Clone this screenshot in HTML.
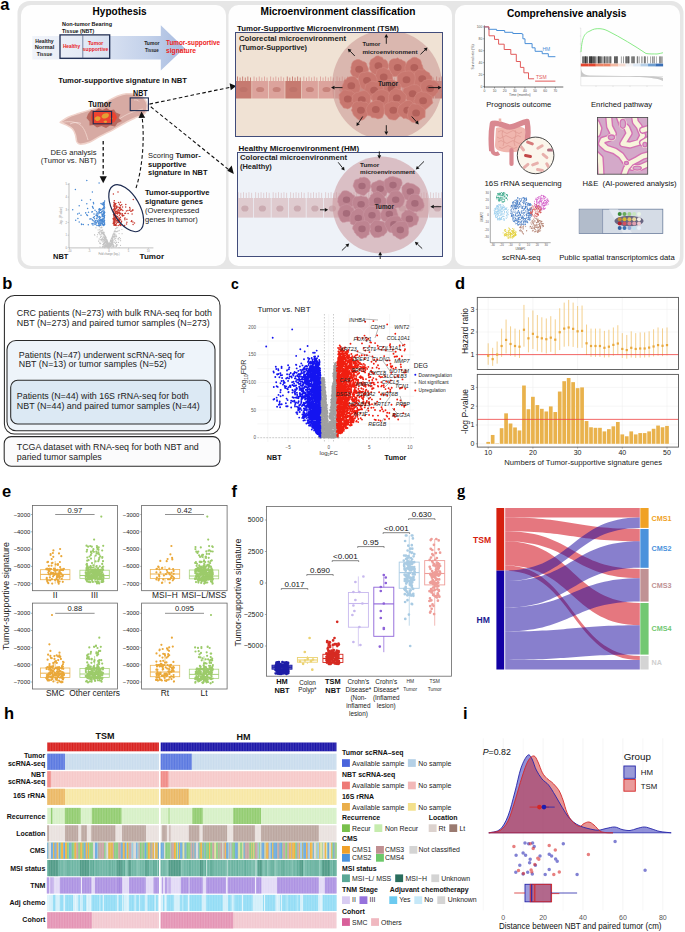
<!DOCTYPE html><html><head><meta charset="utf-8"><style>html,body{margin:0;padding:0;background:#fff;width:685px;height:932px;overflow:hidden}svg{display:block;font-family:"Liberation Sans",sans-serif}</style></head><body><svg width="685" height="932" viewBox="0 0 685 932"><rect x="0" y="0" width="685" height="932" fill="#ffffff"/>
<rect x="17.5" y="1" width="666" height="268" rx="12" fill="#e6e6e6"/>
<rect x="21" y="5" width="205" height="261" rx="10" fill="#fefefe"/>
<rect x="228.5" y="5" width="223.5" height="261" rx="10" fill="#fefefe"/>
<rect x="455" y="5" width="225" height="261" rx="10" fill="#fefefe"/>
<text x="0.30" y="9.90" font-size="16.5" font-weight="bold">a</text>
<text x="92.60" y="14.80" font-size="10" font-weight="bold" textLength="54.00" lengthAdjust="spacingAndGlyphs">Hypothesis</text>
<defs><linearGradient id="arrg" x1="32" y1="0" x2="186" y2="0" gradientUnits="userSpaceOnUse"><stop offset="0" stop-color="#f1f4fa"/><stop offset="0.35" stop-color="#e3e9f5"/><stop offset="0.75" stop-color="#c3d1ea"/><stop offset="1" stop-color="#a6badf"/></linearGradient></defs>
<path d="M32.3 36.1H160.8V25.3L184.5 48L160.8 70.6V59.5H32.3Z" fill="url(#arrg)"/>
<rect x="60" y="34.9" width="49.7" height="23.4" fill="none" stroke="#1c2a50" stroke-width="1.3"/>
<line x1="82.80" y1="34.90" x2="82.80" y2="58.30" stroke="#4a5a80" stroke-width="0.7"/>
<text x="62.00" y="25.90" font-size="6.2" font-weight="bold" fill="#111" textLength="50.00" lengthAdjust="spacingAndGlyphs">Non-tumor Bearing</text>
<text x="62.00" y="33.20" font-size="6.2" font-weight="bold" fill="#111" textLength="32.20" lengthAdjust="spacingAndGlyphs">Tissue (NBT)</text>
<text x="44.50" y="42.60" font-size="5.2" font-weight="bold" text-anchor="middle" fill="#222" textLength="18.40" lengthAdjust="spacingAndGlyphs">Healthy</text>
<text x="44.50" y="49.40" font-size="5.2" font-weight="bold" text-anchor="middle" fill="#222" textLength="19.60" lengthAdjust="spacingAndGlyphs">Normal</text>
<text x="44.50" y="56.40" font-size="5.2" font-weight="bold" text-anchor="middle" fill="#222" textLength="15.30" lengthAdjust="spacingAndGlyphs">Tissue</text>
<text x="71.50" y="48.30" font-size="5" font-weight="bold" text-anchor="middle" fill="#e8211f" textLength="17.20" lengthAdjust="spacingAndGlyphs">Healthy</text>
<text x="95.60" y="45.00" font-size="5" font-weight="bold" text-anchor="middle" fill="#e8211f" textLength="15.40" lengthAdjust="spacingAndGlyphs">Tumor</text>
<text x="95.60" y="51.00" font-size="5" font-weight="bold" text-anchor="middle" fill="#e8211f" textLength="25.50" lengthAdjust="spacingAndGlyphs">supportive</text>
<text x="151.80" y="45.00" font-size="5" font-weight="bold" text-anchor="middle" fill="#222" textLength="15.30" lengthAdjust="spacingAndGlyphs">Tumor</text>
<text x="151.80" y="52.00" font-size="5" font-weight="bold" text-anchor="middle" fill="#222" textLength="13.80" lengthAdjust="spacingAndGlyphs">Tissue</text>
<text x="166.00" y="44.90" font-size="7" font-weight="bold" fill="#ee2222" textLength="54.00" lengthAdjust="spacingAndGlyphs">Tumor-supportive</text>
<text x="166.00" y="52.60" font-size="7" font-weight="bold" fill="#ee2222" textLength="30.00" lengthAdjust="spacingAndGlyphs">signature</text>
<text x="58.30" y="82.80" font-size="7.8" font-weight="bold" fill="#111" textLength="128.70" lengthAdjust="spacingAndGlyphs">Tumor-supportive signature in NBT</text>
<path d="M60.1 122.3C61.4 121.5 65.0 118.7 68.1 117.2C71.1 115.7 74.8 114.7 78.4 113.5C82.1 112.3 86.6 111.0 90.0 109.9C93.4 108.8 95.6 108.6 98.8 107.0C102.0 105.4 105.8 102.2 109.0 100.4C112.2 98.6 114.9 97.1 117.8 96.0C120.7 94.9 123.3 94.0 126.5 93.8C129.7 93.6 133.9 93.9 136.8 94.6C139.7 95.3 142.3 96.4 144.0 98.2C145.7 100.0 147.1 103.0 147.2 105.5C147.3 108.0 146.5 111.5 144.8 113.5C143.1 115.5 140.1 115.6 136.8 117.2C133.5 118.8 128.9 120.9 125.0 123.0C121.1 125.1 117.5 127.4 113.4 129.6C109.3 131.8 104.2 134.1 100.3 136.2C96.4 138.3 93.3 140.7 90.0 142.0C86.7 143.3 82.7 144.2 80.5 144.2C78.3 144.2 77.8 143.6 76.9 142.0C76.1 140.4 76.1 136.9 75.4 134.7C74.7 132.5 74.0 130.5 72.5 128.9C71.0 127.3 68.8 126.3 66.7 125.2C64.6 124.1 61.2 122.8 60.1 122.3Z" fill="#d7aaa3" stroke="#f0d3cb" stroke-width="1.5" stroke-linejoin="round"/>
<path d="M62 122.5 C68 121 74 121.5 79 124 C84 127 86 133 88 140" stroke="#efd3cb" stroke-width="0.9" fill="none"/>
<path d="M118 120 C126 114 134 111 143 109" stroke="#efd3cb" stroke-width="0.8" fill="none"/>
<path d="M70 124 C74 122 78 122 81 123.5" stroke="#f8e6e2" stroke-width="0.6" fill="none"/>
<path d="M88 114 L91.5 110 L95 111 L98.5 108.2 L102.5 110 L106.5 108 L110 110.2 L114 109.5 L116 112.5 L120.5 114.5 L118.5 118 L122 121 L117.5 123 L115 126.5 L110 125.5 L106 128 L101.5 126 L97 127.5 L93.5 125 L89.5 125.5 L89.5 121.5 L86.5 118Z" fill="#b8695f"/>
<path d="M92 112.5 L97 110.5 L104 111.5 L110 110.5 L115 113 L117 117.5 L114.5 122 L108 124.5 L99 124.8 L92.5 123.5 L91 118Z" fill="#ee4330"/>
<path d="M94.5 119 C95 116 98.5 115.5 100 117 C101.5 118.5 99.5 121.5 96.5 121Z" fill="#e3a035"/><path d="M101.5 116.5 C102 113.5 106 112.5 108 113.5 C110 115 108.5 117.5 106 118.2 C104 119 102 118.5 101.5 116.5Z" fill="#e3a035"/><path d="M103.5 121.5 C105 120 107.5 120.5 107 122.3 C106 123.3 104 123.2 103.5 121.5Z" fill="#e3a035"/><path d="M110.5 118 C111.5 117 113 117.5 112.6 119 C112 120 110.8 119.8 110.5 118Z" fill="#e3a035"/>
<rect x="93.2" y="111.4" width="18.4" height="12.4" fill="none" stroke="#1c2a50" stroke-width="1.1"/>
<path d="M134 100 C136 99.5 138 100 139 101.5" stroke="#f6e2dc" stroke-width="0.6" fill="none"/>
<rect x="130.2" y="97.9" width="18.2" height="12.7" fill="none" stroke="#1c2a50" stroke-width="1.1"/>
<text x="99.75" y="106.70" font-size="8.5" font-weight="bold" text-anchor="middle" fill="#111" textLength="22.90" lengthAdjust="spacingAndGlyphs">Tumor</text>
<text x="140.40" y="96.20" font-size="8.5" font-weight="bold" text-anchor="middle" fill="#111" textLength="14.60" lengthAdjust="spacingAndGlyphs">NBT</text>
<line x1="103.20" y1="141.00" x2="103.20" y2="178.00" stroke="#111" stroke-width="1.3" stroke-dasharray="3.6 2.4"/>
<path d="M99.6 176.2 L103.2 183.3 L106.8 176.2Z" fill="#111"/>
<path d="M136 188 C 142 170 145 140 142 116" stroke="#111" stroke-width="1.1" fill="none" stroke-dasharray="3.6 2.4"/>
<path d="M138.5 118 L141.5 111.5 L145.2 117.7Z" fill="#111"/>
<path d="M149.4 104.1 L231.5 87" stroke="#111" stroke-width="1.1" fill="none" stroke-dasharray="3.6 2.4"/>
<path d="M150.8 106.8 L229.8 170.5" stroke="#111" stroke-width="1.1" fill="none" stroke-dasharray="3.6 2.4"/>
<path d="M236.2 86 L229.6 83.3 L230.8 90.2Z" fill="#111"/>
<path d="M233.8 174 L227.3 170.8 L231.7 165.4Z" fill="#111"/>
<text x="96.60" y="154.60" font-size="7.5" text-anchor="end" fill="#222" textLength="46.00" lengthAdjust="spacingAndGlyphs">DEG analysis</text>
<text x="96.60" y="163.20" font-size="7.5" text-anchor="end" fill="#222" textLength="55.80" lengthAdjust="spacingAndGlyphs">(Tumor vs. NBT)</text>
<text x="148" y="158.2" font-size="7.4" fill="#222" textLength="52.8" lengthAdjust="spacingAndGlyphs">Scoring <tspan font-weight="bold">Tumor-</tspan></text>
<text x="148.00" y="166.80" font-size="7.4" font-weight="bold" fill="#111" textLength="38.50" lengthAdjust="spacingAndGlyphs">supportive</text>
<text x="148.00" y="175.40" font-size="7.4" font-weight="bold" fill="#111" textLength="59.50" lengthAdjust="spacingAndGlyphs">signature in NBT</text>
<text x="145.00" y="195.00" font-size="7.3" font-weight="bold" fill="#111" textLength="64.50" lengthAdjust="spacingAndGlyphs">Tumor-supportive</text>
<text x="145.00" y="204.20" font-size="7.3" font-weight="bold" fill="#111" textLength="58.00" lengthAdjust="spacingAndGlyphs">signature genes</text>
<text x="145.00" y="213.40" font-size="7.5" fill="#222" textLength="54.30" lengthAdjust="spacingAndGlyphs">(Overexpressed</text>
<text x="145.00" y="222.00" font-size="7.5" fill="#222" textLength="52.70" lengthAdjust="spacingAndGlyphs">genes in tumor)</text>
<text x="53.10" y="259.40" font-size="8" font-weight="bold" fill="#111" textLength="15.30" lengthAdjust="spacingAndGlyphs">NBT</text>
<text x="139.60" y="259.40" font-size="8" font-weight="bold" fill="#111" textLength="24.50" lengthAdjust="spacingAndGlyphs">Tumor</text>
<line x1="69.00" y1="183.00" x2="69.00" y2="247.90" stroke="#999" stroke-width="0.6"/>
<line x1="69.00" y1="247.90" x2="153.40" y2="247.90" stroke="#999" stroke-width="0.6"/>
<line x1="67.50" y1="247.90" x2="69.00" y2="247.90" stroke="#999" stroke-width="0.4"/>
<text x="67.00" y="248.90" font-size="2.6" text-anchor="end" fill="#888">0</text>
<line x1="67.50" y1="235.20" x2="69.00" y2="235.20" stroke="#999" stroke-width="0.4"/>
<text x="67.00" y="236.20" font-size="2.6" text-anchor="end" fill="#888">1</text>
<line x1="67.50" y1="222.50" x2="69.00" y2="222.50" stroke="#999" stroke-width="0.4"/>
<text x="67.00" y="223.50" font-size="2.6" text-anchor="end" fill="#888">2</text>
<line x1="67.50" y1="209.80" x2="69.00" y2="209.80" stroke="#999" stroke-width="0.4"/>
<text x="67.00" y="210.80" font-size="2.6" text-anchor="end" fill="#888">3</text>
<line x1="67.50" y1="197.10" x2="69.00" y2="197.10" stroke="#999" stroke-width="0.4"/>
<text x="67.00" y="198.10" font-size="2.6" text-anchor="end" fill="#888">4</text>
<line x1="67.50" y1="184.40" x2="69.00" y2="184.40" stroke="#999" stroke-width="0.4"/>
<text x="67.00" y="185.40" font-size="2.6" text-anchor="end" fill="#888">5</text>
<line x1="69.50" y1="247.90" x2="69.50" y2="249.20" stroke="#999" stroke-width="0.4"/>
<text x="69.50" y="251.90" font-size="2.6" text-anchor="middle" fill="#888">-10</text>
<line x1="89.20" y1="247.90" x2="89.20" y2="249.20" stroke="#999" stroke-width="0.4"/>
<text x="89.20" y="251.90" font-size="2.6" text-anchor="middle" fill="#888">-5</text>
<line x1="108.90" y1="247.90" x2="108.90" y2="249.20" stroke="#999" stroke-width="0.4"/>
<text x="108.90" y="251.90" font-size="2.6" text-anchor="middle" fill="#888">0</text>
<line x1="128.60" y1="247.90" x2="128.60" y2="249.20" stroke="#999" stroke-width="0.4"/>
<text x="128.60" y="251.90" font-size="2.6" text-anchor="middle" fill="#888">5</text>
<line x1="148.30" y1="247.90" x2="148.30" y2="249.20" stroke="#999" stroke-width="0.4"/>
<text x="148.30" y="251.90" font-size="2.6" text-anchor="middle" fill="#888">10</text>
<text x="109.00" y="255.40" font-size="2.6" text-anchor="middle" fill="#888">Fold change (log₂)</text>
<text x="0" y="0" font-size="2.6" text-anchor="middle" transform="translate(62.00,216.00) rotate(-90)" fill="#888">-log₁₀ (P-value)</text>
<path d="M108.9 244.4h0M107.5 245.7h0M106.6 239.4h0M109.2 244.0h0M106.4 242.5h0M111.4 244.3h0M109.4 245.2h0M108.8 245.3h0M102.0 230.9h0M99.2 226.5h0M99.5 242.9h0M102.4 246.3h0M109.7 244.5h0M96.0 227.8h0M108.7 245.3h0M101.1 240.8h0M109.7 246.4h0M104.8 244.1h0M104.8 247.7h0M113.4 244.6h0M108.3 243.2h0M109.2 243.9h0M109.3 244.2h0M101.0 234.7h0M109.5 243.2h0M119.1 233.6h0M102.8 239.2h0M111.9 245.5h0M112.4 242.3h0M112.3 240.0h0M105.4 239.4h0M106.5 245.8h0M102.8 242.0h0M107.9 246.9h0M114.8 242.6h0M104.8 242.7h0M98.7 232.4h0M108.4 243.5h0M112.4 236.5h0M107.0 246.1h0M116.7 227.6h0M107.3 246.0h0M108.3 244.2h0M103.2 239.8h0M106.6 244.9h0M112.2 237.2h0M112.3 240.4h0M114.3 234.5h0M111.9 242.9h0M110.7 246.4h0M98.5 232.5h0M104.3 239.0h0M120.4 238.7h0M105.7 239.4h0M111.4 242.0h0M107.8 242.0h0M111.6 238.2h0M108.5 244.1h0M103.5 244.5h0M104.5 235.6h0M109.9 243.6h0M105.9 241.4h0M98.7 241.3h0M110.8 244.2h0M113.2 241.8h0M112.8 239.5h0M112.9 243.2h0M101.0 236.6h0M116.3 235.2h0M107.5 241.3h0M103.9 237.6h0M106.1 238.4h0M104.8 235.1h0M102.4 237.9h0M108.1 242.4h0M109.0 244.6h0M107.2 241.9h0M108.9 246.3h0M107.4 245.8h0M104.8 243.9h0M105.5 237.4h0M110.6 243.5h0M101.5 232.4h0M105.7 236.6h0M112.7 239.0h0M109.3 246.7h0M111.2 243.3h0M108.2 243.2h0M102.7 244.6h0M106.3 239.4h0M108.7 245.4h0M106.3 247.0h0M107.4 247.6h0M109.0 246.6h0M112.4 240.1h0M106.0 240.8h0M113.8 236.5h0M108.2 245.7h0M112.9 239.7h0M113.6 237.0h0M116.7 242.2h0M113.3 246.8h0M113.4 233.7h0M116.5 245.9h0M100.3 239.3h0M103.7 236.6h0M113.2 242.3h0M98.1 229.9h0M109.1 244.4h0M109.1 246.7h0M101.1 232.8h0M103.9 245.5h0M111.5 240.9h0M111.0 240.5h0M105.5 238.7h0M104.4 234.4h0M104.9 247.2h0M110.6 245.6h0M101.8 227.8h0M108.4 246.3h0M101.5 232.5h0M112.7 241.9h0M109.3 244.4h0M114.8 239.6h0M97.6 234.7h0M98.8 240.8h0M105.4 241.3h0M115.7 231.7h0M102.9 240.9h0M114.7 233.6h0M109.1 247.0h0M109.1 247.3h0M111.7 244.2h0M103.6 233.5h0M105.4 244.7h0M102.4 230.2h0M108.9 244.9h0M117.7 231.2h0M106.5 239.7h0M110.8 244.1h0M110.2 243.8h0M109.3 246.6h0M107.5 243.6h0M115.0 230.9h0M108.9 246.9h0M106.1 240.4h0M99.6 226.4h0M113.8 234.2h0M112.3 242.1h0M110.0 246.2h0M107.9 242.8h0M116.6 236.6h0M108.6 245.6h0M105.6 237.7h0M111.5 243.2h0M107.1 241.7h0M108.6 243.9h0M106.9 243.8h0M107.8 242.6h0M100.7 243.2h0M104.5 235.6h0M105.0 245.4h0M101.9 227.3h0M107.3 243.0h0M109.9 243.0h0M103.8 232.9h0M119.2 230.4h0M107.9 244.4h0M110.5 244.8h0M103.2 234.4h0M104.3 246.4h0M116.7 228.3h0M111.7 244.4h0M107.9 246.0h0M102.0 236.0h0M116.5 242.5h0M104.1 239.2h0M106.3 240.6h0M107.8 244.1h0M110.4 243.5h0M108.7 245.3h0M108.5 243.9h0M118.5 242.4h0M109.2 247.1h0M110.9 239.7h0M101.7 227.2h0M112.5 240.6h0M100.1 227.8h0M105.4 243.0h0M120.5 245.4h0M104.9 240.6h0M108.6 244.3h0M103.0 233.4h0M103.0 232.0h0M114.3 234.6h0M106.5 245.6h0M108.2 246.6h0M107.2 242.6h0M101.5 227.4h0M107.9 244.3h0M114.0 232.1h0M104.9 236.5h0M110.9 240.6h0M114.2 236.3h0M102.7 238.2h0M113.0 237.6h0M99.2 238.9h0M112.0 244.7h0M106.9 241.0h0M103.1 234.1h0M108.0 242.1h0M105.6 242.1h0M100.3 235.0h0M113.9 245.7h0M114.4 237.2h0M103.6 246.6h0M106.5 241.3h0M106.2 246.6h0M107.3 245.6h0M102.3 230.1h0M113.4 240.1h0M108.9 245.0h0M103.9 234.5h0M106.2 240.9h0M104.9 238.0h0M107.7 244.7h0M111.9 242.6h0M112.0 242.7h0M103.3 234.1h0M109.2 246.0h0M104.3 241.0h0M100.1 230.1h0M103.4 234.8h0M108.6 243.9h0M101.1 234.4h0M105.1 238.4h0M110.8 243.6h0M105.2 243.1h0M105.0 241.2h0M103.9 239.6h0M99.5 233.9h0M107.3 240.8h0M108.7 246.4h0M109.2 245.4h0M103.6 245.8h0M103.7 243.4h0M112.7 236.7h0M104.0 239.3h0M107.1 243.5h0M94.5 234.6h0M103.4 241.1h0M103.4 234.0h0M101.2 231.1h0M116.0 236.9h0M106.8 241.4h0M99.2 232.7h0M108.7 245.0h0M108.4 245.2h0M108.6 244.7h0M115.5 228.7h0M108.2 245.8h0M108.6 247.4h0M105.1 237.3h0M103.6 243.4h0M108.4 245.8h0M108.0 244.5h0M104.0 236.8h0M106.1 239.3h0M108.9 246.3h0M109.2 245.5h0M105.7 245.5h0M98.3 232.8h0M109.7 246.7h0M106.7 244.6h0M103.9 247.0h0M106.1 245.4h0M102.7 247.2h0M109.6 245.9h0M106.7 245.5h0M100.4 237.4h0M110.1 242.1h0M110.9 239.9h0M107.6 242.8h0M111.1 241.3h0M101.1 230.3h0M114.9 230.3h0M110.1 246.7h0M113.7 246.9h0M95.9 227.8h0M101.3 233.3h0M105.6 239.3h0M107.0 239.8h0M117.9 238.9h0M108.4 247.7h0M102.4 233.4h0M111.1 239.9h0M109.5 245.7h0M104.9 245.2h0M112.6 242.9h0M114.4 231.8h0M107.3 240.9h0M103.8 233.6h0M111.9 247.8h0M110.5 245.4h0M107.0 240.9h0M104.5 243.7h0M107.2 240.3h0M110.9 241.5h0M108.8 244.5h0M94.8 235.2h0M111.7 241.4h0M117.6 244.9h0M110.5 241.7h0M112.9 242.6h0M108.7 245.6h0M118.9 239.8h0M108.7 244.8h0M115.8 238.5h0M116.4 231.7h0M107.9 247.6h0M112.9 237.6h0M101.2 231.1h0M110.6 243.5h0M101.1 236.5h0M111.4 244.1h0M106.5 245.0h0M107.7 246.2h0M104.2 239.7h0M109.9 242.9h0M112.4 243.6h0M104.2 239.1h0M107.1 246.4h0M110.0 244.3h0M105.7 246.6h0M115.1 231.1h0M119.1 247.6h0M110.0 245.0h0M108.3 247.2h0M109.5 243.4h0M104.7 240.4h0M101.5 239.2h0M105.0 241.7h0M110.0 247.0h0M107.2 240.2h0M104.3 237.4h0M103.7 237.4h0M108.8 245.2h0M107.1 242.8h0M112.5 239.8h0M103.6 243.9h0M121.9 229.5h0M108.3 244.7h0M119.4 237.5h0M107.0 244.1h0M111.4 240.5h0M106.3 246.2h0M117.7 227.6h0M112.4 243.9h0M105.2 236.7h0M107.9 247.4h0M112.4 244.6h0M100.2 227.7h0M105.1 244.7h0M105.8 241.2h0M97.1 236.8h0M110.2 244.9h0M119.0 230.7h0M99.7 229.7h0M102.7 232.5h0M109.3 243.6h0M110.7 243.6h0M110.4 243.5h0M107.3 246.3h0M106.1 246.9h0M100.3 243.7h0M118.4 238.4h0M115.7 240.6h0M105.4 242.9h0M108.6 246.4h0M107.4 242.0h0M106.7 239.5h0M103.3 241.1h0M120.6 240.7h0M107.7 244.4h0M112.5 236.0h0M107.8 243.0h0M110.3 246.5h0M116.9 231.7h0M109.3 243.4h0M116.5 244.7h0M105.5 236.4h0M112.3 236.7h0M116.0 245.5h0M112.7 240.9h0M105.5 238.5h0M104.2 232.7h0M107.0 240.8h0M105.6 238.2h0M110.5 240.3h0M107.9 244.6h0M105.0 235.3h0M102.7 229.9h0M105.6 242.5h0M108.6 245.5h0M112.5 242.1h0M110.7 246.2h0M112.1 238.6h0M115.2 234.0h0M110.9 245.2h0M101.4 240.1h0M107.6 242.3h0M101.9 239.5h0M109.4 246.6h0M100.1 231.7h0M108.4 246.0h0M109.4 247.6h0M111.7 241.0h0M108.7 246.1h0M122.1 233.7h0M106.5 240.7h0M112.9 234.7h0M106.4 244.6h0M103.9 232.1h0M106.5 241.4h0M101.5 227.2h0M109.7 244.5h0M99.8 231.6h0M113.0 242.3h0M108.5 247.6h0M112.1 246.4h0M102.9 240.3h0M116.3 246.6h0M114.8 238.6h0M113.7 236.2h0M108.1 246.0h0M112.8 235.7h0M108.5 247.2h0M115.1 246.8h0M100.0 246.8h0M109.0 245.1h0M115.6 243.4h0M113.1 242.1h0M113.3 245.8h0M112.9 238.1h0M109.7 244.0h0M104.2 242.7h0M111.3 238.8h0M106.7 241.4h0M107.5 247.6h0M108.2 247.3h0M108.8 244.9h0M103.9 234.9h0M112.3 244.9h0M109.8 242.6h0M114.7 242.1h0M119.3 237.5h0M112.7 240.4h0M109.4 245.3h0M102.1 232.5h0M108.6 244.0h0M109.9 245.5h0M110.3 241.0h0M109.1 247.2h0M106.2 237.7h0M113.5 246.4h0M109.7 244.6h0M114.2 231.9h0M105.3 245.5h0M110.5 244.2h0M115.0 235.2h0M115.0 236.0h0M103.3 233.1h0M108.4 244.1h0M107.1 243.4h0M115.0 236.6h0M111.0 243.4h0M105.6 246.7h0M108.7 247.7h0M106.4 243.3h0M109.1 246.3h0" stroke="#c4c4c4" stroke-width="1.20" stroke-linecap="round" fill="none"/>
<path d="M103.0 204.1h0M96.8 215.7h0M98.9 211.2h0M99.5 216.9h0M100.4 220.9h0M104.0 207.3h0M100.7 223.1h0M102.0 214.4h0M102.3 223.6h0M99.9 223.7h0M102.3 221.9h0M102.9 221.7h0M100.6 217.2h0M93.0 223.5h0M100.4 210.2h0M104.6 201.1h0M103.5 225.4h0M104.4 217.6h0M103.9 206.1h0M104.3 213.7h0M99.9 219.2h0M103.9 206.9h0M102.0 211.8h0M98.5 223.4h0M104.3 202.9h0M104.1 202.2h0M103.7 202.5h0M102.9 214.2h0M104.7 212.6h0M92.3 219.8h0M97.0 218.2h0M102.6 208.9h0M102.5 223.6h0M103.5 216.0h0M103.4 208.3h0M104.4 223.7h0M101.2 209.4h0M103.2 220.8h0M104.2 204.5h0M97.7 212.9h0M101.7 211.8h0M104.0 207.2h0M103.1 218.6h0M97.1 221.9h0M97.6 215.3h0M93.0 224.9h0M97.6 216.8h0M100.7 224.9h0M101.8 223.5h0M88.3 224.8h0M102.2 204.3h0M103.1 216.7h0M100.0 210.2h0M101.8 220.1h0M104.6 224.5h0M102.8 208.4h0M102.1 220.1h0M102.3 211.1h0M99.6 208.8h0M97.0 216.0h0M102.4 214.3h0M103.2 205.1h0M104.6 223.0h0M98.0 214.0h0M100.6 225.0h0M93.2 220.7h0M104.4 220.7h0M104.4 224.8h0M103.5 213.3h0M96.9 220.2h0M99.5 225.5h0M102.9 216.2h0M95.3 220.6h0M97.6 221.3h0M103.0 222.6h0M103.1 208.3h0M104.2 218.7h0M98.9 209.4h0M99.0 212.8h0M83.3 224.4h0M102.3 221.5h0M100.8 212.7h0M99.9 212.6h0M94.8 224.1h0M104.4 216.9h0M99.8 209.6h0M102.4 221.2h0M102.0 216.0h0M103.8 210.8h0M99.0 216.9h0M99.7 218.4h0M101.2 212.9h0M104.4 211.7h0M102.5 216.5h0M99.3 222.2h0M96.0 215.2h0M98.5 222.1h0M104.3 220.5h0M104.2 208.5h0M104.5 220.2h0M98.4 225.4h0M102.8 221.1h0M100.9 222.4h0M99.9 224.3h0M104.6 207.7h0M99.1 209.1h0M104.1 218.9h0M101.4 220.4h0M99.3 212.0h0M94.4 222.0h0M102.4 224.2h0M103.9 203.9h0M96.2 223.8h0M102.8 219.4h0M104.3 204.9h0M101.2 222.9h0M95.3 221.9h0M99.3 216.4h0M101.0 220.1h0M104.6 215.6h0M103.9 210.9h0M103.7 208.1h0M98.6 220.0h0M95.0 221.7h0M94.4 218.8h0M101.6 220.2h0M101.2 219.5h0M103.5 212.1h0M96.0 222.5h0M104.0 225.2h0M99.1 217.5h0M101.0 203.5h0M98.7 224.1h0M103.8 208.7h0M99.2 217.3h0M94.0 213.9h0M95.0 224.5h0M104.2 221.5h0M99.1 211.4h0M103.8 214.4h0M101.4 220.9h0M96.9 225.4h0M99.9 208.9h0M81.5 224.1h0M102.2 219.3h0M94.9 224.1h0M103.0 203.0h0M104.3 221.7h0M101.9 219.7h0M104.1 209.1h0M94.4 216.8h0M96.4 214.0h0M102.2 221.8h0M104.1 215.3h0M102.3 220.0h0M104.3 206.6h0M96.5 211.8h0M99.4 212.9h0M103.8 221.7h0M102.4 215.1h0M102.8 214.2h0M99.6 220.8h0M103.5 219.0h0M102.7 222.3h0M103.7 224.6h0M103.7 216.4h0M100.5 220.4h0M100.8 225.2h0M103.9 205.4h0M102.5 224.8h0M75.7 220.3h0M87.5 215.5h0M93.3 208.2h0M79.2 205.7h0M81.6 224.6h0M91.8 212.0h0M81.0 215.2h0M86.8 203.7h0M96.5 218.2h0M90.5 199.8h0M91.9 223.8h0M87.6 208.5h0M93.6 203.7h0M92.6 207.2h0M93.4 202.6h0M92.5 206.5h0M77.9 218.6h0M95.0 210.2h0M85.7 212.9h0M79.2 213.3h0M85.7 212.7h0M86.7 214.7h0M93.4 217.5h0M91.0 218.7h0M79.2 222.1h0M92.4 211.7h0M89.9 218.9h0M88.5 212.3h0M81.7 200.3h0M77.6 214.1h0M72.7 209.8h0M75.4 189.5h0M86.8 180.6h0M99.1 183.1h0M92.4 192.0h0" stroke="#4a8ad4" stroke-width="1.50" stroke-linecap="round" fill="none"/>
<path d="M113.9 219.7h0M114.6 208.3h0M116.7 216.3h0M120.7 224.3h0M115.9 203.4h0M113.5 214.5h0M113.1 218.5h0M116.0 224.4h0M118.8 210.3h0M118.5 202.4h0M114.0 204.3h0M120.4 217.5h0M120.3 207.2h0M114.0 218.9h0M119.3 207.5h0M114.3 223.7h0M113.6 211.8h0M114.1 217.8h0M114.8 203.6h0M120.2 217.2h0M118.9 220.3h0M113.9 209.7h0M119.6 213.6h0M114.8 220.9h0M113.6 206.1h0M113.3 218.7h0M116.3 218.2h0M114.2 206.5h0M124.9 219.7h0M116.8 216.2h0M120.1 225.2h0M116.2 206.4h0M114.8 208.5h0M117.6 212.4h0M113.6 217.9h0M119.7 224.2h0M113.7 218.5h0M115.7 211.5h0M117.3 220.6h0M119.4 208.2h0M119.4 204.2h0M114.9 204.4h0M126.9 222.3h0M116.8 211.3h0M117.7 216.8h0M115.1 205.1h0M114.7 204.5h0M119.5 220.2h0M115.1 204.8h0M120.0 219.7h0M116.7 205.9h0M114.4 217.5h0M121.2 209.7h0M116.7 207.9h0M121.6 221.2h0M118.1 221.8h0M115.5 216.7h0M114.9 204.6h0M114.9 208.2h0M117.4 213.9h0M114.7 206.0h0M113.8 220.0h0M116.8 213.0h0M116.6 220.9h0M113.7 219.8h0M114.2 212.9h0M113.3 218.7h0M119.0 213.2h0M118.6 219.6h0M123.8 215.4h0M118.1 212.1h0M114.5 214.3h0M116.1 225.5h0M114.3 221.6h0M114.8 225.1h0M118.5 220.4h0M114.1 204.6h0M118.2 225.5h0M121.1 222.4h0M113.8 223.2h0M120.7 213.2h0M117.0 211.3h0M113.6 219.9h0M113.1 209.8h0M126.5 224.0h0M113.8 225.0h0M114.7 207.0h0M117.4 213.2h0M124.6 225.5h0M114.9 209.3h0M115.7 212.3h0M115.9 211.7h0M114.3 200.7h0M113.5 211.9h0M113.6 214.8h0M115.0 225.2h0M114.4 204.7h0M114.2 213.8h0M125.0 218.0h0M122.7 215.3h0M115.0 209.7h0M120.5 219.8h0M115.5 203.7h0M118.3 212.5h0M116.4 213.3h0M114.7 220.3h0M115.8 216.0h0M114.5 206.3h0M117.9 219.2h0M113.9 202.5h0M113.9 212.8h0M120.2 208.7h0M117.5 222.2h0M118.8 222.6h0M120.9 225.5h0M113.2 218.5h0M113.4 222.0h0M114.2 215.0h0M115.7 224.6h0M113.9 220.4h0M114.9 219.3h0M118.2 221.6h0M116.0 208.7h0M114.1 211.3h0M113.4 194.1h0M113.8 220.2h0M115.0 218.3h0M113.2 223.5h0M116.1 217.4h0M118.1 217.8h0M119.3 207.6h0M114.1 208.3h0M119.3 215.3h0M115.3 214.7h0M124.8 218.2h0M120.5 214.0h0M114.7 207.2h0M121.7 209.3h0M122.5 216.1h0M114.1 224.9h0M113.3 219.7h0M117.9 206.9h0M116.5 207.6h0M114.9 222.3h0M119.5 218.6h0M115.3 221.9h0M117.9 209.9h0M114.7 222.8h0M118.4 209.7h0M119.4 212.1h0M120.1 210.3h0M114.1 216.7h0M114.5 225.2h0M116.0 219.9h0M116.5 223.2h0M114.5 224.2h0M115.7 219.5h0M115.3 205.0h0M114.3 221.6h0M115.0 215.3h0M114.8 218.9h0M115.3 215.1h0M116.9 213.6h0M114.9 210.3h0M133.1 224.6h0M114.4 202.9h0M117.6 219.5h0M113.7 215.7h0M121.0 222.5h0M115.1 213.5h0M131.3 221.6h0M126.4 210.9h0M121.9 215.1h0M128.1 213.4h0M132.9 210.2h0M121.7 204.8h0M127.9 210.6h0M122.3 213.7h0M130.1 208.9h0M131.7 220.8h0M132.1 214.1h0M129.7 207.6h0M125.8 204.5h0M132.8 209.7h0M125.5 213.2h0M122.5 206.9h0M132.9 222.0h0M130.8 211.2h0M120.5 202.2h0M126.9 219.2h0M120.4 205.5h0M124.9 213.4h0M122.8 210.6h0M125.7 207.0h0M129.6 210.3h0M118.0 192.0h0M133.3 199.6h0M131.8 211.1h0M134.5 223.1h0" stroke="#c8382e" stroke-width="1.50" stroke-linecap="round" fill="none"/>
<ellipse cx="126.2" cy="208.2" rx="13.4" ry="26" transform="rotate(-30 126.2 208.2)" fill="none" stroke="#1c2a50" stroke-width="1.2"/>
<text x="260.50" y="15.00" font-size="10" font-weight="bold" textLength="155.00" lengthAdjust="spacingAndGlyphs">Microenvironment classification</text>
<text x="237.00" y="30.60" font-size="7.2" font-weight="bold" fill="#111" textLength="162.00" lengthAdjust="spacingAndGlyphs">Tumor-Supportive Microenvironment (TSM)</text>
<clipPath id="tsmclip"><rect x="235.5" y="32.5" width="207" height="104"/></clipPath>
<rect x="235.50" y="32.50" width="207.00" height="104.00" fill="#f0e2d4"/>
<g clip-path="url(#tsmclip)">
<rect x="235.50" y="81.00" width="16.00" height="17.50" fill="#c67a70"/>
<ellipse cx="243.5" cy="89.5" rx="4" ry="2.6" fill="#b96e66" opacity="0.6"/>
<rect x="237.00" y="76.50" width="0.90" height="4.50" fill="#c67a70"/>
<rect x="239.60" y="77.50" width="0.90" height="4.50" fill="#c67a70"/>
<rect x="242.20" y="76.50" width="0.90" height="4.50" fill="#c67a70"/>
<rect x="244.80" y="77.50" width="0.90" height="4.50" fill="#c67a70"/>
<rect x="247.40" y="76.50" width="0.90" height="4.50" fill="#c67a70"/>
<rect x="250.00" y="77.50" width="0.90" height="4.50" fill="#c67a70"/>
<rect x="252.10" y="81.00" width="16.00" height="17.50" fill="#dca39c"/>
<ellipse cx="260.1" cy="89.5" rx="4" ry="2.6" fill="#b96e66" opacity="0.6"/>
<rect x="253.60" y="76.50" width="0.90" height="4.50" fill="#dca39c"/>
<rect x="256.20" y="77.50" width="0.90" height="4.50" fill="#dca39c"/>
<rect x="258.80" y="76.50" width="0.90" height="4.50" fill="#dca39c"/>
<rect x="261.40" y="77.50" width="0.90" height="4.50" fill="#dca39c"/>
<rect x="264.00" y="76.50" width="0.90" height="4.50" fill="#dca39c"/>
<rect x="266.60" y="77.50" width="0.90" height="4.50" fill="#dca39c"/>
<rect x="268.70" y="81.00" width="16.00" height="17.50" fill="#dca39c"/>
<ellipse cx="276.7" cy="89.5" rx="4" ry="2.6" fill="#b96e66" opacity="0.6"/>
<rect x="270.20" y="76.50" width="0.90" height="4.50" fill="#dca39c"/>
<rect x="272.80" y="77.50" width="0.90" height="4.50" fill="#dca39c"/>
<rect x="275.40" y="76.50" width="0.90" height="4.50" fill="#dca39c"/>
<rect x="278.00" y="77.50" width="0.90" height="4.50" fill="#dca39c"/>
<rect x="280.60" y="76.50" width="0.90" height="4.50" fill="#dca39c"/>
<rect x="283.20" y="77.50" width="0.90" height="4.50" fill="#dca39c"/>
<rect x="285.30" y="81.00" width="16.00" height="17.50" fill="#c67a70"/>
<ellipse cx="293.3" cy="89.5" rx="4" ry="2.6" fill="#b96e66" opacity="0.6"/>
<rect x="286.80" y="76.50" width="0.90" height="4.50" fill="#c67a70"/>
<rect x="289.40" y="77.50" width="0.90" height="4.50" fill="#c67a70"/>
<rect x="292.00" y="76.50" width="0.90" height="4.50" fill="#c67a70"/>
<rect x="294.60" y="77.50" width="0.90" height="4.50" fill="#c67a70"/>
<rect x="297.20" y="76.50" width="0.90" height="4.50" fill="#c67a70"/>
<rect x="299.80" y="77.50" width="0.90" height="4.50" fill="#c67a70"/>
<rect x="301.90" y="81.00" width="16.00" height="17.50" fill="#dca39c"/>
<ellipse cx="309.9" cy="89.5" rx="4" ry="2.6" fill="#b96e66" opacity="0.6"/>
<rect x="303.40" y="76.50" width="0.90" height="4.50" fill="#dca39c"/>
<rect x="306.00" y="77.50" width="0.90" height="4.50" fill="#dca39c"/>
<rect x="308.60" y="76.50" width="0.90" height="4.50" fill="#dca39c"/>
<rect x="311.20" y="77.50" width="0.90" height="4.50" fill="#dca39c"/>
<rect x="313.80" y="76.50" width="0.90" height="4.50" fill="#dca39c"/>
<rect x="316.40" y="77.50" width="0.90" height="4.50" fill="#dca39c"/>
<rect x="318.50" y="81.00" width="16.00" height="17.50" fill="#dca39c"/>
<ellipse cx="326.5" cy="89.5" rx="4" ry="2.6" fill="#b96e66" opacity="0.6"/>
<rect x="320.00" y="76.50" width="0.90" height="4.50" fill="#dca39c"/>
<rect x="322.60" y="77.50" width="0.90" height="4.50" fill="#dca39c"/>
<rect x="325.20" y="76.50" width="0.90" height="4.50" fill="#dca39c"/>
<rect x="327.80" y="77.50" width="0.90" height="4.50" fill="#dca39c"/>
<rect x="330.40" y="76.50" width="0.90" height="4.50" fill="#dca39c"/>
<rect x="333.00" y="77.50" width="0.90" height="4.50" fill="#dca39c"/>
<rect x="335.10" y="81.00" width="16.00" height="17.50" fill="#dca39c"/>
<ellipse cx="343.1" cy="89.5" rx="4" ry="2.6" fill="#b96e66" opacity="0.6"/>
<rect x="336.60" y="76.50" width="0.90" height="4.50" fill="#dca39c"/>
<rect x="339.20" y="77.50" width="0.90" height="4.50" fill="#dca39c"/>
<rect x="341.80" y="76.50" width="0.90" height="4.50" fill="#dca39c"/>
<rect x="344.40" y="77.50" width="0.90" height="4.50" fill="#dca39c"/>
<rect x="347.00" y="76.50" width="0.90" height="4.50" fill="#dca39c"/>
<rect x="349.60" y="77.50" width="0.90" height="4.50" fill="#dca39c"/>
<rect x="351.70" y="81.00" width="16.00" height="17.50" fill="#d49690"/>
<ellipse cx="359.7" cy="89.5" rx="4" ry="2.6" fill="#b96e66" opacity="0.6"/>
<rect x="353.20" y="76.50" width="0.90" height="4.50" fill="#d49690"/>
<rect x="355.80" y="77.50" width="0.90" height="4.50" fill="#d49690"/>
<rect x="358.40" y="76.50" width="0.90" height="4.50" fill="#d49690"/>
<rect x="361.00" y="77.50" width="0.90" height="4.50" fill="#d49690"/>
<rect x="363.60" y="76.50" width="0.90" height="4.50" fill="#d49690"/>
<rect x="366.20" y="77.50" width="0.90" height="4.50" fill="#d49690"/>
<rect x="368.30" y="81.00" width="16.00" height="17.50" fill="#c67a70"/>
<ellipse cx="376.3" cy="89.5" rx="4" ry="2.6" fill="#b96e66" opacity="0.6"/>
<rect x="369.80" y="76.50" width="0.90" height="4.50" fill="#c67a70"/>
<rect x="372.40" y="77.50" width="0.90" height="4.50" fill="#c67a70"/>
<rect x="375.00" y="76.50" width="0.90" height="4.50" fill="#c67a70"/>
<rect x="377.60" y="77.50" width="0.90" height="4.50" fill="#c67a70"/>
<rect x="380.20" y="76.50" width="0.90" height="4.50" fill="#c67a70"/>
<rect x="382.80" y="77.50" width="0.90" height="4.50" fill="#c67a70"/>
<rect x="384.90" y="81.00" width="16.00" height="17.50" fill="#dca39c"/>
<ellipse cx="392.9" cy="89.5" rx="4" ry="2.6" fill="#b96e66" opacity="0.6"/>
<rect x="386.40" y="76.50" width="0.90" height="4.50" fill="#dca39c"/>
<rect x="389.00" y="77.50" width="0.90" height="4.50" fill="#dca39c"/>
<rect x="391.60" y="76.50" width="0.90" height="4.50" fill="#dca39c"/>
<rect x="394.20" y="77.50" width="0.90" height="4.50" fill="#dca39c"/>
<rect x="396.80" y="76.50" width="0.90" height="4.50" fill="#dca39c"/>
<rect x="399.40" y="77.50" width="0.90" height="4.50" fill="#dca39c"/>
<rect x="401.50" y="81.00" width="16.00" height="17.50" fill="#d49690"/>
<ellipse cx="409.5" cy="89.5" rx="4" ry="2.6" fill="#b96e66" opacity="0.6"/>
<rect x="403.00" y="76.50" width="0.90" height="4.50" fill="#d49690"/>
<rect x="405.60" y="77.50" width="0.90" height="4.50" fill="#d49690"/>
<rect x="408.20" y="76.50" width="0.90" height="4.50" fill="#d49690"/>
<rect x="410.80" y="77.50" width="0.90" height="4.50" fill="#d49690"/>
<rect x="413.40" y="76.50" width="0.90" height="4.50" fill="#d49690"/>
<rect x="416.00" y="77.50" width="0.90" height="4.50" fill="#d49690"/>
<rect x="418.10" y="81.00" width="16.00" height="17.50" fill="#c67a70"/>
<ellipse cx="426.1" cy="89.5" rx="4" ry="2.6" fill="#b96e66" opacity="0.6"/>
<rect x="419.60" y="76.50" width="0.90" height="4.50" fill="#c67a70"/>
<rect x="422.20" y="77.50" width="0.90" height="4.50" fill="#c67a70"/>
<rect x="424.80" y="76.50" width="0.90" height="4.50" fill="#c67a70"/>
<rect x="427.40" y="77.50" width="0.90" height="4.50" fill="#c67a70"/>
<rect x="430.00" y="76.50" width="0.90" height="4.50" fill="#c67a70"/>
<rect x="432.60" y="77.50" width="0.90" height="4.50" fill="#c67a70"/>
<rect x="434.70" y="81.00" width="16.00" height="17.50" fill="#c67a70"/>
<ellipse cx="442.7" cy="89.5" rx="4" ry="2.6" fill="#b96e66" opacity="0.6"/>
<rect x="436.20" y="76.50" width="0.90" height="4.50" fill="#c67a70"/>
<rect x="438.80" y="77.50" width="0.90" height="4.50" fill="#c67a70"/>
<rect x="441.40" y="76.50" width="0.90" height="4.50" fill="#c67a70"/>
<rect x="444.00" y="77.50" width="0.90" height="4.50" fill="#c67a70"/>
<rect x="446.60" y="76.50" width="0.90" height="4.50" fill="#c67a70"/>
<rect x="449.20" y="77.50" width="0.90" height="4.50" fill="#c67a70"/>
<circle cx="387" cy="85" r="55" fill="#c8948f" fill-opacity="0.55"/>
<polygon points="368.6,69.2 368.2,71.2 368.3,73.6 366.9,75.3 364.9,76.3 363.2,77.5 361.2,77.9 359.2,78.3 357.2,78.2 355.1,77.7 353.1,76.8 351.9,75.0 350.9,73.2 350.4,71.2 351.1,69.2 350.9,67.3 351.5,65.5 351.9,63.4 353.0,61.4 354.9,60.3 357.0,59.5 359.2,59.6 361.2,60.6 362.9,61.4 364.9,62.1 366.5,63.4 367.0,65.5 367.8,67.2" fill="#c8776f" stroke="#d48a82" stroke-width="0.6"/>
<ellipse cx="359.2" cy="69.2" rx="3.9" ry="3.5" fill="#b2605a"/>
<polygon points="388.7,65.7 388.3,68.0 387.0,69.8 385.8,71.6 383.9,72.6 382.4,74.0 380.3,73.9 378.4,74.7 376.2,75.1 374.3,74.1 372.2,73.5 371.2,71.4 369.9,69.8 369.4,67.8 369.8,65.7 369.3,63.6 370.1,61.7 370.8,59.7 372.8,58.6 374.4,57.4 376.2,56.1 378.4,55.8 380.4,56.8 382.4,57.4 383.5,59.4 385.7,59.8 387.2,61.5 387.9,63.5" fill="#c8776f" stroke="#d48a82" stroke-width="0.6"/>
<ellipse cx="378.4" cy="65.7" rx="3.9" ry="3.5" fill="#b2605a"/>
<polygon points="407.3,67.4 407.2,69.6 405.7,71.2 404.8,73.0 403.3,74.4 401.5,75.3 399.6,75.9 397.7,76.1 395.6,76.4 393.3,76.6 391.9,74.6 390.9,72.8 389.9,71.1 389.2,69.3 388.9,67.4 388.6,65.3 389.0,63.2 389.7,61.1 391.3,59.4 393.5,58.7 395.7,58.7 397.7,57.8 399.6,59.2 401.5,59.5 403.0,60.8 405.1,61.5 405.9,63.5 407.1,65.3" fill="#c8776f" stroke="#d48a82" stroke-width="0.6"/>
<ellipse cx="397.7" cy="67.4" rx="3.9" ry="3.5" fill="#b2605a"/>
<polygon points="422.9,67.4 423.9,69.6 423.1,71.7 422.1,73.6 420.1,74.7 418.2,75.4 416.4,76.6 414.3,76.4 412.3,76.1 410.2,76.0 408.5,74.7 407.1,73.1 405.4,71.7 405.1,69.5 404.9,67.4 405.5,65.4 406.3,63.6 407.1,61.7 408.6,60.2 410.4,59.3 412.1,57.8 414.3,57.2 416.5,57.6 418.5,58.8 420.3,59.8 421.2,61.9 421.6,63.9 422.5,65.5" fill="#c8776f" stroke="#d48a82" stroke-width="0.6"/>
<ellipse cx="414.3" cy="67.4" rx="3.9" ry="3.5" fill="#b2605a"/>
<polygon points="432.1,78.8 431.5,80.9 430.7,82.9 429.2,84.4 427.4,85.4 425.7,86.1 424.0,86.7 422.2,88.0 420.2,87.7 418.0,87.5 415.8,86.9 414.6,84.9 413.5,83.0 413.2,80.9 412.9,78.8 414.3,77.0 414.3,75.0 414.5,72.7 416.3,71.3 417.7,69.5 420.1,69.8 422.2,70.0 424.3,69.5 425.9,71.0 427.6,72.0 429.5,73.0 430.1,75.0 432.0,76.6" fill="#c8776f" stroke="#d48a82" stroke-width="0.6"/>
<ellipse cx="422.2" cy="78.8" rx="3.9" ry="3.5" fill="#b2605a"/>
<polygon points="415.0,79.7 414.6,81.6 414.2,83.4 413.8,85.5 412.5,87.2 410.9,88.9 408.5,88.6 406.5,88.5 404.6,88.1 402.7,87.7 400.9,86.7 399.6,85.2 398.1,83.7 397.1,81.9 397.4,79.7 397.3,77.6 397.4,75.3 399.5,74.1 400.6,72.4 402.8,71.9 404.6,71.5 406.5,71.3 408.5,70.9 410.6,71.2 412.5,72.1 413.9,73.8 414.9,75.7 415.2,77.7" fill="#c8776f" stroke="#d48a82" stroke-width="0.6"/>
<ellipse cx="406.5" cy="79.7" rx="3.9" ry="3.5" fill="#b2605a"/>
<polygon points="392.5,77.1 392.9,79.2 393.0,81.6 390.7,82.7 389.6,84.5 387.5,85.1 385.7,85.8 383.7,85.6 381.7,85.7 379.7,85.5 377.4,85.0 376.2,83.0 375.5,81.1 375.2,79.0 374.2,77.1 375.4,75.2 376.3,73.6 376.7,71.5 377.7,69.6 379.5,68.4 381.6,68.0 383.7,67.5 385.7,68.2 387.4,69.5 389.5,69.8 390.4,71.7 391.2,73.5 393.0,75.0" fill="#c8776f" stroke="#d48a82" stroke-width="0.6"/>
<ellipse cx="383.7" cy="77.1" rx="3.9" ry="3.5" fill="#b2605a"/>
<polygon points="377.1,80.6 376.3,82.7 374.7,84.3 373.5,85.7 372.5,87.5 371.0,88.8 369.2,90.2 367.0,90.9 364.7,90.6 362.9,89.1 361.2,87.9 360.4,85.9 359.2,84.4 359.1,82.4 358.6,80.6 358.4,78.6 358.6,76.6 359.6,74.7 360.8,72.8 363.2,72.6 365.1,72.3 367.0,71.7 369.0,71.9 370.9,72.4 372.9,73.2 374.6,74.6 375.8,76.4 376.8,78.4" fill="#c8776f" stroke="#d48a82" stroke-width="0.6"/>
<ellipse cx="367.0" cy="80.6" rx="3.9" ry="3.5" fill="#b2605a"/>
<polygon points="438.9,88.4 438.5,90.3 438.2,92.3 436.6,93.5 435.6,95.3 433.9,96.4 432.2,97.6 430.1,98.6 427.9,98.1 426.0,96.9 424.6,95.3 422.9,94.1 422.1,92.2 421.7,90.3 420.6,88.4 420.7,86.3 420.8,83.9 422.3,82.2 423.8,80.5 426.1,80.0 428.1,79.5 430.1,79.3 431.9,80.4 434.0,80.4 436.0,81.0 437.2,82.8 439.2,84.0 439.8,86.2" fill="#c8776f" stroke="#d48a82" stroke-width="0.6"/>
<ellipse cx="430.1" cy="88.4" rx="3.9" ry="3.5" fill="#b2605a"/>
<polygon points="360.8,85.8 360.2,87.8 359.9,89.9 359.3,92.2 357.3,93.3 355.6,94.6 353.3,94.5 351.3,94.3 349.4,94.0 347.6,93.4 345.7,92.9 344.2,91.4 342.2,90.2 341.2,88.1 342.3,85.8 343.0,83.9 343.9,82.3 344.1,80.1 346.2,79.4 347.3,77.5 349.3,76.9 351.3,76.5 353.4,76.6 355.6,76.9 356.7,79.0 358.6,80.0 359.2,82.0 359.4,83.9" fill="#c8776f" stroke="#d48a82" stroke-width="0.6"/>
<ellipse cx="351.3" cy="85.8" rx="3.9" ry="3.5" fill="#b2605a"/>
<polygon points="382.8,90.2 382.8,92.2 382.0,94.0 380.8,95.5 379.6,97.1 378.2,98.7 376.4,100.2 374.1,100.0 371.9,99.9 370.0,98.6 368.5,97.2 367.3,95.6 366.0,94.1 365.4,92.2 364.5,90.2 365.1,88.1 365.5,86.1 366.2,83.9 368.4,83.0 370.0,81.7 372.0,81.2 374.1,81.4 376.0,82.1 378.2,81.6 380.2,82.6 381.5,84.3 383.3,85.8 383.3,88.1" fill="#c8776f" stroke="#d48a82" stroke-width="0.6"/>
<ellipse cx="374.1" cy="90.2" rx="3.9" ry="3.5" fill="#b2605a"/>
<polygon points="400.7,88.4 400.2,90.4 399.5,92.2 398.6,94.0 397.2,95.5 395.2,95.8 393.5,96.7 391.6,98.0 389.5,97.7 387.4,97.1 385.4,96.2 384.0,94.5 383.1,92.5 382.8,90.4 383.5,88.4 383.3,86.5 383.1,84.3 383.6,82.0 385.9,81.2 387.4,79.7 389.6,79.5 391.6,79.6 393.5,80.2 395.2,80.9 396.9,81.7 398.4,83.0 400.3,84.2 401.0,86.2" fill="#c8776f" stroke="#d48a82" stroke-width="0.6"/>
<ellipse cx="391.6" cy="88.4" rx="3.9" ry="3.5" fill="#b2605a"/>
<polygon points="421.6,93.7 421.2,95.7 421.1,97.8 419.6,99.3 418.8,101.5 416.8,102.3 414.8,103.4 412.6,103.6 410.6,102.5 408.8,101.6 407.1,100.6 406.2,98.8 404.4,97.6 403.9,95.7 403.3,93.7 402.9,91.5 403.4,89.3 404.9,87.5 407.3,87.0 409.0,86.3 410.7,85.2 412.6,84.8 414.6,84.8 416.9,84.7 418.8,85.9 420.2,87.6 421.2,89.6 421.5,91.7" fill="#c8776f" stroke="#d48a82" stroke-width="0.6"/>
<ellipse cx="412.6" cy="93.7" rx="3.9" ry="3.5" fill="#b2605a"/>
<polygon points="357.7,99.0 357.4,101.2 356.4,103.1 355.1,104.8 353.5,106.1 351.4,106.5 349.8,107.9 347.8,108.9 345.7,108.2 343.5,107.9 342.3,105.9 341.0,104.4 340.0,102.8 339.9,100.8 339.1,99.0 339.3,97.1 338.9,94.7 340.4,93.1 341.8,91.5 343.5,90.0 345.7,89.9 347.8,90.7 349.6,90.9 351.6,91.0 353.1,92.3 354.8,93.4 356.6,94.8 357.3,96.8" fill="#c8776f" stroke="#d48a82" stroke-width="0.6"/>
<ellipse cx="347.8" cy="99.0" rx="3.9" ry="3.5" fill="#b2605a"/>
<polygon points="370.4,99.8 370.3,101.8 369.8,103.6 368.3,105.0 367.4,106.8 365.8,108.2 364.1,109.8 361.8,108.9 359.8,108.8 358.0,107.6 356.2,106.8 354.7,105.4 354.4,103.4 352.5,101.9 352.1,99.8 352.7,97.7 352.6,95.3 354.6,94.0 355.9,92.3 358.2,92.3 359.9,91.4 361.8,91.1 363.9,90.5 366.0,91.0 367.9,92.2 369.0,94.1 370.4,95.7 370.7,97.8" fill="#c8776f" stroke="#d48a82" stroke-width="0.6"/>
<ellipse cx="361.8" cy="99.8" rx="3.9" ry="3.5" fill="#b2605a"/>
<polygon points="390.5,99.0 389.8,101.0 388.9,102.8 388.1,104.6 387.2,106.7 385.1,107.3 383.4,108.9 381.1,108.7 379.1,107.9 377.2,107.2 375.8,105.7 374.6,104.2 373.1,102.9 372.5,101.0 372.0,99.0 371.7,96.8 372.1,94.7 374.1,93.4 375.5,92.0 377.1,90.6 379.1,90.1 381.1,89.6 383.2,89.8 385.3,90.3 387.2,91.3 388.8,92.9 389.5,94.9 389.7,97.0" fill="#c8776f" stroke="#d48a82" stroke-width="0.6"/>
<ellipse cx="381.1" cy="99.0" rx="3.9" ry="3.5" fill="#b2605a"/>
<polygon points="406.1,98.1 405.8,100.1 405.3,102.2 404.3,104.1 402.4,105.1 400.4,105.5 398.8,106.9 396.8,106.4 394.6,107.6 392.6,106.9 390.7,105.8 389.3,104.1 387.9,102.4 388.6,100.0 388.7,98.1 388.3,96.2 389.1,94.4 389.8,92.5 390.9,90.7 392.8,89.9 394.5,88.0 396.8,88.4 398.7,89.7 400.8,89.9 402.2,91.3 403.8,92.5 405.2,94.1 406.5,95.9" fill="#c8776f" stroke="#d48a82" stroke-width="0.6"/>
<ellipse cx="396.8" cy="98.1" rx="3.9" ry="3.5" fill="#b2605a"/>
<polygon points="432.3,100.7 432.9,102.9 431.2,104.6 429.6,105.9 428.4,107.3 426.8,108.5 425.2,110.1 423.1,110.2 421.1,109.6 418.8,109.7 417.2,108.1 415.6,106.7 415.7,104.3 414.2,102.7 413.9,100.7 414.9,98.8 414.7,96.6 415.9,95.0 417.0,93.0 419.2,92.5 420.9,91.2 423.1,92.2 425.1,92.0 427.0,92.7 428.5,93.9 430.1,95.2 432.2,96.3 432.0,98.7" fill="#c8776f" stroke="#d48a82" stroke-width="0.6"/>
<ellipse cx="423.1" cy="100.7" rx="3.9" ry="3.5" fill="#b2605a"/>
<polygon points="370.0,110.3 369.5,112.3 368.9,114.1 367.5,115.6 366.1,116.8 364.9,118.6 363.1,119.8 360.9,120.3 358.7,119.8 356.9,118.6 355.6,117.0 354.0,115.8 353.0,114.1 352.5,112.2 351.3,110.3 352.2,108.3 351.8,105.9 353.1,104.0 354.6,102.4 356.6,101.4 359.0,101.9 360.9,101.1 362.8,102.0 364.9,102.1 367.0,102.6 368.5,104.3 369.8,106.0 369.8,108.3" fill="#c8776f" stroke="#d48a82" stroke-width="0.6"/>
<ellipse cx="360.9" cy="110.3" rx="3.9" ry="3.5" fill="#b2605a"/>
<polygon points="384.6,109.5 384.2,111.4 384.0,113.5 383.2,115.4 382.3,117.6 380.1,118.4 377.9,118.9 375.8,118.1 373.9,117.8 371.8,117.7 370.6,116.0 368.2,115.6 367.3,113.6 366.5,111.6 366.1,109.5 366.6,107.4 367.6,105.6 369.0,104.1 370.2,102.5 372.1,101.9 373.9,101.1 375.8,100.2 377.8,100.6 380.0,100.8 381.8,102.0 383.3,103.5 383.4,105.9 384.1,107.6" fill="#c8776f" stroke="#d48a82" stroke-width="0.6"/>
<ellipse cx="375.8" cy="109.5" rx="3.9" ry="3.5" fill="#b2605a"/>
<polygon points="402.5,110.3 401.6,112.2 401.5,114.3 400.5,116.0 398.7,117.1 397.4,118.8 395.5,120.1 393.3,120.0 391.2,119.6 389.1,119.0 387.7,117.3 386.5,115.7 384.9,114.3 384.5,112.3 384.4,110.3 384.1,108.2 384.4,106.0 385.4,104.0 387.5,103.1 389.6,102.6 391.2,101.2 393.3,101.7 395.2,101.8 397.4,101.8 399.2,102.9 400.5,104.5 402.2,106.0 402.5,108.2" fill="#c8776f" stroke="#d48a82" stroke-width="0.6"/>
<ellipse cx="393.3" cy="110.3" rx="3.9" ry="3.5" fill="#b2605a"/>
<polygon points="416.6,110.3 415.6,112.2 416.2,114.6 415.1,116.5 413.2,117.7 411.5,118.9 409.4,119.5 407.3,119.0 405.5,118.3 403.4,118.5 402.0,116.9 400.1,116.0 398.8,114.4 397.3,112.6 397.5,110.3 398.2,108.2 398.6,106.1 400.6,105.0 401.7,103.3 403.6,102.7 405.2,101.1 407.3,100.5 409.6,100.4 411.5,101.5 413.0,103.1 414.6,104.5 415.7,106.2 415.5,108.4" fill="#c8776f" stroke="#d48a82" stroke-width="0.6"/>
<ellipse cx="407.3" cy="110.3" rx="3.9" ry="3.5" fill="#b2605a"/>
<polygon points="425.2,113.0 425.1,115.1 425.1,117.3 422.7,118.2 421.2,119.4 419.6,120.3 418.2,122.1 416.1,122.0 413.9,122.5 411.8,122.0 410.1,120.5 408.4,119.1 407.9,117.0 407.4,115.0 407.7,113.0 408.2,111.2 407.9,109.0 409.0,107.4 410.3,105.7 411.7,103.8 414.0,103.8 416.1,104.2 418.1,104.1 419.9,105.1 421.2,106.7 422.9,107.6 424.5,108.9 425.2,110.9" fill="#c8776f" stroke="#d48a82" stroke-width="0.6"/>
<ellipse cx="416.1" cy="113.0" rx="3.9" ry="3.5" fill="#b2605a"/>
</g>
<rect x="235.5" y="32.5" width="207" height="104" fill="none" stroke="#414c7a" stroke-width="1"/>
<text x="239.00" y="40.90" font-size="6.4" font-weight="bold" fill="#222" textLength="107.00" lengthAdjust="spacingAndGlyphs">Colorectal microenvironment</text>
<text x="239.00" y="49.90" font-size="6.4" font-weight="bold" fill="#222" textLength="68.00" lengthAdjust="spacingAndGlyphs">(Tumor-Supportive)</text>
<text x="362.50" y="46.00" font-size="6.2" font-weight="bold" fill="#222" textLength="17.80" lengthAdjust="spacingAndGlyphs">Tumor</text>
<text x="362.50" y="54.00" font-size="6.2" font-weight="bold" fill="#222" textLength="55.00" lengthAdjust="spacingAndGlyphs">microenvironment</text>
<text x="378.00" y="85.80" font-size="7" font-weight="bold" fill="#222" textLength="20.00" lengthAdjust="spacingAndGlyphs">Tumor</text>
<line x1="386.30" y1="43.80" x2="386.30" y2="37.50" stroke="#111" stroke-width="0.9"/>
<path d="M386.3 34.1L388.2 37.5L384.4 37.5Z" fill="#111"/>
<line x1="354.80" y1="56.00" x2="350.15" y2="51.15" stroke="#111" stroke-width="0.9"/>
<path d="M347.8 48.7L351.5 49.8L348.8 52.5Z" fill="#111"/>
<line x1="420.50" y1="54.30" x2="425.04" y2="49.95" stroke="#111" stroke-width="0.9"/>
<path d="M427.5 47.6L426.4 51.3L423.7 48.6Z" fill="#111"/>
<line x1="342.50" y1="87.60" x2="334.50" y2="87.60" stroke="#111" stroke-width="0.9"/>
<path d="M331.1 87.6L334.5 85.7L334.5 89.5Z" fill="#111"/>
<line x1="428.40" y1="87.60" x2="438.10" y2="87.60" stroke="#111" stroke-width="0.9"/>
<path d="M441.5 87.6L438.1 89.5L438.1 85.7Z" fill="#111"/>
<line x1="362.70" y1="116.50" x2="358.34" y2="123.24" stroke="#111" stroke-width="0.9"/>
<path d="M356.5 126.1L356.7 122.2L359.9 124.3Z" fill="#111"/>
<line x1="411.70" y1="116.50" x2="416.45" y2="121.86" stroke="#111" stroke-width="0.9"/>
<path d="M418.7 124.4L415.0 123.1L417.9 120.6Z" fill="#111"/>
<line x1="386.30" y1="125.20" x2="386.30" y2="131.50" stroke="#111" stroke-width="0.9"/>
<path d="M386.3 134.9L384.4 131.5L388.2 131.5Z" fill="#111"/>
<text x="238.50" y="150.50" font-size="7.2" font-weight="bold" fill="#111" textLength="120.60" lengthAdjust="spacingAndGlyphs">Healthy Microenvironment (HM)</text>
<clipPath id="hmclip"><rect x="237.5" y="152.5" width="205" height="104"/></clipPath>
<rect x="237.50" y="152.50" width="205.00" height="104.00" fill="#eef2f8"/>
<g clip-path="url(#hmclip)">
<rect x="236.50" y="198.00" width="16.80" height="19.60" fill="#dfcbcf"/>
<ellipse cx="244.9" cy="208.5" rx="3.6" ry="3.1" fill="#cbabb1"/>
<rect x="237.70" y="192.20" width="0.90" height="6.00" fill="#dfcbcf"/>
<rect x="240.40" y="192.80" width="0.90" height="6.00" fill="#dfcbcf"/>
<rect x="243.10" y="192.20" width="0.90" height="6.00" fill="#dfcbcf"/>
<rect x="245.80" y="192.80" width="0.90" height="6.00" fill="#dfcbcf"/>
<rect x="248.50" y="192.20" width="0.90" height="6.00" fill="#dfcbcf"/>
<rect x="251.20" y="192.80" width="0.90" height="6.00" fill="#dfcbcf"/>
<rect x="254.00" y="198.00" width="16.80" height="19.60" fill="#dfcbcf"/>
<ellipse cx="262.4" cy="208.5" rx="3.6" ry="3.1" fill="#cbabb1"/>
<rect x="255.20" y="192.20" width="0.90" height="6.00" fill="#dfcbcf"/>
<rect x="257.90" y="192.80" width="0.90" height="6.00" fill="#dfcbcf"/>
<rect x="260.60" y="192.20" width="0.90" height="6.00" fill="#dfcbcf"/>
<rect x="263.30" y="192.80" width="0.90" height="6.00" fill="#dfcbcf"/>
<rect x="266.00" y="192.20" width="0.90" height="6.00" fill="#dfcbcf"/>
<rect x="268.70" y="192.80" width="0.90" height="6.00" fill="#dfcbcf"/>
<rect x="271.50" y="198.00" width="16.80" height="19.60" fill="#dfcbcf"/>
<ellipse cx="279.9" cy="208.5" rx="3.6" ry="3.1" fill="#cbabb1"/>
<rect x="272.70" y="192.20" width="0.90" height="6.00" fill="#dfcbcf"/>
<rect x="275.40" y="192.80" width="0.90" height="6.00" fill="#dfcbcf"/>
<rect x="278.10" y="192.20" width="0.90" height="6.00" fill="#dfcbcf"/>
<rect x="280.80" y="192.80" width="0.90" height="6.00" fill="#dfcbcf"/>
<rect x="283.50" y="192.20" width="0.90" height="6.00" fill="#dfcbcf"/>
<rect x="286.20" y="192.80" width="0.90" height="6.00" fill="#dfcbcf"/>
<rect x="289.00" y="198.00" width="16.80" height="19.60" fill="#dfcbcf"/>
<ellipse cx="297.4" cy="208.5" rx="3.6" ry="3.1" fill="#cbabb1"/>
<rect x="290.20" y="192.20" width="0.90" height="6.00" fill="#dfcbcf"/>
<rect x="292.90" y="192.80" width="0.90" height="6.00" fill="#dfcbcf"/>
<rect x="295.60" y="192.20" width="0.90" height="6.00" fill="#dfcbcf"/>
<rect x="298.30" y="192.80" width="0.90" height="6.00" fill="#dfcbcf"/>
<rect x="301.00" y="192.20" width="0.90" height="6.00" fill="#dfcbcf"/>
<rect x="303.70" y="192.80" width="0.90" height="6.00" fill="#dfcbcf"/>
<rect x="306.50" y="198.00" width="16.80" height="19.60" fill="#dfcbcf"/>
<ellipse cx="314.9" cy="208.5" rx="3.6" ry="3.1" fill="#cbabb1"/>
<rect x="307.70" y="192.20" width="0.90" height="6.00" fill="#dfcbcf"/>
<rect x="310.40" y="192.80" width="0.90" height="6.00" fill="#dfcbcf"/>
<rect x="313.10" y="192.20" width="0.90" height="6.00" fill="#dfcbcf"/>
<rect x="315.80" y="192.80" width="0.90" height="6.00" fill="#dfcbcf"/>
<rect x="318.50" y="192.20" width="0.90" height="6.00" fill="#dfcbcf"/>
<rect x="321.20" y="192.80" width="0.90" height="6.00" fill="#dfcbcf"/>
<rect x="324.00" y="198.00" width="16.80" height="19.60" fill="#dfcbcf"/>
<ellipse cx="332.4" cy="208.5" rx="3.6" ry="3.1" fill="#cbabb1"/>
<rect x="325.20" y="192.20" width="0.90" height="6.00" fill="#dfcbcf"/>
<rect x="327.90" y="192.80" width="0.90" height="6.00" fill="#dfcbcf"/>
<rect x="330.60" y="192.20" width="0.90" height="6.00" fill="#dfcbcf"/>
<rect x="333.30" y="192.80" width="0.90" height="6.00" fill="#dfcbcf"/>
<rect x="336.00" y="192.20" width="0.90" height="6.00" fill="#dfcbcf"/>
<rect x="338.70" y="192.80" width="0.90" height="6.00" fill="#dfcbcf"/>
<rect x="341.50" y="198.00" width="16.80" height="19.60" fill="#dfcbcf"/>
<ellipse cx="349.9" cy="208.5" rx="3.6" ry="3.1" fill="#cbabb1"/>
<rect x="342.70" y="192.20" width="0.90" height="6.00" fill="#dfcbcf"/>
<rect x="345.40" y="192.80" width="0.90" height="6.00" fill="#dfcbcf"/>
<rect x="348.10" y="192.20" width="0.90" height="6.00" fill="#dfcbcf"/>
<rect x="350.80" y="192.80" width="0.90" height="6.00" fill="#dfcbcf"/>
<rect x="353.50" y="192.20" width="0.90" height="6.00" fill="#dfcbcf"/>
<rect x="356.20" y="192.80" width="0.90" height="6.00" fill="#dfcbcf"/>
<rect x="359.00" y="198.00" width="16.80" height="19.60" fill="#dfcbcf"/>
<ellipse cx="367.4" cy="208.5" rx="3.6" ry="3.1" fill="#cbabb1"/>
<rect x="360.20" y="192.20" width="0.90" height="6.00" fill="#dfcbcf"/>
<rect x="362.90" y="192.80" width="0.90" height="6.00" fill="#dfcbcf"/>
<rect x="365.60" y="192.20" width="0.90" height="6.00" fill="#dfcbcf"/>
<rect x="368.30" y="192.80" width="0.90" height="6.00" fill="#dfcbcf"/>
<rect x="371.00" y="192.20" width="0.90" height="6.00" fill="#dfcbcf"/>
<rect x="373.70" y="192.80" width="0.90" height="6.00" fill="#dfcbcf"/>
<rect x="376.50" y="198.00" width="16.80" height="19.60" fill="#dfcbcf"/>
<ellipse cx="384.9" cy="208.5" rx="3.6" ry="3.1" fill="#cbabb1"/>
<rect x="377.70" y="192.20" width="0.90" height="6.00" fill="#dfcbcf"/>
<rect x="380.40" y="192.80" width="0.90" height="6.00" fill="#dfcbcf"/>
<rect x="383.10" y="192.20" width="0.90" height="6.00" fill="#dfcbcf"/>
<rect x="385.80" y="192.80" width="0.90" height="6.00" fill="#dfcbcf"/>
<rect x="388.50" y="192.20" width="0.90" height="6.00" fill="#dfcbcf"/>
<rect x="391.20" y="192.80" width="0.90" height="6.00" fill="#dfcbcf"/>
<rect x="394.00" y="198.00" width="16.80" height="19.60" fill="#dfcbcf"/>
<ellipse cx="402.4" cy="208.5" rx="3.6" ry="3.1" fill="#cbabb1"/>
<rect x="395.20" y="192.20" width="0.90" height="6.00" fill="#dfcbcf"/>
<rect x="397.90" y="192.80" width="0.90" height="6.00" fill="#dfcbcf"/>
<rect x="400.60" y="192.20" width="0.90" height="6.00" fill="#dfcbcf"/>
<rect x="403.30" y="192.80" width="0.90" height="6.00" fill="#dfcbcf"/>
<rect x="406.00" y="192.20" width="0.90" height="6.00" fill="#dfcbcf"/>
<rect x="408.70" y="192.80" width="0.90" height="6.00" fill="#dfcbcf"/>
<rect x="411.50" y="198.00" width="16.80" height="19.60" fill="#dfcbcf"/>
<ellipse cx="419.9" cy="208.5" rx="3.6" ry="3.1" fill="#cbabb1"/>
<rect x="412.70" y="192.20" width="0.90" height="6.00" fill="#dfcbcf"/>
<rect x="415.40" y="192.80" width="0.90" height="6.00" fill="#dfcbcf"/>
<rect x="418.10" y="192.20" width="0.90" height="6.00" fill="#dfcbcf"/>
<rect x="420.80" y="192.80" width="0.90" height="6.00" fill="#dfcbcf"/>
<rect x="423.50" y="192.20" width="0.90" height="6.00" fill="#dfcbcf"/>
<rect x="426.20" y="192.80" width="0.90" height="6.00" fill="#dfcbcf"/>
<rect x="429.00" y="198.00" width="16.80" height="19.60" fill="#dfcbcf"/>
<ellipse cx="437.4" cy="208.5" rx="3.6" ry="3.1" fill="#cbabb1"/>
<rect x="430.20" y="192.20" width="0.90" height="6.00" fill="#dfcbcf"/>
<rect x="432.90" y="192.80" width="0.90" height="6.00" fill="#dfcbcf"/>
<rect x="435.60" y="192.20" width="0.90" height="6.00" fill="#dfcbcf"/>
<rect x="438.30" y="192.80" width="0.90" height="6.00" fill="#dfcbcf"/>
<rect x="441.00" y="192.20" width="0.90" height="6.00" fill="#dfcbcf"/>
<rect x="443.70" y="192.80" width="0.90" height="6.00" fill="#dfcbcf"/>
<circle cx="381" cy="205" r="48.5" fill="#ca959b" fill-opacity="0.55"/>
<polygon points="371.1,186.0 370.4,187.9 369.5,189.6 369.1,191.7 367.2,192.5 365.9,194.0 364.2,195.6 362.0,195.2 360.1,194.3 358.3,193.8 356.6,192.7 355.4,191.2 354.9,189.4 354.0,187.8 353.0,186.0 353.5,184.1 354.1,182.2 354.8,180.3 356.6,179.3 358.6,178.9 360.1,177.5 362.0,177.8 364.0,177.1 366.0,177.7 367.9,178.6 369.2,180.3 370.4,182.0 370.2,184.1" fill="#be8491" stroke="#c996a1" stroke-width="0.6"/>
<ellipse cx="362.0" cy="186.0" rx="3.7" ry="3.3" fill="#a66b7a"/>
<polygon points="388.7,188.8 388.9,190.8 387.3,192.2 386.6,193.9 385.8,195.8 384.0,196.7 382.2,197.6 380.2,198.6 378.2,197.4 376.5,196.5 374.6,195.8 373.9,193.8 372.9,192.3 371.5,190.8 371.6,188.8 370.7,186.6 371.4,184.6 372.6,182.8 374.8,182.0 376.6,181.3 378.3,180.3 380.2,180.1 382.0,180.9 383.8,181.3 385.7,182.0 387.1,183.3 388.5,184.8 389.1,186.8" fill="#be8491" stroke="#c996a1" stroke-width="0.6"/>
<ellipse cx="380.2" cy="188.8" rx="3.7" ry="3.3" fill="#a66b7a"/>
<polygon points="401.8,185.1 400.6,186.8 400.1,188.5 399.2,190.1 398.3,191.7 396.8,192.9 395.2,194.7 393.0,194.2 391.1,193.5 389.1,193.2 387.4,192.2 386.2,190.5 385.3,188.8 384.8,187.0 384.2,185.1 384.2,183.1 384.3,180.9 385.5,179.1 387.5,178.2 389.1,177.0 391.1,176.8 393.0,176.6 394.8,177.1 396.7,177.4 398.5,178.2 400.7,179.0 401.7,180.9 402.2,183.0" fill="#be8491" stroke="#c996a1" stroke-width="0.6"/>
<ellipse cx="393.0" cy="185.1" rx="3.7" ry="3.3" fill="#a66b7a"/>
<polygon points="420.0,191.5 419.5,193.6 418.1,195.3 417.1,197.0 415.2,197.6 414.0,199.2 412.1,199.4 410.3,201.0 408.1,201.0 406.4,199.5 404.4,198.9 403.1,197.3 403.1,195.0 402.1,193.4 402.1,191.5 401.9,189.6 401.9,187.5 402.9,185.6 404.7,184.5 406.3,183.1 408.3,182.7 410.3,183.5 412.1,183.8 413.8,184.2 415.3,185.2 416.9,186.3 418.7,187.5 419.9,189.3" fill="#be8491" stroke="#c996a1" stroke-width="0.6"/>
<ellipse cx="410.3" cy="191.5" rx="3.7" ry="3.3" fill="#a66b7a"/>
<polygon points="355.7,199.7 355.8,201.8 355.1,203.8 353.6,205.4 352.0,206.5 349.8,206.6 348.4,208.2 346.5,207.8 344.6,207.9 342.5,207.9 340.6,207.1 339.0,205.7 338.6,203.5 337.5,201.8 338.0,199.7 338.0,197.8 339.0,196.1 340.1,194.6 341.2,193.1 342.4,191.2 344.4,190.7 346.5,190.7 348.4,191.3 350.0,192.4 351.6,193.3 352.8,194.7 354.7,195.8 354.8,197.8" fill="#be8491" stroke="#c996a1" stroke-width="0.6"/>
<ellipse cx="346.5" cy="199.7" rx="3.7" ry="3.3" fill="#a66b7a"/>
<polygon points="370.6,204.3 369.9,206.3 368.5,207.8 367.8,209.7 366.5,211.0 364.9,212.2 363.2,213.6 361.1,214.0 359.1,213.0 357.0,212.9 356.1,210.6 355.0,209.1 353.7,207.9 353.1,206.1 352.5,204.3 352.3,202.3 352.8,200.3 353.4,198.2 355.1,196.8 357.4,196.6 359.3,196.3 361.1,195.8 362.9,196.5 364.8,196.7 366.8,197.1 367.8,198.9 369.8,200.1 370.3,202.2" fill="#be8491" stroke="#c996a1" stroke-width="0.6"/>
<ellipse cx="361.1" cy="204.3" rx="3.7" ry="3.3" fill="#a66b7a"/>
<polygon points="386.4,200.7 386.3,202.7 385.9,204.8 384.4,206.2 383.2,207.9 381.2,208.4 379.3,208.5 377.5,209.4 375.6,209.2 373.8,208.4 371.8,207.8 370.2,206.5 368.7,204.9 369.1,202.6 369.0,200.7 368.8,198.7 370.1,197.1 370.5,195.2 372.3,194.2 373.6,192.6 375.5,192.0 377.5,191.0 379.5,191.9 381.1,193.2 382.4,194.6 383.9,195.6 384.6,197.3 386.0,198.8" fill="#be8491" stroke="#c996a1" stroke-width="0.6"/>
<ellipse cx="377.5" cy="200.7" rx="3.7" ry="3.3" fill="#a66b7a"/>
<polygon points="404.7,199.7 404.3,201.7 403.7,203.6 402.8,205.4 401.1,206.5 399.7,208.0 397.5,207.4 395.7,208.3 393.9,207.6 391.8,207.7 389.9,207.0 388.8,205.2 387.0,203.9 386.2,201.9 386.7,199.7 387.2,197.8 388.4,196.2 389.5,194.8 390.2,192.8 391.7,191.4 393.7,191.1 395.7,190.9 397.7,190.9 399.7,191.5 401.0,193.1 402.7,194.1 403.5,196.0 404.4,197.7" fill="#be8491" stroke="#c996a1" stroke-width="0.6"/>
<ellipse cx="395.7" cy="199.7" rx="3.7" ry="3.3" fill="#a66b7a"/>
<polygon points="423.9,203.4 424.2,205.5 423.8,207.7 421.7,208.8 420.5,210.5 418.5,210.8 416.8,211.9 414.9,211.4 413.0,211.9 411.2,211.1 409.1,210.7 407.4,209.3 406.1,207.6 405.6,205.5 406.3,203.4 406.5,201.5 407.8,200.0 408.7,198.5 409.3,196.4 410.8,194.8 412.8,194.1 414.9,194.1 417.0,194.3 418.8,195.2 420.2,196.7 421.2,198.3 422.8,199.6 423.1,201.5" fill="#be8491" stroke="#c996a1" stroke-width="0.6"/>
<ellipse cx="414.9" cy="203.4" rx="3.7" ry="3.3" fill="#a66b7a"/>
<polygon points="356.2,213.4 356.0,215.6 355.1,217.5 353.8,219.2 352.2,220.6 350.4,221.4 348.3,221.5 346.5,221.7 344.5,222.3 342.3,222.2 340.6,220.8 339.7,218.8 338.9,217.1 338.1,215.3 337.8,213.4 338.0,211.5 339.1,209.8 339.7,208.0 340.9,206.3 342.7,205.5 344.6,204.9 346.5,204.3 348.5,204.8 350.4,205.4 351.4,207.2 353.4,207.9 354.0,209.8 355.3,211.4" fill="#be8491" stroke="#c996a1" stroke-width="0.6"/>
<ellipse cx="346.5" cy="213.4" rx="3.7" ry="3.3" fill="#a66b7a"/>
<polygon points="367.4,218.0 366.8,219.9 367.2,222.3 366.0,224.1 364.2,225.5 361.8,225.2 360.2,226.3 358.3,226.5 356.3,226.7 354.7,225.6 352.9,224.8 350.7,224.0 350.2,221.9 350.0,219.9 350.1,218.0 349.9,216.1 350.8,214.4 351.5,212.6 352.7,210.9 354.7,210.4 356.1,208.5 358.3,208.2 360.5,208.6 362.3,209.7 363.5,211.5 364.5,213.0 366.2,214.2 366.5,216.1" fill="#be8491" stroke="#c996a1" stroke-width="0.6"/>
<ellipse cx="358.3" cy="218.0" rx="3.7" ry="3.3" fill="#a66b7a"/>
<polygon points="381.3,215.3 381.3,217.4 380.4,219.3 379.0,220.9 377.3,222.0 375.6,222.8 373.9,223.8 372.0,223.8 370.1,223.8 367.8,224.1 365.9,222.9 364.6,221.2 364.4,219.0 364.3,217.1 363.2,215.3 363.4,213.3 364.6,211.7 364.9,209.7 366.6,208.6 368.0,207.0 369.9,206.1 372.0,206.5 374.0,206.5 375.8,207.3 376.9,209.2 378.8,209.9 379.8,211.6 380.5,213.4" fill="#be8491" stroke="#c996a1" stroke-width="0.6"/>
<ellipse cx="372.0" cy="215.3" rx="3.7" ry="3.3" fill="#a66b7a"/>
<polygon points="397.8,214.0 398.1,216.0 398.1,218.2 396.8,220.0 394.6,220.7 392.9,221.5 391.3,222.9 389.3,222.4 387.4,222.2 385.7,221.5 383.5,221.3 382.1,219.8 380.8,218.1 380.6,216.0 380.0,214.0 381.3,212.2 382.2,210.6 382.7,208.8 383.8,207.1 385.6,206.3 387.3,205.4 389.3,205.1 391.4,204.8 393.4,205.6 394.4,207.6 395.9,208.7 396.8,210.4 397.0,212.2" fill="#be8491" stroke="#c996a1" stroke-width="0.6"/>
<ellipse cx="389.3" cy="214.0" rx="3.7" ry="3.3" fill="#a66b7a"/>
<polygon points="418.7,218.9 418.2,220.9 417.3,222.7 416.8,224.8 414.4,225.2 412.9,226.2 411.3,227.1 409.4,227.3 407.6,226.9 405.2,227.6 403.8,225.9 402.3,224.6 400.9,223.0 400.4,220.9 400.5,218.9 401.4,217.1 401.5,215.1 402.2,213.2 404.0,212.1 405.1,210.0 407.4,210.3 409.4,209.6 411.3,210.7 412.9,211.6 414.3,212.8 416.4,213.4 416.8,215.4 418.6,216.8" fill="#be8491" stroke="#c996a1" stroke-width="0.6"/>
<ellipse cx="409.4" cy="218.9" rx="3.7" ry="3.3" fill="#a66b7a"/>
<polygon points="370.0,228.9 369.9,230.7 369.2,232.4 369.2,234.6 367.3,235.5 366.2,237.6 364.0,237.8 362.0,238.7 360.0,237.9 358.4,236.3 356.8,235.4 355.8,233.8 354.5,232.5 354.0,230.7 352.6,228.9 352.8,226.8 353.9,225.0 355.4,223.7 356.3,221.7 358.6,221.8 360.2,221.0 362.0,221.1 363.9,220.6 365.9,220.9 367.8,221.6 369.1,223.2 369.9,225.1 370.9,226.9" fill="#be8491" stroke="#c996a1" stroke-width="0.6"/>
<ellipse cx="362.0" cy="228.9" rx="3.7" ry="3.3" fill="#a66b7a"/>
<polygon points="387.4,228.9 387.2,230.9 386.5,232.8 384.9,234.1 383.8,235.7 381.8,235.9 380.2,236.9 378.4,237.5 376.5,237.4 374.2,237.6 372.7,236.0 371.4,234.5 370.5,232.7 369.8,230.9 370.5,228.9 369.9,227.0 370.2,224.9 371.6,223.5 372.9,222.0 374.2,220.2 376.4,220.2 378.4,220.4 380.2,221.1 382.1,221.3 383.9,222.0 385.4,223.3 386.5,225.0 387.3,226.9" fill="#be8491" stroke="#c996a1" stroke-width="0.6"/>
<ellipse cx="378.4" cy="228.9" rx="3.7" ry="3.3" fill="#a66b7a"/>
<polygon points="402.8,224.4 402.2,226.3 402.1,228.3 401.0,230.1 399.8,231.8 398.1,233.0 395.9,233.0 393.9,233.1 392.1,232.3 390.0,232.4 388.4,231.3 387.2,229.7 386.4,228.0 385.5,226.3 384.7,224.4 385.0,222.4 386.0,220.6 387.4,219.3 388.5,217.7 390.2,216.6 392.2,216.8 393.9,216.0 395.8,215.9 397.9,216.0 399.8,217.0 401.0,218.7 402.3,220.4 402.1,222.5" fill="#be8491" stroke="#c996a1" stroke-width="0.6"/>
<ellipse cx="393.9" cy="224.4" rx="3.7" ry="3.3" fill="#a66b7a"/>
<polygon points="408.3,229.9 408.7,231.8 408.4,233.8 407.6,235.7 405.8,236.8 404.2,238.0 402.3,238.8 400.3,239.4 398.4,238.4 396.6,237.5 395.3,236.2 393.2,235.6 392.7,233.5 391.3,231.9 390.8,229.9 390.9,227.7 391.8,225.8 393.6,224.6 395.2,223.6 396.5,221.9 398.4,221.7 400.3,221.5 402.2,221.5 404.5,221.2 406.4,222.3 407.5,224.1 408.1,226.1 408.8,228.0" fill="#be8491" stroke="#c996a1" stroke-width="0.6"/>
<ellipse cx="400.3" cy="229.9" rx="3.7" ry="3.3" fill="#a66b7a"/>
</g>
<rect x="237.5" y="152.5" width="205" height="104" fill="none" stroke="#414c7a" stroke-width="1"/>
<text x="240.00" y="160.30" font-size="6.4" font-weight="bold" fill="#222" textLength="107.00" lengthAdjust="spacingAndGlyphs">Colorectal microenvironment</text>
<text x="240.00" y="169.00" font-size="6.4" font-weight="bold" fill="#222" textLength="31.80" lengthAdjust="spacingAndGlyphs">(Healthy)</text>
<text x="360.10" y="167.30" font-size="6.2" font-weight="bold" fill="#222" textLength="19.20" lengthAdjust="spacingAndGlyphs">Tumor</text>
<text x="360.10" y="174.20" font-size="6.2" font-weight="bold" fill="#222" textLength="54.80" lengthAdjust="spacingAndGlyphs">microenvironment</text>
<text x="374.70" y="208.90" font-size="7" font-weight="bold" fill="#222" textLength="19.20" lengthAdjust="spacingAndGlyphs">Tumor</text>
<line x1="379.30" y1="151.40" x2="379.30" y2="155.30" stroke="#111" stroke-width="0.9"/>
<path d="M379.3 158.7L377.4 155.3L381.2 155.3Z" fill="#111"/>
<line x1="338.20" y1="162.30" x2="342.51" y2="167.82" stroke="#111" stroke-width="0.9"/>
<path d="M344.6 170.5L341.0 169.0L344.0 166.7Z" fill="#111"/>
<line x1="424.00" y1="161.40" x2="418.20" y2="167.20" stroke="#111" stroke-width="0.9"/>
<path d="M415.8 169.6L416.9 165.9L419.5 168.5Z" fill="#111"/>
<line x1="320.00" y1="209.80" x2="324.80" y2="209.80" stroke="#111" stroke-width="0.9"/>
<path d="M328.2 209.8L324.8 211.7L324.8 207.9Z" fill="#111"/>
<line x1="441.40" y1="206.70" x2="433.80" y2="206.70" stroke="#111" stroke-width="0.9"/>
<path d="M430.4 206.7L433.8 204.8L433.8 208.6Z" fill="#111"/>
<line x1="341.90" y1="250.50" x2="346.75" y2="245.85" stroke="#111" stroke-width="0.9"/>
<path d="M349.2 243.5L348.1 247.2L345.4 244.5Z" fill="#111"/>
<line x1="422.20" y1="248.60" x2="417.37" y2="244.04" stroke="#111" stroke-width="0.9"/>
<path d="M414.9 241.7L418.7 242.7L416.1 245.4Z" fill="#111"/>
<line x1="380.20" y1="259.00" x2="380.20" y2="255.20" stroke="#111" stroke-width="0.9"/>
<path d="M380.2 251.8L382.1 255.2L378.3 255.2Z" fill="#111"/>
<text x="507.00" y="16.80" font-size="10" font-weight="bold" textLength="119.30" lengthAdjust="spacingAndGlyphs">Comprehensive analysis</text>
<line x1="484.40" y1="25.50" x2="484.40" y2="87.30" stroke="#444" stroke-width="0.8"/>
<line x1="484.00" y1="87.00" x2="563.30" y2="87.00" stroke="#444" stroke-width="0.8"/>
<line x1="483.20" y1="86.50" x2="484.40" y2="86.50" stroke="#444" stroke-width="0.5"/>
<text x="482.40" y="87.70" font-size="3.4" text-anchor="end" fill="#555">0</text>
<line x1="483.20" y1="74.58" x2="484.40" y2="74.58" stroke="#444" stroke-width="0.5"/>
<text x="482.40" y="75.78" font-size="3.4" text-anchor="end" fill="#555">20</text>
<line x1="483.20" y1="62.66" x2="484.40" y2="62.66" stroke="#444" stroke-width="0.5"/>
<text x="482.40" y="63.86" font-size="3.4" text-anchor="end" fill="#555">40</text>
<line x1="483.20" y1="50.74" x2="484.40" y2="50.74" stroke="#444" stroke-width="0.5"/>
<text x="482.40" y="51.94" font-size="3.4" text-anchor="end" fill="#555">60</text>
<line x1="483.20" y1="38.82" x2="484.40" y2="38.82" stroke="#444" stroke-width="0.5"/>
<text x="482.40" y="40.02" font-size="3.4" text-anchor="end" fill="#555">80</text>
<line x1="483.20" y1="26.90" x2="484.40" y2="26.90" stroke="#444" stroke-width="0.5"/>
<text x="482.40" y="28.10" font-size="3.4" text-anchor="end" fill="#555">100</text>
<line x1="484.40" y1="87.00" x2="484.40" y2="88.50" stroke="#444" stroke-width="0.5"/>
<text x="484.40" y="92.10" font-size="3.4" text-anchor="middle" fill="#555">0</text>
<line x1="494.54" y1="87.00" x2="494.54" y2="88.50" stroke="#444" stroke-width="0.5"/>
<text x="494.54" y="92.10" font-size="3.4" text-anchor="middle" fill="#555">10</text>
<line x1="504.68" y1="87.00" x2="504.68" y2="88.50" stroke="#444" stroke-width="0.5"/>
<text x="504.68" y="92.10" font-size="3.4" text-anchor="middle" fill="#555">20</text>
<line x1="514.82" y1="87.00" x2="514.82" y2="88.50" stroke="#444" stroke-width="0.5"/>
<text x="514.82" y="92.10" font-size="3.4" text-anchor="middle" fill="#555">30</text>
<line x1="524.96" y1="87.00" x2="524.96" y2="88.50" stroke="#444" stroke-width="0.5"/>
<text x="524.96" y="92.10" font-size="3.4" text-anchor="middle" fill="#555">40</text>
<line x1="535.10" y1="87.00" x2="535.10" y2="88.50" stroke="#444" stroke-width="0.5"/>
<text x="535.10" y="92.10" font-size="3.4" text-anchor="middle" fill="#555">50</text>
<line x1="545.24" y1="87.00" x2="545.24" y2="88.50" stroke="#444" stroke-width="0.5"/>
<text x="545.24" y="92.10" font-size="3.4" text-anchor="middle" fill="#555">60</text>
<line x1="555.38" y1="87.00" x2="555.38" y2="88.50" stroke="#444" stroke-width="0.5"/>
<text x="555.38" y="92.10" font-size="3.4" text-anchor="middle" fill="#555">70</text>
<text x="519.89" y="96.30" font-size="3.4" text-anchor="middle" fill="#555">Time (months)</text>
<text x="0" y="0" font-size="3.4" text-anchor="middle" transform="translate(474.00,57.00) rotate(-90)" fill="#555">Survival rate (%)</text>
<path d="M484.4 26.9H488.5V29.3H496.6V30.5H504.7V32.3H512.8V33.5H521.9V34.1H522.9V38.8H525.0V43.6H532.1V47.8H535.1V51.3H542.2V53.7H548.3V56.7H555.4V56.7" stroke="#4a8fd8" stroke-width="1" fill="none"/>
<path d="M484.4 26.9H489.0V35.8H494.5V39.4H498.6V44.2H504.2V49.5H510.8V54.3H516.3V61.5H520.4V67.4H523.9V72.8H528.5V78.8H534.1V78.8" stroke="#e25a5a" stroke-width="1" fill="none"/>
<line x1="535.10" y1="81.14" x2="555.38" y2="81.14" stroke="#e25a5a" stroke-width="1"/>
<text x="542.50" y="51.00" font-size="5" fill="#4a8fd8">HM</text>
<text x="536.00" y="78.80" font-size="5" fill="#e25a5a">TSM</text>
<text x="518.80" y="107.00" font-size="8" text-anchor="middle" fill="#111" textLength="65.00" lengthAdjust="spacingAndGlyphs">Prognosis outcome</text>
<line x1="580.80" y1="28.00" x2="580.80" y2="85.80" stroke="#ccc" stroke-width="0.4"/>
<line x1="580.80" y1="85.80" x2="663.00" y2="85.80" stroke="#ccc" stroke-width="0.4"/>
<line x1="579.80" y1="28.00" x2="580.80" y2="28.00" stroke="#bbb" stroke-width="0.3"/>
<line x1="579.80" y1="36.00" x2="580.80" y2="36.00" stroke="#bbb" stroke-width="0.3"/>
<line x1="579.80" y1="44.00" x2="580.80" y2="44.00" stroke="#bbb" stroke-width="0.3"/>
<line x1="579.80" y1="52.00" x2="580.80" y2="52.00" stroke="#bbb" stroke-width="0.3"/>
<path d="M581 52 C582 36 585 33 590 31 C593 29 596 28.5 600 28.7 C603 29 605 29.5 608 31 C620 37 635 46 646 53.5 C650 54.2 654 53.8 657 54 C660 53.5 662 53 663 52.7" stroke="#7de87a" stroke-width="0.9" fill="none"/>
<rect x="582.15" y="56.40" width="0.55" height="7.00" fill="rgb(21,21,21)"/>
<rect x="583.55" y="56.40" width="0.55" height="7.00" fill="rgb(24,24,24)"/>
<rect x="583.72" y="56.40" width="0.55" height="7.00" fill="rgb(22,22,22)"/>
<rect x="584.65" y="56.40" width="0.55" height="7.00" fill="rgb(27,27,27)"/>
<rect x="585.15" y="56.40" width="0.55" height="7.00" fill="rgb(25,25,25)"/>
<rect x="585.23" y="56.40" width="0.55" height="7.00" fill="rgb(28,28,28)"/>
<rect x="585.79" y="56.40" width="0.55" height="7.00" fill="rgb(23,23,23)"/>
<rect x="586.56" y="56.40" width="0.55" height="7.00" fill="rgb(24,24,24)"/>
<rect x="587.14" y="56.40" width="0.55" height="7.00" fill="rgb(25,25,25)"/>
<rect x="588.89" y="56.40" width="0.55" height="7.00" fill="rgb(34,34,34)"/>
<rect x="589.16" y="56.40" width="0.55" height="7.00" fill="rgb(30,30,30)"/>
<rect x="589.66" y="56.40" width="0.55" height="7.00" fill="rgb(35,35,35)"/>
<rect x="590.12" y="56.40" width="0.55" height="7.00" fill="rgb(34,34,34)"/>
<rect x="590.17" y="56.40" width="0.55" height="7.00" fill="rgb(27,27,27)"/>
<rect x="591.06" y="56.40" width="0.55" height="7.00" fill="rgb(31,31,31)"/>
<rect x="591.39" y="56.40" width="0.55" height="7.00" fill="rgb(31,31,31)"/>
<rect x="591.51" y="56.40" width="0.55" height="7.00" fill="rgb(33,33,33)"/>
<rect x="591.96" y="56.40" width="0.55" height="7.00" fill="rgb(37,37,37)"/>
<rect x="592.65" y="56.40" width="0.55" height="7.00" fill="rgb(29,29,29)"/>
<rect x="593.42" y="56.40" width="0.55" height="7.00" fill="rgb(42,42,42)"/>
<rect x="593.66" y="56.40" width="0.55" height="7.00" fill="rgb(36,36,36)"/>
<rect x="594.29" y="56.40" width="0.55" height="7.00" fill="rgb(35,35,35)"/>
<rect x="594.79" y="56.40" width="0.55" height="7.00" fill="rgb(41,41,41)"/>
<rect x="595.65" y="56.40" width="0.55" height="7.00" fill="rgb(35,35,35)"/>
<rect x="596.83" y="56.40" width="0.55" height="7.00" fill="rgb(45,45,45)"/>
<rect x="598.30" y="56.40" width="0.55" height="7.00" fill="rgb(41,41,41)"/>
<rect x="598.36" y="56.40" width="0.55" height="7.00" fill="rgb(42,42,42)"/>
<rect x="598.37" y="56.40" width="0.55" height="7.00" fill="rgb(36,36,36)"/>
<rect x="599.41" y="56.40" width="0.55" height="7.00" fill="rgb(38,38,38)"/>
<rect x="599.55" y="56.40" width="0.55" height="7.00" fill="rgb(52,52,52)"/>
<rect x="599.79" y="56.40" width="0.55" height="7.00" fill="rgb(46,46,46)"/>
<rect x="600.07" y="56.40" width="0.55" height="7.00" fill="rgb(43,43,43)"/>
<rect x="600.99" y="56.40" width="0.55" height="7.00" fill="rgb(53,53,53)"/>
<rect x="601.85" y="56.40" width="0.55" height="7.00" fill="rgb(57,57,57)"/>
<rect x="603.63" y="56.40" width="0.55" height="7.00" fill="rgb(40,40,40)"/>
<rect x="604.39" y="56.40" width="0.55" height="7.00" fill="rgb(64,64,64)"/>
<rect x="604.52" y="56.40" width="0.55" height="7.00" fill="rgb(37,37,37)"/>
<rect x="605.70" y="56.40" width="0.55" height="7.00" fill="rgb(56,56,56)"/>
<rect x="605.83" y="56.40" width="0.55" height="7.00" fill="rgb(45,45,45)"/>
<rect x="607.32" y="56.40" width="0.55" height="7.00" fill="rgb(47,47,47)"/>
<rect x="607.88" y="56.40" width="0.55" height="7.00" fill="rgb(55,55,55)"/>
<rect x="609.61" y="56.40" width="0.55" height="7.00" fill="rgb(61,61,61)"/>
<rect x="609.70" y="56.40" width="0.55" height="7.00" fill="rgb(55,55,55)"/>
<rect x="610.21" y="56.40" width="0.55" height="7.00" fill="rgb(65,65,65)"/>
<rect x="610.78" y="56.40" width="0.55" height="7.00" fill="rgb(75,75,75)"/>
<rect x="614.15" y="56.40" width="0.55" height="7.00" fill="rgb(50,50,50)"/>
<rect x="614.47" y="56.40" width="0.55" height="7.00" fill="rgb(53,53,53)"/>
<rect x="615.07" y="56.40" width="0.55" height="7.00" fill="rgb(69,69,69)"/>
<rect x="615.45" y="56.40" width="0.55" height="7.00" fill="rgb(61,61,61)"/>
<rect x="616.19" y="56.40" width="0.55" height="7.00" fill="rgb(58,58,58)"/>
<rect x="616.44" y="56.40" width="0.55" height="7.00" fill="rgb(67,67,67)"/>
<rect x="616.81" y="56.40" width="0.55" height="7.00" fill="rgb(75,75,75)"/>
<rect x="616.84" y="56.40" width="0.55" height="7.00" fill="rgb(84,84,84)"/>
<rect x="617.38" y="56.40" width="0.55" height="7.00" fill="rgb(86,86,86)"/>
<rect x="620.93" y="56.40" width="0.55" height="7.00" fill="rgb(87,87,87)"/>
<rect x="623.16" y="56.40" width="0.55" height="7.00" fill="rgb(68,68,68)"/>
<rect x="625.57" y="56.40" width="0.55" height="7.00" fill="rgb(98,98,98)"/>
<rect x="625.76" y="56.40" width="0.55" height="7.00" fill="rgb(90,90,90)"/>
<rect x="625.89" y="56.40" width="0.55" height="7.00" fill="rgb(62,62,62)"/>
<rect x="626.09" y="56.40" width="0.55" height="7.00" fill="rgb(103,103,103)"/>
<rect x="626.90" y="56.40" width="0.55" height="7.00" fill="rgb(66,66,66)"/>
<rect x="626.98" y="56.40" width="0.55" height="7.00" fill="rgb(90,90,90)"/>
<rect x="628.14" y="56.40" width="0.55" height="7.00" fill="rgb(92,92,92)"/>
<rect x="628.15" y="56.40" width="0.55" height="7.00" fill="rgb(104,104,104)"/>
<rect x="628.44" y="56.40" width="0.55" height="7.00" fill="rgb(91,91,91)"/>
<rect x="628.60" y="56.40" width="0.55" height="7.00" fill="rgb(109,109,109)"/>
<rect x="628.74" y="56.40" width="0.55" height="7.00" fill="rgb(58,58,58)"/>
<rect x="631.31" y="56.40" width="0.55" height="7.00" fill="rgb(59,59,59)"/>
<rect x="632.08" y="56.40" width="0.55" height="7.00" fill="rgb(69,69,69)"/>
<rect x="632.58" y="56.40" width="0.55" height="7.00" fill="rgb(92,92,92)"/>
<rect x="633.14" y="56.40" width="0.55" height="7.00" fill="rgb(84,84,84)"/>
<rect x="633.64" y="56.40" width="0.55" height="7.00" fill="rgb(63,63,63)"/>
<rect x="634.37" y="56.40" width="0.55" height="7.00" fill="rgb(71,71,71)"/>
<rect x="636.81" y="56.40" width="0.55" height="7.00" fill="rgb(98,98,98)"/>
<rect x="637.28" y="56.40" width="0.55" height="7.00" fill="rgb(87,87,87)"/>
<rect x="637.55" y="56.40" width="0.55" height="7.00" fill="rgb(112,112,112)"/>
<rect x="638.85" y="56.40" width="0.55" height="7.00" fill="rgb(94,94,94)"/>
<rect x="641.26" y="56.40" width="0.55" height="7.00" fill="rgb(126,126,126)"/>
<rect x="641.86" y="56.40" width="0.55" height="7.00" fill="rgb(118,118,118)"/>
<rect x="643.87" y="56.40" width="0.55" height="7.00" fill="rgb(102,102,102)"/>
<rect x="644.35" y="56.40" width="0.55" height="7.00" fill="rgb(92,92,92)"/>
<rect x="644.68" y="56.40" width="0.55" height="7.00" fill="rgb(82,82,82)"/>
<rect x="645.00" y="56.40" width="0.55" height="7.00" fill="rgb(88,88,88)"/>
<rect x="647.48" y="56.40" width="0.55" height="7.00" fill="rgb(96,96,96)"/>
<rect x="650.49" y="56.40" width="0.55" height="7.00" fill="rgb(100,100,100)"/>
<rect x="652.45" y="56.40" width="0.55" height="7.00" fill="rgb(87,87,87)"/>
<rect x="652.81" y="56.40" width="0.55" height="7.00" fill="rgb(112,112,112)"/>
<rect x="653.89" y="56.40" width="0.55" height="7.00" fill="rgb(82,82,82)"/>
<rect x="654.39" y="56.40" width="0.55" height="7.00" fill="rgb(148,148,148)"/>
<rect x="656.19" y="56.40" width="0.55" height="7.00" fill="rgb(123,123,123)"/>
<rect x="659.22" y="56.40" width="0.55" height="7.00" fill="rgb(85,85,85)"/>
<rect x="659.78" y="56.40" width="0.55" height="7.00" fill="rgb(107,107,107)"/>
<rect x="659.97" y="56.40" width="0.55" height="7.00" fill="rgb(101,101,101)"/>
<rect x="661.15" y="56.40" width="0.55" height="7.00" fill="rgb(93,93,93)"/>
<rect x="662.13" y="56.40" width="0.55" height="7.00" fill="rgb(125,125,125)"/>
<rect x="580.80" y="63.60" width="7.57" height="2.80" fill="#e2452f"/>
<rect x="588.27" y="63.60" width="7.57" height="2.80" fill="#e2452f"/>
<rect x="595.75" y="63.60" width="7.57" height="2.80" fill="#ec8466"/>
<rect x="603.22" y="63.60" width="7.57" height="2.80" fill="#ec8466"/>
<rect x="610.69" y="63.60" width="7.57" height="2.80" fill="#f2b9a3"/>
<rect x="618.16" y="63.60" width="7.57" height="2.80" fill="#f6dcd2"/>
<rect x="625.64" y="63.60" width="7.57" height="2.80" fill="#f3f3f5"/>
<rect x="633.11" y="63.60" width="7.57" height="2.80" fill="#dfe9f4"/>
<rect x="640.58" y="63.60" width="7.57" height="2.80" fill="#b7d0e8"/>
<rect x="648.05" y="63.60" width="7.57" height="2.80" fill="#6f9ed0"/>
<rect x="655.53" y="63.60" width="7.57" height="2.80" fill="#3a6fb6"/>
<path d="M581 67 C581 72 583 75 590 75.5 L640 76.3 C655 76.5 660 77 663 78 L663 81 C658 78 645 77 620 76.5 L581 76.5Z" fill="#c8c8c8"/>
<line x1="580.80" y1="76.50" x2="663.00" y2="76.50" stroke="#aaa" stroke-width="0.3"/>
<line x1="596.00" y1="85.80" x2="596.00" y2="86.80" stroke="#bbb" stroke-width="0.4"/>
<line x1="613.00" y1="85.80" x2="613.00" y2="86.80" stroke="#bbb" stroke-width="0.4"/>
<line x1="630.00" y1="85.80" x2="630.00" y2="86.80" stroke="#bbb" stroke-width="0.4"/>
<line x1="647.00" y1="85.80" x2="647.00" y2="86.80" stroke="#bbb" stroke-width="0.4"/>
<text x="621.50" y="106.90" font-size="8" text-anchor="middle" fill="#111" textLength="61.00" lengthAdjust="spacingAndGlyphs">Enriched pathway</text>
<path d="M496 128 C500 126 506 129 512 128 C518 127 522 126 525 129 L526 147 C522 152 512 153 504 152 C498 151 495 149 495 145Z" fill="#f0b6ae"/>
<path d="M498 132 q3 -3 6 0 t6 0 t6 0 t6 0" stroke="#df9a93" stroke-width="0.8" fill="none"/>
<path d="M497 137 q3 3 6 0 t6 0 t6 0 t6 0" stroke="#df9a93" stroke-width="0.8" fill="none"/>
<path d="M498 142 q3 -3 6 0 t6 0 t6 0 t6 0" stroke="#df9a93" stroke-width="0.8" fill="none"/>
<path d="M499 147 q3 3 6 0 t6 0 t6 0" stroke="#df9a93" stroke-width="0.8" fill="none"/>
<path d="M503 130 q-2 4 0 8 t0 8" stroke="#df9a93" stroke-width="0.8" fill="none"/>
<path d="M515 130 q2 4 0 8 t0 8" stroke="#df9a93" stroke-width="0.8" fill="none"/>
<path d="M491.8 151 C491 142 491 132 492.5 123.5 C500 122 505 127 510 127 C516 127 521 122 527 121.5 C528.5 130 528 140 526 148" stroke="#d98890" stroke-width="5.5" fill="none" stroke-linejoin="round"/>
<path d="M492 150 C493 154 496 155 499 153" stroke="#d98890" stroke-width="4" fill="none"/>
<path d="M511.5 150 L511.5 164" stroke="#d98890" stroke-width="4.2" fill="none" stroke-linecap="round"/>
<path d="M500 118.5 L500 122" stroke="#eeb2aa" stroke-width="2.5"/>
<circle cx="535.6" cy="155.4" r="18.3" fill="#fbf6ec" stroke="#333" stroke-width="0.9"/>
<clipPath id="bact"><circle cx="535.6" cy="155.4" r="17.8"/></clipPath><g clip-path="url(#bact)">
<rect x="526" y="141.5" width="8" height="3" rx="1.5" fill="#d67a7a" transform="rotate(20 530 143)"/>
<rect x="536" y="145.5" width="8" height="3" rx="1.5" fill="#e8b0ac" transform="rotate(-30 540 147)"/>
<rect x="524" y="154.5" width="8" height="3" rx="1.5" fill="#c24848" transform="rotate(10 528 156)"/>
<rect x="541" y="154.5" width="8" height="3" rx="1.5" fill="#e8b0ac" transform="rotate(40 545 156)"/>
<rect x="531" y="162.5" width="8" height="3" rx="1.5" fill="#e8b0ac" transform="rotate(-20 535 164)"/>
<rect x="544" y="164.5" width="8" height="3" rx="1.5" fill="#e8b0ac" transform="rotate(60 548 166)"/>
<rect x="547" y="148.5" width="8" height="3" rx="1.5" fill="#b07080" transform="rotate(0 551 150)"/>
<rect x="518" y="146.5" width="8" height="3" rx="1.5" fill="#e8b0ac" transform="rotate(50 522 148)"/>
<rect x="536" y="168.5" width="8" height="3" rx="1.5" fill="#e8b0ac" transform="rotate(10 540 170)"/>
<rect x="522" y="164.5" width="8" height="3" rx="1.5" fill="#e8b0ac" transform="rotate(-40 526 166)"/>
</g>
<text x="523.10" y="185.60" font-size="8" text-anchor="middle" fill="#111" textLength="77.30" lengthAdjust="spacingAndGlyphs">16S rRNA sequencing</text>
<clipPath id="he"><rect x="597.4" y="117.4" width="50.3" height="56.8"/></clipPath>
<rect x="597.40" y="117.40" width="50.30" height="56.80" fill="#d4a9c9"/>
<g clip-path="url(#he)" fill="none" stroke-linecap="round" stroke-linejoin="round">
<path d="M608.7 116.5 L609.6 126.5 L613.3 133.7 L609.2 138.2 L602.9 140.1 L601.5 143.7 L606.5 148.2 L614.6 150.9 L621.0 155.4 L625.5 161.8 L631.8 167.2 L640.9 167.2 L649.0 163.6" stroke="#d472b4" stroke-width="7.4"/>
<path d="M608.7 116.5 L609.6 126.5 L613.3 133.7 L609.2 138.2 L602.9 140.1 L601.5 143.7 L606.5 148.2 L614.6 150.9 L621.0 155.4 L625.5 161.8 L631.8 167.2 L640.9 167.2 L649.0 163.6" stroke="#f7f4dc" stroke-width="4.6"/>
<path d="M619.1 116.5 L621.9 123.8 L626.8 127.8 L629.1 133.3 L625.5 139.1 L622.8 143.7 L630.0 145.0 L639.1 142.3 L642.7 135.5 L639.1 126.5 L635.4 122.0 L634.5 116.5" stroke="#d472b4" stroke-width="7.4"/>
<path d="M619.1 116.5 L621.9 123.8 L626.8 127.8 L629.1 133.3 L625.5 139.1 L622.8 143.7 L630.0 145.0 L639.1 142.3 L642.7 135.5 L639.1 126.5 L635.4 122.0 L634.5 116.5" stroke="#f7f4dc" stroke-width="4.6"/>
<path d="M596.5 154.5 L600.1 158.2 L600.6 166.3 L601.0 175.3" stroke="#d472b4" stroke-width="7.4"/>
<path d="M596.5 154.5 L600.1 158.2 L600.6 166.3 L601.0 175.3" stroke="#f7f4dc" stroke-width="4.6"/>
<path d="M623.7 175.3 L626.4 168.1 L630.9 162.7 L637.2 159.5 L642.7 156.3 L649.0 154.5" stroke="#d472b4" stroke-width="7.4"/>
<path d="M623.7 175.3 L626.4 168.1 L630.9 162.7 L637.2 159.5 L642.7 156.3 L649.0 154.5" stroke="#f7f4dc" stroke-width="4.6"/>
<path d="M642.7 142.8 L649.0 139.1" stroke="#d472b4" stroke-width="7.4"/>
<path d="M642.7 142.8 L649.0 139.1" stroke="#f7f4dc" stroke-width="4.6"/>
<path d="M596.5 122.9 L598.8 128.3 L597.4 133.7" stroke="#d472b4" stroke-width="7.4"/>
<path d="M596.5 122.9 L598.8 128.3 L597.4 133.7" stroke="#f7f4dc" stroke-width="4.6"/>
<path d="M642.7 130.1 L649.0 128.3" stroke="#d472b4" stroke-width="7.4"/>
<path d="M642.7 130.1 L649.0 128.3" stroke="#f7f4dc" stroke-width="4.6"/>
<ellipse cx="622.8" cy="123.8" rx="3.9" ry="5.7" fill="#f7f4dc"/>
<ellipse cx="622.8" cy="123.8" rx="2.7" ry="4.5" fill="#d4a9c9" stroke="#d472b4" stroke-width="1.3"/>
<ellipse cx="611.5" cy="137.3" rx="4.4" ry="3.5" fill="#f7f4dc"/>
<ellipse cx="611.5" cy="137.3" rx="3.2" ry="2.3" fill="#d4a9c9" stroke="#d472b4" stroke-width="1.3"/>
<ellipse cx="626.4" cy="163.1" rx="3.2" ry="2.8" fill="#f7f4dc"/>
<ellipse cx="626.4" cy="163.1" rx="2.0" ry="1.6" fill="#d4a9c9" stroke="#d472b4" stroke-width="1.3"/>
<ellipse cx="637.2" cy="168.1" rx="5.3" ry="3.2" fill="#f7f4dc"/>
<ellipse cx="637.2" cy="168.1" rx="4.1" ry="2.0" fill="#d4a9c9" stroke="#d472b4" stroke-width="1.3"/>
<ellipse cx="644.9" cy="144.6" rx="3.2" ry="3.5" fill="#f7f4dc"/>
<ellipse cx="644.9" cy="144.6" rx="2.0" ry="2.3" fill="#d4a9c9" stroke="#d472b4" stroke-width="1.3"/>
</g>
<rect x="597.4" y="117.4" width="50.3" height="56.8" fill="none" stroke="#444" stroke-width="0.8"/>
<text x="629.60" y="185.60" font-size="8" text-anchor="middle" fill="#111" textLength="94.00" lengthAdjust="spacingAndGlyphs">H&amp;E  (AI-powered analysis)</text>
<line x1="490.30" y1="190.70" x2="490.30" y2="242.70" stroke="#555" stroke-width="0.5"/>
<line x1="490.30" y1="242.70" x2="550.70" y2="242.70" stroke="#555" stroke-width="0.5"/>
<text x="488.80" y="193.70" font-size="2.9" text-anchor="end" fill="#555">30</text>
<text x="488.80" y="201.10" font-size="2.9" text-anchor="end" fill="#555">20</text>
<text x="488.80" y="208.50" font-size="2.9" text-anchor="end" fill="#555">10</text>
<text x="488.80" y="215.90" font-size="2.9" text-anchor="end" fill="#555">0</text>
<text x="488.80" y="223.30" font-size="2.9" text-anchor="end" fill="#555">-10</text>
<text x="488.80" y="230.70" font-size="2.9" text-anchor="end" fill="#555">-20</text>
<text x="488.80" y="238.10" font-size="2.9" text-anchor="end" fill="#555">-30</text>
<text x="492.80" y="246.30" font-size="2.9" text-anchor="middle" fill="#555">-30</text>
<text x="501.70" y="246.30" font-size="2.9" text-anchor="middle" fill="#555">-20</text>
<text x="510.60" y="246.30" font-size="2.9" text-anchor="middle" fill="#555">-10</text>
<text x="519.50" y="246.30" font-size="2.9" text-anchor="middle" fill="#555">0</text>
<text x="528.40" y="246.30" font-size="2.9" text-anchor="middle" fill="#555">10</text>
<text x="537.30" y="246.30" font-size="2.9" text-anchor="middle" fill="#555">20</text>
<text x="546.20" y="246.30" font-size="2.9" text-anchor="middle" fill="#555">30</text>
<text x="520.50" y="249.70" font-size="2.9" text-anchor="middle" fill="#555">UMAP1</text>
<text x="0" y="0" font-size="2.9" text-anchor="middle" transform="translate(482.50,217.00) rotate(-90)" fill="#555">UMAP2</text>
<path d="M497.9 193.8h0M504.6 196.6h0M504.2 197.0h0M502.1 195.4h0M501.0 197.1h0M500.0 200.6h0M498.7 194.5h0M500.0 200.2h0M506.5 198.0h0M500.2 198.8h0M506.2 194.7h0M504.2 199.4h0M500.6 193.7h0M503.4 194.4h0M500.3 197.7h0M496.5 197.7h0M503.8 192.6h0M502.7 193.5h0M504.1 195.9h0M504.0 194.9h0M499.1 193.9h0M498.1 197.7h0M501.2 200.6h0M502.0 197.7h0M504.7 200.8h0M503.1 192.7h0M501.5 192.6h0M503.4 193.0h0M502.5 193.8h0M504.1 199.3h0M499.1 198.2h0M499.8 194.9h0M504.2 193.0h0M506.0 197.6h0M501.6 198.1h0M506.0 198.5h0M502.2 195.4h0M502.2 202.2h0M502.9 197.1h0M503.0 193.7h0M502.8 198.9h0M498.8 197.8h0M500.1 195.7h0M501.1 195.0h0M500.1 193.9h0M499.9 199.3h0M506.8 198.4h0M507.0 194.6h0M496.9 198.9h0M504.7 201.3h0M502.0 195.4h0M499.6 194.3h0M503.8 201.7h0M496.6 196.2h0M500.1 193.1h0M503.2 202.1h0M499.1 199.6h0M507.2 195.0h0M507.4 199.8h0M503.9 194.2h0M499.1 193.3h0M496.6 197.6h0M498.3 200.0h0M503.0 201.8h0M505.0 193.3h0M500.3 198.1h0M507.4 196.0h0M497.9 195.1h0M498.7 193.8h0M500.0 194.8h0M502.1 201.2h0M502.9 199.0h0M497.5 197.6h0M498.1 195.9h0M499.7 200.4h0M498.5 197.7h0M503.1 195.6h0M507.6 195.6h0M499.7 199.2h0M501.8 199.5h0M497.5 193.8h0M505.1 196.2h0M506.6 194.6h0M498.6 200.9h0M500.2 193.4h0M498.4 200.0h0M499.0 197.9h0M506.3 198.4h0M499.4 201.1h0M502.7 194.3h0" stroke="#3aa88a" stroke-width="1.00" stroke-linecap="round" fill="none"/>
<path d="M495.7 209.6h0M495.8 217.1h0M502.1 204.8h0M506.9 214.1h0M500.3 206.4h0M500.7 219.6h0M502.5 211.8h0M502.8 213.4h0M503.1 207.4h0M497.5 214.0h0M501.2 219.3h0M496.9 205.9h0M496.1 212.5h0M498.1 211.7h0M504.0 209.5h0M501.9 219.4h0M507.7 213.7h0M498.2 211.6h0M501.3 217.9h0M500.4 204.8h0M504.2 207.8h0M506.9 207.6h0M498.1 206.3h0M498.2 214.2h0M502.5 216.5h0M495.3 211.2h0M499.3 208.9h0M503.4 216.5h0M500.0 212.5h0M497.4 208.3h0M504.6 211.8h0M501.4 209.0h0M496.1 217.6h0M495.6 209.0h0M505.0 209.1h0M501.6 213.1h0M501.2 217.2h0M494.4 213.3h0M501.9 211.5h0M499.8 213.1h0M503.1 216.0h0M507.2 215.2h0M497.7 206.5h0M494.8 208.6h0M495.5 215.6h0M504.0 214.4h0M499.4 211.9h0M497.6 219.6h0M502.3 207.1h0M506.5 212.2h0M499.3 205.1h0M497.9 214.0h0M502.4 209.2h0M506.4 215.8h0M504.5 219.1h0M505.9 209.6h0M502.2 208.4h0M496.7 207.5h0M495.4 208.1h0M497.1 215.4h0M500.0 207.4h0M504.0 207.8h0M502.1 207.0h0M500.9 218.7h0M498.2 213.0h0M500.3 205.2h0M498.8 215.7h0M499.9 218.3h0M496.6 212.2h0M501.9 217.5h0M494.1 210.2h0M500.8 214.0h0M495.8 213.2h0M504.1 216.5h0M497.1 211.5h0M498.2 210.6h0M499.1 220.1h0M496.8 208.9h0M506.6 218.3h0M507.7 210.6h0M504.7 212.4h0M494.4 212.5h0M497.3 211.5h0M494.7 210.1h0M500.8 219.2h0M501.0 207.6h0M508.2 212.0h0M500.3 210.4h0M496.9 208.8h0M501.0 214.2h0M507.0 212.4h0M497.8 213.0h0M501.2 209.1h0M497.2 210.1h0M504.7 206.8h0M497.8 206.1h0M499.6 210.3h0M503.9 219.2h0M497.4 217.8h0M498.3 210.9h0M499.3 215.9h0M497.1 211.7h0M503.8 206.9h0M501.6 218.2h0M496.2 211.9h0M496.5 206.4h0M501.0 211.8h0M503.4 218.6h0M504.3 209.7h0M501.0 215.5h0M506.3 215.6h0M501.2 206.3h0M506.7 208.8h0M499.8 219.0h0M497.1 205.5h0M501.4 217.5h0M499.7 218.3h0M499.6 217.9h0M495.4 208.8h0M495.5 216.6h0M500.7 215.1h0M497.3 216.5h0M498.5 218.8h0M497.1 213.6h0M495.0 211.3h0M502.3 208.4h0M500.0 210.2h0M498.5 207.1h0M507.4 217.0h0M497.5 218.5h0M506.0 209.5h0M499.8 218.1h0M494.8 211.3h0M499.0 219.2h0M496.0 215.1h0M498.5 215.0h0M506.0 218.0h0M506.4 209.0h0M497.8 206.1h0M497.5 206.0h0M496.6 217.4h0M499.5 204.8h0M505.8 208.9h0M494.2 214.2h0M504.0 213.6h0M501.7 214.2h0M498.9 213.3h0M497.4 207.0h0M500.4 211.0h0M497.7 219.8h0M500.9 208.0h0M498.7 204.5h0M495.6 215.0h0M505.7 208.6h0M504.1 220.2h0M495.4 213.5h0M500.7 209.3h0M498.0 205.5h0M503.4 207.4h0M500.0 219.8h0M498.9 209.4h0M507.7 213.9h0M502.3 207.8h0M503.3 210.4h0M501.9 210.8h0M504.1 220.3h0M498.3 208.8h0M495.7 209.2h0M498.6 207.1h0M497.7 209.0h0M506.6 211.6h0M501.5 208.9h0M496.6 214.3h0M502.8 207.2h0M501.8 211.7h0M497.2 213.6h0M508.2 209.6h0M505.3 208.2h0M500.6 204.7h0M508.4 214.7h0M502.2 214.6h0M500.0 219.1h0M504.4 211.3h0M498.0 206.5h0M498.4 210.0h0M497.6 213.2h0M494.7 213.4h0M503.4 205.4h0M497.6 216.5h0M498.8 218.9h0" stroke="#9dd0ee" stroke-width="1.00" stroke-linecap="round" fill="none"/>
<path d="M515.5 205.5h0M525.5 221.9h0M529.7 204.7h0M522.0 208.4h0M525.2 202.9h0M528.8 217.5h0M514.1 205.5h0M517.7 224.0h0M520.3 214.6h0M530.8 208.0h0M531.1 204.9h0M525.5 207.5h0M528.6 212.1h0M525.4 206.7h0M523.2 217.0h0M518.6 210.8h0M518.0 198.1h0M528.8 209.5h0M518.4 221.6h0M522.4 217.5h0M529.8 213.5h0M531.1 208.1h0M518.6 215.3h0M519.2 217.3h0M522.0 218.4h0M528.5 213.1h0M517.6 222.3h0M518.9 218.4h0M515.7 215.0h0M518.4 210.6h0M522.1 206.4h0M520.9 225.0h0M529.7 205.5h0M525.3 224.6h0M518.3 221.6h0M527.8 222.7h0M524.2 198.8h0M523.6 217.4h0M526.7 221.8h0M516.8 199.6h0M515.4 203.2h0M527.4 209.4h0M528.7 216.1h0M528.8 219.7h0M529.7 204.4h0M518.1 215.0h0M523.1 219.4h0M528.1 205.2h0M513.0 218.3h0M525.4 204.4h0M515.8 204.3h0M514.0 206.6h0M519.9 221.5h0M529.5 208.3h0M513.1 204.2h0M525.1 208.3h0M522.8 218.2h0M524.8 221.9h0M512.2 205.0h0M511.1 211.7h0M523.8 203.7h0M511.5 210.0h0M514.0 201.9h0M518.7 224.5h0M518.2 217.4h0M518.5 208.3h0M513.4 201.6h0M527.3 209.0h0M529.6 204.0h0M519.9 213.1h0M514.0 208.9h0M516.5 220.4h0M515.5 206.0h0M521.9 207.8h0M523.6 206.2h0M528.3 204.1h0M524.6 208.9h0M521.9 211.8h0M524.1 198.1h0M515.9 206.8h0M515.6 215.5h0M531.9 208.2h0M517.4 206.6h0M511.4 205.8h0M522.4 202.3h0M528.3 203.4h0M514.6 221.0h0M517.0 213.1h0M517.1 206.3h0M514.1 217.8h0M513.4 205.1h0M511.9 215.5h0M526.3 218.5h0M527.3 207.9h0M520.0 224.1h0M520.2 214.6h0M526.6 213.9h0M515.4 218.6h0M519.5 217.3h0M513.9 219.8h0M529.3 215.4h0M523.6 203.7h0M517.5 203.2h0M520.0 215.5h0M526.3 217.3h0M517.9 206.2h0M515.2 208.5h0M527.2 206.1h0M525.3 207.2h0M524.3 208.9h0M530.4 209.8h0M528.2 213.4h0M518.5 225.1h0M523.7 214.8h0M530.7 209.1h0M528.4 219.3h0M529.2 209.3h0M524.7 198.9h0M526.5 206.8h0M514.1 221.2h0M519.5 202.7h0M527.5 203.1h0M529.2 210.5h0M530.9 205.0h0M530.7 205.2h0M520.2 215.1h0M522.5 216.2h0M525.6 204.1h0M523.5 213.0h0M521.2 224.0h0M516.8 223.5h0M514.0 216.9h0M527.2 204.3h0M511.6 209.0h0M525.7 204.6h0M516.2 206.3h0M518.5 205.1h0M516.1 216.3h0M518.6 217.8h0M520.0 206.3h0M513.8 203.0h0M530.1 209.8h0M517.2 202.7h0M529.6 217.2h0M525.6 220.2h0M515.6 218.0h0M511.9 216.0h0M517.4 216.0h0M515.3 206.7h0M525.0 224.3h0M517.8 201.2h0M513.0 216.2h0M517.9 201.2h0M512.8 208.3h0M521.7 223.1h0M520.3 219.5h0M522.2 216.1h0M528.7 213.3h0M517.1 200.9h0M514.0 215.3h0M527.3 221.9h0M530.4 204.7h0M517.7 202.0h0M522.3 224.5h0M527.0 209.2h0M513.8 221.4h0M530.0 219.1h0M516.7 207.8h0M523.1 223.6h0M515.6 208.7h0M515.7 220.4h0M525.2 210.4h0M519.3 204.0h0M527.2 210.7h0M511.8 214.9h0M526.1 214.5h0M519.1 219.6h0M524.3 202.9h0M521.1 217.4h0M524.0 212.4h0M526.5 200.1h0M524.0 209.1h0M512.8 207.5h0M519.5 212.5h0M530.3 214.1h0M517.0 216.0h0M517.5 212.8h0M512.5 213.0h0M520.8 215.5h0M522.8 213.3h0M526.5 200.1h0M526.8 214.8h0M525.4 208.1h0M520.4 222.6h0M529.5 212.6h0M519.3 212.1h0M524.7 213.0h0M529.6 220.1h0M512.6 206.3h0M529.8 218.8h0M513.1 211.2h0M528.4 210.6h0M511.7 215.4h0M529.2 204.5h0M525.8 203.7h0M514.8 206.1h0M515.5 208.8h0M521.0 216.8h0M531.6 214.5h0M524.9 201.3h0M529.5 214.0h0M521.8 210.7h0M521.6 222.0h0M512.0 216.5h0M518.6 212.2h0M524.0 220.9h0M516.6 219.2h0M522.6 207.7h0M524.4 215.7h0M529.3 204.9h0M514.1 206.2h0M521.6 199.4h0M519.6 206.7h0M512.2 214.2h0M520.2 200.9h0M527.6 208.4h0M519.3 198.9h0M516.7 203.8h0M511.3 206.0h0M514.0 202.5h0M525.1 200.9h0M516.8 201.1h0M523.4 222.5h0M528.6 210.2h0M527.6 219.8h0M524.3 220.2h0M518.6 218.5h0M521.8 218.3h0M526.6 198.1h0M519.7 213.8h0M525.1 206.4h0M511.2 206.1h0M524.4 198.6h0M515.6 206.0h0M514.7 221.1h0M517.7 204.8h0M525.5 198.7h0M518.1 219.9h0M519.7 198.9h0M520.7 201.2h0M519.1 203.9h0M517.7 225.0h0M528.5 217.3h0M515.7 218.6h0M525.7 211.9h0M515.6 202.3h0M519.5 204.4h0M529.8 210.1h0M525.2 223.0h0M524.0 200.9h0M517.3 223.8h0M523.9 221.7h0M528.3 218.0h0M525.7 207.3h0M511.7 215.2h0M523.1 197.9h0M525.4 221.4h0M526.9 212.0h0M530.0 215.1h0M523.4 202.2h0M531.3 209.2h0M527.8 217.7h0M516.4 202.1h0M511.7 205.7h0M517.1 221.5h0M521.1 221.1h0M523.5 219.1h0M518.2 222.4h0M530.3 217.4h0M523.5 197.6h0M530.7 215.9h0M523.8 221.4h0M515.5 214.7h0M525.3 218.8h0M512.4 217.9h0M530.2 215.0h0M512.5 203.0h0M529.1 213.8h0M517.7 220.2h0M524.5 199.6h0M515.4 220.4h0M521.8 217.5h0M517.5 198.0h0M519.5 224.1h0M526.4 202.5h0M528.9 216.1h0M516.7 204.2h0M514.2 208.2h0M518.2 204.7h0M529.5 218.9h0M521.1 225.0h0M525.1 224.7h0M528.4 215.1h0M525.6 219.3h0M527.0 222.3h0M517.8 207.0h0M515.7 223.8h0M530.2 209.4h0M519.1 200.1h0M531.5 215.1h0M521.6 218.6h0M517.9 211.3h0M531.1 211.3h0M527.9 211.8h0M519.9 207.1h0M513.3 221.1h0M521.5 221.3h0M518.4 219.3h0M510.4 210.1h0M517.6 203.7h0M516.9 208.7h0M521.2 211.8h0M526.5 220.9h0M531.5 216.2h0M515.9 213.5h0M519.9 203.2h0M517.6 203.0h0M522.2 198.1h0M522.3 208.5h0M531.7 213.5h0M511.7 213.4h0M525.8 200.1h0M519.2 202.5h0M522.2 220.8h0M515.6 200.3h0M513.4 214.5h0M511.8 211.9h0M528.1 219.1h0M519.8 203.4h0M521.6 200.7h0M531.0 210.1h0M525.7 207.6h0M529.0 205.6h0M514.8 200.4h0M524.2 212.8h0M526.7 199.6h0M517.6 218.9h0M513.5 209.6h0M511.3 216.4h0M512.5 219.9h0M523.8 201.8h0M525.7 206.6h0M521.8 212.8h0M516.3 208.6h0M527.6 222.0h0M529.0 213.1h0M530.1 219.9h0M518.9 219.8h0M524.9 197.9h0M519.2 222.1h0M520.7 201.6h0M523.4 224.4h0M531.0 212.8h0M515.0 211.1h0M516.7 205.5h0M517.3 202.2h0M510.6 213.3h0M518.4 215.6h0M523.1 210.5h0M527.4 213.3h0M530.1 213.7h0M525.8 206.0h0M521.0 198.5h0M526.3 215.5h0M513.1 215.5h0M526.4 198.3h0M517.8 197.7h0M512.4 202.2h0M510.9 207.2h0M526.8 215.9h0M523.6 210.1h0M528.2 213.2h0M523.8 218.5h0M528.4 203.3h0M528.0 215.5h0M516.4 204.7h0M514.1 212.5h0M516.5 201.0h0M513.4 218.1h0M517.2 213.1h0M523.3 200.3h0M527.4 204.8h0M520.3 204.7h0M521.1 205.3h0M517.4 200.8h0M516.5 208.4h0M512.9 203.0h0M519.3 213.6h0M522.1 207.2h0M525.2 218.5h0M516.1 203.3h0M524.1 208.4h0M522.2 206.6h0M515.0 222.1h0M515.1 219.8h0M512.1 205.7h0M530.2 215.4h0M526.8 214.8h0M514.5 204.9h0M520.4 214.6h0M514.8 207.4h0M524.5 218.5h0M530.3 203.5h0M515.6 208.2h0M517.1 220.7h0M518.5 207.3h0M521.4 213.0h0M526.5 199.5h0M529.1 203.5h0M515.9 212.2h0" stroke="#4a7fc6" stroke-width="1.00" stroke-linecap="round" fill="none"/>
<path d="M547.6 200.6h0M541.2 201.1h0M535.7 199.3h0M537.8 208.6h0M534.4 201.3h0M540.2 201.4h0M548.1 200.2h0M545.2 196.9h0M548.7 201.6h0M536.2 204.7h0M539.7 203.2h0M542.0 209.8h0M541.6 201.7h0M544.8 200.4h0M537.6 206.5h0M541.3 207.7h0M544.1 203.4h0M546.1 202.4h0M544.0 202.2h0M539.3 206.3h0M541.0 201.7h0M540.0 201.8h0M537.3 206.8h0M547.2 202.4h0M546.8 199.3h0M544.1 209.3h0M544.9 205.3h0M541.1 195.9h0M535.9 207.3h0M536.7 205.2h0M536.4 206.2h0M548.3 204.1h0M541.1 207.8h0M536.2 199.2h0M547.6 202.7h0M544.1 208.8h0M543.9 196.3h0M539.8 204.1h0M546.9 201.0h0M534.4 203.7h0M543.5 202.9h0M542.0 195.5h0M539.2 205.8h0M537.0 206.5h0M537.1 201.4h0M538.4 196.9h0M547.3 200.0h0M545.3 208.2h0M541.9 198.5h0M538.1 197.9h0M546.8 203.9h0M543.9 196.2h0M538.6 208.2h0M543.2 206.2h0M541.5 198.0h0M547.7 198.9h0M536.6 204.6h0M535.3 206.3h0M544.7 200.7h0M541.7 202.2h0M536.8 200.4h0M543.4 202.6h0M536.6 206.2h0M545.9 204.8h0M544.3 198.8h0M546.6 203.7h0M536.7 205.1h0M543.4 203.4h0M541.1 206.3h0M545.0 203.7h0M548.7 201.0h0M543.5 196.9h0M542.6 204.0h0M540.8 199.6h0M536.4 199.9h0M540.7 209.3h0M541.7 205.0h0M537.5 203.0h0M545.3 205.0h0M546.6 202.0h0M538.7 205.6h0M535.6 206.4h0M540.9 198.7h0M541.5 195.3h0M544.4 205.5h0M537.7 199.5h0M545.6 200.7h0M539.2 209.0h0M542.2 203.0h0M543.2 195.6h0M540.0 206.7h0M543.8 208.2h0M538.7 202.0h0M537.5 197.7h0M536.5 201.5h0M540.2 206.3h0M545.7 203.0h0M543.8 201.9h0M538.7 202.5h0M543.5 209.1h0M543.6 196.3h0M543.3 207.6h0M544.5 196.8h0M540.4 197.9h0M543.9 205.5h0M545.1 200.3h0M543.0 198.1h0M534.5 203.3h0M544.8 198.4h0M539.8 206.8h0M534.8 205.5h0M540.5 200.8h0M541.3 200.2h0M546.9 204.9h0M539.8 196.8h0M541.6 209.8h0M539.3 202.0h0M540.1 196.7h0M536.8 202.9h0M544.8 205.6h0M544.1 205.0h0M539.0 198.8h0M539.8 200.9h0M543.2 199.0h0M540.8 208.5h0M543.0 205.3h0M543.8 196.6h0M541.6 208.6h0M536.5 206.4h0M543.0 205.8h0M542.3 200.2h0M545.8 197.5h0M539.4 201.1h0M544.2 206.3h0M542.5 204.0h0M538.2 203.8h0M546.7 201.5h0M545.3 202.5h0M541.7 204.0h0M536.1 198.2h0M536.6 202.9h0M544.0 205.5h0M537.1 199.9h0M536.2 204.7h0M540.3 199.0h0M541.2 209.7h0M538.8 198.2h0M544.7 208.5h0M536.5 207.8h0M542.8 208.4h0" stroke="#d35cc8" stroke-width="1.00" stroke-linecap="round" fill="none"/>
<path d="M540.9 209.8h0M534.8 210.1h0M532.4 210.6h0M538.5 205.7h0M535.3 211.1h0M531.9 212.6h0M532.5 211.7h0M536.4 214.0h0M535.5 207.7h0M532.4 214.5h0M538.6 214.6h0M539.5 211.6h0M540.3 212.8h0M537.1 215.2h0M537.3 214.3h0M540.7 209.4h0M538.5 208.2h0M535.3 215.7h0M538.6 215.3h0M540.1 212.2h0M538.6 214.2h0M538.3 211.8h0M537.4 213.6h0M535.9 212.9h0M532.2 211.2h0M537.0 211.7h0M532.6 205.9h0M537.4 205.8h0M539.0 206.7h0M538.8 208.9h0M540.3 207.2h0M531.4 213.1h0M538.8 208.8h0M535.2 212.9h0M533.0 209.4h0M536.3 208.2h0M539.6 210.1h0M536.3 208.9h0M533.1 215.9h0M530.4 213.1h0M532.9 211.1h0M530.7 208.3h0M535.4 213.6h0M531.9 207.1h0M539.5 211.0h0M532.1 213.1h0M538.3 208.9h0M540.5 210.9h0M535.7 209.4h0M534.3 209.0h0M539.4 210.0h0M532.3 210.0h0M540.6 212.6h0M530.8 209.7h0M535.1 204.5h0M530.7 211.5h0M533.3 207.1h0M537.8 209.1h0M537.9 214.9h0M536.4 208.8h0M531.2 212.8h0M537.6 214.5h0M540.0 212.2h0M530.6 213.5h0M530.2 212.5h0M536.2 213.6h0M538.7 208.4h0M541.2 212.3h0M538.1 212.9h0M532.0 215.4h0M537.3 207.2h0M534.0 206.2h0M534.7 217.2h0M534.1 209.4h0M530.9 214.0h0M531.1 212.2h0M539.3 211.6h0M536.0 216.7h0M537.3 213.4h0M536.6 208.5h0M534.5 214.9h0M532.0 212.7h0M538.1 206.3h0M539.8 207.5h0M541.1 208.8h0M536.8 216.6h0M539.3 210.6h0M531.8 212.3h0M536.6 205.1h0M534.1 216.3h0M535.8 206.7h0M537.2 210.2h0M540.5 210.7h0M533.8 208.8h0M537.0 216.6h0M535.2 207.6h0M537.9 207.5h0M531.6 207.8h0M531.1 213.6h0M532.9 209.5h0" stroke="#d45a5a" stroke-width="1.00" stroke-linecap="round" fill="none"/>
<path d="M533.1 223.8h0M533.6 223.4h0M539.6 220.9h0M539.3 223.4h0M533.1 230.6h0M533.0 230.2h0M530.8 226.4h0M540.6 226.3h0M536.6 224.6h0M535.1 227.5h0M537.7 232.0h0M532.7 220.7h0M542.5 225.6h0M538.6 227.3h0M540.7 230.2h0M540.6 227.4h0M537.7 220.2h0M542.2 226.8h0M535.9 231.7h0M532.0 221.0h0M541.3 221.4h0M541.2 224.2h0M538.3 227.0h0M534.9 225.8h0M538.7 220.4h0M532.1 221.7h0M534.9 229.3h0M536.8 222.9h0M540.5 221.2h0M539.6 229.1h0M530.5 226.5h0M537.9 232.1h0M533.5 224.9h0M542.5 223.6h0M534.9 222.0h0M532.1 228.2h0M538.5 221.8h0M536.4 222.5h0M541.6 223.5h0M538.2 231.3h0M536.3 227.5h0M533.1 228.2h0M539.9 226.8h0M541.9 225.1h0M537.5 227.1h0M538.0 219.1h0M533.3 219.8h0M538.7 230.5h0M538.9 229.9h0M534.0 218.9h0M535.1 220.9h0M533.6 221.8h0M531.7 228.1h0M538.0 230.0h0M537.4 232.1h0M536.7 218.9h0M530.9 222.9h0M539.4 226.4h0M532.7 226.3h0M538.8 224.5h0M532.3 222.8h0M540.4 228.5h0M535.6 229.8h0M537.5 228.0h0M543.3 223.6h0M531.7 224.2h0M537.5 220.4h0M534.6 224.9h0M534.3 231.8h0M539.5 220.6h0M535.8 218.5h0M535.1 225.8h0M541.0 223.1h0M538.7 227.8h0M536.9 227.1h0M535.9 227.0h0M535.9 231.3h0M539.8 223.6h0M536.6 225.7h0M540.0 225.3h0M538.5 221.6h0M530.1 227.9h0M542.7 223.9h0M538.8 222.2h0M539.4 224.6h0M540.9 222.4h0M534.0 227.3h0M538.1 232.1h0M531.7 228.4h0M535.6 225.1h0M537.4 225.0h0M531.9 228.0h0M533.0 222.6h0M540.7 228.0h0M539.9 231.4h0M541.8 221.6h0M543.6 225.8h0M537.4 222.4h0M534.8 226.3h0M534.2 228.2h0M540.0 227.2h0M530.1 226.4h0M534.3 228.5h0M539.7 225.5h0M540.0 220.5h0M535.1 231.6h0M537.4 221.5h0M537.1 230.4h0M539.2 230.2h0M542.8 225.5h0M534.5 220.9h0M539.0 231.3h0M540.5 226.3h0M532.3 231.0h0M536.9 219.1h0M534.6 228.1h0M541.8 221.3h0M537.9 219.7h0M543.6 226.4h0M540.3 227.9h0" stroke="#b07d6c" stroke-width="1.00" stroke-linecap="round" fill="none"/>
<path d="M509.8 232.5h0M505.8 230.9h0M504.3 230.7h0M511.8 233.8h0M510.6 233.5h0M506.5 233.8h0M512.4 234.8h0M512.0 233.8h0M512.9 231.8h0M515.6 233.9h0M507.5 234.7h0M512.2 237.8h0M511.5 233.4h0M507.7 232.4h0M506.8 234.5h0M514.5 234.2h0M514.8 230.9h0M512.2 238.1h0M515.6 233.8h0M515.2 232.1h0M515.6 235.2h0M505.0 233.6h0M508.0 237.3h0M506.7 235.6h0M512.6 228.6h0M513.4 237.1h0M508.9 231.1h0M515.9 231.9h0M505.8 231.3h0M509.1 233.1h0M511.0 236.9h0M516.0 232.2h0M508.9 238.2h0M508.5 231.8h0M514.5 232.9h0M511.7 230.9h0M512.1 231.7h0M513.5 233.1h0M515.3 233.7h0M514.5 232.5h0M512.0 230.6h0M510.9 235.0h0M505.6 233.7h0M509.5 236.9h0M508.7 228.0h0M510.0 232.8h0M515.4 235.0h0M513.4 231.7h0M504.2 235.0h0M515.1 234.9h0M510.9 233.6h0M507.0 236.3h0M508.8 234.8h0M513.5 235.7h0M514.0 234.9h0M509.7 229.7h0M515.6 235.6h0M510.4 235.1h0M512.3 230.8h0M509.5 228.4h0M514.4 236.0h0M504.4 234.6h0M512.6 232.4h0M508.1 235.7h0M503.1 232.9h0M506.4 232.6h0M510.4 232.3h0M513.2 236.4h0M509.7 230.7h0M513.9 229.0h0M511.0 234.7h0M504.5 229.9h0M512.0 237.1h0M508.2 233.5h0M512.5 234.1h0M509.2 234.7h0M512.5 236.5h0M510.5 235.0h0M505.6 229.5h0M513.9 230.2h0M508.9 237.4h0M505.0 235.2h0M506.3 234.6h0M513.9 236.7h0M513.4 233.4h0M510.3 229.6h0M504.6 235.9h0M505.5 235.6h0M509.0 234.4h0M513.1 231.0h0M514.1 236.0h0M510.8 234.0h0M508.1 238.4h0M508.2 230.4h0M510.5 237.8h0M515.4 234.1h0M508.3 235.9h0M510.5 236.8h0M514.2 235.4h0M516.0 234.8h0M516.1 234.9h0M505.9 234.6h0M513.3 232.4h0M505.2 231.6h0M513.5 230.0h0M513.7 235.7h0M510.4 234.9h0M513.0 231.3h0M505.8 235.3h0M508.6 232.3h0" stroke="#e2cf36" stroke-width="1.00" stroke-linecap="round" fill="none"/>
<path d="M520.1 230.2h0M520.3 231.1h0M521.4 224.8h0M522.5 231.8h0M523.7 225.8h0M519.6 230.7h0M523.3 226.8h0M520.3 227.8h0M521.3 227.8h0M521.8 231.8h0M522.7 232.8h0M523.0 227.2h0M526.4 230.8h0M525.7 226.6h0M526.8 230.7h0M522.0 226.8h0M520.6 227.4h0M523.2 228.3h0M521.4 230.7h0M523.1 233.6h0M523.1 229.1h0M520.7 229.9h0M523.5 234.0h0M519.5 227.3h0M520.4 226.5h0" stroke="#b07d6c" stroke-width="1.00" stroke-linecap="round" fill="none"/>
<text x="521.30" y="259.50" font-size="8" text-anchor="middle" fill="#111" textLength="38.60" lengthAdjust="spacingAndGlyphs">scRNA-seq</text>
<rect x="579.2" y="209.2" width="83.6" height="24.3" fill="#d5dce6" stroke="#6b7d9c" stroke-width="0.8"/>
<rect x="579.6" y="209.6" width="23" height="23.5" fill="#b2bccb"/>
<line x1="602.60" y1="209.20" x2="602.60" y2="233.50" stroke="#6b7d9c" stroke-width="0.6"/>
<path d="M609 209.6 L618 209.6 L632 233.1 L623 233.1Z" fill="#e4e9f0"/>
<ellipse cx="629" cy="221" rx="14.5" ry="5.3" fill="#55506e" opacity="0.85"/>
<circle cx="619.7" cy="214.1" r="2.0" fill="#3a8a3a"/>
<circle cx="624.5" cy="214.1" r="2.0" fill="#6aaa5a"/>
<circle cx="629.4" cy="214.1" r="2.0" fill="#9ed08a"/>
<circle cx="634.2" cy="214.1" r="2.0" fill="#c8e6c0"/>
<circle cx="639.0" cy="214.1" r="2.0" fill="#e8f4e6"/>
<circle cx="619.7" cy="219.3" r="2.0" fill="#c08a3a"/>
<circle cx="624.5" cy="219.3" r="2.0" fill="#d8b830"/>
<circle cx="629.4" cy="219.3" r="2.0" fill="#e0c060"/>
<circle cx="634.2" cy="219.3" r="2.0" fill="#e8d8a0"/>
<circle cx="639.0" cy="219.3" r="2.0" fill="#f0ece6"/>
<circle cx="619.7" cy="223.6" r="2.0" fill="#b02030"/>
<circle cx="624.5" cy="223.6" r="2.0" fill="#d05060"/>
<circle cx="629.4" cy="223.6" r="2.0" fill="#d88090"/>
<circle cx="634.2" cy="223.6" r="2.0" fill="#e0a0b0"/>
<circle cx="639.0" cy="223.6" r="2.0" fill="#f0c8d0"/>
<circle cx="619.7" cy="228.0" r="2.0" fill="#3060a0"/>
<circle cx="624.5" cy="228.0" r="2.0" fill="#3a70b0"/>
<circle cx="629.4" cy="228.0" r="2.0" fill="#90a8d8"/>
<circle cx="634.2" cy="228.0" r="2.0" fill="#c0e0f0"/>
<circle cx="639.0" cy="228.0" r="2.0" fill="#e8eef8"/>
<text x="617.00" y="259.50" font-size="8" text-anchor="middle" fill="#111" textLength="115.50" lengthAdjust="spacingAndGlyphs">Public spatial transcriptomics data</text>
<text x="2.30" y="288.90" font-size="16.5" font-weight="bold">b</text>
<rect x="4.4" y="295.4" width="215.6" height="138.6" rx="10" fill="#fff" stroke="#2a2a2a" stroke-width="1.05"/>
<text x="16.80" y="315.90" font-size="8.6" fill="#222" textLength="195.20" lengthAdjust="spacingAndGlyphs">CRC patients (N=273) with bulk RNA-seq for both</text>
<text x="16.80" y="325.70" font-size="8.6" fill="#222" textLength="193.00" lengthAdjust="spacingAndGlyphs">NBT (N=273) and paired tumor samples (N=273)</text>
<rect x="7" y="340.4" width="208" height="90.3" rx="9" fill="#eef4fa" stroke="#2a2a2a" stroke-width="1.05"/>
<text x="18.80" y="357.50" font-size="8.6" fill="#222" textLength="166.00" lengthAdjust="spacingAndGlyphs">Patients (N=47) underwent scRNA-seq for</text>
<text x="18.80" y="366.90" font-size="8.6" fill="#222" textLength="148.00" lengthAdjust="spacingAndGlyphs">NBT (N=13) or tumor samples (N=52)</text>
<rect x="10.7" y="380.3" width="200.2" height="43.7" rx="7" fill="#dce9f4" stroke="#2a2a2a" stroke-width="1.05"/>
<text x="16.80" y="398.80" font-size="8.6" fill="#222" textLength="172.00" lengthAdjust="spacingAndGlyphs">Patients (N=44) with 16S rRNA-seq for both</text>
<text x="16.80" y="408.80" font-size="8.6" fill="#222" textLength="183.00" lengthAdjust="spacingAndGlyphs">NBT (N=44) and paired tumor samples (N=44)</text>
<rect x="4.2" y="436.6" width="215.8" height="29.6" rx="7" fill="#fbfbfc" stroke="#2a2a2a" stroke-width="1.05"/>
<text x="16.80" y="449.60" font-size="8.6" fill="#222" textLength="182.00" lengthAdjust="spacingAndGlyphs">TCGA dataset with RNA-seq for both NBT and</text>
<text x="16.80" y="459.90" font-size="8.6" fill="#222" textLength="85.00" lengthAdjust="spacingAndGlyphs">paried tumor samples</text>
<text x="231.00" y="289.40" font-size="14" font-weight="bold">c</text>
<text x="257.40" y="311.80" font-size="7.9" fill="#222" textLength="53.10" lengthAdjust="spacingAndGlyphs">Tumor vs. NBT</text>
<line x1="267.80" y1="314.00" x2="267.80" y2="442.00" stroke="#efefef" stroke-width="0.5"/>
<line x1="288.10" y1="314.00" x2="288.10" y2="442.00" stroke="#efefef" stroke-width="0.5"/>
<line x1="308.40" y1="314.00" x2="308.40" y2="442.00" stroke="#efefef" stroke-width="0.5"/>
<line x1="328.70" y1="314.00" x2="328.70" y2="442.00" stroke="#efefef" stroke-width="0.5"/>
<line x1="349.00" y1="314.00" x2="349.00" y2="442.00" stroke="#efefef" stroke-width="0.5"/>
<line x1="369.30" y1="314.00" x2="369.30" y2="442.00" stroke="#efefef" stroke-width="0.5"/>
<line x1="389.60" y1="314.00" x2="389.60" y2="442.00" stroke="#efefef" stroke-width="0.5"/>
<line x1="409.90" y1="314.00" x2="409.90" y2="442.00" stroke="#efefef" stroke-width="0.5"/>
<line x1="257.40" y1="437.70" x2="414.00" y2="437.70" stroke="#efefef" stroke-width="0.5"/>
<line x1="257.40" y1="423.89" x2="414.00" y2="423.89" stroke="#efefef" stroke-width="0.5"/>
<line x1="257.40" y1="410.07" x2="414.00" y2="410.07" stroke="#efefef" stroke-width="0.5"/>
<line x1="257.40" y1="396.26" x2="414.00" y2="396.26" stroke="#efefef" stroke-width="0.5"/>
<line x1="257.40" y1="382.45" x2="414.00" y2="382.45" stroke="#efefef" stroke-width="0.5"/>
<line x1="257.40" y1="368.64" x2="414.00" y2="368.64" stroke="#efefef" stroke-width="0.5"/>
<line x1="257.40" y1="354.82" x2="414.00" y2="354.82" stroke="#efefef" stroke-width="0.5"/>
<line x1="257.40" y1="341.01" x2="414.00" y2="341.01" stroke="#efefef" stroke-width="0.5"/>
<line x1="257.40" y1="327.20" x2="414.00" y2="327.20" stroke="#efefef" stroke-width="0.5"/>
<text x="256.00" y="439.30" font-size="4.6" text-anchor="end" fill="#555">0</text>
<text x="256.00" y="411.68" font-size="4.6" text-anchor="end" fill="#555">50</text>
<text x="256.00" y="384.05" font-size="4.6" text-anchor="end" fill="#555">100</text>
<text x="256.00" y="356.43" font-size="4.6" text-anchor="end" fill="#555">150</text>
<text x="256.00" y="328.80" font-size="4.6" text-anchor="end" fill="#555">200</text>
<text x="288.10" y="449.00" font-size="4.6" text-anchor="middle" fill="#555">−5</text>
<text x="328.70" y="449.00" font-size="4.6" text-anchor="middle" fill="#555">0</text>
<text x="369.30" y="449.00" font-size="4.6" text-anchor="middle" fill="#555">5</text>
<text x="409.90" y="449.00" font-size="4.6" text-anchor="middle" fill="#555">10</text>
<text x="328.7" y="454.5" font-size="6" text-anchor="middle" fill="#333">log<tspan font-size="4" dy="1.5">2</tspan><tspan dy="-1.5">FC</tspan></text>
<text x="0" y="0" font-size="7.2" text-anchor="middle" fill="#333" transform="translate(246.4,376.5) rotate(-90)">−log<tspan font-size="4.8" dy="1.6">10</tspan><tspan dy="-1.6">FDR</tspan></text>
<text x="266.80" y="460.30" font-size="7.2" font-weight="bold" fill="#111">NBT</text>
<text x="384.60" y="460.30" font-size="7.2" font-weight="bold" fill="#111">Tumor</text>
<path d="M325.7 418.7h0M326.9 430.1h0M333.3 419.0h0M323.3 387.3h0M332.6 428.1h0M334.6 413.0h0M335.6 415.6h0M333.3 412.6h0M321.5 384.6h0M334.5 378.3h0M336.6 377.7h0M336.5 368.9h0M335.4 368.0h0M333.4 390.4h0M333.1 390.5h0M334.2 426.7h0M328.4 425.4h0M323.0 390.2h0M335.3 425.4h0M329.9 416.4h0M324.7 406.5h0M323.1 434.0h0M335.0 388.6h0M333.8 385.7h0M336.2 430.9h0M323.5 406.6h0M322.6 405.8h0M335.5 399.8h0M320.8 420.6h0M335.9 390.3h0M321.9 402.7h0M326.9 433.6h0M333.1 431.4h0M324.2 391.9h0M334.8 365.2h0M324.9 392.9h0M322.5 422.4h0M334.5 384.3h0M328.9 435.4h0M334.9 402.7h0M332.2 401.8h0M322.5 428.6h0M323.3 410.1h0M332.8 420.8h0M329.6 424.8h0M334.2 366.6h0M336.5 401.0h0M334.8 424.6h0M327.9 430.0h0M326.0 432.4h0M321.6 395.6h0M323.6 403.2h0M321.1 405.6h0M330.7 415.3h0M335.5 398.1h0M323.8 436.4h0M336.7 418.0h0M334.5 386.5h0M335.1 372.7h0M320.9 420.7h0M333.1 408.4h0M332.0 426.8h0M323.0 430.9h0M323.5 378.6h0M334.8 365.8h0M336.5 434.1h0M322.4 433.6h0M336.4 424.9h0M327.7 435.0h0M334.2 422.2h0M336.6 418.0h0M326.8 425.8h0M321.5 383.2h0M335.0 436.1h0M336.3 423.1h0M333.0 391.3h0M322.9 389.0h0M335.4 363.2h0M324.7 397.7h0M322.0 399.3h0M321.7 400.7h0M327.8 425.6h0M323.1 420.5h0M334.7 378.5h0M326.2 405.1h0M334.1 428.4h0M335.0 368.6h0M335.6 366.1h0M334.3 429.6h0M323.9 408.6h0M321.8 406.8h0M321.9 379.5h0M334.7 395.0h0M331.2 429.8h0M335.9 421.4h0M337.2 434.6h0M335.4 388.8h0M323.1 383.3h0M333.8 382.1h0M324.4 393.5h0M330.0 418.6h0M320.8 406.3h0M321.4 421.8h0M329.4 431.7h0M334.7 384.3h0M321.9 404.8h0M333.4 389.8h0M335.9 367.5h0M323.1 386.4h0M336.2 433.6h0M321.0 407.3h0M324.9 399.3h0M323.0 403.9h0M327.2 416.6h0M332.7 410.6h0M331.0 426.1h0M335.7 400.1h0M320.7 427.8h0M335.0 406.5h0M324.8 387.6h0M325.6 413.5h0M336.4 382.2h0M323.6 378.8h0M333.9 405.0h0M334.9 418.1h0M335.4 391.4h0M327.3 431.4h0M327.0 405.0h0M323.5 433.9h0M323.8 436.3h0M334.1 390.8h0M330.1 427.6h0M323.1 384.6h0M324.9 421.4h0M323.2 389.2h0M336.7 384.4h0M325.3 429.4h0M336.8 384.1h0M328.9 434.9h0M335.9 391.0h0M332.4 388.2h0M335.1 372.6h0M324.4 424.1h0M332.2 395.8h0M320.6 411.0h0M334.1 385.0h0M334.9 415.7h0M324.0 391.3h0M336.4 392.2h0M324.7 391.8h0M323.3 432.2h0M331.3 419.4h0M320.6 401.0h0M321.6 426.3h0M327.8 420.6h0M324.9 393.5h0M327.6 424.6h0M334.5 431.4h0M334.4 395.1h0M323.8 415.6h0M334.0 401.0h0M334.4 437.3h0M333.3 409.6h0M321.2 426.0h0M332.8 424.6h0M333.4 437.5h0M335.2 395.8h0M332.3 423.3h0M331.5 405.8h0M333.4 400.5h0M325.0 391.7h0M320.9 413.8h0M327.5 432.4h0M323.1 416.1h0M323.1 401.7h0M335.1 381.1h0M327.1 418.7h0M332.0 417.4h0M321.0 424.3h0M333.1 384.8h0M332.8 396.7h0M327.0 421.1h0M322.5 410.1h0M332.4 386.8h0M336.2 387.8h0M336.8 377.6h0M332.6 396.8h0M320.7 386.4h0M326.4 405.5h0M331.1 412.9h0M336.1 390.4h0M334.9 365.2h0M331.4 433.4h0M336.3 384.1h0M326.9 411.4h0M322.0 424.9h0M323.4 382.2h0M321.5 387.8h0M333.2 407.5h0M325.1 394.0h0M330.2 427.4h0M322.1 423.6h0M324.3 391.9h0M337.9 436.0h0M324.7 387.6h0M325.6 425.0h0M325.8 437.4h0M335.2 388.5h0M331.1 399.7h0M334.0 399.2h0M335.8 395.8h0M319.2 437.2h0M323.5 392.6h0M325.1 420.2h0M335.7 402.2h0M330.8 407.5h0M320.8 418.4h0M330.8 418.1h0M331.7 404.0h0M325.6 397.2h0M320.7 389.9h0M335.7 373.1h0M330.4 414.8h0M322.3 422.4h0M327.2 432.1h0M335.1 373.9h0M326.6 406.1h0M321.0 405.7h0M323.9 379.8h0M323.5 402.1h0M335.2 372.4h0M325.2 437.0h0M324.6 389.4h0M323.5 436.9h0M332.8 410.7h0M321.4 398.8h0M335.4 427.1h0M321.7 391.2h0M336.1 376.8h0M324.9 427.9h0M320.7 407.7h0M321.4 399.2h0M328.7 433.3h0M336.4 425.6h0M325.6 412.6h0M333.7 387.1h0M337.3 435.6h0M336.1 379.1h0M324.4 416.4h0M325.6 424.8h0M336.2 381.3h0M326.6 418.7h0M335.1 402.2h0M336.4 423.6h0M331.6 403.7h0M325.6 405.3h0M323.4 380.7h0M336.2 379.0h0M323.7 420.8h0M335.5 403.2h0M327.1 424.8h0M333.6 392.4h0M325.3 425.5h0M331.7 403.9h0M328.1 436.4h0M336.7 390.4h0M334.1 423.4h0M336.6 395.9h0M332.5 418.1h0M336.3 405.8h0M321.9 390.1h0M335.9 371.2h0M325.0 411.2h0M325.4 415.5h0M327.9 428.8h0M326.4 429.9h0M321.5 390.1h0M327.4 420.1h0M334.1 430.3h0M333.1 425.3h0M321.7 428.7h0M334.9 410.3h0M324.8 412.0h0M331.4 410.3h0M334.6 433.7h0M323.6 379.6h0M322.2 401.9h0M332.6 436.9h0M331.5 402.0h0M324.6 414.1h0M332.4 416.5h0M323.3 414.9h0M330.7 437.6h0M334.7 435.6h0M331.1 412.4h0M326.1 403.0h0M325.0 429.9h0M332.3 397.7h0M336.0 374.6h0M335.9 366.4h0M332.6 386.1h0M320.9 399.6h0M324.2 390.6h0M326.3 419.7h0M322.5 380.0h0M331.8 416.7h0M328.1 436.0h0M336.6 398.2h0M334.3 400.2h0M325.1 392.9h0M329.7 424.2h0M334.3 425.6h0M329.9 435.2h0M321.1 430.3h0M329.3 422.3h0M322.9 402.8h0M335.4 364.9h0M330.7 422.6h0M333.7 437.2h0M335.2 402.5h0M336.3 367.3h0M334.0 387.6h0M335.9 365.4h0M324.4 406.2h0M323.6 392.1h0M321.4 388.9h0M332.4 421.6h0M323.3 399.8h0M324.1 402.8h0M332.3 391.7h0M334.3 410.4h0M333.9 379.1h0M335.1 435.0h0M322.6 400.0h0M331.8 437.7h0M323.1 382.2h0M333.6 436.2h0M333.4 436.9h0M321.1 401.6h0M326.2 410.4h0M333.9 420.0h0M332.6 435.3h0M323.5 416.4h0M332.6 420.5h0M335.2 373.5h0M320.8 406.6h0M319.2 437.4h0M322.2 417.7h0M325.7 430.2h0M336.7 401.0h0M333.8 411.2h0M334.4 375.9h0M329.9 413.5h0M333.5 388.4h0M320.8 410.0h0M336.7 431.9h0M322.5 400.3h0M332.1 437.5h0M330.2 432.7h0M324.0 412.5h0M321.8 392.1h0M331.8 428.7h0M325.2 399.7h0M331.9 432.8h0M320.6 393.6h0M334.1 372.9h0M324.8 416.8h0M336.6 381.3h0M333.2 373.5h0M324.4 386.0h0M325.7 426.8h0M336.4 368.0h0M328.6 428.6h0M331.0 425.6h0M331.9 409.0h0M321.8 431.6h0M336.0 437.1h0M327.1 430.4h0M334.1 401.0h0M325.9 404.2h0M335.7 371.7h0M334.7 426.3h0M334.1 388.7h0M323.4 378.6h0M320.3 436.2h0M333.7 397.5h0M324.8 417.7h0M321.0 392.8h0M321.6 431.3h0M324.3 390.2h0M322.7 432.8h0M321.9 381.1h0M321.9 378.2h0M326.7 423.5h0M324.0 382.4h0M334.6 436.2h0M334.5 371.6h0M335.3 379.5h0M334.4 398.5h0M332.9 415.5h0M334.9 422.9h0M324.5 387.8h0M325.7 431.2h0M321.7 389.6h0M334.3 372.2h0M335.1 428.6h0M324.1 380.5h0M335.6 369.5h0M335.1 399.9h0M328.8 433.5h0M326.1 428.2h0M330.7 418.1h0M327.1 418.7h0M321.5 428.2h0M323.9 437.3h0M334.3 414.7h0M324.2 386.4h0M324.5 425.2h0M321.5 380.1h0M322.0 411.8h0M334.9 401.1h0M337.7 435.8h0M336.7 378.1h0M325.8 431.5h0M324.5 388.4h0M335.3 374.1h0M321.8 412.8h0M327.0 436.5h0M336.5 387.5h0M321.4 428.5h0M320.9 385.0h0M321.8 387.8h0M323.7 378.2h0M328.8 433.2h0M333.5 411.4h0M330.2 432.9h0M329.8 415.9h0M331.6 408.4h0M335.0 436.9h0M322.5 425.0h0M329.5 417.8h0M333.0 390.5h0M321.4 395.3h0M336.0 381.0h0M335.7 429.3h0M323.1 424.3h0M321.4 430.3h0M335.0 367.8h0M322.2 419.3h0M320.6 415.9h0M321.8 398.7h0M325.4 437.0h0M322.7 423.2h0M333.6 393.3h0M325.0 412.3h0M323.5 434.3h0M332.9 385.9h0M323.8 418.7h0M329.8 435.7h0M334.0 399.5h0M325.4 427.9h0M335.5 370.2h0M331.9 434.1h0M329.4 436.4h0M322.5 406.8h0M332.3 424.4h0M321.1 397.5h0M334.1 413.9h0M323.6 396.6h0M336.0 403.7h0M321.0 404.4h0M335.8 387.1h0M333.5 384.3h0M331.6 427.4h0M336.0 393.1h0M322.9 429.8h0M321.6 379.7h0M336.4 383.1h0M322.3 386.9h0M331.3 424.0h0M323.1 381.5h0M334.7 397.0h0M335.4 379.7h0M333.7 378.0h0M335.2 420.5h0M321.0 405.8h0M328.9 433.8h0M327.1 411.4h0M325.0 423.5h0M321.7 436.5h0M336.2 383.7h0M334.0 376.3h0M323.9 414.5h0M321.8 381.3h0M323.4 397.3h0M324.5 411.6h0M324.7 400.1h0M331.9 435.0h0M331.0 415.1h0M333.5 410.5h0M333.3 408.3h0M327.8 429.6h0M330.7 414.5h0M331.5 426.6h0M327.4 416.0h0M327.6 435.7h0M334.1 374.3h0M321.5 382.2h0M323.5 430.3h0M321.2 398.0h0M335.6 367.7h0M334.6 397.6h0M322.8 402.1h0M330.0 415.1h0M326.1 427.4h0M335.8 384.2h0M334.2 386.5h0M327.2 437.3h0M335.6 411.7h0M335.6 363.3h0M334.2 421.7h0M335.3 378.7h0M324.9 409.2h0M321.8 417.4h0M336.0 389.2h0M336.3 396.3h0M323.0 432.4h0M322.7 384.1h0M328.0 423.4h0M321.9 433.5h0M336.1 372.7h0M322.9 379.9h0M329.7 426.8h0M336.6 404.1h0M335.6 383.7h0M323.5 423.9h0M321.3 418.7h0M329.8 426.4h0M336.8 384.2h0M331.9 418.1h0M324.0 406.5h0M321.1 413.7h0M334.5 386.2h0M329.7 430.3h0M327.0 435.4h0M335.1 399.1h0M332.3 405.7h0M336.8 433.1h0M323.4 437.4h0M325.3 420.6h0M327.9 436.5h0M334.8 405.8h0M336.6 428.1h0M335.5 412.4h0M323.8 432.6h0M334.4 382.9h0M321.1 388.2h0M333.8 376.1h0M331.5 404.4h0M321.6 432.2h0M335.4 363.6h0M323.8 432.6h0M335.7 383.9h0M321.7 408.1h0M331.1 402.6h0M336.2 399.1h0M322.3 431.4h0M321.1 393.3h0M324.0 416.8h0M336.3 403.1h0M334.7 418.0h0M324.5 427.7h0M335.7 430.6h0M320.8 422.5h0M325.3 408.3h0M333.2 390.8h0M332.7 391.6h0M323.9 382.2h0M338.1 437.5h0M326.9 420.3h0M331.4 413.4h0M334.8 388.1h0M335.7 393.3h0M324.5 388.1h0M332.3 415.9h0M325.2 407.4h0M330.8 423.7h0M325.6 436.3h0M335.8 418.3h0M333.5 435.7h0M335.2 369.1h0M335.9 402.6h0M336.3 391.4h0M327.0 430.6h0M324.9 402.1h0M323.5 401.9h0M330.4 431.4h0M332.0 425.4h0M330.4 414.4h0M323.5 416.0h0M334.3 375.5h0M334.4 383.7h0M325.2 437.2h0M322.5 426.7h0M332.7 398.9h0M332.7 410.1h0M322.0 393.7h0M333.1 426.5h0M331.8 411.9h0M335.5 364.5h0M324.6 417.1h0M323.5 392.9h0M335.6 377.3h0M323.5 402.5h0M324.9 408.3h0M328.3 431.1h0M330.8 415.7h0M335.8 396.0h0M324.2 395.5h0M336.1 398.6h0M327.9 423.8h0M334.9 379.5h0M336.6 393.1h0M325.5 422.0h0M323.2 411.0h0M332.8 387.3h0M331.6 414.0h0M323.3 424.9h0M322.8 421.8h0M324.5 435.3h0M334.9 397.8h0M323.5 418.5h0M321.2 381.8h0M333.0 402.7h0M329.4 426.8h0M325.0 428.8h0M327.7 424.3h0M321.4 397.0h0M336.3 370.4h0M335.6 367.7h0M334.6 426.7h0M336.1 375.3h0M323.7 393.8h0M321.7 398.4h0M326.8 423.6h0M330.0 418.3h0M331.9 431.7h0M321.9 408.6h0M334.2 379.9h0M320.9 437.3h0M327.4 424.5h0M327.3 425.5h0M321.7 384.3h0M322.9 382.2h0M322.7 392.0h0M335.2 370.6h0M323.7 419.9h0M335.0 364.8h0M323.3 389.3h0M322.7 390.4h0M326.6 433.5h0M321.2 407.4h0M322.1 379.8h0M326.0 396.1h0M330.8 435.7h0M335.0 427.2h0M335.7 376.9h0M321.3 383.8h0M321.8 387.8h0M325.4 392.8h0M335.8 398.1h0M321.2 433.7h0M321.5 385.7h0M332.1 412.8h0M327.1 410.8h0M331.0 426.6h0M322.2 387.2h0M322.0 400.6h0M336.2 410.4h0M325.3 410.5h0M327.1 436.4h0M325.5 427.0h0M335.7 380.0h0M326.6 421.4h0M324.5 392.1h0M334.2 366.1h0M334.6 401.0h0M334.7 437.1h0M331.2 424.7h0M337.1 433.6h0M332.3 422.4h0M327.0 431.5h0M333.5 386.7h0M324.1 403.5h0M324.8 410.3h0M333.9 423.1h0M321.6 431.3h0M331.9 398.4h0M324.9 432.9h0M327.5 433.5h0M323.4 426.9h0M328.8 424.3h0M323.3 412.1h0M324.1 435.6h0M331.3 434.9h0M323.5 383.3h0M323.3 379.3h0M336.6 407.3h0M321.0 427.3h0M334.7 393.3h0M321.2 385.5h0M335.8 389.9h0M333.3 389.6h0M324.6 387.8h0M336.6 374.7h0M334.5 427.5h0M336.1 414.8h0M334.5 374.5h0M332.3 391.9h0M323.9 393.6h0M331.5 427.4h0M332.4 426.2h0M330.4 425.6h0M330.9 423.2h0M331.2 408.2h0M321.2 407.3h0M333.9 419.0h0M333.6 406.1h0M336.1 419.8h0M336.2 367.0h0M325.3 395.0h0M324.1 412.1h0M322.3 378.4h0M335.9 365.3h0M332.5 391.8h0M336.7 371.4h0M329.8 436.9h0M325.9 406.9h0M323.2 436.0h0M332.9 435.5h0M333.1 417.0h0M334.8 395.9h0M324.9 415.7h0M331.6 408.6h0M334.2 408.3h0M324.4 428.3h0M326.8 431.3h0M324.5 437.0h0M334.4 374.5h0M323.9 388.3h0M321.1 383.2h0M327.8 428.7h0M327.2 433.9h0M326.0 398.4h0M334.0 378.3h0M336.2 399.6h0M322.1 388.8h0M322.2 408.2h0M332.1 398.2h0M321.8 432.5h0M326.0 418.3h0M335.7 370.4h0M335.1 364.7h0M322.4 401.9h0M323.5 387.4h0M325.6 436.6h0M335.3 417.4h0M321.7 379.0h0M320.3 435.9h0M320.7 395.9h0M332.8 405.7h0M321.9 419.3h0M334.2 426.2h0M334.2 381.3h0M327.0 418.7h0M336.0 403.2h0M335.3 372.7h0M335.2 406.4h0M333.6 413.9h0M321.0 395.2h0M334.5 431.6h0M320.8 389.9h0M322.2 398.9h0M335.5 415.2h0M321.5 407.6h0M333.2 437.1h0M328.3 435.0h0M335.6 413.1h0M321.8 415.6h0M333.2 402.2h0M336.4 381.6h0M334.2 376.0h0M323.1 378.9h0M322.9 388.3h0M321.0 433.6h0M324.2 425.6h0M332.1 416.0h0M335.4 409.0h0M336.1 430.1h0M321.9 394.0h0M325.6 400.9h0M335.6 432.0h0M333.6 436.1h0M335.3 365.2h0M335.7 385.2h0M327.1 415.7h0M334.1 376.8h0M332.0 418.5h0M335.2 369.5h0M335.6 404.3h0M321.6 381.7h0M335.7 376.8h0M325.8 415.3h0M336.0 400.0h0M321.8 403.0h0M334.9 389.2h0M322.6 391.7h0M322.5 395.1h0M324.6 415.9h0M329.6 433.3h0M334.3 412.1h0M334.6 370.3h0M320.6 394.8h0M333.0 437.1h0M322.8 400.5h0M327.3 429.3h0M321.8 420.6h0M324.7 434.4h0M328.9 433.5h0M322.1 378.1h0M332.2 424.6h0M322.4 394.3h0M322.3 382.1h0M334.9 370.5h0M333.7 390.3h0M336.3 409.3h0M331.2 410.4h0M324.3 381.8h0M331.6 422.6h0M322.2 400.3h0M335.3 432.3h0M326.4 429.5h0M335.4 382.3h0M334.9 369.7h0M336.2 373.3h0M331.3 418.4h0M327.4 420.5h0M321.5 426.4h0M322.2 380.7h0M336.2 408.3h0M323.0 422.7h0M325.1 430.2h0M336.4 388.1h0M333.8 374.7h0M333.1 385.3h0M326.9 421.6h0M324.2 389.4h0M333.9 375.3h0M322.2 403.9h0M325.8 404.2h0M333.6 394.0h0M335.9 367.2h0M322.8 394.5h0M322.6 408.8h0M327.7 436.4h0M321.7 392.3h0M324.1 380.4h0M336.5 370.0h0M335.4 433.3h0M325.6 397.4h0M329.8 425.5h0M326.4 416.8h0M327.6 437.3h0M321.7 432.5h0M334.6 379.5h0M333.3 393.9h0M335.5 367.3h0M335.5 363.4h0M322.7 426.2h0M324.9 390.3h0M320.7 417.0h0M330.1 424.3h0M324.6 400.1h0M324.7 384.6h0M320.9 405.4h0M334.8 380.8h0M326.5 413.3h0M325.4 432.0h0M324.3 379.5h0M333.6 387.0h0M322.5 394.9h0M335.1 363.4h0M336.2 437.0h0M323.5 405.3h0M328.6 432.8h0M335.2 421.2h0M334.5 380.0h0M333.4 403.9h0M335.2 424.6h0M334.0 413.3h0M329.5 422.1h0M332.5 398.9h0M334.8 428.9h0M324.0 392.3h0M336.4 388.6h0M336.7 432.0h0M324.7 384.5h0M324.9 432.5h0M334.1 402.5h0M320.1 437.0h0M334.9 399.1h0M324.1 387.1h0M335.5 414.3h0M331.3 431.6h0M336.7 431.5h0M336.2 400.3h0M323.5 388.1h0M334.2 431.1h0M331.6 424.3h0M325.0 424.9h0M325.2 417.8h0M321.3 381.6h0M320.8 404.2h0M321.8 382.7h0M336.8 381.8h0M328.0 434.7h0M332.8 386.8h0M324.5 400.9h0M322.2 402.6h0M321.7 424.5h0M320.6 397.4h0M326.9 417.3h0M331.6 421.0h0M332.9 414.6h0M327.7 428.0h0M333.9 369.8h0M335.3 380.4h0M327.0 422.9h0M322.5 381.2h0M324.9 387.7h0M325.8 395.2h0M322.3 431.4h0M334.1 418.6h0M324.1 428.9h0M320.7 408.9h0M334.8 404.3h0M335.1 364.0h0M322.5 383.5h0M324.0 381.5h0M322.6 378.2h0M327.5 430.6h0M323.5 410.1h0M323.2 421.8h0M321.5 383.0h0M321.6 401.1h0M325.6 430.4h0M334.3 407.0h0M334.3 404.2h0M327.2 434.3h0M332.5 420.0h0M330.9 422.0h0M320.7 422.9h0M323.1 387.0h0M332.2 433.0h0M323.7 381.7h0M320.9 395.8h0M322.7 379.7h0M330.8 421.5h0M336.0 416.8h0M322.4 381.4h0M335.7 402.9h0M332.0 401.6h0M323.4 408.7h0M327.1 432.9h0M324.8 413.3h0M335.6 435.8h0M323.7 434.5h0M335.0 423.4h0M332.0 415.4h0M336.5 374.5h0M326.7 411.3h0M324.5 425.5h0M331.6 414.7h0M325.5 434.6h0M332.8 399.3h0M331.2 406.2h0M332.7 399.0h0M335.9 389.5h0M324.7 388.7h0M335.7 371.6h0M327.0 431.2h0M333.2 398.5h0M323.7 418.6h0M333.3 389.5h0M334.4 383.2h0M325.8 435.9h0M332.1 396.2h0M334.9 386.4h0M322.0 434.6h0M322.1 415.5h0M335.2 369.3h0M331.7 412.9h0M321.5 404.2h0M335.7 369.2h0M336.0 426.4h0M333.6 382.5h0M330.6 410.4h0M325.3 401.3h0M332.4 390.2h0M333.8 390.2h0M325.5 412.1h0M334.1 382.2h0M333.6 384.4h0M335.3 391.6h0M323.5 385.0h0M335.7 410.3h0M332.0 414.7h0M321.8 437.3h0M331.2 416.8h0M321.2 430.7h0M330.4 415.8h0M323.2 435.2h0M322.8 382.0h0M333.8 436.3h0M332.4 389.7h0M323.4 387.5h0M334.9 435.6h0M322.0 426.1h0M325.2 425.8h0M334.9 401.4h0M335.7 409.1h0M322.1 424.5h0M320.9 414.0h0M325.0 429.1h0M324.6 381.9h0M334.1 378.3h0M330.1 428.8h0M324.2 437.5h0M331.0 413.3h0M327.7 426.7h0M335.8 377.3h0M322.6 383.5h0M336.2 437.1h0M330.6 426.4h0M323.9 389.2h0M324.2 388.2h0M324.3 402.5h0M324.2 392.8h0M325.6 426.6h0M324.5 401.5h0M331.9 407.3h0M337.1 433.2h0M335.2 425.8h0M336.0 382.0h0M325.8 410.4h0M322.6 385.9h0M324.9 432.9h0M326.8 425.1h0M335.3 365.1h0M334.2 418.5h0M319.9 437.6h0M321.4 385.4h0M333.2 387.3h0M323.4 406.4h0M322.7 379.4h0M320.6 424.1h0M322.9 410.5h0M331.4 414.6h0M336.3 402.5h0M323.9 427.7h0M334.0 399.4h0M320.9 426.4h0M335.7 423.6h0M334.2 434.9h0M323.4 437.0h0M335.0 385.1h0M335.6 380.5h0M333.1 431.3h0M322.0 384.3h0M332.2 423.4h0M327.2 428.8h0M334.5 395.0h0M321.6 406.1h0M323.5 421.3h0M322.6 389.3h0M323.6 380.6h0M324.4 381.9h0M322.1 383.2h0M332.7 404.1h0M335.5 373.6h0M334.5 426.9h0M332.1 431.3h0M322.8 431.0h0M327.5 428.7h0M335.3 390.8h0M325.5 409.6h0M319.9 435.4h0M327.0 422.4h0M326.8 412.5h0M336.0 394.2h0M322.7 405.4h0M331.9 434.2h0M335.1 377.6h0M326.7 410.6h0M334.0 376.6h0M329.9 417.3h0M334.4 399.4h0M331.3 424.5h0M335.5 366.7h0M326.5 407.8h0M332.9 402.9h0M336.1 396.5h0M335.3 415.4h0M332.4 393.7h0M322.4 401.6h0M335.7 411.8h0M320.8 402.6h0M325.6 410.6h0M330.9 411.1h0M323.2 408.0h0M322.8 411.4h0M324.1 380.7h0M321.0 421.1h0M330.3 414.1h0M321.7 395.3h0M324.9 399.2h0M336.7 373.5h0M331.7 395.8h0M323.5 384.4h0M335.3 415.8h0M328.8 434.3h0M324.1 416.0h0M329.3 422.0h0M322.2 410.9h0M334.4 437.5h0M336.3 380.0h0M333.1 383.5h0M334.1 390.0h0M323.8 422.1h0M334.8 422.2h0M330.2 414.1h0M322.9 384.2h0M336.1 424.9h0M325.9 402.1h0M325.7 405.0h0M322.9 392.7h0M332.8 417.2h0M326.5 409.3h0M334.5 387.9h0M334.9 400.9h0M336.5 433.1h0M326.4 409.5h0M326.9 421.4h0M333.1 389.7h0M335.6 375.1h0M321.9 395.5h0M333.9 381.8h0M334.2 367.7h0M332.3 436.7h0M323.8 401.3h0M331.6 415.0h0M323.8 396.6h0M329.8 416.8h0M324.6 413.9h0M324.6 436.8h0M334.8 376.2h0M331.7 430.3h0M321.7 412.8h0M331.9 436.1h0M323.8 414.0h0M328.2 426.2h0M324.7 395.2h0M322.9 406.1h0M335.1 411.4h0M322.8 426.7h0M321.5 413.7h0M333.9 391.1h0M319.7 437.1h0M328.1 428.6h0M323.9 394.7h0M321.0 428.0h0M334.5 422.2h0M334.0 378.6h0M327.3 415.2h0M322.6 432.7h0M336.0 417.8h0M323.3 391.5h0M336.7 383.5h0M333.2 422.1h0M334.0 382.1h0M322.5 389.0h0M321.9 386.3h0M334.8 437.6h0M325.3 430.1h0M329.2 422.9h0M327.3 426.6h0M333.4 402.7h0M324.0 404.0h0M335.8 382.8h0M325.0 430.7h0M322.4 398.4h0M321.3 426.5h0M332.0 418.4h0M336.6 371.7h0M328.5 436.4h0M321.7 393.5h0M324.1 394.9h0M335.4 385.7h0M321.8 402.8h0M336.3 372.5h0M319.4 437.0h0M334.9 398.0h0M321.8 412.4h0M323.4 378.1h0M323.2 381.9h0M329.4 434.1h0M330.4 417.8h0M330.3 424.5h0M321.8 390.2h0M325.8 432.3h0M335.3 367.2h0M336.6 384.2h0M324.1 436.3h0M321.9 411.8h0M320.9 409.3h0M323.5 405.6h0M325.4 401.8h0M323.7 429.2h0M332.0 421.0h0M336.0 432.8h0M334.1 379.8h0M333.4 398.3h0M332.1 394.4h0M323.7 433.6h0M321.1 437.5h0M322.8 393.0h0M324.1 434.1h0M334.5 381.3h0M323.6 426.9h0M335.2 363.3h0M321.4 405.6h0M326.0 416.3h0M329.3 425.8h0M336.6 371.7h0M326.9 425.4h0M335.5 365.6h0M323.6 378.8h0M333.7 392.5h0M329.5 430.7h0M324.8 391.5h0M325.6 398.1h0M334.6 436.7h0M321.4 422.7h0M331.2 429.6h0M328.9 428.7h0M321.0 397.5h0M322.8 413.0h0M322.5 383.2h0M322.4 417.0h0M324.9 390.4h0M326.3 415.4h0M333.1 423.4h0M335.6 372.2h0M335.8 402.8h0M321.2 430.7h0M327.4 426.2h0M321.4 421.0h0M333.7 403.7h0M321.1 395.9h0M328.6 431.9h0M320.9 397.6h0M334.8 420.7h0M336.5 431.4h0M323.0 404.3h0M322.1 385.0h0M326.6 429.4h0M335.5 374.9h0M322.8 393.5h0M335.2 406.3h0M325.5 404.1h0M320.7 391.4h0M334.1 381.3h0M332.5 419.3h0M335.4 364.2h0M335.5 378.7h0M333.6 411.5h0M326.5 414.0h0M333.8 387.4h0M332.5 409.9h0M333.0 412.4h0M328.1 429.7h0M333.8 404.2h0M321.4 383.2h0M335.4 421.6h0M335.5 408.6h0M318.9 437.0h0M322.4 379.6h0M334.2 404.5h0M336.1 377.1h0M321.1 386.4h0M333.2 433.5h0M335.6 368.4h0M322.6 431.8h0M320.3 433.3h0M336.6 391.1h0M327.9 431.6h0M336.0 403.9h0M334.4 380.7h0M326.0 425.4h0M330.5 417.9h0M325.2 391.4h0M335.8 366.1h0M326.0 399.6h0M331.6 431.8h0M334.1 383.5h0M327.3 416.4h0M335.3 387.9h0M331.4 415.8h0M332.0 430.3h0M334.3 383.4h0M327.3 421.3h0M335.4 368.0h0M323.8 420.2h0M334.8 423.5h0M336.3 372.7h0M334.9 375.5h0M334.0 386.5h0M336.5 416.7h0M330.2 409.9h0M331.1 415.1h0M320.7 405.4h0M333.5 395.4h0M324.8 402.9h0M325.1 436.4h0M335.9 411.8h0M320.9 437.0h0M323.2 381.7h0M335.1 367.6h0M334.6 434.7h0M321.9 401.0h0M322.9 409.5h0M336.0 367.6h0M335.5 403.3h0M333.3 437.5h0M330.3 410.3h0M335.2 366.9h0M330.8 413.9h0M328.8 437.7h0M332.9 415.4h0M321.3 428.0h0M323.1 424.2h0M334.8 412.8h0M332.9 405.9h0M320.9 434.5h0M326.5 407.0h0M321.3 418.7h0M325.1 408.0h0M325.6 423.8h0M326.9 425.6h0M320.6 397.6h0M325.3 392.1h0M333.4 399.0h0M333.5 387.7h0M335.3 431.2h0M332.6 436.6h0M335.7 409.8h0M322.8 401.5h0M321.8 386.5h0M331.4 406.6h0M333.0 401.6h0M327.6 416.5h0M322.3 378.1h0M326.7 428.6h0M325.5 427.8h0M331.1 427.2h0M323.8 421.8h0M334.8 375.5h0M335.4 415.6h0M321.3 397.2h0M336.7 389.9h0M322.8 389.1h0M326.6 434.2h0M335.9 372.6h0M336.4 435.4h0M334.7 372.4h0M333.8 374.8h0M334.1 384.7h0M332.5 423.9h0M334.5 378.2h0M321.2 416.8h0M332.6 397.7h0M336.6 371.0h0M323.0 398.3h0M332.4 419.4h0M325.3 387.5h0M334.9 364.3h0M334.4 393.9h0M333.6 390.6h0M334.2 370.7h0M323.4 386.7h0M335.3 367.9h0M336.2 396.8h0M324.3 387.9h0M328.5 434.6h0M334.6 390.1h0M324.2 390.2h0M333.3 383.6h0M323.7 382.8h0M326.8 413.1h0M323.6 380.7h0M324.5 401.6h0M335.0 436.8h0M327.4 413.0h0M335.3 385.1h0M322.6 398.4h0M332.7 419.8h0M322.6 409.1h0M320.9 424.1h0M332.0 400.9h0M334.3 423.1h0M334.0 382.8h0M336.7 388.5h0M335.1 365.2h0M321.0 387.8h0M335.3 382.6h0M325.0 396.4h0M323.2 387.6h0M332.0 399.5h0M330.9 422.7h0M334.5 434.8h0M334.2 385.8h0M336.0 367.7h0M323.2 388.9h0M321.7 400.2h0M333.0 386.7h0M335.8 411.1h0M331.3 402.0h0M319.7 435.7h0M321.0 409.9h0M335.5 391.8h0M324.2 392.8h0M332.5 418.1h0M334.2 402.7h0M336.4 436.5h0M322.0 401.2h0M323.8 401.9h0M323.0 382.3h0M323.8 388.4h0M330.2 416.2h0M331.3 414.2h0M326.6 425.4h0M334.2 389.9h0M324.3 425.6h0M324.3 407.2h0M326.9 408.7h0M322.2 433.4h0M334.0 386.9h0M323.7 429.0h0M332.5 387.4h0M333.3 376.1h0M322.0 411.3h0M320.7 384.8h0M333.3 412.0h0M322.5 428.3h0M321.1 382.3h0M334.9 385.4h0M322.1 410.5h0M334.2 410.7h0M335.8 387.7h0M335.4 385.2h0M332.6 412.1h0M324.3 385.1h0M333.5 394.6h0M322.9 414.1h0M333.2 419.2h0M321.9 431.4h0M334.2 381.1h0M323.7 435.3h0M334.4 391.8h0M322.7 432.5h0M335.2 410.2h0M322.8 394.5h0M330.2 410.3h0M324.9 399.3h0M321.8 383.0h0M328.2 429.5h0M320.9 397.6h0M325.8 415.9h0M321.8 379.5h0M323.7 384.9h0M324.3 400.4h0M335.9 410.8h0M336.7 379.4h0M335.4 417.9h0M334.7 368.5h0M329.9 422.4h0M336.5 425.5h0M321.9 418.9h0M336.3 370.0h0M335.1 376.7h0" stroke="#a0a0a0" stroke-width="2.00" stroke-linecap="round" fill="none"/>
<path d="M311.7 375.2h0M310.0 393.4h0M318.1 390.8h0M313.0 375.1h0M317.6 372.1h0M308.0 394.6h0M308.0 378.3h0M305.9 383.9h0M311.3 391.3h0M319.0 397.0h0M307.3 388.9h0M292.4 390.0h0M317.6 404.3h0M294.2 373.6h0M318.0 432.8h0M314.8 367.9h0M319.6 381.1h0M313.8 389.9h0M318.6 370.4h0M307.5 375.7h0M308.3 417.5h0M314.8 360.4h0M296.6 397.8h0M302.1 370.0h0M319.6 382.4h0M315.3 386.4h0M305.1 397.8h0M291.2 400.7h0M319.5 371.3h0M303.2 369.7h0M313.4 404.0h0M310.9 419.6h0M299.2 379.0h0M302.5 396.3h0M300.6 374.5h0M315.9 380.0h0M318.6 392.1h0M312.7 416.3h0M314.0 413.5h0M308.7 411.1h0M319.5 384.9h0M294.7 391.1h0M318.0 429.2h0M305.4 386.7h0M310.3 398.3h0M310.6 378.0h0M318.7 406.7h0M304.0 396.2h0M320.4 435.7h0M319.9 410.1h0M309.1 382.5h0M303.9 402.6h0M309.6 397.7h0M305.2 410.0h0M317.9 394.9h0M306.4 380.6h0M310.8 386.3h0M319.5 417.9h0M311.1 380.2h0M313.9 427.4h0M317.2 411.1h0M310.2 393.6h0M309.3 375.2h0M319.4 425.2h0M312.8 375.0h0M314.4 387.7h0M320.3 398.5h0M311.2 405.0h0M305.2 377.8h0M309.0 399.1h0M314.1 428.7h0M320.1 410.1h0M300.0 374.2h0M312.7 379.7h0M313.6 410.9h0M312.1 386.4h0M318.5 409.2h0M317.7 372.6h0M316.8 384.8h0M310.4 422.9h0M316.6 416.3h0M311.1 411.6h0M309.2 386.1h0M313.0 419.5h0M307.4 400.9h0M306.2 368.9h0M315.5 428.3h0M317.0 396.7h0M302.5 365.4h0M314.9 395.9h0M319.7 408.3h0M289.0 378.4h0M312.1 402.7h0M311.6 373.1h0M289.7 376.5h0M313.3 422.9h0M316.9 387.6h0M314.5 421.7h0M313.3 413.5h0M317.3 414.9h0M319.3 424.7h0M310.5 410.1h0M313.5 367.1h0M318.9 371.0h0M308.2 370.4h0M314.9 371.9h0M320.4 386.6h0M317.2 373.5h0M318.3 404.0h0M305.5 377.3h0M307.9 389.7h0M317.5 417.1h0M317.7 405.2h0M319.1 428.6h0M308.6 393.7h0M309.2 393.6h0M312.7 405.6h0M319.2 393.6h0M308.5 361.4h0M318.1 425.7h0M316.6 423.9h0M317.4 366.7h0M313.0 388.2h0M317.8 362.6h0M319.4 364.7h0M315.8 424.8h0M319.3 414.0h0M308.9 385.4h0M310.6 399.4h0M312.4 409.3h0M306.1 374.4h0M316.5 384.4h0M313.9 383.3h0M307.5 379.1h0M304.3 417.3h0M311.3 395.4h0M314.5 429.5h0M318.7 407.3h0M304.9 420.2h0M317.2 361.3h0M318.7 408.6h0M296.0 364.8h0M311.1 417.6h0M316.7 423.9h0M302.1 379.4h0M302.7 397.4h0M296.5 389.1h0M318.8 383.3h0M319.0 405.8h0M313.3 379.1h0M312.7 400.5h0M316.9 431.4h0M314.2 414.7h0M303.2 385.1h0M316.8 413.5h0M311.8 398.7h0M314.5 413.8h0M301.4 379.3h0M317.5 396.0h0M306.1 376.6h0M309.8 405.1h0M313.7 367.2h0M317.9 379.9h0M306.0 378.6h0M312.2 388.0h0M307.6 399.4h0M319.8 381.7h0M307.0 415.8h0M312.2 410.8h0M319.7 372.9h0M319.8 381.3h0M318.4 374.6h0M320.4 427.7h0M315.9 431.2h0M307.3 398.0h0M317.0 390.8h0M318.5 382.7h0M309.7 404.5h0M318.1 371.0h0M315.4 406.9h0M303.9 408.5h0M319.6 430.4h0M318.9 387.6h0M317.0 390.5h0M314.9 391.6h0M314.5 383.9h0M294.4 400.7h0M318.4 386.7h0M311.5 383.7h0M315.3 364.8h0M309.7 376.4h0M308.1 403.8h0M313.7 427.8h0M290.7 373.0h0M309.6 401.5h0M311.7 396.5h0M313.9 419.5h0M317.4 409.9h0M315.4 368.2h0M314.8 429.6h0M317.2 428.0h0M317.4 411.2h0M318.5 373.9h0M309.1 421.9h0M314.2 419.4h0M316.8 387.2h0M311.3 416.7h0M304.0 374.5h0M308.0 377.2h0M318.7 388.6h0M316.0 366.5h0M319.9 370.1h0M311.2 416.3h0M309.8 372.4h0M319.1 426.3h0M301.2 373.2h0M304.4 368.4h0M313.1 376.4h0M298.0 403.0h0M308.4 391.7h0M315.9 425.3h0M319.2 360.0h0M319.9 403.4h0M319.5 391.9h0M315.9 416.4h0M314.5 374.7h0M310.9 383.8h0M305.2 403.3h0M315.9 416.0h0M315.3 365.1h0M315.3 411.5h0M316.4 397.0h0M316.3 394.3h0M315.8 387.1h0M313.9 375.0h0M319.4 379.2h0M317.3 420.5h0M320.5 375.2h0M319.6 410.3h0M313.6 370.1h0M318.8 422.0h0M316.8 411.6h0M317.7 381.1h0M319.8 387.1h0M307.7 376.6h0M318.8 433.9h0M312.8 370.5h0M318.3 409.2h0M298.8 408.5h0M316.1 431.5h0M314.5 358.6h0M314.8 410.2h0M316.3 364.4h0M312.6 398.3h0M315.9 399.8h0M311.1 418.4h0M313.7 393.8h0M310.7 409.1h0M319.4 398.0h0M309.0 413.3h0M320.1 373.0h0M318.5 425.2h0M318.1 398.4h0M311.8 379.9h0M314.8 352.8h0M315.9 425.5h0M316.0 380.0h0M314.6 401.2h0M319.2 419.3h0M310.2 397.8h0M318.0 384.8h0M318.8 410.1h0M320.3 393.3h0M304.0 369.2h0M309.5 414.0h0M307.9 422.0h0M318.0 406.6h0M309.9 402.5h0M307.4 394.0h0M295.1 393.6h0M308.9 363.6h0M319.3 404.6h0M318.0 391.0h0M291.7 377.6h0M312.3 407.0h0M311.4 378.4h0M316.7 379.1h0M317.9 411.5h0M313.5 398.0h0M309.0 425.6h0M314.1 363.0h0M314.7 372.5h0M313.5 381.1h0M313.8 367.1h0M310.3 425.7h0M308.6 412.6h0M319.1 418.0h0M312.0 365.8h0M313.6 410.0h0M311.5 378.1h0M284.2 381.9h0M306.8 377.5h0M315.8 374.0h0M311.7 379.0h0M319.7 362.1h0M299.6 389.9h0M301.7 376.8h0M318.6 383.6h0M312.6 407.1h0M319.5 400.5h0M315.9 419.6h0M317.1 369.8h0M316.8 408.9h0M313.6 377.0h0M311.3 394.2h0M318.5 380.4h0M308.4 389.1h0M317.6 366.6h0M320.3 411.2h0M317.9 407.3h0M296.6 387.8h0M301.3 400.0h0M317.2 424.4h0M306.4 414.9h0M292.6 397.3h0M299.0 379.8h0M310.7 368.7h0M306.6 402.7h0M307.4 379.2h0M315.3 370.2h0M319.2 380.7h0M311.3 408.7h0M319.4 391.1h0M305.1 392.4h0M312.6 407.9h0M302.2 417.9h0M301.7 390.9h0M315.3 367.7h0M311.4 370.4h0M314.9 401.1h0M312.8 374.4h0M310.6 403.8h0M306.5 405.5h0M314.5 398.5h0M307.7 390.2h0M318.2 382.5h0M303.4 369.3h0M314.1 427.3h0M315.3 422.8h0M310.0 372.0h0M313.6 395.9h0M314.3 418.9h0M320.0 393.6h0M312.5 367.9h0M319.8 422.3h0M314.4 401.1h0M320.0 386.5h0M320.1 420.6h0M315.3 373.9h0M299.2 417.6h0M320.4 388.0h0M318.0 400.8h0M310.2 386.6h0M319.8 419.9h0M310.4 368.8h0M301.8 399.4h0M319.4 371.8h0M314.2 362.0h0M317.8 385.8h0M311.8 406.2h0M319.4 361.1h0M306.8 413.2h0M320.4 412.6h0M319.6 413.8h0M314.8 398.0h0M318.2 356.2h0M318.0 395.2h0M314.4 384.3h0M310.5 421.4h0M314.5 410.1h0M314.2 410.2h0M309.8 412.3h0M315.6 381.4h0M311.1 420.7h0M314.2 358.9h0M314.6 357.5h0M319.0 389.2h0M320.4 394.9h0M296.9 406.6h0M320.1 377.6h0M315.4 388.4h0M315.2 411.8h0M315.2 417.0h0M310.7 379.5h0M316.8 388.5h0M308.8 384.4h0M315.1 403.3h0M305.3 396.6h0M318.1 406.4h0M311.7 388.7h0M314.5 392.0h0M308.2 399.1h0M319.0 391.3h0M316.3 428.0h0M320.2 420.6h0M315.8 424.4h0M315.9 404.9h0M300.3 369.9h0M312.9 414.1h0M308.3 405.8h0M312.6 379.9h0M314.7 399.8h0M314.9 413.3h0M294.6 391.7h0M318.4 418.3h0M319.2 402.9h0M316.4 372.9h0M318.9 424.2h0M318.8 381.2h0M312.8 424.3h0M316.9 398.8h0M319.5 406.5h0M311.4 369.6h0M309.4 425.6h0M311.8 404.8h0M318.1 377.9h0M312.6 361.3h0M316.6 377.8h0M319.6 387.6h0M319.8 406.8h0M314.3 423.8h0M292.8 401.3h0M309.5 400.1h0M318.5 416.2h0M299.4 396.5h0M306.4 380.3h0M319.2 424.2h0M318.4 396.9h0M319.1 392.0h0M314.3 378.4h0M320.4 422.6h0M314.7 373.9h0M296.9 392.7h0M313.3 402.5h0M316.1 377.2h0M304.1 369.6h0M308.4 412.8h0M317.8 370.4h0M315.1 370.9h0M308.2 403.7h0M307.1 384.0h0M305.0 381.6h0M315.4 385.4h0M318.7 416.0h0M309.5 418.5h0M320.5 397.0h0M312.8 362.1h0M303.6 403.3h0M310.9 419.2h0M312.5 415.9h0M313.9 411.9h0M317.5 385.4h0M305.7 377.7h0M311.0 422.3h0M317.9 416.3h0M318.7 374.6h0M310.8 363.8h0M318.6 383.4h0M320.4 375.5h0M311.9 380.0h0M293.8 397.7h0M316.4 375.8h0M310.0 380.3h0M312.7 406.2h0M318.9 381.7h0M317.4 395.8h0M312.8 391.5h0M307.1 391.7h0M317.5 391.1h0M318.2 420.3h0M308.9 395.6h0M316.5 365.2h0M314.5 387.1h0M317.9 375.2h0M311.2 417.2h0M315.8 371.1h0M306.7 382.2h0M312.2 386.0h0M317.7 379.6h0M317.9 416.8h0M310.4 403.2h0M318.0 420.9h0M316.7 375.6h0M318.3 429.3h0M318.6 394.0h0M317.4 378.9h0M309.3 403.6h0M312.0 425.0h0M307.8 399.1h0M316.2 392.3h0M306.0 381.5h0M312.7 424.8h0M302.2 373.1h0M313.3 411.5h0M319.6 426.6h0M303.9 373.0h0M313.0 413.6h0M313.3 377.4h0M308.4 370.3h0M320.6 432.6h0M319.7 432.5h0M309.4 374.7h0M314.4 379.6h0M320.2 425.1h0M317.7 413.3h0M297.2 382.6h0M309.2 368.6h0M305.1 383.1h0M297.2 379.7h0M314.6 386.9h0M316.0 412.8h0M299.2 386.8h0M312.9 424.2h0M315.4 416.9h0M319.3 411.3h0M312.8 388.4h0M307.5 381.2h0M315.7 407.1h0M318.3 377.3h0M311.2 381.6h0M319.6 378.2h0M314.1 430.6h0M319.2 402.5h0M312.8 365.6h0M320.4 434.1h0M318.6 364.6h0M313.1 371.4h0M313.7 390.3h0M316.9 369.6h0M318.2 377.2h0M318.0 402.4h0M319.8 410.3h0M311.1 399.4h0M282.1 378.0h0M307.6 399.2h0M310.5 383.8h0M312.4 359.8h0M318.7 420.0h0M317.0 387.3h0M312.3 404.2h0M292.1 382.2h0M317.3 376.5h0M308.4 405.6h0M319.6 434.1h0M320.5 437.4h0M319.2 411.5h0M316.7 363.5h0M314.7 369.2h0M313.3 375.7h0M315.3 409.9h0M297.0 388.8h0M316.1 407.3h0M314.5 418.9h0M320.5 397.9h0M320.2 390.8h0M302.1 381.5h0M316.2 384.5h0M319.1 413.7h0M315.7 409.6h0M315.9 384.7h0M310.1 403.4h0M319.0 378.5h0M316.7 350.6h0M314.9 421.8h0M319.8 405.0h0M318.3 366.1h0M309.2 396.9h0M319.4 383.4h0M317.8 366.8h0M318.7 412.3h0M300.4 408.7h0M318.2 374.5h0M310.1 400.4h0M310.9 385.4h0M307.3 406.9h0M315.3 410.4h0M316.8 388.7h0M318.6 429.1h0M320.4 432.5h0M312.8 397.6h0M304.1 405.2h0M317.6 432.8h0M317.4 366.8h0M315.3 427.1h0M307.9 404.5h0M315.0 396.4h0M314.3 416.6h0M309.9 367.9h0M290.5 387.0h0M314.9 369.2h0M309.9 404.0h0M306.6 366.0h0M320.0 400.1h0M315.7 415.4h0M314.7 386.2h0M309.5 408.3h0M317.2 370.4h0M319.7 385.2h0M317.6 413.0h0M296.3 412.5h0M319.6 430.5h0M316.4 370.0h0M313.9 366.6h0M314.9 369.5h0M317.4 390.9h0M315.3 363.6h0M309.3 401.5h0M319.3 384.5h0M290.4 385.7h0M314.9 388.1h0M315.5 374.6h0M282.9 395.4h0M312.0 399.6h0M303.1 390.5h0M313.8 423.1h0M317.6 367.0h0M317.1 422.4h0M316.4 433.0h0M298.2 409.0h0M318.0 426.9h0M316.1 385.5h0M313.0 423.1h0M315.9 416.3h0M306.1 394.2h0M318.6 421.7h0M305.7 378.3h0M317.8 418.7h0M316.1 382.5h0M318.2 426.6h0M316.9 367.2h0M304.7 351.5h0M316.0 373.3h0M319.9 379.4h0M318.2 382.9h0M306.6 408.9h0M311.6 362.8h0M311.7 358.0h0M310.9 375.3h0M298.4 398.3h0M319.6 412.7h0M319.9 422.4h0M304.5 379.6h0M315.5 422.7h0M320.1 418.8h0M317.2 429.3h0M304.6 413.3h0M316.5 399.8h0M316.3 359.6h0M320.3 417.3h0M313.0 374.6h0M293.3 375.5h0M314.0 418.5h0M315.6 384.0h0M300.6 383.8h0M305.3 414.6h0M310.4 368.3h0M317.6 372.3h0M309.5 412.0h0M316.7 406.0h0M302.2 386.1h0M311.7 399.0h0M319.8 405.8h0M317.8 412.9h0M312.8 421.2h0M313.0 388.2h0M316.4 420.2h0M318.7 377.0h0M318.9 429.2h0M313.9 390.1h0M317.5 394.0h0M319.7 389.0h0M319.7 414.0h0M313.2 370.9h0M309.3 425.2h0M319.6 432.3h0M308.7 399.2h0M320.1 370.5h0M317.2 408.2h0M314.8 377.1h0M316.5 410.8h0M295.3 385.8h0M309.5 369.2h0M303.3 391.3h0M315.7 371.5h0M318.3 367.9h0M314.5 395.0h0M309.5 394.9h0M319.6 380.0h0M287.8 389.2h0M301.3 401.8h0M318.2 394.8h0M295.5 376.5h0M317.5 430.5h0M318.1 413.4h0M314.5 401.2h0M316.3 391.7h0M304.0 359.2h0M314.9 371.1h0M309.4 400.4h0M309.1 399.8h0M309.3 386.8h0M313.6 387.9h0M309.6 367.0h0M319.6 406.0h0M318.6 379.3h0M313.0 375.0h0M315.5 412.1h0M304.6 381.5h0M311.5 420.6h0M313.3 366.2h0M314.5 406.5h0M317.5 366.4h0M301.0 388.3h0M317.4 366.8h0M317.2 423.6h0M318.9 396.4h0M315.5 382.9h0M316.0 387.7h0M315.1 380.4h0M303.5 383.5h0M318.7 389.4h0M316.4 399.0h0M311.9 379.5h0M318.5 368.6h0M316.9 408.7h0M316.4 428.6h0M319.7 383.1h0M311.1 371.3h0M320.4 393.9h0M317.1 362.9h0M308.8 391.8h0M303.5 384.5h0M317.9 404.8h0M287.4 377.7h0M294.9 392.3h0M315.0 364.0h0M316.1 395.3h0M306.0 369.3h0M317.5 419.4h0M300.7 385.6h0M312.6 365.2h0M307.0 395.0h0M315.3 382.9h0M312.3 369.2h0M320.0 413.2h0M306.8 384.8h0M302.9 414.8h0M311.3 422.4h0M313.9 408.7h0M292.4 385.0h0M308.7 404.2h0M315.9 415.8h0M303.2 389.1h0M319.5 375.6h0M317.4 386.8h0M313.0 426.6h0M313.2 408.8h0M318.1 369.8h0M311.7 402.1h0M309.6 398.4h0M303.4 420.6h0M311.0 417.6h0M319.1 374.1h0M315.6 379.9h0M306.1 390.0h0M312.3 387.3h0M305.3 406.2h0M312.9 377.5h0M319.3 384.8h0M304.0 371.7h0M318.5 417.0h0M319.2 364.8h0M299.8 411.9h0M319.0 372.5h0M310.3 402.7h0M309.9 398.7h0M304.9 413.8h0M317.1 379.2h0M315.5 408.6h0M305.1 399.5h0M317.5 423.0h0M309.1 409.2h0M320.2 430.6h0M313.6 369.5h0M293.8 386.0h0M316.6 406.9h0M310.7 424.8h0M309.6 372.4h0M317.3 411.9h0M310.2 366.7h0M316.6 395.7h0M304.2 387.3h0M312.7 384.7h0M298.2 382.4h0M313.6 422.8h0M310.1 393.8h0M307.8 396.5h0M317.2 382.2h0M306.1 406.3h0M316.5 399.4h0M313.9 414.7h0M317.2 421.9h0M318.6 397.8h0M312.4 369.9h0M317.2 383.2h0M303.2 377.2h0M312.5 372.3h0M311.1 413.3h0M303.1 382.7h0M308.6 413.2h0M304.3 412.7h0M318.5 401.8h0M303.5 368.4h0M311.6 405.2h0M317.9 382.1h0M315.0 386.8h0M317.6 387.4h0M314.7 386.8h0M308.1 404.4h0M319.7 420.4h0M289.3 374.4h0M311.8 429.6h0M309.3 418.2h0M319.9 397.6h0M315.4 387.1h0M313.1 415.8h0M311.7 373.3h0M318.6 391.2h0M318.0 393.3h0M315.6 415.4h0M302.5 377.9h0M320.3 375.9h0M310.1 391.3h0M314.8 375.6h0M298.3 370.9h0M298.3 379.6h0M313.7 368.4h0M297.8 398.0h0M312.4 427.7h0M318.6 428.7h0M318.4 421.6h0M308.7 384.5h0M314.0 415.2h0M315.0 387.6h0M304.7 371.9h0M310.2 398.6h0M312.5 389.4h0M317.8 399.5h0M309.4 419.4h0M312.8 362.1h0M298.2 410.2h0M313.0 385.0h0M308.9 414.6h0M317.9 428.1h0M311.6 422.9h0M319.0 426.2h0M320.0 410.6h0M312.3 397.2h0M316.7 399.2h0M303.9 377.0h0M309.5 415.8h0M309.6 385.4h0M319.7 423.7h0M307.0 368.4h0M314.8 379.4h0M316.6 406.5h0M305.8 377.2h0M314.7 371.9h0M317.0 364.9h0M312.2 379.7h0M316.8 382.7h0M316.5 403.7h0M312.5 366.3h0M320.4 382.1h0M316.7 411.5h0M317.9 405.4h0M311.5 403.1h0M318.2 426.9h0M309.8 414.9h0M311.6 375.6h0M306.0 396.2h0M314.1 380.0h0M318.9 363.5h0M318.6 411.1h0M318.8 404.8h0M317.2 392.9h0M314.9 368.7h0M316.4 376.1h0M311.4 405.8h0M317.2 401.5h0M319.8 405.5h0M314.6 391.4h0M317.6 391.2h0M316.3 406.2h0M315.7 363.7h0M318.8 378.6h0M309.0 414.6h0M319.2 416.3h0M318.3 384.7h0M317.6 364.3h0M318.2 384.3h0M318.5 406.4h0M313.7 385.3h0M316.5 391.1h0M317.9 385.7h0M317.7 421.2h0M316.2 423.9h0M295.6 397.6h0M319.1 415.1h0M315.0 403.9h0M308.5 420.1h0M313.8 391.7h0M318.1 387.1h0M314.8 399.6h0M304.1 413.7h0M318.3 398.7h0M311.0 381.3h0M316.4 360.9h0M309.2 370.5h0M310.5 410.8h0M313.1 366.4h0M312.6 413.4h0M308.9 416.0h0M319.8 430.1h0M320.4 426.3h0M317.1 414.2h0M315.7 411.7h0M316.8 371.2h0M295.7 389.7h0M313.2 402.9h0M301.1 394.1h0M318.9 390.4h0M308.2 376.6h0M310.2 376.6h0M318.2 408.4h0M303.4 412.5h0M301.9 397.3h0M305.0 375.6h0M318.6 390.4h0M317.2 396.0h0M299.9 366.5h0M311.7 392.7h0M314.0 424.6h0M317.0 378.3h0M315.4 367.0h0M319.8 405.3h0M317.2 390.8h0M318.1 394.8h0M302.4 385.8h0M312.7 425.8h0M318.9 426.7h0M314.6 391.1h0M307.6 387.5h0M299.8 374.8h0M318.7 430.9h0M319.6 399.7h0M298.8 376.5h0M288.5 387.3h0M318.7 364.8h0M315.1 398.1h0M315.6 382.0h0M305.3 406.5h0M319.9 427.7h0M317.9 427.6h0M303.3 414.7h0M303.1 377.0h0M315.1 356.4h0M312.5 409.9h0M313.7 404.0h0M317.8 405.0h0M301.9 406.0h0M306.6 418.1h0M312.0 425.0h0M315.6 400.9h0M307.6 371.3h0M311.0 407.7h0M315.9 427.6h0M313.4 425.8h0M317.8 401.8h0M312.3 377.3h0M320.4 396.5h0M297.0 412.2h0M311.9 418.6h0M315.9 385.2h0M316.8 427.5h0M304.4 387.9h0M320.0 387.1h0M317.8 423.1h0M318.1 362.7h0M316.7 406.2h0M304.4 382.3h0M313.1 364.5h0M315.8 399.6h0M315.2 418.9h0M316.2 398.9h0M309.7 397.0h0M319.0 404.0h0M315.9 379.0h0M313.5 421.9h0M318.7 403.5h0M313.2 408.8h0M317.1 358.1h0M305.5 380.1h0M319.4 367.6h0M313.9 398.1h0M316.7 376.2h0M302.3 398.1h0M302.9 391.6h0M311.7 389.6h0M304.5 367.5h0M320.2 432.0h0M318.9 400.4h0M306.2 401.8h0M313.0 371.5h0M297.3 414.0h0M316.3 429.0h0M317.0 410.5h0M318.7 417.5h0M312.9 378.2h0M315.4 429.8h0M316.8 409.4h0M317.9 386.2h0M314.7 388.3h0M310.5 390.3h0M317.4 399.0h0M314.8 370.5h0M316.6 425.6h0M319.4 411.8h0M309.4 391.8h0M308.6 381.4h0M317.2 385.6h0M302.9 393.5h0M309.4 381.2h0M311.3 412.0h0M316.0 402.3h0M320.0 378.5h0M319.2 384.7h0M319.6 428.1h0M300.1 404.9h0M319.6 388.4h0M316.5 368.1h0M309.8 380.5h0M320.2 372.5h0M307.2 415.6h0M306.2 387.0h0M308.2 373.2h0M311.6 394.0h0M317.6 429.1h0M319.4 427.4h0M319.9 432.9h0M308.7 423.2h0M313.9 377.8h0M314.8 401.1h0M316.4 381.8h0M317.1 414.0h0M307.6 405.0h0M319.1 373.2h0M314.8 362.9h0M317.9 415.4h0M316.6 367.6h0M318.4 401.2h0M320.3 394.1h0M319.1 401.3h0M319.5 381.1h0M314.3 406.3h0M312.4 373.2h0M318.4 390.5h0M319.2 377.9h0M314.8 377.7h0M315.9 390.0h0M311.7 394.3h0M317.8 369.6h0M313.0 427.5h0M320.0 381.1h0M307.3 396.2h0M319.5 427.6h0M315.9 380.9h0M317.6 361.9h0M312.1 389.9h0M313.8 380.2h0M309.0 384.4h0M317.7 378.5h0M319.8 396.1h0M314.9 390.1h0M317.7 391.0h0M317.5 373.8h0M295.0 406.6h0M313.2 369.9h0M320.6 433.2h0M297.2 395.9h0M314.3 421.7h0M312.1 367.7h0M312.1 419.2h0M313.5 372.7h0M319.1 418.8h0M312.2 408.8h0M316.6 398.3h0M319.1 377.8h0M317.8 405.5h0M318.5 409.1h0M308.0 357.9h0M319.3 389.9h0M319.6 396.8h0M315.1 383.2h0M310.4 400.9h0M302.4 414.5h0M315.8 418.9h0M317.4 378.0h0M306.2 407.2h0M307.4 372.2h0M313.5 377.2h0M312.6 408.9h0M309.1 376.1h0M305.2 386.2h0M319.8 399.6h0M318.3 392.1h0M303.7 411.2h0M314.3 390.8h0M308.9 371.5h0M305.8 394.9h0M313.9 375.3h0M315.9 409.8h0M303.7 391.7h0M319.3 432.4h0M303.7 418.4h0M315.7 391.8h0M320.0 387.9h0M306.4 423.5h0M317.7 383.2h0M320.3 382.3h0M319.3 421.7h0M316.4 367.8h0M301.0 390.0h0M308.5 378.4h0M315.6 414.5h0M295.7 378.6h0M314.0 374.4h0M313.9 408.5h0M315.4 404.4h0M311.7 415.0h0M320.2 378.1h0M315.8 431.9h0M316.3 367.7h0M310.9 407.9h0M313.8 417.8h0M318.2 415.5h0M311.9 405.9h0M318.3 380.8h0M302.1 394.6h0M320.4 399.7h0M319.3 413.0h0M315.1 396.0h0M310.5 424.8h0M315.3 427.2h0M316.4 373.3h0M310.3 394.8h0M315.5 376.5h0M311.3 375.9h0M316.8 363.0h0M317.0 404.8h0M317.3 371.8h0M314.6 389.9h0M307.9 380.0h0M309.3 415.3h0M315.6 428.7h0M318.9 404.6h0M313.6 370.1h0M304.8 397.7h0M307.6 378.9h0M314.3 397.7h0M317.1 424.9h0M312.9 391.3h0M317.1 406.5h0M305.1 393.7h0M319.3 380.3h0M312.2 374.3h0M313.2 411.4h0M316.0 376.8h0M319.7 422.5h0M316.9 425.7h0M300.6 408.2h0M317.4 392.4h0M317.0 387.5h0M313.3 373.8h0M306.8 395.9h0M318.1 406.7h0M317.8 365.6h0M315.1 425.7h0M317.3 396.4h0M316.5 411.5h0M312.3 379.7h0M306.9 395.8h0M319.4 398.0h0M310.8 361.8h0M307.4 401.3h0M296.0 381.3h0M309.1 423.0h0M313.4 371.3h0M319.9 403.7h0M312.9 387.6h0M314.2 427.5h0M319.2 413.9h0M309.3 421.2h0M319.4 410.8h0M318.3 414.5h0M297.2 375.4h0M307.5 420.2h0M300.3 383.7h0M318.5 420.0h0M318.8 382.3h0M316.3 405.4h0M319.0 418.8h0M310.9 408.6h0M306.6 373.8h0M302.9 416.8h0M319.2 370.1h0M309.8 407.4h0M316.3 379.1h0M292.8 390.4h0M314.6 399.1h0M315.7 365.1h0M303.9 375.6h0M317.3 398.2h0M305.6 415.4h0M312.7 412.5h0M316.3 373.6h0M316.5 400.0h0M289.9 385.8h0M312.8 414.1h0M309.9 380.6h0M315.4 427.6h0M318.5 393.8h0M314.9 418.6h0M316.6 418.8h0M313.8 404.9h0M313.7 411.1h0M318.0 382.9h0M299.3 379.7h0M313.0 401.9h0M311.2 423.2h0M313.7 427.7h0M309.8 419.3h0M315.8 413.1h0M307.9 361.9h0M318.9 432.1h0M319.4 395.2h0M318.3 381.7h0M319.1 403.2h0M318.2 367.1h0M310.6 371.9h0M314.3 372.0h0M317.4 374.0h0M295.1 389.5h0M318.5 419.8h0M317.3 411.3h0M312.8 389.8h0M318.5 411.7h0M318.3 379.8h0M319.7 377.9h0M317.1 366.0h0M315.9 413.9h0M314.6 381.0h0M314.3 374.0h0M307.9 384.9h0M315.9 372.8h0M315.5 388.0h0M318.6 381.9h0M317.9 429.4h0M315.7 365.7h0M310.8 363.0h0M304.5 410.2h0M319.9 405.7h0M310.2 422.1h0M313.8 407.6h0M301.8 388.9h0M304.7 378.3h0M311.1 414.6h0M318.2 382.6h0M319.3 436.0h0M312.9 406.3h0M314.0 407.9h0M320.6 407.8h0M316.3 366.4h0M287.2 370.1h0M313.7 383.0h0M312.4 371.0h0M308.0 423.1h0M319.1 411.2h0M299.9 393.0h0M301.4 390.4h0M318.0 424.7h0M308.4 385.9h0M316.9 368.3h0M318.6 411.4h0M307.7 383.5h0M302.9 385.3h0M316.8 432.0h0M312.4 362.9h0M311.1 376.9h0M314.4 392.3h0M313.2 402.6h0M317.3 424.6h0M317.1 420.0h0M315.1 380.0h0M319.1 392.1h0M319.4 427.6h0M302.9 404.6h0M311.3 410.7h0M320.3 392.2h0M313.3 409.8h0M308.5 369.2h0M315.4 391.1h0M320.0 433.5h0M319.3 421.5h0M317.3 394.4h0M310.1 389.6h0M315.5 425.9h0M319.8 400.9h0M318.1 433.5h0M308.1 372.3h0M306.3 370.2h0M314.4 361.7h0M303.2 379.4h0M319.2 371.2h0M319.2 404.2h0M312.0 374.4h0M306.7 380.0h0M310.2 373.7h0M304.9 371.6h0M312.7 395.0h0M319.3 422.4h0M310.7 369.1h0M311.7 369.0h0M310.0 393.3h0M317.8 425.2h0M310.1 405.7h0M310.0 371.3h0M317.1 429.2h0M317.8 398.2h0M302.0 391.6h0M308.9 372.9h0M317.2 421.0h0M317.8 387.9h0M298.6 397.0h0M317.5 414.0h0M299.0 384.0h0M313.6 383.9h0M316.7 409.0h0M314.2 400.9h0M292.4 392.6h0M314.3 373.7h0M303.6 397.4h0M311.7 401.4h0M309.8 368.5h0M301.6 398.4h0M312.0 384.1h0M312.4 389.5h0M307.1 392.3h0M311.6 404.0h0M316.2 367.0h0M299.0 378.9h0M312.1 387.4h0M300.6 404.1h0M316.3 387.7h0M314.7 374.6h0M314.2 408.9h0M319.4 394.4h0M312.5 378.9h0M311.6 382.6h0M304.5 393.3h0M305.7 381.6h0M304.1 415.7h0M319.6 425.4h0M317.4 428.9h0M314.9 421.7h0M296.7 372.7h0M314.9 407.0h0M309.5 380.8h0M314.0 427.7h0M307.9 402.6h0M298.7 401.3h0M319.7 381.5h0M310.9 366.7h0M313.8 404.7h0M296.3 364.9h0M317.6 372.6h0M317.6 415.7h0M318.7 400.8h0M308.6 365.0h0M291.2 407.5h0M317.3 372.3h0M315.8 361.6h0M312.9 391.3h0M313.8 408.5h0M317.9 372.8h0M317.8 362.5h0M315.9 393.8h0M319.8 414.1h0M318.1 432.6h0M319.7 428.7h0M312.4 402.3h0M314.1 376.1h0M315.0 414.0h0M309.4 400.1h0M320.2 435.3h0M305.2 395.8h0M319.6 378.2h0M303.9 416.7h0M317.9 369.2h0M312.6 410.5h0M299.5 412.1h0M313.3 372.9h0M304.7 374.8h0M314.1 393.4h0M300.0 376.8h0M306.2 377.1h0M304.2 404.7h0M304.8 408.6h0M312.0 406.2h0M320.0 370.8h0M312.4 410.5h0M317.4 370.4h0M314.1 367.9h0M316.9 386.0h0M316.8 396.1h0M317.2 379.7h0M320.6 390.2h0M311.8 376.4h0M319.6 371.3h0M316.2 369.1h0M319.7 411.3h0M314.7 423.0h0M319.3 363.5h0M313.7 374.8h0M309.2 405.3h0M316.5 372.8h0M314.4 384.9h0M316.0 417.4h0M314.9 368.5h0M312.1 418.0h0M307.6 374.0h0M319.8 429.0h0M316.9 423.0h0M315.7 402.9h0M314.8 360.4h0M313.2 368.3h0M305.4 366.2h0M308.2 417.6h0M317.6 420.8h0M320.0 368.4h0M316.3 396.2h0M307.6 401.1h0M318.8 389.4h0M312.5 363.4h0M285.1 387.4h0M294.7 372.0h0M314.3 384.1h0M318.5 376.5h0M312.4 403.2h0M319.1 419.4h0M306.4 415.4h0M315.5 381.1h0M320.2 382.8h0M319.3 364.1h0M318.4 377.8h0M316.6 410.7h0M318.1 393.2h0M313.4 362.2h0M317.7 373.2h0M307.1 366.4h0M317.7 399.7h0M314.0 422.8h0M305.9 398.7h0M310.9 373.4h0M319.5 419.9h0M315.2 395.9h0M319.0 434.8h0M318.2 388.8h0M318.3 411.9h0M316.8 389.8h0M313.0 398.4h0M317.7 385.5h0M316.3 393.2h0M308.9 380.4h0M311.9 398.3h0M315.1 382.2h0M296.2 385.4h0M300.8 396.2h0M313.3 398.9h0M315.5 370.0h0M308.2 401.4h0M318.5 375.4h0M316.4 416.6h0M316.6 429.1h0M305.2 416.8h0M310.5 365.9h0M309.2 415.6h0M306.9 398.4h0M317.9 409.5h0M318.0 418.6h0M318.7 401.9h0M316.3 395.1h0M317.1 399.7h0M315.8 415.5h0M302.4 394.5h0M320.4 383.2h0M309.6 389.0h0M308.7 397.4h0M308.0 395.8h0M309.7 362.5h0M311.5 397.5h0M305.4 376.3h0M318.8 367.8h0M312.2 414.3h0M307.6 375.4h0M300.4 394.3h0M315.9 404.3h0M316.2 421.0h0M313.3 403.1h0M314.4 388.3h0M315.9 394.6h0M317.1 371.2h0M311.8 389.5h0M310.2 369.8h0M317.2 366.6h0M308.7 405.9h0M318.4 410.4h0M312.1 425.1h0M316.5 404.5h0M317.9 389.5h0M314.8 394.5h0M316.8 369.5h0M314.0 426.6h0M314.2 391.5h0M317.6 383.3h0M298.7 374.1h0M301.6 371.4h0M315.3 378.1h0M311.0 421.6h0M310.0 377.2h0M319.8 401.9h0M320.1 391.4h0M318.5 425.4h0M320.4 419.7h0M318.7 427.4h0M309.5 375.2h0M319.6 399.6h0M316.4 402.4h0M309.1 375.3h0M320.5 410.9h0M317.8 431.1h0M305.7 376.9h0M310.4 366.7h0M313.5 386.2h0M302.7 388.3h0M319.4 432.3h0M309.2 377.3h0M312.2 418.0h0M318.1 401.9h0M319.7 417.3h0M315.1 406.0h0M317.7 411.4h0M312.6 364.0h0M307.9 414.8h0M319.0 431.9h0M308.5 387.0h0M315.6 386.6h0M317.2 380.7h0M299.3 380.8h0M317.8 390.7h0M313.9 424.2h0M312.6 390.5h0M315.1 417.0h0M310.2 417.3h0M319.0 410.8h0M315.3 400.3h0M320.4 428.5h0M319.3 405.1h0M293.5 381.7h0M311.6 414.4h0M319.7 420.7h0M308.4 401.2h0M312.0 426.6h0M316.2 363.5h0M305.5 416.5h0M312.3 367.4h0M298.1 407.5h0M314.1 356.6h0M309.6 417.6h0M315.0 367.3h0M313.5 393.6h0M314.9 399.4h0M319.5 429.1h0M318.5 389.5h0M301.1 389.1h0M314.8 370.0h0M296.1 402.5h0M312.6 379.4h0M301.3 363.4h0M307.2 374.1h0M320.2 374.5h0M313.6 394.9h0M316.5 364.3h0M318.4 431.6h0M301.5 410.1h0M313.5 396.4h0M308.8 376.8h0M308.6 360.0h0M307.0 409.2h0M308.8 378.1h0M318.6 429.7h0M319.4 396.0h0M320.3 429.0h0M314.6 398.9h0M318.0 386.8h0M309.4 358.7h0M320.1 422.4h0M314.4 393.9h0M315.5 358.7h0M315.4 392.5h0M317.5 432.9h0M315.7 383.2h0M315.4 382.4h0M319.0 404.2h0M317.7 379.2h0M314.3 369.5h0M318.8 421.1h0M316.5 391.5h0M302.6 384.5h0M309.2 402.0h0M306.0 416.3h0M318.7 425.1h0M317.5 420.2h0M312.3 407.4h0M312.4 371.2h0M314.1 425.2h0M299.8 393.3h0M315.8 430.1h0M309.5 392.9h0M315.5 430.1h0M314.7 429.4h0M302.9 398.0h0M312.2 370.1h0M305.7 389.9h0M312.0 391.4h0M315.8 402.3h0M308.5 382.5h0M316.5 401.5h0M315.7 385.4h0M315.2 371.9h0M317.4 434.1h0M314.4 363.2h0M319.8 412.4h0M318.1 387.1h0M314.5 427.1h0M320.5 409.7h0M311.4 392.6h0M315.7 422.3h0M306.2 395.7h0M312.6 407.0h0M312.1 380.9h0M318.2 378.8h0M306.3 381.5h0M315.1 406.2h0M313.0 392.5h0M313.1 352.8h0M310.1 390.3h0M317.5 369.3h0M318.1 413.0h0M317.7 364.8h0M319.8 409.0h0M314.3 406.9h0M312.8 376.6h0M316.6 387.3h0M319.0 384.8h0M313.4 425.1h0M306.9 410.7h0M317.1 401.8h0M317.3 384.3h0M305.9 378.6h0M294.9 393.6h0M308.5 407.0h0M315.6 427.4h0M318.7 388.6h0M313.9 361.7h0M301.3 402.8h0M299.2 405.2h0M286.6 398.6h0M281.6 366.8h0M278.5 394.9h0M295.4 403.8h0M281.7 404.2h0M273.8 372.6h0M281.6 368.0h0M302.5 405.2h0M288.1 380.9h0M299.6 388.0h0M300.9 394.4h0M298.6 377.1h0M280.4 373.2h0M290.9 402.8h0M280.7 390.0h0M299.0 409.9h0M294.1 383.8h0M288.4 392.2h0M302.4 388.2h0M273.5 399.5h0M279.9 404.5h0M280.6 390.1h0M281.5 381.0h0M292.8 374.1h0M289.3 367.4h0M280.1 407.3h0M280.5 383.3h0M276.2 382.2h0M284.7 382.8h0M296.2 389.7h0M277.1 400.9h0M291.4 376.4h0M277.0 400.2h0M294.9 378.4h0M280.6 396.3h0M299.0 407.1h0M275.8 366.8h0M302.3 394.7h0M294.4 391.9h0M287.0 388.6h0M286.1 386.4h0M287.0 370.6h0M294.5 401.9h0M277.7 386.9h0M300.0 379.8h0M286.2 378.5h0M295.0 372.4h0M297.5 376.1h0M293.9 373.3h0M278.5 374.0h0M282.1 375.1h0M279.4 377.2h0M299.9 394.8h0M277.1 406.8h0M297.6 375.3h0M277.2 374.6h0M283.0 384.6h0M295.1 394.6h0M295.1 391.6h0M285.2 388.1h0M273.5 371.5h0M285.9 403.2h0M294.9 405.1h0M297.1 394.7h0M298.4 402.2h0M273.8 387.0h0M298.9 374.0h0M288.9 369.2h0M283.4 380.7h0M278.9 404.8h0M287.1 374.3h0M302.0 381.7h0M287.6 400.1h0M296.7 368.4h0M276.3 369.0h0M300.5 381.6h0M287.6 406.2h0M279.6 403.1h0M279.7 401.4h0M275.3 377.0h0M288.6 391.9h0M286.2 406.3h0M277.1 374.3h0M278.2 369.1h0M283.7 383.0h0M280.4 392.2h0M276.7 397.6h0M284.7 385.9h0M266.2 346.5h0M272.7 337.7h0M292.2 329.4h0M278.4 370.3h0M280.8 375.3h0M288.1 365.3h0M296.2 355.9h0M300.3 349.3h0M307.6 346.0h0M276.7 386.3h0M274.3 399.0h0" stroke="#1414f0" stroke-width="1.90" stroke-linecap="round" fill="none"/>
<path d="M345.3 396.0h0M339.7 419.2h0M338.0 395.0h0M359.2 391.4h0M346.1 384.5h0M346.1 368.7h0M351.4 368.9h0M339.0 352.9h0M346.9 424.9h0M337.8 435.9h0M343.8 372.0h0M339.6 379.5h0M345.5 398.5h0M345.9 393.4h0M337.1 380.7h0M349.1 371.8h0M343.1 398.8h0M338.4 407.2h0M350.2 397.0h0M343.7 379.5h0M337.4 413.6h0M350.2 414.0h0M338.1 413.3h0M344.8 377.8h0M345.7 370.9h0M353.8 379.4h0M359.8 396.6h0M338.4 390.7h0M346.7 419.4h0M342.7 395.5h0M362.2 368.4h0M348.6 397.4h0M340.6 378.2h0M342.5 407.3h0M343.6 398.6h0M338.8 378.2h0M339.5 358.6h0M341.9 358.9h0M347.9 378.2h0M354.5 362.6h0M340.9 401.8h0M338.0 378.2h0M349.0 398.9h0M337.7 435.4h0M350.8 420.8h0M345.5 403.3h0M339.7 376.0h0M339.1 376.9h0M344.8 385.1h0M345.3 416.3h0M340.8 381.7h0M338.4 367.2h0M338.8 370.7h0M341.7 419.9h0M344.1 389.9h0M342.3 401.4h0M345.7 377.3h0M344.7 357.7h0M348.8 388.2h0M342.8 384.2h0M341.8 371.5h0M347.4 416.3h0M350.6 425.6h0M341.6 399.0h0M341.0 397.9h0M345.2 397.9h0M341.6 365.0h0M341.9 385.8h0M355.3 367.4h0M338.1 365.3h0M347.0 404.1h0M342.6 363.0h0M352.6 421.1h0M341.0 430.4h0M343.7 388.2h0M349.1 406.5h0M339.5 432.4h0M346.2 416.7h0M346.4 393.1h0M341.9 409.1h0M344.6 359.1h0M345.8 399.8h0M339.1 372.3h0M337.3 403.6h0M339.2 433.0h0M348.8 386.6h0M340.5 355.5h0M339.4 358.0h0M341.2 419.5h0M348.1 385.3h0M339.8 380.1h0M339.4 403.5h0M343.1 391.9h0M342.0 375.0h0M352.4 420.4h0M341.5 385.4h0M343.2 387.0h0M341.7 409.1h0M342.3 388.9h0M337.1 385.6h0M340.3 421.5h0M337.5 396.6h0M357.0 414.0h0M343.9 409.1h0M339.9 409.4h0M344.0 385.9h0M347.2 409.4h0M344.7 370.5h0M340.5 377.6h0M342.4 423.2h0M352.3 406.6h0M355.7 362.8h0M340.3 398.3h0M341.4 409.8h0M351.1 364.7h0M342.5 387.4h0M337.5 436.5h0M351.3 389.1h0M358.2 405.3h0M340.1 398.3h0M365.8 385.1h0M339.6 419.7h0M339.9 422.9h0M346.9 367.3h0M346.4 427.5h0M353.8 412.2h0M354.6 375.0h0M340.3 363.1h0M338.5 389.8h0M363.7 396.9h0M352.7 394.4h0M342.6 418.3h0M354.7 371.1h0M343.3 427.9h0M344.9 363.9h0M338.3 386.7h0M348.0 394.8h0M338.1 425.5h0M339.3 409.4h0M339.9 372.4h0M345.3 373.4h0M344.2 423.3h0M339.0 427.1h0M369.0 374.3h0M338.6 402.4h0M348.8 356.0h0M363.7 393.8h0M343.5 371.3h0M340.3 368.9h0M338.7 367.5h0M356.2 421.6h0M352.8 371.9h0M349.3 397.5h0M359.5 363.1h0M346.2 421.2h0M339.8 398.9h0M353.4 404.6h0M337.7 401.0h0M354.8 365.1h0M342.4 415.3h0M365.1 372.4h0M347.3 373.8h0M351.1 390.4h0M343.6 366.4h0M338.5 391.6h0M356.6 421.0h0M339.6 388.8h0M365.0 365.1h0M343.6 403.1h0M339.4 352.2h0M344.9 401.8h0M347.5 354.3h0M347.1 384.3h0M337.3 395.3h0M349.1 359.5h0M337.3 386.1h0M343.8 369.6h0M352.5 378.7h0M352.2 405.7h0M340.6 378.6h0M340.5 410.4h0M353.6 411.5h0M360.6 406.7h0M357.0 392.4h0M342.7 369.4h0M345.6 404.6h0M357.4 380.4h0M341.6 422.4h0M350.4 415.5h0M346.2 418.3h0M339.9 416.0h0M337.6 402.1h0M338.0 365.8h0M338.5 423.3h0M347.1 353.2h0M340.1 393.8h0M342.9 380.4h0M357.2 408.0h0M338.2 380.7h0M366.0 390.1h0M344.2 357.4h0M344.5 370.6h0M340.3 424.3h0M351.5 380.7h0M347.1 370.2h0M354.4 370.1h0M349.0 399.8h0M351.5 417.6h0M339.0 410.9h0M340.4 392.9h0M340.6 396.2h0M338.3 389.8h0M358.4 409.9h0M340.4 419.5h0M343.3 417.0h0M337.2 435.2h0M349.8 386.3h0M338.3 430.3h0M339.9 372.0h0M342.2 404.9h0M340.7 395.6h0M336.9 370.4h0M337.2 418.3h0M340.6 386.6h0M350.4 361.5h0M345.7 386.1h0M343.5 427.2h0M352.2 413.3h0M363.2 371.3h0M340.1 353.5h0M340.0 402.5h0M338.8 417.4h0M338.6 390.7h0M345.9 373.9h0M337.8 411.2h0M338.2 359.4h0M340.0 432.1h0M341.8 403.2h0M354.7 386.1h0M384.0 394.3h0M353.6 368.1h0M355.5 416.1h0M336.9 425.4h0M338.7 360.2h0M339.9 391.3h0M342.3 369.1h0M345.6 375.8h0M369.8 404.8h0M344.2 363.5h0M340.0 402.5h0M343.0 353.7h0M340.1 366.0h0M342.7 410.1h0M346.6 411.3h0M337.9 421.2h0M348.0 420.2h0M364.0 394.7h0M338.7 423.7h0M344.3 405.4h0M349.9 374.2h0M341.6 361.2h0M342.6 351.9h0M350.6 396.7h0M336.9 419.2h0M345.7 365.7h0M352.7 398.7h0M338.5 414.4h0M337.1 387.2h0M371.3 407.7h0M340.1 347.8h0M348.4 400.4h0M344.0 389.9h0M338.5 415.0h0M352.9 404.3h0M343.5 389.2h0M346.8 391.8h0M340.2 392.4h0M350.3 393.8h0M354.4 401.0h0M337.8 390.0h0M347.6 413.1h0M340.6 421.5h0M340.0 379.1h0M358.7 400.2h0M376.1 379.1h0M340.9 390.8h0M338.5 367.4h0M342.1 399.6h0M341.1 402.5h0M338.8 360.3h0M357.2 366.0h0M352.2 409.7h0M341.6 379.0h0M350.8 360.0h0M340.9 424.0h0M343.1 376.3h0M344.2 366.2h0M340.2 408.9h0M340.2 397.7h0M341.5 388.8h0M344.9 417.8h0M347.0 368.9h0M340.7 431.3h0M356.8 391.6h0M343.4 385.6h0M343.1 402.3h0M343.6 390.5h0M352.2 404.6h0M346.5 377.9h0M344.7 406.8h0M354.0 408.5h0M343.5 424.7h0M356.4 363.0h0M339.4 414.8h0M343.1 373.5h0M341.2 361.9h0M360.3 369.1h0M344.4 379.7h0M345.7 411.3h0M338.5 396.2h0M339.4 391.1h0M341.3 371.6h0M365.4 392.9h0M344.8 425.4h0M346.0 422.7h0M344.1 396.2h0M348.5 403.4h0M338.6 397.7h0M340.1 411.7h0M340.0 422.5h0M337.5 362.8h0M339.1 366.4h0M340.1 413.9h0M341.4 427.0h0M349.1 391.6h0M358.9 386.3h0M345.1 353.0h0M347.9 412.7h0M343.4 359.6h0M340.0 381.1h0M340.6 394.8h0M339.4 386.2h0M364.9 382.9h0M342.9 413.1h0M345.0 399.3h0M348.9 389.6h0M346.6 354.7h0M341.1 363.2h0M340.5 422.7h0M365.5 405.3h0M339.4 374.5h0M354.1 372.7h0M343.6 404.7h0M365.4 391.3h0M348.4 370.9h0M342.3 429.2h0M341.5 420.1h0M356.2 385.5h0M346.8 410.7h0M347.8 356.0h0M340.0 365.9h0M352.1 420.4h0M344.3 379.1h0M338.2 366.1h0M342.8 393.4h0M345.5 360.0h0M341.4 375.8h0M349.1 356.7h0M340.6 377.0h0M356.8 363.7h0M353.4 422.3h0M346.5 407.8h0M345.7 371.9h0M361.7 395.7h0M345.2 395.3h0M338.9 382.3h0M341.0 423.2h0M340.4 416.4h0M340.9 384.1h0M341.2 378.6h0M364.1 368.1h0M341.5 406.7h0M348.8 357.8h0M344.3 372.4h0M341.5 365.4h0M368.8 385.8h0M358.0 361.7h0M346.8 404.8h0M344.0 398.7h0M355.0 399.1h0M342.6 393.3h0M340.1 408.7h0M349.9 360.9h0M383.7 385.3h0M339.2 411.5h0M340.0 355.2h0M338.8 366.9h0M348.1 355.7h0M337.3 414.7h0M339.2 398.9h0M373.2 373.4h0M344.9 363.1h0M346.0 363.8h0M338.2 408.5h0M348.1 357.5h0M339.8 395.6h0M346.0 371.3h0M337.0 410.2h0M345.9 378.4h0M344.5 366.5h0M338.1 397.1h0M342.5 383.7h0M356.5 390.9h0M359.5 356.1h0M339.4 426.1h0M339.3 377.4h0M349.6 389.3h0M341.0 377.1h0M343.7 375.4h0M339.2 374.5h0M347.6 417.1h0M342.0 356.5h0M342.8 375.3h0M344.0 357.0h0M338.5 398.9h0M338.8 372.3h0M342.4 412.0h0M337.8 368.8h0M339.5 410.4h0M342.6 358.8h0M337.0 368.4h0M345.9 372.8h0M337.7 388.1h0M337.8 426.6h0M338.7 385.0h0M339.1 375.0h0M338.5 401.1h0M337.5 407.8h0M347.4 400.7h0M337.2 430.8h0M354.5 414.2h0M347.6 386.6h0M342.3 358.1h0M359.1 392.8h0M339.7 386.6h0M352.3 360.1h0M351.9 375.0h0M337.3 403.6h0M343.4 411.9h0M350.1 411.3h0M352.3 356.1h0M347.9 377.5h0M352.5 377.8h0M344.0 374.1h0M338.4 433.6h0M368.6 395.1h0M351.8 366.2h0M341.2 368.1h0M355.8 357.7h0M342.0 350.2h0M348.2 388.9h0M346.2 365.3h0M338.6 393.8h0M339.1 398.6h0M347.9 423.1h0M337.5 387.4h0M358.5 388.6h0M344.6 411.1h0M351.6 367.1h0M345.7 395.5h0M358.0 382.7h0M345.3 379.0h0M341.3 378.3h0M351.2 361.7h0M340.9 382.5h0M345.5 359.8h0M337.6 385.6h0M354.7 410.7h0M341.0 415.3h0M353.7 363.5h0M340.5 365.4h0M345.4 378.1h0M353.4 396.1h0M339.5 406.1h0M347.1 408.6h0M355.1 392.3h0M360.7 391.7h0M342.3 419.9h0M352.3 371.4h0M352.2 385.8h0M349.1 406.6h0M348.7 392.8h0M348.7 422.4h0M339.7 363.2h0M349.6 385.1h0M347.4 399.3h0M365.0 405.1h0M337.4 416.5h0M343.4 371.3h0M364.1 394.2h0M339.3 431.2h0M339.8 426.6h0M341.2 367.4h0M337.5 385.9h0M340.4 350.1h0M344.7 423.3h0M348.1 358.3h0M338.0 382.5h0M363.0 379.0h0M339.4 423.4h0M347.4 369.2h0M351.1 406.9h0M354.3 399.9h0M350.7 376.1h0M355.2 403.9h0M346.1 364.7h0M338.6 402.8h0M340.7 402.9h0M351.1 381.6h0M349.7 370.9h0M345.8 357.3h0M341.1 358.1h0M340.2 418.8h0M360.0 391.7h0M348.3 423.8h0M355.0 398.7h0M346.8 375.6h0M344.6 371.3h0M345.6 397.1h0M356.1 365.9h0M346.9 413.8h0M343.1 372.0h0M342.9 404.7h0M344.1 351.0h0M346.1 424.8h0M345.0 375.8h0M337.8 417.2h0M340.3 408.1h0M340.1 416.3h0M337.3 431.3h0M338.6 426.9h0M346.3 400.4h0M357.3 412.3h0M347.8 362.4h0M342.5 375.6h0M340.7 393.0h0M341.3 375.7h0M338.3 358.7h0M344.5 409.8h0M343.3 425.2h0M343.3 428.2h0M361.6 371.1h0M343.5 412.8h0M351.2 387.5h0M345.9 369.6h0M337.1 415.7h0M343.1 419.2h0M342.4 353.8h0M340.2 370.3h0M338.8 411.5h0M372.3 382.5h0M349.4 419.2h0M339.1 367.8h0M340.8 412.1h0M345.3 416.1h0M340.2 385.7h0M356.2 397.6h0M362.7 377.4h0M363.4 401.5h0M343.7 425.0h0M340.4 350.0h0M354.3 405.4h0M339.0 361.1h0M337.7 405.9h0M342.6 391.8h0M340.9 363.9h0M337.0 387.6h0M353.5 381.4h0M347.8 371.7h0M345.2 412.0h0M346.7 420.6h0M336.9 390.0h0M342.9 379.4h0M337.4 419.9h0M337.6 387.9h0M356.5 398.5h0M354.3 384.0h0M340.4 366.8h0M345.7 421.6h0M344.1 401.6h0M345.8 367.1h0M338.2 374.0h0M355.7 360.9h0M340.9 396.0h0M339.8 427.5h0M340.6 384.0h0M343.3 354.8h0M356.7 402.1h0M351.3 367.1h0M343.2 424.5h0M340.0 387.2h0M346.5 419.5h0M346.5 366.0h0M342.8 415.2h0M339.9 353.4h0M348.7 357.5h0M340.6 384.5h0M338.8 358.0h0M377.9 386.0h0M345.9 408.8h0M345.5 361.3h0M348.6 360.8h0M348.1 368.0h0M345.8 390.8h0M350.2 422.2h0M350.5 343.7h0M345.5 425.7h0M338.4 363.3h0M338.3 383.8h0M339.0 425.8h0M351.5 361.8h0M340.4 384.2h0M340.9 375.8h0M371.3 392.3h0M345.2 400.1h0M352.3 422.2h0M339.5 418.7h0M339.2 349.4h0M342.6 361.9h0M342.6 384.8h0M338.9 395.7h0M340.9 366.8h0M353.6 361.5h0M340.3 398.3h0M345.5 378.2h0M363.4 367.3h0M364.3 393.7h0M340.7 394.0h0M341.1 393.6h0M341.1 380.1h0M345.1 404.1h0M359.3 369.2h0M363.0 382.1h0M354.8 372.3h0M337.5 399.2h0M344.1 376.2h0M343.8 399.5h0M348.1 369.0h0M355.1 361.8h0M337.9 383.9h0M339.4 367.5h0M337.6 416.1h0M342.6 350.4h0M338.4 427.5h0M339.6 415.4h0M340.3 393.0h0M353.0 359.4h0M337.0 391.4h0M338.6 415.5h0M340.8 423.3h0M347.1 358.9h0M347.2 420.3h0M354.4 356.8h0M340.1 393.9h0M339.1 394.6h0M342.2 352.6h0M343.2 356.5h0M350.3 366.1h0M347.9 377.8h0M337.1 401.9h0M340.1 379.7h0M355.2 371.4h0M337.4 412.0h0M341.3 374.3h0M340.6 354.1h0M342.5 383.3h0M343.5 364.2h0M350.8 422.9h0M341.1 381.8h0M344.6 426.5h0M342.0 367.1h0M347.4 377.6h0M362.0 392.2h0M351.5 363.4h0M342.0 370.4h0M360.6 376.2h0M340.6 379.2h0M340.9 392.4h0M347.8 361.2h0M338.0 389.2h0M337.5 392.3h0M339.1 368.3h0M357.9 395.5h0M349.5 412.8h0M339.6 399.4h0M344.9 407.6h0M359.9 362.7h0M344.4 372.0h0M338.3 358.6h0M358.0 381.5h0M342.0 409.1h0M349.5 360.2h0M339.7 354.9h0M354.7 385.2h0M348.1 366.0h0M339.0 399.5h0M343.2 415.3h0M353.7 373.7h0M344.0 429.6h0M342.1 419.0h0M381.8 385.7h0M338.9 388.4h0M356.3 411.0h0M337.0 432.1h0M339.2 416.5h0M346.4 354.4h0M340.4 424.0h0M342.0 391.4h0M339.7 368.7h0M343.7 416.2h0M337.6 385.9h0M353.8 368.4h0M340.0 388.5h0M338.0 396.8h0M353.0 409.7h0M349.7 363.3h0M353.6 380.0h0M338.7 431.6h0M340.8 409.5h0M342.3 353.7h0M339.3 396.1h0M337.6 381.8h0M343.5 393.3h0M337.4 394.7h0M342.2 353.4h0M341.1 391.0h0M359.2 373.0h0M339.7 414.0h0M339.1 360.2h0M340.8 399.6h0M345.4 387.7h0M342.8 412.1h0M338.7 372.8h0M338.5 421.5h0M337.4 400.4h0M371.7 385.9h0M342.1 364.6h0M347.6 409.1h0M356.1 406.2h0M352.6 408.8h0M362.9 366.1h0M356.4 372.3h0M344.1 390.6h0M338.5 369.5h0M337.2 389.6h0M349.9 367.3h0M357.6 414.6h0M362.6 402.4h0M347.5 356.4h0M356.2 376.1h0M351.8 411.5h0M340.9 384.7h0M339.0 370.4h0M341.3 354.2h0M342.0 388.1h0M338.2 414.3h0M339.0 391.5h0M339.2 354.9h0M339.0 374.5h0M339.4 408.5h0M345.0 405.9h0M362.3 391.7h0M340.3 356.9h0M338.6 382.3h0M359.1 401.4h0M339.7 345.5h0M342.6 370.4h0M341.4 393.0h0M352.4 419.6h0M340.8 400.2h0M349.3 368.4h0M351.8 370.8h0M350.2 414.5h0M344.1 423.0h0M338.9 418.3h0M370.7 386.3h0M351.4 391.8h0M343.4 356.8h0M341.0 395.9h0M339.6 384.2h0M361.5 396.2h0M371.4 372.1h0M341.2 404.1h0M354.2 363.3h0M343.9 383.0h0M341.5 374.5h0M349.0 415.6h0M338.5 378.6h0M338.5 422.5h0M350.8 357.6h0M352.5 399.1h0M341.7 400.3h0M355.6 355.4h0M345.9 390.6h0M340.7 422.7h0M357.5 403.7h0M345.8 386.1h0M345.9 382.0h0M344.3 411.6h0M352.9 376.9h0M348.5 422.5h0M345.0 393.9h0M338.5 413.9h0M366.6 402.3h0M343.4 354.7h0M350.3 394.8h0M338.5 383.3h0M373.3 378.1h0M340.9 415.7h0M348.6 393.8h0M338.4 384.2h0M356.2 393.2h0M340.8 379.2h0M344.9 357.2h0M344.7 426.5h0M344.9 403.9h0M343.2 391.3h0M345.3 395.9h0M347.1 395.0h0M345.4 367.5h0M348.0 410.3h0M351.1 419.6h0M337.3 409.7h0M347.0 405.4h0M340.6 375.2h0M342.5 398.8h0M337.4 427.3h0M343.8 355.5h0M340.5 358.8h0M341.5 413.8h0M354.5 389.7h0M340.2 357.3h0M343.3 416.6h0M341.3 364.6h0M355.7 392.0h0M347.4 394.9h0M343.7 430.9h0M341.9 386.5h0M346.3 397.8h0M337.3 399.1h0M347.6 403.2h0M356.0 403.3h0M346.2 360.9h0M350.8 405.3h0M344.8 400.7h0M337.7 383.8h0M360.0 376.9h0M354.4 384.0h0M337.2 363.1h0M345.7 390.7h0M343.9 428.9h0M344.9 369.0h0M371.3 383.2h0M339.6 403.6h0M341.8 375.7h0M363.5 403.5h0M339.7 374.9h0M342.7 366.4h0M361.5 388.5h0M341.8 432.3h0M341.9 373.5h0M346.3 414.0h0M347.8 370.6h0M341.1 374.6h0M348.2 369.1h0M339.8 376.0h0M345.1 389.2h0M354.3 392.2h0M351.0 385.9h0M338.2 416.5h0M345.9 376.7h0M349.6 359.8h0M340.1 404.9h0M363.0 398.1h0M338.8 388.3h0M345.6 405.8h0M341.6 360.6h0M342.3 391.3h0M337.2 428.5h0M344.2 425.6h0M340.7 390.2h0M339.8 382.4h0M340.4 422.2h0M340.4 406.6h0M338.9 394.6h0M345.1 382.0h0M337.1 392.0h0M347.3 375.6h0M343.7 394.4h0M351.7 416.6h0M346.9 420.7h0M337.4 434.8h0M337.6 420.8h0M342.6 375.6h0M345.1 358.8h0M338.6 372.9h0M339.3 369.0h0M345.0 347.5h0M339.2 363.0h0M343.9 410.1h0M345.6 375.4h0M337.8 423.6h0M344.6 401.7h0M359.9 393.1h0M340.2 388.3h0M345.5 382.2h0M346.2 408.2h0M339.1 432.7h0M348.1 412.6h0M349.5 372.1h0M343.1 398.0h0M344.1 416.3h0M352.4 386.6h0M363.9 386.1h0M337.7 426.9h0M338.1 365.8h0M348.4 413.0h0M344.6 404.3h0M346.7 398.3h0M346.9 388.1h0M340.3 433.2h0M352.0 357.4h0M339.3 429.8h0M344.6 420.4h0M344.9 369.7h0M348.7 396.2h0M336.9 396.4h0M338.3 366.4h0M358.1 383.9h0M340.3 418.4h0M344.1 385.5h0M339.8 387.3h0M341.4 379.5h0M352.2 397.3h0M338.2 413.6h0M351.9 377.7h0M338.9 405.6h0M337.9 401.6h0M345.4 389.2h0M337.3 363.1h0M342.3 379.7h0M338.7 420.8h0M338.3 376.4h0M338.0 382.2h0M348.0 381.5h0M339.4 422.7h0M359.6 391.0h0M354.0 372.8h0M338.7 424.8h0M350.8 373.7h0M358.2 422.1h0M337.7 379.1h0M343.0 376.0h0M358.4 364.4h0M370.2 397.6h0M336.9 419.5h0M348.6 398.4h0M337.0 402.9h0M337.0 394.1h0M343.2 369.2h0M343.5 381.0h0M346.8 408.4h0M343.2 365.3h0M350.6 405.4h0M347.4 415.5h0M340.3 401.6h0M341.7 357.6h0M343.0 362.2h0M337.3 361.9h0M337.9 399.4h0M338.3 414.3h0M345.1 363.7h0M340.7 395.2h0M381.0 394.5h0M343.5 397.3h0M340.6 370.8h0M339.5 421.0h0M342.0 423.8h0M374.0 384.2h0M341.0 422.9h0M348.6 420.9h0M345.1 400.7h0M347.9 405.8h0M338.3 384.5h0M351.6 413.7h0M344.2 414.2h0M347.9 377.1h0M376.4 379.6h0M345.6 355.1h0M343.0 357.5h0M341.8 427.6h0M347.5 376.7h0M358.5 373.5h0M343.9 387.4h0M373.7 382.6h0M344.3 370.9h0M350.5 357.9h0M346.6 419.6h0M342.5 416.3h0M338.1 428.4h0M345.2 399.6h0M355.0 403.0h0M340.0 401.6h0M340.0 428.4h0M343.2 406.2h0M365.6 386.8h0M337.9 380.1h0M343.0 402.8h0M357.1 360.7h0M340.7 429.6h0M358.2 379.9h0M344.0 354.9h0M342.7 395.6h0M340.5 419.6h0M339.7 360.2h0M343.1 424.7h0M347.6 404.9h0M344.2 364.1h0M340.1 415.9h0M341.9 409.6h0M337.2 382.9h0M345.3 392.4h0M353.5 418.9h0M342.5 356.2h0M349.1 408.2h0M337.2 377.0h0M361.3 388.3h0M344.5 392.7h0M362.0 377.3h0M339.6 364.9h0M337.0 431.4h0M339.7 391.5h0M350.6 364.4h0M339.5 409.9h0M355.1 412.9h0M342.1 413.2h0M340.9 387.1h0M345.6 421.5h0M344.4 417.9h0M340.3 366.3h0M344.7 384.9h0M346.5 382.4h0M352.6 372.0h0M346.5 407.2h0M352.3 380.1h0M349.7 384.0h0M338.1 358.1h0M339.2 424.3h0M342.5 411.2h0M337.5 400.1h0M337.3 386.8h0M338.3 389.2h0M342.7 408.0h0M355.2 413.4h0M340.4 384.8h0M338.0 379.5h0M341.4 386.0h0M345.0 370.4h0M337.8 426.4h0M347.4 363.0h0M341.7 393.9h0M339.9 402.6h0M338.4 379.2h0M346.1 408.1h0M346.0 400.8h0M344.4 393.3h0M352.5 410.2h0M347.7 412.6h0M340.2 417.6h0M341.7 384.8h0M339.3 405.9h0M345.9 360.7h0M340.7 346.8h0M349.1 359.9h0M341.1 350.9h0M343.7 423.5h0M372.3 388.3h0M342.2 406.9h0M346.7 356.9h0M366.9 400.9h0M359.3 409.8h0M341.0 402.0h0M342.3 428.7h0M342.7 430.5h0M345.7 414.7h0M356.4 379.2h0M341.8 415.4h0M337.8 363.9h0M341.4 374.1h0M350.4 422.1h0M348.2 400.2h0M353.6 400.8h0M341.6 392.7h0M372.3 380.0h0M351.0 408.6h0M337.5 410.4h0M341.4 388.9h0M339.5 391.9h0M355.6 366.5h0M352.3 367.2h0M353.3 416.1h0M347.3 389.0h0M341.5 388.6h0M339.6 413.2h0M350.3 418.0h0M352.7 421.8h0M353.9 407.1h0M362.0 398.0h0M352.4 399.9h0M340.8 402.6h0M339.9 431.6h0M338.5 408.1h0M339.3 389.6h0M345.9 352.0h0M344.2 412.1h0M341.5 380.7h0M343.8 353.4h0M338.3 409.1h0M344.4 375.0h0M336.8 379.9h0M338.9 382.1h0M338.9 425.6h0M340.7 385.4h0M338.7 420.6h0M342.2 368.8h0M345.5 360.0h0M368.7 375.3h0M352.2 422.4h0M350.3 368.7h0M341.8 371.4h0M342.8 413.7h0M346.8 389.6h0M349.9 368.5h0M353.7 420.5h0M341.0 393.5h0M339.6 397.2h0M365.8 367.4h0M342.3 418.3h0M346.6 406.8h0M337.2 407.6h0M341.6 390.1h0M361.0 367.0h0M342.5 348.5h0M344.9 409.4h0M337.1 421.0h0M352.2 400.6h0M349.0 407.0h0M337.8 386.0h0M352.9 409.6h0M355.2 361.6h0M358.7 382.8h0M343.3 426.9h0M356.2 399.6h0M338.2 370.5h0M343.6 362.2h0M359.4 397.2h0M351.5 418.1h0M342.3 368.3h0M357.8 410.6h0M344.3 411.7h0M342.5 416.9h0M342.4 358.3h0M347.8 379.3h0M350.6 383.0h0M341.2 368.0h0M341.0 390.0h0M350.8 378.1h0M340.8 397.3h0M350.7 374.1h0M349.1 362.3h0M351.7 359.5h0M344.3 374.3h0M351.5 421.0h0M340.8 425.1h0M337.7 414.5h0M341.0 407.5h0M341.2 419.9h0M344.3 372.9h0M340.4 359.9h0M343.5 361.6h0M343.9 385.5h0M338.4 351.4h0M338.5 422.3h0M344.4 386.7h0M353.1 420.6h0M343.2 408.8h0M341.7 393.3h0M344.2 357.0h0M337.4 375.6h0M368.7 373.9h0M347.2 363.9h0M339.7 371.2h0M340.5 363.3h0M353.8 412.4h0M346.9 370.6h0M344.0 413.7h0M337.9 401.0h0M339.3 398.0h0M349.3 355.1h0M339.7 420.5h0M346.9 398.4h0M349.1 365.2h0M338.3 398.4h0M339.6 422.2h0M357.4 408.6h0M341.2 361.2h0M340.8 365.8h0M340.4 424.0h0M359.4 369.3h0M340.6 353.6h0M339.1 393.7h0M346.3 407.2h0M348.6 367.1h0M339.7 420.6h0M353.9 392.8h0M339.6 363.5h0M342.4 363.3h0M351.2 392.5h0M338.1 427.3h0M339.1 430.7h0M356.1 365.7h0M343.4 365.6h0M353.8 362.7h0M346.3 364.5h0M341.6 403.3h0M346.7 416.6h0M338.1 377.6h0M342.5 407.7h0M355.9 379.8h0M339.4 396.7h0M345.8 364.6h0M338.9 431.5h0M351.8 358.1h0M337.6 391.2h0M339.5 403.2h0M354.8 412.8h0M341.3 386.8h0M346.9 405.6h0M344.7 362.5h0M339.9 364.3h0M346.7 420.7h0M345.5 379.2h0M344.9 414.1h0M348.3 350.0h0M342.4 413.8h0M351.5 373.1h0M342.0 376.3h0M338.1 408.1h0M337.9 379.4h0M354.1 396.1h0M348.2 375.8h0M339.6 425.7h0M351.0 384.1h0M340.2 354.1h0M370.4 377.0h0M339.0 424.5h0M337.9 399.2h0M337.5 374.9h0M350.1 409.6h0M345.7 425.5h0M345.3 380.3h0M344.2 425.8h0M340.7 395.3h0M354.7 375.4h0M342.8 385.5h0M338.3 395.7h0M343.2 379.5h0M343.1 396.2h0M340.0 428.9h0M343.8 408.7h0M337.7 410.9h0M368.0 391.2h0M338.7 419.9h0M362.0 384.4h0M360.8 378.1h0M337.9 382.4h0M345.5 367.0h0M339.2 427.0h0M357.4 412.1h0M338.8 395.7h0M338.9 425.3h0M343.5 403.2h0M337.8 364.7h0M368.7 398.7h0M369.2 403.4h0M338.1 391.2h0M353.3 385.4h0M350.0 391.4h0M368.9 393.2h0M339.2 357.1h0M338.4 357.6h0M345.0 424.1h0M368.4 410.7h0M344.3 383.1h0M341.4 378.8h0M346.7 376.9h0M349.3 388.4h0M346.2 405.6h0M337.6 373.2h0M353.1 370.9h0M338.6 384.2h0M339.6 422.9h0M343.4 364.6h0M350.3 389.1h0M341.0 418.6h0M340.1 364.3h0M345.9 428.2h0M346.8 395.8h0M348.9 420.3h0M342.6 366.2h0M347.5 428.0h0M339.8 383.2h0M346.0 408.3h0M341.6 366.5h0M337.2 396.7h0M339.2 407.0h0M345.9 379.3h0M343.8 372.1h0M348.3 391.3h0M339.3 368.0h0M338.2 418.2h0M340.2 414.5h0M355.5 411.8h0M339.8 427.0h0M341.2 430.3h0M346.1 386.9h0M351.9 399.0h0M341.9 414.5h0M356.4 406.1h0M350.7 417.4h0M343.6 385.4h0M345.5 364.8h0M344.3 426.2h0M344.5 358.5h0M339.4 385.2h0M342.0 363.9h0M344.9 357.9h0M337.8 414.4h0M349.6 388.4h0M348.3 405.3h0M343.6 361.6h0M353.0 383.1h0M342.4 389.7h0M339.1 405.5h0M342.0 391.8h0M358.4 389.1h0M348.0 399.3h0M357.5 371.3h0M341.1 421.9h0M338.1 365.1h0M351.1 377.9h0M341.7 380.4h0M346.9 428.1h0M339.0 428.4h0M338.9 370.4h0M349.3 360.6h0M345.0 377.7h0M346.9 394.4h0M373.5 388.3h0M338.1 417.7h0M344.2 387.4h0M343.8 369.5h0M350.3 375.9h0M342.9 354.7h0M350.2 397.6h0M360.2 391.9h0M341.0 366.8h0M339.9 422.0h0M345.7 369.7h0M340.3 378.1h0M338.0 414.6h0M363.1 399.3h0M336.9 381.1h0M342.7 408.2h0M342.7 389.4h0M340.0 432.8h0M345.8 407.7h0M339.1 374.9h0M351.8 417.0h0M348.8 380.4h0M341.5 429.1h0M352.7 370.4h0M339.2 414.2h0M338.2 376.7h0M337.1 371.2h0M365.3 370.3h0M342.3 428.6h0M339.3 367.7h0M341.2 379.5h0M340.3 362.0h0M338.3 387.6h0M338.5 417.6h0M339.3 387.8h0M352.1 399.6h0M339.3 404.6h0M353.3 382.5h0M357.4 416.9h0M349.7 364.2h0M349.8 383.3h0M346.5 353.0h0M346.2 368.8h0M341.5 405.1h0M337.5 373.9h0M339.7 395.2h0M364.7 407.4h0M342.0 368.6h0M352.2 366.1h0M365.3 394.2h0M353.0 401.5h0M352.3 416.6h0M346.6 360.8h0M340.7 392.1h0M339.7 408.3h0M342.5 368.5h0M339.0 365.9h0M346.5 374.0h0M345.3 394.9h0M340.5 365.4h0M344.0 376.6h0M339.1 368.8h0M339.4 395.6h0M342.1 431.4h0M337.2 389.9h0M338.3 416.2h0M357.2 395.9h0M337.5 367.6h0M345.4 379.4h0M341.1 393.0h0M341.4 402.7h0M346.8 386.4h0M359.9 369.5h0M343.4 359.2h0M339.3 400.6h0M354.9 378.5h0M353.8 376.8h0M338.2 388.4h0M341.9 412.6h0M365.0 369.0h0M350.1 372.8h0M339.1 391.8h0M340.7 384.3h0M341.7 361.4h0M356.7 384.2h0M349.7 379.2h0M342.4 360.9h0M358.9 391.1h0M341.3 397.9h0M347.6 369.2h0M338.6 380.8h0M339.8 408.0h0M339.3 392.0h0M337.3 421.5h0M363.7 363.9h0M354.0 383.9h0M368.4 394.4h0M338.5 416.7h0M339.2 385.7h0M346.5 367.9h0M363.0 369.1h0M342.4 392.6h0M338.9 425.4h0M337.9 429.2h0M338.9 377.3h0M336.8 387.8h0M346.8 424.3h0M344.4 379.1h0M343.4 368.9h0M353.8 385.6h0M352.6 367.7h0M338.3 418.2h0M339.1 378.4h0M341.9 386.9h0M337.2 403.0h0M341.5 350.5h0M340.8 363.3h0M338.1 415.3h0M337.8 408.9h0M354.8 391.6h0M341.3 359.2h0M338.3 364.9h0M354.0 368.2h0M339.9 427.6h0M364.5 384.9h0M348.4 399.3h0M338.2 359.9h0M349.8 377.1h0M343.2 358.0h0M353.9 396.2h0M338.0 361.3h0M337.4 406.7h0M358.0 367.0h0M339.9 358.1h0M345.4 420.3h0M346.9 413.2h0M349.0 382.8h0M342.1 431.8h0M351.1 424.3h0M344.2 356.8h0M345.9 426.2h0M346.4 382.2h0M353.0 394.9h0M337.8 431.7h0M344.5 371.1h0M350.2 408.7h0M339.5 374.3h0M338.1 428.6h0M344.2 420.5h0M339.0 413.5h0M349.4 373.6h0M341.0 425.2h0M345.4 421.6h0M345.4 405.2h0M342.7 386.7h0M350.7 378.2h0M346.0 374.5h0M348.2 409.0h0M369.0 402.0h0M356.7 367.9h0M343.1 417.9h0M339.6 389.5h0M341.3 395.3h0M337.7 414.8h0M340.5 411.1h0M351.8 425.0h0M348.9 396.1h0M347.4 397.9h0M339.0 389.6h0M340.4 396.6h0M361.9 405.5h0M340.3 361.6h0M353.7 383.5h0M348.5 413.3h0M340.8 399.8h0M341.0 430.8h0M338.3 433.6h0M337.8 387.8h0M344.7 378.6h0M339.8 425.0h0M342.5 349.4h0M340.0 428.0h0M349.1 381.3h0M355.0 392.5h0M345.5 414.4h0M353.9 366.7h0M343.5 426.0h0M338.2 431.0h0M356.1 401.2h0M357.5 351.3h0M348.4 389.1h0M339.4 368.4h0M346.1 402.9h0M342.6 419.4h0M353.7 419.9h0M342.2 432.6h0M337.2 410.4h0M372.2 372.3h0M364.7 359.0h0M342.5 369.3h0M352.2 399.5h0M339.1 380.4h0M341.1 384.1h0M354.2 405.4h0M354.4 404.8h0M342.1 385.7h0M338.2 363.3h0M339.6 380.0h0M357.1 400.1h0M347.8 409.4h0M339.7 403.0h0M337.8 378.3h0M353.9 420.8h0M344.7 355.1h0M344.5 403.4h0M349.6 425.3h0M339.7 405.1h0M339.7 424.9h0M340.0 414.1h0M339.0 402.5h0M337.5 375.4h0M340.9 418.7h0M355.1 418.0h0M343.5 361.1h0M345.1 389.5h0M355.2 367.0h0M341.6 388.5h0M351.4 354.0h0M342.9 407.5h0M340.9 426.2h0M347.6 357.7h0M341.8 378.1h0M362.3 367.9h0M344.2 376.8h0M341.4 404.8h0M342.1 359.7h0M343.6 381.6h0M345.2 387.0h0M340.9 401.4h0M337.4 395.3h0M337.4 385.6h0M339.2 382.1h0M339.2 385.3h0M353.8 374.0h0M363.3 389.1h0M372.0 404.3h0M336.8 424.0h0M340.4 356.8h0M363.6 403.3h0M346.0 377.8h0M343.4 361.6h0M342.6 360.1h0M347.3 353.9h0M354.8 388.1h0M343.6 395.1h0M345.5 374.2h0M337.1 393.8h0M348.2 373.4h0M348.3 367.6h0M341.5 415.9h0M350.3 381.4h0M340.8 414.9h0M348.9 367.0h0M342.5 409.5h0M344.4 361.9h0M339.4 411.4h0M354.2 394.5h0M338.3 376.1h0M343.6 387.6h0M353.8 371.8h0M338.3 407.9h0M346.9 422.4h0M342.6 373.2h0M349.5 415.5h0M339.6 432.5h0M340.2 353.4h0M347.1 390.5h0M347.8 401.2h0M337.1 427.5h0M337.7 380.0h0M354.7 418.4h0M360.5 413.4h0M353.1 361.9h0M340.3 356.3h0M342.0 398.5h0M348.2 351.9h0M347.2 395.1h0M347.5 362.5h0M343.6 413.4h0M344.6 404.1h0M360.7 418.2h0M340.8 374.7h0M340.9 401.2h0M341.9 429.2h0M373.9 373.9h0M348.7 385.6h0M341.5 425.2h0M383.9 387.1h0M363.2 379.3h0M341.6 376.5h0M340.8 433.2h0M340.4 387.5h0M354.3 390.8h0M339.1 389.3h0M337.7 414.0h0M346.3 402.1h0M337.1 365.4h0M341.2 374.5h0M342.7 380.3h0M344.1 403.5h0M339.0 382.1h0M358.4 373.8h0M342.8 364.7h0M341.6 379.9h0M340.4 401.0h0M352.7 417.9h0M368.1 408.4h0M345.0 362.3h0M338.9 425.3h0M348.6 371.1h0M352.3 377.4h0M343.3 410.1h0M344.4 408.5h0M355.0 407.3h0M349.3 416.7h0M342.4 400.8h0M338.6 365.0h0M349.4 402.9h0M342.2 432.4h0M338.3 391.5h0M344.5 348.0h0M339.9 408.9h0M355.4 391.8h0M355.6 382.1h0M344.2 358.3h0M346.0 381.2h0M337.8 435.0h0M355.7 390.1h0M345.9 359.3h0M346.7 411.8h0M351.5 375.8h0M342.3 367.2h0M344.2 407.9h0M346.7 366.9h0M357.1 410.4h0M344.6 401.5h0M343.7 382.6h0M353.3 399.3h0M350.2 363.5h0M357.4 415.5h0M338.9 383.4h0M347.3 407.7h0M341.0 425.8h0M338.0 384.9h0M338.5 403.5h0M338.1 380.8h0M353.5 375.3h0M339.3 363.4h0M364.5 371.4h0M345.6 404.4h0M345.4 381.0h0M343.3 353.1h0M341.2 361.0h0M350.3 410.3h0M347.1 372.1h0M349.4 396.9h0M353.1 393.3h0M344.2 353.5h0M346.3 374.6h0M339.8 412.1h0M339.6 407.5h0M340.5 349.8h0M352.8 416.9h0M342.2 377.1h0M339.8 368.7h0M361.4 409.3h0M355.2 397.4h0M357.4 374.5h0M343.2 409.6h0M343.0 406.8h0M346.3 387.2h0M345.4 389.9h0M345.9 373.3h0M341.6 367.5h0M339.1 367.8h0M338.8 376.2h0M340.1 374.7h0M343.6 419.4h0M345.2 411.7h0M338.8 431.0h0M341.2 411.8h0M339.1 365.9h0M341.6 412.0h0M340.5 410.8h0M356.3 378.3h0M342.3 369.9h0M344.9 390.5h0M344.3 404.4h0M338.0 427.0h0M337.5 376.9h0M347.3 375.3h0M351.4 365.9h0M339.3 360.1h0M356.4 413.4h0M349.8 378.0h0M343.4 372.3h0M346.3 428.2h0M338.8 382.9h0M360.2 364.0h0M382.1 376.9h0M342.9 362.4h0M337.1 426.3h0M342.4 411.9h0M350.4 384.9h0M345.9 365.8h0M344.7 417.2h0M364.5 366.9h0M343.0 353.3h0M341.1 381.0h0M342.2 419.9h0M341.9 414.3h0M352.7 384.5h0M355.4 364.1h0M362.3 385.0h0M349.3 407.7h0M340.8 351.2h0M359.6 377.3h0M339.0 356.5h0M339.6 364.1h0M347.9 376.3h0M360.5 406.0h0M347.1 401.3h0M348.1 374.8h0M338.4 396.9h0M340.4 385.0h0M344.6 425.8h0M338.6 398.9h0M344.6 392.3h0M339.5 376.5h0M342.1 370.4h0M340.6 356.9h0M338.3 421.0h0M347.1 398.7h0M342.5 418.1h0M341.1 398.5h0M338.1 347.9h0M342.5 397.2h0M339.5 418.1h0M351.2 399.1h0M338.4 419.0h0M343.7 417.8h0M344.1 416.1h0M338.6 376.1h0M345.9 383.5h0M353.7 386.7h0M358.1 362.1h0M348.1 376.6h0M341.3 379.1h0M341.7 380.8h0M343.7 377.2h0M341.6 376.8h0M351.7 363.9h0M338.8 406.8h0M340.8 368.8h0M366.0 379.1h0M337.6 386.3h0M339.8 410.5h0M339.1 407.8h0M356.5 398.0h0M343.9 421.1h0M338.6 432.2h0M343.0 386.6h0M345.3 427.0h0M342.8 399.2h0M341.7 428.0h0M339.7 409.7h0M338.1 385.0h0M338.2 424.5h0M338.2 354.2h0M347.1 399.6h0M338.6 393.2h0M356.0 387.6h0M340.0 366.2h0M338.0 370.5h0M344.5 403.5h0M353.8 405.4h0M339.9 398.5h0M371.9 399.4h0M341.0 403.4h0M363.0 391.5h0M354.0 390.9h0M338.3 386.9h0M344.6 388.7h0M348.1 424.2h0M337.9 380.6h0M340.0 385.3h0M358.3 419.0h0M340.6 391.2h0M341.0 375.1h0M339.4 363.8h0M354.3 407.4h0M349.6 380.1h0M344.2 422.2h0M341.6 393.1h0M346.6 375.1h0M345.2 407.9h0M338.8 393.3h0M339.1 409.3h0M344.3 381.1h0M340.4 404.6h0M350.5 362.7h0M351.8 364.2h0M341.9 420.6h0M354.7 382.9h0M350.7 377.5h0M347.1 422.0h0M347.1 351.0h0M366.3 389.6h0M348.8 393.5h0M345.2 371.7h0M340.4 381.9h0M340.8 377.3h0M339.0 394.8h0M340.1 369.7h0M339.7 399.3h0M341.7 426.6h0M338.7 392.0h0M343.8 412.3h0M386.2 381.4h0M374.2 359.7h0M381.4 382.2h0M382.2 409.3h0M398.2 419.5h0M371.5 361.8h0M379.1 392.3h0M366.9 355.2h0M404.5 344.6h0M391.7 387.8h0M404.5 350.6h0M378.3 348.2h0M395.0 416.7h0M395.7 351.7h0M371.1 342.6h0M364.5 355.3h0M387.2 416.6h0M393.5 353.7h0M404.2 406.7h0M378.0 365.2h0M387.0 360.6h0M364.5 335.6h0M362.5 337.9h0M385.5 410.3h0M358.4 361.1h0M391.3 367.6h0M363.6 394.4h0M363.7 347.9h0M397.9 375.1h0M377.7 345.8h0M374.6 419.6h0M389.4 382.3h0M362.6 383.7h0M401.7 370.0h0M379.3 376.3h0M383.6 395.2h0M363.7 395.7h0M370.3 342.2h0M381.3 386.4h0M357.2 354.8h0M369.5 352.1h0M385.8 350.2h0M381.6 349.8h0M377.2 401.6h0M405.0 405.3h0M365.6 403.6h0M377.9 382.4h0M367.2 368.9h0M402.5 379.4h0M387.2 395.8h0M374.6 384.4h0M392.3 366.3h0M398.0 376.5h0M380.7 377.2h0M405.3 388.8h0M394.6 356.8h0M380.1 410.8h0M402.2 387.5h0M357.3 337.4h0M380.6 420.8h0M399.4 358.8h0M360.9 377.0h0M396.2 356.5h0M372.3 388.2h0M394.8 377.3h0M401.9 356.2h0M366.0 337.7h0M387.2 365.0h0M378.6 420.1h0M359.9 405.3h0M394.1 409.6h0M389.1 418.8h0M393.5 415.7h0M362.0 419.6h0M358.2 383.7h0M368.3 384.9h0M365.1 415.4h0M394.2 409.0h0M380.3 399.0h0M361.1 382.7h0M405.6 370.4h0M393.4 368.6h0M366.7 340.0h0M362.0 343.4h0M386.6 415.6h0M369.2 380.8h0M368.3 366.9h0M390.5 347.3h0M394.7 414.3h0M378.0 415.6h0M357.7 339.2h0M384.9 419.5h0M368.3 338.7h0M390.2 344.1h0M361.8 355.3h0M372.1 389.1h0M372.5 356.5h0M358.4 365.0h0M390.5 363.7h0M385.8 350.4h0M387.5 391.9h0M400.7 364.5h0M393.8 413.9h0M399.7 345.4h0M361.6 408.4h0M377.2 335.4h0M388.6 388.3h0M383.4 411.4h0M400.5 400.4h0M390.8 380.4h0M369.4 346.1h0M399.9 388.6h0M390.2 391.6h0M360.0 366.6h0M372.4 367.9h0M390.3 389.8h0M397.2 399.5h0M375.9 361.5h0M361.7 364.3h0M384.2 356.1h0M390.8 366.3h0M395.8 367.7h0M375.0 410.0h0M400.4 350.0h0M376.7 367.5h0M403.3 413.2h0M402.9 345.4h0M360.0 409.4h0M369.1 414.9h0M365.3 350.5h0M389.3 413.0h0M377.4 359.4h0M371.1 370.6h0M375.9 403.7h0M401.9 405.3h0M385.1 376.1h0M391.2 372.8h0M389.8 345.4h0M405.6 372.4h0M375.1 343.1h0M392.8 349.7h0M372.9 415.7h0M378.2 386.6h0M383.2 347.0h0M397.1 356.4h0M391.5 404.7h0M369.0 377.2h0M373.8 363.8h0M373.5 407.6h0M362.1 409.4h0M365.2 321.7h0M373.4 321.1h0M387.2 324.4h0M395.3 333.8h0M405.0 349.3h0M389.6 360.4h0M379.0 368.6h0M404.2 372.5h0M401.0 367.0h0M385.5 389.1h0M401.0 388.0h0M387.2 412.8h0M375.8 420.0h0M381.5 407.3h0" stroke="#f01e10" stroke-width="1.90" stroke-linecap="round" fill="none"/>
<line x1="324.40" y1="314.00" x2="324.40" y2="442.00" stroke="#999" stroke-width="0.5" stroke-dasharray="1.5 1.5"/>
<line x1="333.50" y1="314.00" x2="333.50" y2="442.00" stroke="#999" stroke-width="0.5" stroke-dasharray="1.5 1.5"/>
<line x1="257.40" y1="437.70" x2="414.00" y2="437.70" stroke="#999" stroke-width="0.5" stroke-dasharray="1.5 1.5"/>
<line x1="364.00" y1="319.00" x2="378.00" y2="320.00" stroke="#333" stroke-width="0.35"/>
<line x1="378.00" y1="329.00" x2="375.00" y2="338.00" stroke="#333" stroke-width="0.35"/>
<line x1="398.00" y1="339.00" x2="405.00" y2="347.00" stroke="#333" stroke-width="0.35"/>
<line x1="373.00" y1="349.00" x2="395.00" y2="352.00" stroke="#333" stroke-width="0.35"/>
<line x1="352.00" y1="350.00" x2="375.00" y2="358.00" stroke="#333" stroke-width="0.35"/>
<line x1="383.00" y1="361.00" x2="390.00" y2="371.00" stroke="#333" stroke-width="0.35"/>
<line x1="371.00" y1="373.00" x2="385.00" y2="371.00" stroke="#333" stroke-width="0.35"/>
<line x1="388.00" y1="384.00" x2="384.00" y2="388.00" stroke="#333" stroke-width="0.35"/>
<line x1="365.00" y1="395.00" x2="370.00" y2="399.00" stroke="#333" stroke-width="0.35"/>
<line x1="384.00" y1="405.00" x2="392.00" y2="394.00" stroke="#333" stroke-width="0.35"/>
<line x1="403.00" y1="405.00" x2="400.00" y2="396.00" stroke="#333" stroke-width="0.35"/>
<line x1="363.00" y1="415.00" x2="370.00" y2="405.00" stroke="#333" stroke-width="0.35"/>
<line x1="380.00" y1="425.00" x2="384.00" y2="418.00" stroke="#333" stroke-width="0.35"/>
<line x1="398.00" y1="414.00" x2="392.00" y2="408.00" stroke="#333" stroke-width="0.35"/>
<rect x="348.90" y="315.70" width="16.60" height="4.60" fill="#ffffff" fill-opacity="0.0"/>
<text x="357.20" y="321.50" font-size="5.3" text-anchor="middle" fill="#222" font-style="italic">INHBA</text>
<rect x="370.28" y="323.60" width="14.83" height="4.60" fill="#ffffff" fill-opacity="0.0"/>
<text x="377.70" y="329.40" font-size="5.3" text-anchor="middle" fill="#222" font-style="italic">CDH3</text>
<rect x="394.09" y="323.60" width="15.41" height="4.60" fill="#ffffff" fill-opacity="0.0"/>
<text x="401.80" y="329.40" font-size="5.3" text-anchor="middle" fill="#222" font-style="italic">WNT2</text>
<rect x="386.46" y="334.10" width="23.67" height="4.60" fill="#ffffff" fill-opacity="0.0"/>
<text x="398.30" y="339.90" font-size="5.3" text-anchor="middle" fill="#222" font-style="italic">COL10A1</text>
<rect x="353.22" y="335.00" width="18.36" height="4.60" fill="#ffffff" fill-opacity="0.0"/>
<text x="362.40" y="340.80" font-size="5.3" text-anchor="middle" fill="#222" font-style="italic">FOXQ1</text>
<rect x="340.00" y="345.00" width="16.80" height="4.60" fill="#ffffff" fill-opacity="0.0"/>
<text x="348.40" y="350.80" font-size="5.3" text-anchor="middle" fill="#222" font-style="italic">KRT23</text>
<rect x="362.43" y="345.00" width="13.95" height="4.60" fill="#ffffff" fill-opacity="0.0"/>
<text x="369.40" y="350.80" font-size="5.3" text-anchor="middle" fill="#222" font-style="italic">CST1</text>
<rect x="377.96" y="343.80" width="23.28" height="4.60" fill="#ffffff" fill-opacity="0.0"/>
<text x="389.60" y="349.60" font-size="5.3" text-anchor="middle" fill="#222" font-style="italic">COL11A1</text>
<rect x="351.81" y="355.50" width="17.78" height="4.60" fill="#ffffff" fill-opacity="0.0"/>
<text x="360.70" y="361.30" font-size="5.3" text-anchor="middle" fill="#222" font-style="italic">DPEP1</text>
<rect x="371.91" y="355.50" width="17.78" height="4.60" fill="#ffffff" fill-opacity="0.0"/>
<text x="380.80" y="361.30" font-size="5.3" text-anchor="middle" fill="#222" font-style="italic">CLDN2</text>
<rect x="393.94" y="357.30" width="15.71" height="4.60" fill="#ffffff" fill-opacity="0.0"/>
<text x="401.80" y="363.10" font-size="5.3" text-anchor="middle" fill="#222" font-style="italic">MMP7</text>
<rect x="351.02" y="365.70" width="13.95" height="4.60" fill="#ffffff" fill-opacity="0.0"/>
<text x="358.00" y="371.50" font-size="5.3" text-anchor="middle" fill="#222" font-style="italic">SPP1</text>
<rect x="389.29" y="367.10" width="19.83" height="4.60" fill="#ffffff" fill-opacity="0.0"/>
<text x="399.20" y="372.90" font-size="5.3" text-anchor="middle" fill="#222" font-style="italic">NOTUM</text>
<rect x="368.56" y="369.50" width="17.49" height="4.60" fill="#ffffff" fill-opacity="0.0"/>
<text x="377.30" y="375.30" font-size="5.3" text-anchor="middle" fill="#222" font-style="italic">CXCL8</text>
<rect x="382.67" y="371.80" width="24.26" height="4.60" fill="#ffffff" fill-opacity="0.0"/>
<text x="394.80" y="377.60" font-size="5.3" text-anchor="middle" fill="#222" font-style="italic">SLCO1B3</text>
<rect x="339.54" y="375.80" width="10.71" height="4.60" fill="#ffffff" fill-opacity="0.0"/>
<text x="344.90" y="381.60" font-size="5.3" text-anchor="middle" fill="#222" font-style="italic">CA9</text>
<rect x="355.44" y="379.70" width="15.71" height="4.60" fill="#ffffff" fill-opacity="0.0"/>
<text x="363.30" y="385.50" font-size="5.3" text-anchor="middle" fill="#222" font-style="italic">MMP3</text>
<rect x="381.66" y="378.30" width="17.49" height="4.60" fill="#ffffff" fill-opacity="0.0"/>
<text x="390.40" y="384.10" font-size="5.3" text-anchor="middle" fill="#222" font-style="italic">CXCL5</text>
<rect x="394.68" y="381.80" width="14.24" height="4.60" fill="#ffffff" fill-opacity="0.0"/>
<text x="401.80" y="387.60" font-size="5.3" text-anchor="middle" fill="#222" font-style="italic">TCN1</text>
<rect x="335.68" y="389.80" width="14.83" height="4.60" fill="#ffffff" fill-opacity="0.0"/>
<text x="343.10" y="395.60" font-size="5.3" text-anchor="middle" fill="#222" font-style="italic">DSG3</text>
<rect x="356.27" y="389.80" width="19.26" height="4.60" fill="#ffffff" fill-opacity="0.0"/>
<text x="365.90" y="395.60" font-size="5.3" text-anchor="middle" fill="#222" font-style="italic">S100A2</text>
<rect x="380.91" y="390.20" width="17.39" height="4.60" fill="#ffffff" fill-opacity="0.0"/>
<text x="389.60" y="396.00" font-size="5.3" text-anchor="middle" fill="#222" font-style="italic">KRT6B</text>
<rect x="348.24" y="399.80" width="21.32" height="4.60" fill="#ffffff" fill-opacity="0.0"/>
<text x="358.90" y="405.60" font-size="5.3" text-anchor="middle" fill="#222" font-style="italic">HOXB13</text>
<rect x="373.30" y="399.80" width="16.80" height="4.60" fill="#ffffff" fill-opacity="0.0"/>
<text x="381.70" y="405.60" font-size="5.3" text-anchor="middle" fill="#222" font-style="italic">KRT17</text>
<rect x="395.43" y="399.80" width="14.54" height="4.60" fill="#ffffff" fill-opacity="0.0"/>
<text x="402.70" y="405.60" font-size="5.3" text-anchor="middle" fill="#222" font-style="italic">PPBP</text>
<rect x="353.58" y="410.30" width="14.24" height="4.60" fill="#ffffff" fill-opacity="0.0"/>
<text x="360.70" y="416.10" font-size="5.3" text-anchor="middle" fill="#222" font-style="italic">MT1F</text>
<rect x="391.82" y="411.20" width="18.37" height="4.60" fill="#ffffff" fill-opacity="0.0"/>
<text x="401.00" y="417.00" font-size="5.3" text-anchor="middle" fill="#222" font-style="italic">REG3A</text>
<rect x="368.12" y="420.00" width="18.37" height="4.60" fill="#ffffff" fill-opacity="0.0"/>
<text x="377.30" y="425.80" font-size="5.3" text-anchor="middle" fill="#222" font-style="italic">REG1B</text>
<text x="413.70" y="367.80" font-size="6.6" fill="#222">DEG</text>
<circle cx="415.3" cy="374.8" r="1" fill="#1414f0"/>
<text x="418.50" y="376.50" font-size="4.8" fill="#222">Downregulation</text>
<circle cx="415.3" cy="382.7" r="1" fill="#a0a0a0"/>
<text x="418.50" y="384.40" font-size="4.8" fill="#222">Not significant</text>
<circle cx="415.3" cy="390.6" r="1" fill="#f01e10"/>
<text x="418.50" y="392.30" font-size="4.8" fill="#222">Upregulation</text>
<text x="455.10" y="288.90" font-size="16.5" font-weight="bold">d</text>
<rect x="477.30" y="297.40" width="201.20" height="72.10" fill="#fff"/>
<line x1="488.20" y1="297.40" x2="488.20" y2="369.50" stroke="#ececec" stroke-width="0.5"/>
<line x1="532.90" y1="297.40" x2="532.90" y2="369.50" stroke="#ececec" stroke-width="0.5"/>
<line x1="577.60" y1="297.40" x2="577.60" y2="369.50" stroke="#ececec" stroke-width="0.5"/>
<line x1="622.30" y1="297.40" x2="622.30" y2="369.50" stroke="#ececec" stroke-width="0.5"/>
<line x1="667.00" y1="297.40" x2="667.00" y2="369.50" stroke="#ececec" stroke-width="0.5"/>
<line x1="477.30" y1="354.60" x2="678.50" y2="354.60" stroke="#ececec" stroke-width="0.5"/>
<line x1="477.30" y1="332.00" x2="678.50" y2="332.00" stroke="#ececec" stroke-width="0.5"/>
<line x1="477.30" y1="309.40" x2="678.50" y2="309.40" stroke="#ececec" stroke-width="0.5"/>
<line x1="488.20" y1="343.30" x2="488.20" y2="364.77" stroke="#f0bd62" stroke-width="0.9" stroke-opacity="0.8"/>
<line x1="492.67" y1="347.82" x2="492.67" y2="365.90" stroke="#f0bd62" stroke-width="0.9" stroke-opacity="0.8"/>
<line x1="497.14" y1="341.49" x2="497.14" y2="363.64" stroke="#f0bd62" stroke-width="0.9" stroke-opacity="0.8"/>
<line x1="501.61" y1="328.61" x2="501.61" y2="356.86" stroke="#f0bd62" stroke-width="0.9" stroke-opacity="0.8"/>
<line x1="506.08" y1="319.57" x2="506.08" y2="353.47" stroke="#f0bd62" stroke-width="0.9" stroke-opacity="0.8"/>
<line x1="510.55" y1="326.35" x2="510.55" y2="355.73" stroke="#f0bd62" stroke-width="0.9" stroke-opacity="0.8"/>
<line x1="515.02" y1="328.61" x2="515.02" y2="356.86" stroke="#f0bd62" stroke-width="0.9" stroke-opacity="0.8"/>
<line x1="519.49" y1="329.74" x2="519.49" y2="357.99" stroke="#f0bd62" stroke-width="0.9" stroke-opacity="0.8"/>
<line x1="523.96" y1="304.88" x2="523.96" y2="346.69" stroke="#f0bd62" stroke-width="0.9" stroke-opacity="0.8"/>
<line x1="528.43" y1="317.31" x2="528.43" y2="352.34" stroke="#f0bd62" stroke-width="0.9" stroke-opacity="0.8"/>
<line x1="532.90" y1="310.53" x2="532.90" y2="348.95" stroke="#f0bd62" stroke-width="0.9" stroke-opacity="0.8"/>
<line x1="537.37" y1="315.05" x2="537.37" y2="351.21" stroke="#f0bd62" stroke-width="0.9" stroke-opacity="0.8"/>
<line x1="541.84" y1="317.31" x2="541.84" y2="352.34" stroke="#f0bd62" stroke-width="0.9" stroke-opacity="0.8"/>
<line x1="546.31" y1="318.44" x2="546.31" y2="353.47" stroke="#f0bd62" stroke-width="0.9" stroke-opacity="0.8"/>
<line x1="550.78" y1="316.18" x2="550.78" y2="351.89" stroke="#f0bd62" stroke-width="0.9" stroke-opacity="0.8"/>
<line x1="555.25" y1="319.34" x2="555.25" y2="354.15" stroke="#f0bd62" stroke-width="0.9" stroke-opacity="0.8"/>
<line x1="559.72" y1="308.27" x2="559.72" y2="350.08" stroke="#f0bd62" stroke-width="0.9" stroke-opacity="0.8"/>
<line x1="564.19" y1="302.62" x2="564.19" y2="346.69" stroke="#f0bd62" stroke-width="0.9" stroke-opacity="0.8"/>
<line x1="568.66" y1="299.91" x2="568.66" y2="346.24" stroke="#f0bd62" stroke-width="0.9" stroke-opacity="0.8"/>
<line x1="573.13" y1="302.62" x2="573.13" y2="346.92" stroke="#f0bd62" stroke-width="0.9" stroke-opacity="0.8"/>
<line x1="577.60" y1="306.01" x2="577.60" y2="347.82" stroke="#f0bd62" stroke-width="0.9" stroke-opacity="0.8"/>
<line x1="582.07" y1="305.56" x2="582.07" y2="347.82" stroke="#f0bd62" stroke-width="0.9" stroke-opacity="0.8"/>
<line x1="586.54" y1="324.54" x2="586.54" y2="355.05" stroke="#f0bd62" stroke-width="0.9" stroke-opacity="0.8"/>
<line x1="591.01" y1="328.61" x2="591.01" y2="356.86" stroke="#f0bd62" stroke-width="0.9" stroke-opacity="0.8"/>
<line x1="595.48" y1="328.61" x2="595.48" y2="356.86" stroke="#f0bd62" stroke-width="0.9" stroke-opacity="0.8"/>
<line x1="599.95" y1="328.61" x2="599.95" y2="356.86" stroke="#f0bd62" stroke-width="0.9" stroke-opacity="0.8"/>
<line x1="604.42" y1="330.87" x2="604.42" y2="357.54" stroke="#f0bd62" stroke-width="0.9" stroke-opacity="0.8"/>
<line x1="608.89" y1="329.74" x2="608.89" y2="357.31" stroke="#f0bd62" stroke-width="0.9" stroke-opacity="0.8"/>
<line x1="613.36" y1="327.48" x2="613.36" y2="355.73" stroke="#f0bd62" stroke-width="0.9" stroke-opacity="0.8"/>
<line x1="617.83" y1="325.22" x2="617.83" y2="354.60" stroke="#f0bd62" stroke-width="0.9" stroke-opacity="0.8"/>
<line x1="622.30" y1="333.13" x2="622.30" y2="357.99" stroke="#f0bd62" stroke-width="0.9" stroke-opacity="0.8"/>
<line x1="626.77" y1="334.94" x2="626.77" y2="358.67" stroke="#f0bd62" stroke-width="0.9" stroke-opacity="0.8"/>
<line x1="631.24" y1="331.32" x2="631.24" y2="357.54" stroke="#f0bd62" stroke-width="0.9" stroke-opacity="0.8"/>
<line x1="635.71" y1="333.13" x2="635.71" y2="357.99" stroke="#f0bd62" stroke-width="0.9" stroke-opacity="0.8"/>
<line x1="640.18" y1="332.45" x2="640.18" y2="357.76" stroke="#f0bd62" stroke-width="0.9" stroke-opacity="0.8"/>
<line x1="644.65" y1="332.45" x2="644.65" y2="357.54" stroke="#f0bd62" stroke-width="0.9" stroke-opacity="0.8"/>
<line x1="649.12" y1="331.32" x2="649.12" y2="357.31" stroke="#f0bd62" stroke-width="0.9" stroke-opacity="0.8"/>
<line x1="653.59" y1="329.29" x2="653.59" y2="356.41" stroke="#f0bd62" stroke-width="0.9" stroke-opacity="0.8"/>
<line x1="658.06" y1="327.48" x2="658.06" y2="355.73" stroke="#f0bd62" stroke-width="0.9" stroke-opacity="0.8"/>
<line x1="662.53" y1="328.38" x2="662.53" y2="356.18" stroke="#f0bd62" stroke-width="0.9" stroke-opacity="0.8"/>
<line x1="667.00" y1="327.48" x2="667.00" y2="355.50" stroke="#f0bd62" stroke-width="0.9" stroke-opacity="0.8"/>
<line x1="477.30" y1="354.60" x2="678.50" y2="354.60" stroke="#f04040" stroke-width="0.8"/>
<rect x="487.10" y="354.63" width="2.20" height="2.20" fill="#e9a83c"/>
<rect x="491.57" y="358.02" width="2.20" height="2.20" fill="#e9a83c"/>
<rect x="496.04" y="353.50" width="2.20" height="2.20" fill="#e9a83c"/>
<rect x="500.51" y="344.91" width="2.20" height="2.20" fill="#e9a83c"/>
<rect x="504.98" y="338.81" width="2.20" height="2.20" fill="#e9a83c"/>
<rect x="509.45" y="342.88" width="2.20" height="2.20" fill="#e9a83c"/>
<rect x="513.92" y="344.91" width="2.20" height="2.20" fill="#e9a83c"/>
<rect x="518.39" y="345.59" width="2.20" height="2.20" fill="#e9a83c"/>
<rect x="522.86" y="328.64" width="2.20" height="2.20" fill="#e9a83c"/>
<rect x="527.33" y="337.23" width="2.20" height="2.20" fill="#e9a83c"/>
<rect x="531.80" y="332.71" width="2.20" height="2.20" fill="#e9a83c"/>
<rect x="536.27" y="335.87" width="2.20" height="2.20" fill="#e9a83c"/>
<rect x="540.74" y="337.23" width="2.20" height="2.20" fill="#e9a83c"/>
<rect x="545.21" y="338.13" width="2.20" height="2.20" fill="#e9a83c"/>
<rect x="549.68" y="336.55" width="2.20" height="2.20" fill="#e9a83c"/>
<rect x="554.15" y="338.58" width="2.20" height="2.20" fill="#e9a83c"/>
<rect x="558.62" y="331.13" width="2.20" height="2.20" fill="#e9a83c"/>
<rect x="563.09" y="327.51" width="2.20" height="2.20" fill="#e9a83c"/>
<rect x="567.56" y="326.38" width="2.20" height="2.20" fill="#e9a83c"/>
<rect x="572.03" y="327.74" width="2.20" height="2.20" fill="#e9a83c"/>
<rect x="576.50" y="330.22" width="2.20" height="2.20" fill="#e9a83c"/>
<rect x="580.97" y="329.77" width="2.20" height="2.20" fill="#e9a83c"/>
<rect x="585.44" y="342.20" width="2.20" height="2.20" fill="#e9a83c"/>
<rect x="589.91" y="344.91" width="2.20" height="2.20" fill="#e9a83c"/>
<rect x="594.38" y="344.91" width="2.20" height="2.20" fill="#e9a83c"/>
<rect x="598.85" y="344.91" width="2.20" height="2.20" fill="#e9a83c"/>
<rect x="603.32" y="346.72" width="2.20" height="2.20" fill="#e9a83c"/>
<rect x="607.79" y="345.59" width="2.20" height="2.20" fill="#e9a83c"/>
<rect x="612.26" y="343.78" width="2.20" height="2.20" fill="#e9a83c"/>
<rect x="616.73" y="342.43" width="2.20" height="2.20" fill="#e9a83c"/>
<rect x="621.20" y="347.85" width="2.20" height="2.20" fill="#e9a83c"/>
<rect x="625.67" y="348.98" width="2.20" height="2.20" fill="#e9a83c"/>
<rect x="630.14" y="346.72" width="2.20" height="2.20" fill="#e9a83c"/>
<rect x="634.61" y="347.85" width="2.20" height="2.20" fill="#e9a83c"/>
<rect x="639.08" y="347.40" width="2.20" height="2.20" fill="#e9a83c"/>
<rect x="643.55" y="347.40" width="2.20" height="2.20" fill="#e9a83c"/>
<rect x="648.02" y="346.49" width="2.20" height="2.20" fill="#e9a83c"/>
<rect x="652.49" y="345.36" width="2.20" height="2.20" fill="#e9a83c"/>
<rect x="656.96" y="344.01" width="2.20" height="2.20" fill="#e9a83c"/>
<rect x="661.43" y="344.69" width="2.20" height="2.20" fill="#e9a83c"/>
<rect x="665.90" y="344.01" width="2.20" height="2.20" fill="#e9a83c"/>
<rect x="477.3" y="297.4" width="201.2" height="72.10000000000002" fill="none" stroke="#555" stroke-width="0.9"/>
<text x="474.30" y="357.00" font-size="7" text-anchor="end" fill="#222">1</text>
<line x1="475.80" y1="354.60" x2="477.30" y2="354.60" stroke="#555" stroke-width="0.5"/>
<text x="474.30" y="334.40" font-size="7" text-anchor="end" fill="#222">2</text>
<line x1="475.80" y1="332.00" x2="477.30" y2="332.00" stroke="#555" stroke-width="0.5"/>
<text x="474.30" y="311.80" font-size="7" text-anchor="end" fill="#222">3</text>
<line x1="475.80" y1="309.40" x2="477.30" y2="309.40" stroke="#555" stroke-width="0.5"/>
<text x="0" y="0" font-size="8.8" text-anchor="middle" transform="translate(467.80,331.00) rotate(-90)" fill="#222" textLength="46.00" lengthAdjust="spacingAndGlyphs">Hazard ratio</text>
<rect x="477.30" y="374.40" width="201.20" height="72.70" fill="#fff"/>
<line x1="488.20" y1="374.40" x2="488.20" y2="447.10" stroke="#ececec" stroke-width="0.5"/>
<line x1="532.90" y1="374.40" x2="532.90" y2="447.10" stroke="#ececec" stroke-width="0.5"/>
<line x1="577.60" y1="374.40" x2="577.60" y2="447.10" stroke="#ececec" stroke-width="0.5"/>
<line x1="622.30" y1="374.40" x2="622.30" y2="447.10" stroke="#ececec" stroke-width="0.5"/>
<line x1="667.00" y1="374.40" x2="667.00" y2="447.10" stroke="#ececec" stroke-width="0.5"/>
<line x1="477.30" y1="443.80" x2="678.50" y2="443.80" stroke="#ececec" stroke-width="0.5"/>
<line x1="477.30" y1="425.00" x2="678.50" y2="425.00" stroke="#ececec" stroke-width="0.5"/>
<line x1="477.30" y1="406.20" x2="678.50" y2="406.20" stroke="#ececec" stroke-width="0.5"/>
<line x1="477.30" y1="387.40" x2="678.50" y2="387.40" stroke="#ececec" stroke-width="0.5"/>
<rect x="486.35" y="441.92" width="3.70" height="1.88" fill="#e9b24c"/>
<rect x="490.82" y="434.96" width="3.70" height="8.84" fill="#e9b24c"/>
<rect x="495.29" y="443.42" width="3.70" height="0.38" fill="#e9b24c"/>
<rect x="499.76" y="428.20" width="3.70" height="15.60" fill="#e9b24c"/>
<rect x="504.23" y="413.34" width="3.70" height="30.46" fill="#e9b24c"/>
<rect x="508.70" y="423.50" width="3.70" height="20.30" fill="#e9b24c"/>
<rect x="513.17" y="427.44" width="3.70" height="16.36" fill="#e9b24c"/>
<rect x="517.64" y="430.45" width="3.70" height="13.35" fill="#e9b24c"/>
<rect x="522.11" y="385.52" width="3.70" height="58.28" fill="#e9b24c"/>
<rect x="526.58" y="409.21" width="3.70" height="34.59" fill="#e9b24c"/>
<rect x="531.05" y="396.80" width="3.70" height="47.00" fill="#e9b24c"/>
<rect x="535.52" y="405.07" width="3.70" height="38.73" fill="#e9b24c"/>
<rect x="539.99" y="408.83" width="3.70" height="34.97" fill="#e9b24c"/>
<rect x="544.46" y="411.46" width="3.70" height="32.34" fill="#e9b24c"/>
<rect x="548.93" y="406.39" width="3.70" height="37.41" fill="#e9b24c"/>
<rect x="553.40" y="412.03" width="3.70" height="31.77" fill="#e9b24c"/>
<rect x="557.87" y="391.54" width="3.70" height="52.26" fill="#e9b24c"/>
<rect x="562.34" y="381.20" width="3.70" height="62.60" fill="#e9b24c"/>
<rect x="566.81" y="378.00" width="3.70" height="65.80" fill="#e9b24c"/>
<rect x="571.28" y="382.14" width="3.70" height="61.66" fill="#e9b24c"/>
<rect x="575.75" y="388.15" width="3.70" height="55.65" fill="#e9b24c"/>
<rect x="580.22" y="387.40" width="3.70" height="56.40" fill="#e9b24c"/>
<rect x="584.69" y="421.05" width="3.70" height="22.75" fill="#e9b24c"/>
<rect x="589.16" y="427.26" width="3.70" height="16.54" fill="#e9b24c"/>
<rect x="593.63" y="427.82" width="3.70" height="15.98" fill="#e9b24c"/>
<rect x="598.10" y="427.82" width="3.70" height="15.98" fill="#e9b24c"/>
<rect x="602.57" y="431.39" width="3.70" height="12.41" fill="#e9b24c"/>
<rect x="607.04" y="429.14" width="3.70" height="14.66" fill="#e9b24c"/>
<rect x="611.51" y="426.32" width="3.70" height="17.48" fill="#e9b24c"/>
<rect x="615.98" y="421.99" width="3.70" height="21.81" fill="#e9b24c"/>
<rect x="620.45" y="434.40" width="3.70" height="9.40" fill="#e9b24c"/>
<rect x="624.92" y="436.28" width="3.70" height="7.52" fill="#e9b24c"/>
<rect x="629.39" y="431.39" width="3.70" height="12.41" fill="#e9b24c"/>
<rect x="633.86" y="434.40" width="3.70" height="9.40" fill="#e9b24c"/>
<rect x="638.33" y="433.08" width="3.70" height="10.72" fill="#e9b24c"/>
<rect x="642.80" y="433.08" width="3.70" height="10.72" fill="#e9b24c"/>
<rect x="647.27" y="431.39" width="3.70" height="12.41" fill="#e9b24c"/>
<rect x="651.74" y="428.76" width="3.70" height="15.04" fill="#e9b24c"/>
<rect x="656.21" y="425.56" width="3.70" height="18.24" fill="#e9b24c"/>
<rect x="660.68" y="427.26" width="3.70" height="16.54" fill="#e9b24c"/>
<rect x="665.15" y="425.94" width="3.70" height="17.86" fill="#e9b24c"/>
<line x1="477.30" y1="419.36" x2="678.50" y2="419.36" stroke="#f04040" stroke-width="0.8"/>
<rect x="477.3" y="374.4" width="201.2" height="72.70000000000005" fill="none" stroke="#555" stroke-width="0.9"/>
<text x="474.30" y="446.20" font-size="7" text-anchor="end" fill="#222">0</text>
<line x1="475.80" y1="443.80" x2="477.30" y2="443.80" stroke="#555" stroke-width="0.5"/>
<text x="474.30" y="427.40" font-size="7" text-anchor="end" fill="#222">1</text>
<line x1="475.80" y1="425.00" x2="477.30" y2="425.00" stroke="#555" stroke-width="0.5"/>
<text x="474.30" y="408.60" font-size="7" text-anchor="end" fill="#222">2</text>
<line x1="475.80" y1="406.20" x2="477.30" y2="406.20" stroke="#555" stroke-width="0.5"/>
<text x="474.30" y="389.80" font-size="7" text-anchor="end" fill="#222">3</text>
<line x1="475.80" y1="387.40" x2="477.30" y2="387.40" stroke="#555" stroke-width="0.5"/>
<line x1="488.20" y1="447.10" x2="488.20" y2="448.60" stroke="#555" stroke-width="0.5"/>
<text x="488.20" y="454.60" font-size="7" text-anchor="middle" fill="#222">10</text>
<line x1="532.90" y1="447.10" x2="532.90" y2="448.60" stroke="#555" stroke-width="0.5"/>
<text x="532.90" y="454.60" font-size="7" text-anchor="middle" fill="#222">20</text>
<line x1="577.60" y1="447.10" x2="577.60" y2="448.60" stroke="#555" stroke-width="0.5"/>
<text x="577.60" y="454.60" font-size="7" text-anchor="middle" fill="#222">30</text>
<line x1="622.30" y1="447.10" x2="622.30" y2="448.60" stroke="#555" stroke-width="0.5"/>
<text x="622.30" y="454.60" font-size="7" text-anchor="middle" fill="#222">40</text>
<line x1="667.00" y1="447.10" x2="667.00" y2="448.60" stroke="#555" stroke-width="0.5"/>
<text x="667.00" y="454.60" font-size="7" text-anchor="middle" fill="#222">50</text>
<text x="0" y="0" font-size="8.8" text-anchor="middle" transform="translate(467.80,411.50) rotate(-90)" fill="#222" textLength="45.00" lengthAdjust="spacingAndGlyphs">-log P-value</text>
<text x="583.20" y="464.80" font-size="8.1" text-anchor="middle" fill="#222" textLength="157.70" lengthAdjust="spacingAndGlyphs">Numbers of Tumor-supportive signature genes</text>
<text x="2.00" y="497.30" font-size="16.5" font-weight="bold">e</text>
<text x="0" y="0" font-size="9" text-anchor="middle" transform="translate(9.20,596.00) rotate(-90)" fill="#222" textLength="108.00" lengthAdjust="spacingAndGlyphs">Tumor-supportive signature</text>
<rect x="32.40" y="505.40" width="85.00" height="85.30" fill="#fff"/>
<text x="30.20" y="516.50" font-size="5.9" text-anchor="end" fill="#222">−3000</text>
<line x1="31.10" y1="514.50" x2="32.40" y2="514.50" stroke="#555" stroke-width="0.5"/>
<text x="30.20" y="533.80" font-size="5.9" text-anchor="end" fill="#222">−4000</text>
<line x1="31.10" y1="531.80" x2="32.40" y2="531.80" stroke="#555" stroke-width="0.5"/>
<text x="30.20" y="551.10" font-size="5.9" text-anchor="end" fill="#222">−5000</text>
<line x1="31.10" y1="549.10" x2="32.40" y2="549.10" stroke="#555" stroke-width="0.5"/>
<text x="30.20" y="568.40" font-size="5.9" text-anchor="end" fill="#222">−6000</text>
<line x1="31.10" y1="566.40" x2="32.40" y2="566.40" stroke="#555" stroke-width="0.5"/>
<text x="30.20" y="585.70" font-size="5.9" text-anchor="end" fill="#222">−7000</text>
<line x1="31.10" y1="583.70" x2="32.40" y2="583.70" stroke="#555" stroke-width="0.5"/>
<line x1="55.20" y1="569.70" x2="55.20" y2="561.00" stroke="#eaa83a" stroke-width="0.6"/>
<line x1="55.20" y1="579.70" x2="55.20" y2="583.70" stroke="#eaa83a" stroke-width="0.6"/>
<path d="M59.1 575.4h0M54.9 573.6h0M54.2 575.0h0M52.9 553.0h0M55.7 573.2h0M51.9 579.2h0M56.5 579.2h0M57.2 575.4h0M59.9 570.8h0M62.5 576.5h0M50.6 554.9h0M55.0 574.3h0M58.2 576.2h0M54.0 568.7h0M49.9 568.9h0M51.0 573.2h0M49.9 577.4h0M55.7 564.4h0M60.8 573.1h0M53.3 556.8h0M47.2 568.9h0M57.9 581.8h0M52.7 573.2h0M50.8 573.0h0M53.5 573.2h0M51.7 559.1h0M58.0 564.0h0M50.1 574.7h0M57.0 576.6h0M61.5 569.9h0M63.9 568.8h0M59.0 576.9h0M58.5 573.1h0M46.4 568.8h0M53.1 576.4h0M57.9 564.9h0M50.1 580.3h0M61.8 578.8h0M59.4 577.9h0M59.2 573.2h0M47.4 562.2h0M51.2 572.6h0M59.6 581.5h0M62.8 575.3h0M57.4 569.8h0M60.1 567.1h0M57.1 574.4h0M62.8 581.8h0M46.8 577.9h0M50.6 554.2h0M47.3 581.6h0M58.5 574.3h0M55.1 579.9h0M63.0 570.2h0M52.2 583.6h0M54.2 570.5h0M59.9 562.0h0M59.4 577.9h0M56.9 570.3h0M60.4 576.6h0M59.7 572.0h0M49.6 570.7h0M61.6 569.7h0M57.1 577.5h0M49.3 568.9h0M55.6 574.2h0M55.0 569.2h0M51.5 565.7h0M46.9 579.8h0M62.8 575.7h0M47.7 580.4h0M58.7 574.4h0M52.5 562.8h0M48.0 569.7h0M60.5 569.4h0M56.7 578.3h0M46.3 569.2h0M51.8 563.0h0M58.7 581.8h0M61.7 574.3h0M48.9 571.3h0M57.9 580.2h0M55.2 570.9h0M46.7 578.7h0M48.8 574.2h0M48.3 572.6h0M47.6 568.9h0M59.4 571.6h0M58.7 583.7h0M51.2 569.0h0M48.8 565.8h0M59.3 571.2h0M48.3 583.2h0M62.2 569.3h0M48.0 561.9h0M60.1 549.0h0M53.4 550.4h0M59.0 553.4h0M61.3 556.2h0" stroke="#eaa83a" stroke-width="2.20" stroke-linecap="round" fill="none"/>
<rect x="40.5" y="569.7" width="29.4" height="10.0" fill="none" stroke="#eaa83a" stroke-width="0.8" stroke-opacity="0.85"/>
<line x1="40.50" y1="574.40" x2="69.90" y2="574.40" stroke="#eaa83a" stroke-width="0.9"/>
<line x1="94.60" y1="570.20" x2="94.60" y2="555.75" stroke="#9ccb6a" stroke-width="0.6"/>
<line x1="94.60" y1="578.50" x2="94.60" y2="582.50" stroke="#9ccb6a" stroke-width="0.6"/>
<path d="M86.4 573.0h0M93.7 576.6h0M96.6 553.5h0M96.4 576.7h0M95.5 579.2h0M90.9 569.9h0M101.4 582.0h0M100.8 578.7h0M95.6 561.4h0M97.2 571.2h0M98.3 561.2h0M86.9 570.2h0M88.7 571.3h0M96.0 573.0h0M99.3 570.0h0M92.2 578.6h0M87.1 581.4h0M97.0 582.2h0M102.2 550.5h0M103.2 574.4h0M99.8 566.4h0M99.7 576.9h0M92.0 580.0h0M98.0 578.5h0M101.1 569.5h0M99.4 575.9h0M91.8 546.7h0M94.8 573.2h0M101.4 578.6h0M95.8 574.0h0M95.4 578.7h0M91.5 571.5h0M92.3 575.7h0M88.1 575.7h0M101.8 572.4h0M89.0 567.3h0M98.7 547.4h0M102.2 563.9h0M87.2 560.7h0M99.3 572.7h0M93.3 565.3h0M91.5 578.6h0M88.6 560.2h0M92.3 570.2h0M97.6 581.4h0M99.6 570.2h0M91.6 572.3h0M88.5 571.8h0M88.6 574.9h0M99.3 557.9h0M102.8 579.6h0M101.6 573.8h0M86.9 567.2h0M86.5 568.2h0M98.5 574.4h0M98.8 583.3h0M94.6 573.8h0M91.6 553.1h0M88.6 581.8h0M89.9 573.0h0M89.3 578.0h0M86.7 570.2h0M87.6 569.7h0M87.4 574.7h0M90.7 579.1h0M88.8 572.8h0M93.8 570.3h0M93.1 567.6h0M99.7 579.5h0M86.3 570.2h0M88.0 575.1h0M94.4 576.5h0M88.9 579.5h0M97.1 573.1h0M95.4 573.7h0M100.2 578.4h0M96.5 574.1h0M87.6 575.4h0M100.6 577.9h0M97.1 572.1h0M87.3 565.9h0M103.0 576.8h0M98.1 568.2h0M91.1 567.7h0M102.0 580.0h0M89.4 579.6h0M85.8 577.1h0M98.9 575.1h0M101.3 574.6h0M95.3 569.4h0M97.7 579.3h0M96.3 566.8h0M96.9 576.8h0M97.7 571.4h0M100.5 575.1h0M89.3 578.3h0M101.9 569.6h0M94.2 572.9h0M103.2 575.7h0M94.9 571.4h0M93.6 572.9h0M95.1 577.2h0M103.2 566.7h0M86.7 574.0h0M93.5 573.5h0M92.0 571.0h0M88.3 573.5h0M96.0 569.7h0M88.4 579.3h0M86.5 564.7h0M89.5 578.5h0M88.6 578.5h0M94.6 576.0h0M92.2 570.2h0M103.0 561.2h0M97.0 547.4h0M100.7 571.4h0M94.7 577.0h0M91.4 574.5h0M99.3 578.9h0M102.8 581.9h0M96.9 570.2h0M96.4 577.8h0M89.5 556.5h0M97.9 579.0h0M89.4 578.5h0M86.3 579.1h0M92.7 573.2h0M96.3 572.4h0M86.9 579.1h0M99.1 575.1h0M92.8 570.9h0M98.0 570.8h0M98.8 582.2h0M91.0 571.4h0M87.7 577.1h0M90.2 569.3h0M98.3 575.6h0M103.2 545.8h0M91.0 558.6h0M94.5 574.5h0M91.0 552.6h0M86.9 564.6h0M93.0 550.9h0M85.8 573.8h0M97.0 583.5h0M89.8 577.2h0M91.9 579.6h0M90.5 578.2h0M96.6 570.2h0M99.2 570.2h0M88.1 574.7h0M94.1 571.9h0M94.7 569.9h0M96.3 570.4h0M86.9 563.8h0M98.2 573.8h0M102.6 580.4h0M94.6 576.9h0M94.0 571.1h0M96.9 575.2h0M103.5 577.0h0M95.5 578.4h0M103.3 581.4h0M102.9 575.1h0M98.9 559.7h0M99.2 554.3h0M93.3 571.2h0M102.2 557.8h0M97.6 578.1h0M90.1 582.2h0M100.2 556.3h0M97.2 570.4h0M103.2 579.6h0M92.2 573.1h0M100.0 573.7h0M102.9 569.9h0M92.0 563.1h0M98.4 552.3h0M99.5 577.6h0M96.3 574.0h0M103.5 577.5h0M93.7 571.0h0M95.7 555.6h0M101.3 578.4h0M91.0 551.6h0M99.5 574.3h0M91.8 577.4h0M98.5 571.6h0M98.1 572.9h0M99.7 575.3h0M93.5 574.9h0M96.7 566.0h0M99.6 570.4h0M92.0 576.3h0M93.9 551.8h0M102.4 557.1h0M86.8 580.8h0M92.6 578.1h0M89.0 569.4h0M88.1 546.7h0M90.7 566.2h0M98.3 573.0h0M93.3 571.9h0M89.2 576.6h0M93.6 575.1h0M90.6 566.2h0M87.3 557.5h0M101.2 576.0h0M90.7 576.2h0M101.8 580.0h0M95.9 569.3h0M86.2 573.1h0M90.9 554.9h0M97.9 569.1h0M95.4 570.1h0M96.6 577.0h0M87.8 568.6h0M98.1 578.3h0M92.9 581.9h0M103.1 569.4h0M88.8 576.5h0M93.1 573.0h0M94.1 572.6h0M93.9 574.1h0M94.4 577.8h0M101.2 576.8h0M85.9 579.4h0M90.5 572.0h0M89.8 576.2h0M91.3 577.8h0M97.1 574.5h0M102.8 569.9h0M89.5 574.0h0M102.3 572.2h0M94.8 572.6h0M91.8 571.2h0M99.2 583.5h0M86.5 545.7h0M97.9 581.4h0M102.1 567.6h0M85.7 576.2h0M97.7 553.5h0M102.6 570.1h0M85.7 572.4h0M92.5 569.8h0M99.5 570.9h0M92.4 581.7h0M97.8 571.8h0M95.5 574.4h0M93.5 578.3h0M89.2 577.9h0M87.1 549.8h0M96.0 578.2h0M96.0 581.7h0M93.1 573.0h0M93.0 576.5h0M93.4 549.2h0M99.1 571.0h0M98.6 573.8h0M101.6 579.3h0M97.5 549.2h0M94.5 577.1h0M98.5 549.8h0M87.3 572.7h0M96.3 551.7h0M86.7 551.6h0M93.7 570.0h0M89.6 573.5h0M92.8 570.6h0M101.3 516.6h0M94.1 539.6h0M90.2 546.0h0M96.9 546.0h0" stroke="#9ccb6a" stroke-width="2.20" stroke-linecap="round" fill="none"/>
<rect x="79.9" y="570.2" width="29.4" height="8.3" fill="none" stroke="#9ccb6a" stroke-width="0.8" stroke-opacity="0.85"/>
<line x1="79.90" y1="575.50" x2="109.30" y2="575.50" stroke="#9ccb6a" stroke-width="0.9"/>
<rect x="32.4" y="505.4" width="85.0" height="85.3" fill="none" stroke="#666" stroke-width="0.8"/>
<line x1="55.20" y1="514.50" x2="94.60" y2="514.50" stroke="#444" stroke-width="0.6"/>
<text x="74.90" y="512.60" font-size="7.6" text-anchor="middle" fill="#222">0.97</text>
<text x="55.20" y="597.50" font-size="8.4" text-anchor="middle" fill="#222">II</text>
<text x="94.60" y="597.50" font-size="8.4" text-anchor="middle" fill="#222">III</text>
<rect x="141.60" y="505.40" width="85.50" height="85.30" fill="#fff"/>
<text x="139.40" y="516.50" font-size="5.9" text-anchor="end" fill="#222">−3000</text>
<line x1="140.30" y1="514.50" x2="141.60" y2="514.50" stroke="#555" stroke-width="0.5"/>
<text x="139.40" y="533.80" font-size="5.9" text-anchor="end" fill="#222">−4000</text>
<line x1="140.30" y1="531.80" x2="141.60" y2="531.80" stroke="#555" stroke-width="0.5"/>
<text x="139.40" y="551.10" font-size="5.9" text-anchor="end" fill="#222">−5000</text>
<line x1="140.30" y1="549.10" x2="141.60" y2="549.10" stroke="#555" stroke-width="0.5"/>
<text x="139.40" y="568.40" font-size="5.9" text-anchor="end" fill="#222">−6000</text>
<line x1="140.30" y1="566.40" x2="141.60" y2="566.40" stroke="#555" stroke-width="0.5"/>
<text x="139.40" y="585.70" font-size="5.9" text-anchor="end" fill="#222">−7000</text>
<line x1="140.30" y1="583.70" x2="141.60" y2="583.70" stroke="#555" stroke-width="0.5"/>
<line x1="165.00" y1="569.40" x2="165.00" y2="566.00" stroke="#eaa83a" stroke-width="0.6"/>
<line x1="165.00" y1="578.50" x2="165.00" y2="582.50" stroke="#eaa83a" stroke-width="0.6"/>
<path d="M171.5 576.3h0M171.9 576.3h0M156.5 569.1h0M156.4 572.3h0M162.0 568.1h0M158.7 567.1h0M168.1 579.3h0M171.5 572.6h0M160.4 572.3h0M159.1 578.9h0M162.0 582.9h0M169.9 579.3h0M166.0 574.2h0M169.7 582.8h0M172.8 580.3h0M158.2 566.7h0M172.3 559.4h0M163.9 575.4h0M156.9 568.9h0M172.7 576.5h0M158.6 580.3h0M169.3 568.6h0M173.6 570.9h0M159.0 574.9h0M167.6 559.0h0M169.2 573.2h0M173.9 577.9h0M169.9 574.4h0M171.7 575.8h0M172.1 557.9h0M171.0 577.9h0M159.3 576.4h0M163.2 579.4h0M166.7 561.2h0M156.4 579.5h0M156.9 577.5h0M173.7 578.9h0M162.3 567.9h0M173.7 573.8h0M167.4 572.2h0M173.1 569.0h0M160.3 560.9h0M162.2 582.7h0M166.8 570.1h0M159.5 569.4h0M171.4 546.0h0M170.4 554.3h0" stroke="#eaa83a" stroke-width="2.20" stroke-linecap="round" fill="none"/>
<rect x="150.3" y="569.4" width="29.4" height="9.1" fill="none" stroke="#eaa83a" stroke-width="0.8" stroke-opacity="0.85"/>
<line x1="150.30" y1="574.00" x2="179.70" y2="574.00" stroke="#eaa83a" stroke-width="0.9"/>
<line x1="204.00" y1="570.00" x2="204.00" y2="556.00" stroke="#9ccb6a" stroke-width="0.6"/>
<line x1="204.00" y1="578.80" x2="204.00" y2="582.80" stroke="#9ccb6a" stroke-width="0.6"/>
<path d="M206.4 571.4h0M195.6 569.4h0M209.8 576.3h0M212.8 578.4h0M202.6 571.8h0M196.2 577.7h0M211.1 581.6h0M212.8 573.8h0M210.2 571.5h0M204.6 573.4h0M208.1 576.3h0M209.4 574.0h0M196.5 578.4h0M211.7 560.4h0M199.7 568.7h0M202.9 567.5h0M206.5 579.3h0M195.4 570.4h0M200.4 579.5h0M205.4 570.6h0M207.5 574.0h0M203.5 578.7h0M208.6 550.7h0M209.7 578.7h0M211.1 569.3h0M199.8 570.3h0M195.3 578.1h0M212.2 571.7h0M206.4 575.5h0M207.4 579.6h0M208.1 577.3h0M212.5 572.8h0M200.1 574.5h0M198.3 551.5h0M203.6 579.1h0M206.6 578.0h0M210.0 573.6h0M210.4 579.4h0M198.2 576.1h0M211.4 572.8h0M203.2 576.8h0M196.3 576.5h0M199.2 565.3h0M201.7 567.4h0M201.2 571.5h0M204.5 564.5h0M201.0 579.6h0M202.3 573.9h0M211.4 569.5h0M211.3 571.2h0M199.7 579.1h0M206.0 557.9h0M210.0 576.9h0M204.6 566.5h0M201.2 582.9h0M200.8 547.4h0M200.3 569.1h0M196.9 568.7h0M200.8 573.1h0M202.6 576.0h0M208.7 579.6h0M198.4 575.6h0M195.7 570.0h0M212.0 579.0h0M206.2 573.6h0M205.7 575.0h0M212.4 570.9h0M199.3 571.5h0M197.5 579.4h0M206.1 575.0h0M204.7 574.2h0M204.4 576.6h0M211.9 569.6h0M203.8 568.2h0M196.0 582.1h0M208.3 564.6h0M208.7 557.8h0M205.5 567.7h0M201.1 566.5h0M201.1 579.5h0M212.7 572.5h0M206.7 577.5h0M202.1 573.8h0M205.3 582.6h0M206.4 577.0h0M203.5 571.3h0M201.7 555.8h0M204.0 569.5h0M196.0 576.2h0M200.1 571.7h0M196.7 575.2h0M195.2 571.5h0M210.1 571.3h0M200.2 573.7h0M198.4 582.6h0M212.7 583.5h0M212.5 583.7h0M212.3 582.2h0M203.7 580.7h0M198.4 575.9h0M201.7 577.6h0M207.7 577.1h0M204.8 568.9h0M207.7 569.7h0M204.0 569.7h0M210.7 576.5h0M210.9 574.1h0M206.0 580.5h0M210.3 566.7h0M211.9 577.0h0M203.0 577.5h0M198.8 578.8h0M207.4 569.9h0M212.7 551.5h0M199.3 576.9h0M203.9 577.0h0M196.3 551.7h0M201.8 581.2h0M196.8 569.9h0M200.8 571.4h0M210.3 571.7h0M205.2 581.3h0M211.0 576.7h0M206.4 577.1h0M198.6 569.1h0M205.5 579.0h0M208.4 561.7h0M198.3 577.0h0M195.3 570.1h0M206.3 551.4h0M203.9 573.3h0M203.2 572.0h0M195.5 547.1h0M200.6 575.3h0M212.1 576.1h0M200.8 567.1h0M195.2 562.9h0M201.8 578.0h0M203.3 566.0h0M206.0 582.6h0M208.0 579.3h0M211.7 571.8h0M204.2 580.4h0M205.1 578.4h0M212.8 574.2h0M203.0 572.8h0M199.7 566.6h0M205.0 569.0h0M210.7 561.0h0M205.5 574.7h0M203.2 573.2h0M207.8 570.0h0M195.3 571.7h0M196.9 574.2h0M196.7 570.3h0M203.1 554.8h0M211.0 570.1h0M212.1 576.2h0M210.1 563.1h0M210.9 551.3h0M208.5 577.8h0M210.4 573.4h0M196.8 573.7h0M200.1 557.0h0M212.8 547.0h0M203.4 573.5h0M203.2 579.3h0M211.5 568.4h0M201.0 570.0h0M208.4 577.2h0M209.3 574.8h0M206.0 579.3h0M204.2 583.6h0M206.3 566.2h0M195.3 579.1h0M207.6 576.9h0M212.8 579.4h0M208.4 568.7h0M204.6 569.1h0M205.9 569.9h0M206.1 572.9h0M199.1 555.3h0M205.6 576.1h0M208.8 569.7h0M211.0 581.4h0M200.0 561.6h0M197.0 569.7h0M202.7 578.1h0M212.4 580.0h0M205.7 571.9h0M209.1 546.1h0M207.4 572.8h0M206.7 575.4h0M205.8 579.4h0M203.5 569.7h0M205.5 576.8h0M205.9 571.6h0M195.4 549.1h0M211.5 575.2h0M198.3 571.3h0M209.5 550.4h0M198.2 581.1h0M209.4 571.6h0M204.2 570.4h0M201.2 574.0h0M198.6 577.3h0M204.2 580.7h0M196.6 569.3h0M205.6 572.7h0M197.0 573.4h0M209.1 553.9h0M209.6 577.3h0M196.6 568.9h0M195.2 573.1h0M209.1 565.2h0M209.6 572.6h0M205.4 569.4h0M211.8 560.5h0M204.2 564.1h0M212.3 576.3h0M206.7 569.6h0M199.3 573.6h0M195.0 578.9h0M211.7 578.0h0M209.5 570.0h0M198.5 574.4h0M202.5 579.6h0M211.7 573.6h0M207.3 565.1h0M200.3 562.2h0M209.1 575.6h0M211.9 574.2h0M204.7 581.4h0M195.9 562.1h0M197.1 575.8h0M207.3 582.5h0M196.6 565.8h0M203.9 561.2h0M205.9 556.7h0M197.3 569.6h0M202.5 571.2h0M197.5 553.1h0M210.9 566.7h0M195.9 573.5h0M206.9 577.6h0M209.5 573.0h0M201.6 568.5h0M211.1 575.4h0M212.2 569.5h0M202.5 557.0h0M195.2 579.0h0M199.7 580.5h0M203.5 575.0h0M201.6 561.9h0M212.1 575.3h0M205.0 580.4h0M202.7 572.4h0M204.9 573.7h0M210.1 571.5h0M197.7 579.7h0M211.0 573.3h0M211.8 571.9h0M211.9 576.1h0M197.0 563.8h0M199.7 561.9h0M206.6 577.9h0M208.9 572.1h0M207.5 576.5h0M204.9 572.4h0M196.2 571.1h0M207.8 576.0h0M212.2 546.3h0M200.9 578.3h0M212.0 570.8h0M205.2 562.1h0M202.5 570.4h0M202.3 554.8h0M209.0 576.9h0M210.7 577.1h0M198.6 570.1h0M208.7 566.7h0M204.1 560.7h0M212.2 578.2h0M212.0 573.9h0M201.3 582.7h0M206.8 553.9h0M196.6 573.2h0M201.4 571.7h0M200.5 572.7h0M198.0 567.7h0M207.3 516.6h0M208.2 539.6h0" stroke="#9ccb6a" stroke-width="2.20" stroke-linecap="round" fill="none"/>
<rect x="189.3" y="570.0" width="29.4" height="8.8" fill="none" stroke="#9ccb6a" stroke-width="0.8" stroke-opacity="0.85"/>
<line x1="189.30" y1="576.00" x2="218.70" y2="576.00" stroke="#9ccb6a" stroke-width="0.9"/>
<rect x="141.6" y="505.4" width="85.5" height="85.3" fill="none" stroke="#666" stroke-width="0.8"/>
<line x1="165.00" y1="514.50" x2="204.00" y2="514.50" stroke="#444" stroke-width="0.6"/>
<text x="184.50" y="512.60" font-size="7.6" text-anchor="middle" fill="#222">0.42</text>
<text x="165.00" y="597.50" font-size="8.4" text-anchor="middle" fill="#222">MSI−H</text>
<text x="204.00" y="597.50" font-size="8.4" text-anchor="middle" fill="#222">MSI−L/MSS</text>
<rect x="32.40" y="603.10" width="85.00" height="85.90" fill="#fff"/>
<text x="30.20" y="615.30" font-size="5.9" text-anchor="end" fill="#222">−3000</text>
<line x1="31.10" y1="613.30" x2="32.40" y2="613.30" stroke="#555" stroke-width="0.5"/>
<text x="30.20" y="632.47" font-size="5.9" text-anchor="end" fill="#222">−4000</text>
<line x1="31.10" y1="630.47" x2="32.40" y2="630.47" stroke="#555" stroke-width="0.5"/>
<text x="30.20" y="649.65" font-size="5.9" text-anchor="end" fill="#222">−5000</text>
<line x1="31.10" y1="647.65" x2="32.40" y2="647.65" stroke="#555" stroke-width="0.5"/>
<text x="30.20" y="666.83" font-size="5.9" text-anchor="end" fill="#222">−6000</text>
<line x1="31.10" y1="664.83" x2="32.40" y2="664.83" stroke="#555" stroke-width="0.5"/>
<text x="30.20" y="684.00" font-size="5.9" text-anchor="end" fill="#222">−7000</text>
<line x1="31.10" y1="682.00" x2="32.40" y2="682.00" stroke="#555" stroke-width="0.5"/>
<line x1="55.20" y1="668.00" x2="55.20" y2="660.00" stroke="#eaa83a" stroke-width="0.6"/>
<line x1="55.20" y1="677.60" x2="55.20" y2="681.60" stroke="#eaa83a" stroke-width="0.6"/>
<path d="M47.5 677.8h0M60.5 671.2h0M53.3 662.8h0M56.7 674.9h0M48.9 676.3h0M53.4 663.7h0M60.3 656.6h0M55.1 675.3h0M48.1 654.7h0M53.4 681.4h0M49.6 664.1h0M59.4 655.3h0M52.6 676.1h0M59.4 671.0h0M53.8 675.6h0M63.5 678.1h0M48.8 673.4h0M57.0 671.6h0M47.1 679.2h0M59.1 667.2h0M56.1 679.2h0M51.7 658.2h0M52.9 666.7h0M55.0 674.1h0M63.0 661.8h0M57.5 669.6h0M47.7 680.4h0M57.9 673.7h0M61.9 667.3h0M50.9 657.8h0M51.7 666.6h0M52.5 667.7h0M53.1 666.1h0M59.0 675.3h0M49.7 672.4h0M52.4 676.1h0M58.7 671.9h0M48.8 669.5h0M47.6 659.7h0M61.2 682.3h0M50.7 672.9h0M59.9 677.6h0M53.4 670.9h0M61.1 674.3h0M52.2 673.1h0M59.3 668.3h0M61.2 668.0h0M62.0 666.1h0M46.2 678.0h0M57.0 678.2h0M55.9 673.6h0M62.9 664.3h0M48.4 677.0h0M46.6 669.0h0M46.5 667.8h0M50.9 676.6h0M59.1 669.4h0M62.5 682.1h0M49.8 674.2h0M56.7 655.4h0M50.4 650.9h0M50.1 668.7h0M49.4 668.3h0M56.0 661.1h0M59.0 680.6h0M48.4 674.2h0M52.3 671.6h0M46.9 675.0h0M49.1 680.4h0M59.1 673.6h0M52.5 678.9h0M61.4 681.6h0M56.8 662.9h0M58.1 656.5h0M51.6 676.6h0M50.8 677.3h0M47.4 667.0h0M50.4 655.9h0M52.3 677.1h0M58.2 660.1h0M60.0 681.6h0M48.6 667.3h0M62.4 674.6h0M60.5 677.4h0M54.8 672.6h0M52.9 675.2h0M63.3 668.8h0M57.0 679.9h0M62.9 677.7h0M59.9 657.0h0M51.7 669.7h0M49.5 667.8h0M63.0 679.5h0M55.3 677.6h0M52.6 672.0h0M62.3 676.5h0M61.9 668.6h0M63.9 674.3h0M57.2 672.0h0M54.8 675.1h0M54.4 656.1h0M62.3 667.1h0M54.3 669.1h0M58.2 677.0h0M62.3 678.5h0M52.6 674.4h0M62.9 666.6h0M56.4 668.0h0M57.2 676.1h0M63.6 662.3h0M60.5 673.9h0M51.0 667.0h0M53.2 676.6h0M50.5 670.4h0M47.8 675.5h0M64.0 674.9h0M62.2 672.0h0M62.2 674.2h0M46.9 676.6h0M51.1 680.0h0M55.9 667.9h0M57.6 682.5h0M62.4 673.0h0M48.8 679.6h0M60.6 671.5h0M61.3 676.2h0M51.6 677.7h0M59.5 652.7h0M54.5 658.9h0M48.0 676.8h0M63.4 672.7h0M62.2 673.1h0M56.5 667.6h0M50.2 666.9h0M49.5 665.6h0M60.9 658.9h0M50.1 674.2h0M63.4 675.5h0M55.1 661.7h0M57.8 667.4h0M52.0 615.0h0M49.4 644.3h0" stroke="#eaa83a" stroke-width="2.20" stroke-linecap="round" fill="none"/>
<rect x="40.5" y="668.0" width="29.4" height="9.6" fill="none" stroke="#eaa83a" stroke-width="0.8" stroke-opacity="0.85"/>
<line x1="40.50" y1="673.20" x2="69.90" y2="673.20" stroke="#eaa83a" stroke-width="0.9"/>
<line x1="94.60" y1="668.50" x2="94.60" y2="656.00" stroke="#9ccb6a" stroke-width="0.6"/>
<line x1="94.60" y1="677.50" x2="94.60" y2="681.50" stroke="#9ccb6a" stroke-width="0.6"/>
<path d="M85.9 671.9h0M90.4 672.8h0M91.6 669.0h0M90.0 668.3h0M101.6 681.7h0M99.7 678.1h0M91.0 673.0h0M102.9 669.4h0M88.1 675.4h0M91.0 679.2h0M98.5 663.2h0M88.2 676.9h0M96.4 653.5h0M94.5 676.7h0M101.0 674.4h0M99.5 668.4h0M98.0 680.3h0M87.3 674.9h0M100.2 676.9h0M96.0 646.1h0M96.4 669.9h0M85.8 670.1h0M91.6 677.0h0M103.2 667.8h0M95.3 674.1h0M95.7 678.4h0M101.2 681.0h0M92.8 673.1h0M88.5 678.4h0M100.6 671.1h0M86.5 668.1h0M99.5 676.3h0M86.4 676.7h0M96.7 667.9h0M97.6 673.1h0M98.1 677.8h0M92.1 677.8h0M89.5 667.6h0M99.8 680.4h0M96.5 673.8h0M88.9 678.1h0M102.4 668.3h0M91.7 658.9h0M95.7 676.4h0M102.0 672.6h0M88.8 657.1h0M98.2 654.3h0M95.5 672.1h0M101.5 678.4h0M89.9 676.8h0M89.7 674.8h0M87.7 657.3h0M97.2 677.0h0M88.2 674.4h0M94.2 661.7h0M101.6 673.4h0M88.2 668.8h0M85.8 668.4h0M89.1 676.9h0M102.7 667.8h0M89.4 659.0h0M88.2 673.3h0M95.1 677.2h0M102.3 674.4h0M93.8 677.9h0M90.6 653.7h0M101.1 675.5h0M91.8 679.8h0M90.3 667.8h0M88.4 664.6h0M101.1 673.8h0M99.3 671.5h0M88.6 675.4h0M100.4 669.3h0M85.7 676.1h0M97.2 678.3h0M92.1 674.9h0M88.1 674.3h0M94.5 676.6h0M95.2 680.8h0M90.6 673.6h0M95.8 671.3h0M95.3 675.8h0M87.0 658.6h0M98.6 669.7h0M95.6 671.3h0M90.8 668.4h0M91.4 662.8h0M99.1 678.2h0M94.7 668.2h0M87.9 676.6h0M98.4 673.7h0M91.9 668.7h0M94.9 680.7h0M97.7 667.8h0M90.8 666.5h0M97.8 669.2h0M87.6 675.2h0M99.1 662.2h0M99.1 664.1h0M102.3 675.2h0M91.5 674.5h0M97.2 672.2h0M92.7 674.5h0M101.7 668.4h0M93.9 678.8h0M88.5 671.6h0M98.4 673.7h0M99.8 669.4h0M89.7 681.5h0M99.7 670.6h0M94.5 660.2h0M98.7 675.2h0M87.7 668.2h0M90.2 673.0h0M102.5 672.5h0M99.3 660.1h0M95.0 673.0h0M88.6 669.6h0M92.1 674.4h0M98.5 666.8h0M87.7 665.9h0M97.1 655.5h0M96.5 669.0h0M102.0 679.1h0M88.6 658.6h0M88.3 654.4h0M100.8 646.8h0M92.2 671.5h0M98.6 672.5h0M91.6 681.7h0M98.1 666.0h0M99.9 680.3h0M97.2 665.0h0M89.3 647.4h0M97.8 676.7h0M93.5 672.4h0M95.1 673.6h0M88.0 682.5h0M93.2 676.5h0M91.4 673.3h0M90.5 671.8h0M96.6 671.0h0M100.7 671.4h0M102.2 663.6h0M88.0 682.3h0M99.0 650.8h0M98.0 652.6h0M89.4 677.7h0M87.5 673.5h0M90.6 667.5h0M87.2 662.4h0M92.7 670.3h0M94.0 677.5h0M90.7 678.3h0M87.1 655.4h0M98.7 670.7h0M89.1 676.8h0M100.2 650.9h0M85.9 675.8h0M87.0 677.4h0M94.0 666.0h0M91.5 670.0h0M87.4 657.0h0M90.1 674.9h0M96.4 652.3h0M101.1 672.9h0M89.1 667.7h0M92.8 671.8h0M102.5 677.9h0M90.0 668.9h0M100.6 674.6h0M89.0 671.8h0M86.3 669.4h0M99.7 672.6h0M89.5 666.3h0M97.3 666.8h0M98.1 674.1h0M93.7 674.7h0M86.7 680.8h0M91.0 651.9h0M91.7 659.4h0M89.4 673.3h0M91.3 673.6h0M87.5 675.7h0M86.1 681.5h0M97.5 648.0h0M87.5 678.0h0M88.8 667.5h0M93.5 666.9h0M94.2 677.5h0M96.0 671.1h0M91.9 659.0h0M94.1 669.8h0M103.1 673.0h0M88.9 674.7h0M91.4 672.4h0M93.3 668.2h0M97.5 673.2h0M101.3 660.2h0M92.7 677.7h0M98.1 661.0h0M96.8 671.6h0M86.8 668.2h0M97.9 674.8h0M94.0 646.8h0M94.1 646.9h0M100.1 671.2h0M90.4 679.5h0M101.8 678.3h0M99.3 637.7h0M96.0 645.7h0" stroke="#9ccb6a" stroke-width="2.20" stroke-linecap="round" fill="none"/>
<rect x="79.9" y="668.5" width="29.4" height="9.0" fill="none" stroke="#9ccb6a" stroke-width="0.8" stroke-opacity="0.85"/>
<line x1="79.90" y1="674.00" x2="109.30" y2="674.00" stroke="#9ccb6a" stroke-width="0.9"/>
<rect x="32.4" y="603.1" width="85.0" height="85.9" fill="none" stroke="#666" stroke-width="0.8"/>
<line x1="55.20" y1="613.30" x2="94.60" y2="613.30" stroke="#444" stroke-width="0.6"/>
<text x="74.90" y="611.40" font-size="7.6" text-anchor="middle" fill="#222">0.88</text>
<text x="55.20" y="695.80" font-size="8.4" text-anchor="middle" fill="#222">SMC</text>
<text x="94.60" y="695.80" font-size="8.4" text-anchor="middle" fill="#222">Other centers</text>
<rect x="141.60" y="603.10" width="85.50" height="85.90" fill="#fff"/>
<text x="139.40" y="615.30" font-size="5.9" text-anchor="end" fill="#222">−3000</text>
<line x1="140.30" y1="613.30" x2="141.60" y2="613.30" stroke="#555" stroke-width="0.5"/>
<text x="139.40" y="632.47" font-size="5.9" text-anchor="end" fill="#222">−4000</text>
<line x1="140.30" y1="630.47" x2="141.60" y2="630.47" stroke="#555" stroke-width="0.5"/>
<text x="139.40" y="649.65" font-size="5.9" text-anchor="end" fill="#222">−5000</text>
<line x1="140.30" y1="647.65" x2="141.60" y2="647.65" stroke="#555" stroke-width="0.5"/>
<text x="139.40" y="666.83" font-size="5.9" text-anchor="end" fill="#222">−6000</text>
<line x1="140.30" y1="664.83" x2="141.60" y2="664.83" stroke="#555" stroke-width="0.5"/>
<text x="139.40" y="684.00" font-size="5.9" text-anchor="end" fill="#222">−7000</text>
<line x1="140.30" y1="682.00" x2="141.60" y2="682.00" stroke="#555" stroke-width="0.5"/>
<line x1="165.00" y1="665.30" x2="165.00" y2="656.00" stroke="#eaa83a" stroke-width="0.6"/>
<line x1="165.00" y1="676.70" x2="165.00" y2="680.70" stroke="#eaa83a" stroke-width="0.6"/>
<path d="M169.2 655.2h0M166.5 676.2h0M170.1 666.5h0M168.8 679.6h0M171.4 676.5h0M157.1 670.0h0M166.5 662.4h0M159.8 679.7h0M156.4 677.6h0M165.7 667.3h0M162.8 675.7h0M167.4 675.1h0M173.9 667.7h0M162.8 668.0h0M157.6 672.7h0M161.2 665.1h0M159.3 673.3h0M162.0 664.5h0M167.6 649.7h0M167.5 665.1h0M160.5 661.2h0M159.5 650.3h0M160.6 672.9h0M162.7 649.0h0M158.1 665.2h0M171.2 676.4h0M166.6 657.7h0M169.2 647.3h0M156.0 679.9h0M173.3 676.8h0M168.3 671.6h0M161.8 675.9h0M167.4 648.6h0M157.2 679.9h0M162.9 666.3h0M172.0 670.7h0M159.0 665.3h0M161.0 666.0h0M159.3 677.4h0M161.2 664.7h0M156.5 664.8h0M157.0 666.5h0M165.9 674.4h0M165.0 680.5h0M162.5 657.6h0M164.4 674.0h0M158.4 674.1h0M174.0 681.4h0M173.7 671.2h0M163.4 676.0h0M157.5 677.3h0M169.3 673.1h0M163.6 676.1h0M156.9 669.4h0M173.3 666.9h0M159.6 664.9h0M156.4 661.6h0M161.9 665.0h0M166.2 681.0h0M165.0 673.6h0M156.8 675.2h0M158.9 675.3h0M157.4 669.8h0M169.6 665.3h0M170.8 667.0h0M173.3 670.4h0M159.7 649.6h0M156.4 669.7h0M157.4 672.0h0M161.2 679.9h0M163.2 669.1h0M161.9 680.5h0M166.2 675.6h0M162.7 664.8h0M161.0 663.8h0M164.8 654.2h0M167.0 648.3h0M170.1 671.8h0M166.4 675.2h0M173.9 681.6h0M169.5 666.7h0M165.0 662.5h0M168.0 656.4h0M171.5 679.1h0M169.0 650.8h0M173.6 675.0h0M166.5 673.6h0M163.2 653.8h0M164.5 677.8h0M172.7 669.0h0M159.7 655.7h0M169.8 677.4h0M160.6 674.0h0M156.4 673.8h0M159.7 679.2h0M159.7 666.5h0M169.5 673.9h0M162.7 669.6h0M169.1 669.1h0M157.2 673.0h0M158.4 665.2h0M156.5 653.4h0M172.0 668.2h0M172.6 669.8h0M167.2 668.6h0M163.2 660.8h0M165.0 655.6h0M167.3 674.3h0M171.8 670.3h0M173.4 661.9h0M167.0 680.0h0M171.5 671.9h0M168.2 654.2h0M157.9 680.6h0M169.3 669.7h0M164.7 675.3h0M173.7 677.3h0M171.0 664.8h0M164.4 665.0h0M162.6 667.5h0M171.9 637.7h0M172.8 646.6h0M161.4 644.8h0" stroke="#eaa83a" stroke-width="2.20" stroke-linecap="round" fill="none"/>
<rect x="150.3" y="665.3" width="29.4" height="11.4" fill="none" stroke="#eaa83a" stroke-width="0.8" stroke-opacity="0.85"/>
<line x1="150.30" y1="672.00" x2="179.70" y2="672.00" stroke="#eaa83a" stroke-width="0.9"/>
<line x1="204.00" y1="669.20" x2="204.00" y2="656.00" stroke="#9ccb6a" stroke-width="0.6"/>
<line x1="204.00" y1="678.50" x2="204.00" y2="682.50" stroke="#9ccb6a" stroke-width="0.6"/>
<path d="M202.9 676.5h0M199.5 654.4h0M200.0 668.7h0M201.0 672.0h0M203.9 668.9h0M210.8 679.1h0M201.8 669.5h0M199.5 679.3h0M210.5 659.8h0M206.7 681.8h0M207.1 681.2h0M203.4 675.4h0M210.0 672.9h0M201.7 660.3h0M203.2 677.2h0M199.9 665.9h0M212.5 666.6h0M208.6 672.3h0M206.1 670.2h0M205.1 678.2h0M206.8 680.3h0M200.5 679.4h0M202.7 679.0h0M210.4 669.2h0M196.1 678.6h0M197.3 679.9h0M199.5 673.1h0M207.7 646.6h0M205.7 677.7h0M202.7 669.2h0M200.8 679.8h0M212.1 668.4h0M198.9 672.8h0M210.9 677.9h0M199.9 670.8h0M210.7 653.6h0M198.0 679.4h0M204.1 671.3h0M201.4 647.0h0M209.8 671.5h0M209.0 674.0h0M203.9 670.4h0M212.9 665.1h0M207.0 669.1h0M209.7 648.0h0M199.0 669.1h0M196.4 673.2h0M198.3 681.5h0M198.7 675.9h0M211.5 668.3h0M206.2 669.2h0M202.0 678.9h0M195.2 679.1h0M200.0 672.4h0M200.2 669.1h0M200.4 678.5h0M211.2 653.6h0M202.9 683.1h0M202.9 669.5h0M209.9 678.6h0M207.1 676.0h0M201.5 669.0h0M197.9 669.5h0M201.0 652.9h0M204.8 678.5h0M205.8 671.7h0M211.6 676.2h0M207.0 675.6h0M204.2 667.3h0M205.5 677.1h0M209.9 660.7h0M205.1 663.2h0M211.6 670.9h0M200.6 673.6h0M202.3 677.3h0M195.5 677.6h0M200.8 676.6h0M203.3 679.2h0M212.8 669.2h0M206.6 681.7h0M201.0 668.7h0M205.7 680.9h0M203.3 672.3h0M203.1 674.5h0M202.5 674.2h0M202.0 668.9h0M196.4 669.6h0M205.7 678.3h0M204.5 666.7h0M199.4 672.0h0M210.7 657.1h0M207.6 674.8h0M201.9 678.0h0M206.5 663.5h0M201.0 679.9h0M211.1 662.9h0M208.9 669.0h0M206.7 652.3h0M210.6 669.0h0M210.2 665.8h0M205.3 678.4h0M210.7 683.3h0M197.9 677.2h0M203.7 680.7h0M202.3 682.6h0M197.7 669.1h0M211.7 660.5h0M203.4 679.4h0M211.6 679.0h0M200.1 673.2h0M210.4 672.4h0M212.5 670.5h0M204.2 676.1h0M209.6 662.8h0M199.6 678.8h0M204.6 669.2h0M208.3 669.4h0M203.6 682.0h0M200.6 674.0h0M209.8 677.7h0M203.4 676.9h0M199.7 680.8h0M207.6 646.9h0M207.0 668.8h0M202.7 679.0h0M210.5 683.3h0M211.4 669.0h0M205.1 673.2h0M195.3 682.7h0M210.2 673.4h0M202.3 675.4h0M198.7 651.2h0M198.0 647.9h0M204.0 663.4h0M205.5 673.2h0M201.4 648.1h0M200.7 677.7h0M196.4 676.0h0M204.1 668.4h0M200.3 674.3h0M211.3 674.8h0M212.7 678.5h0M205.9 667.2h0M206.4 682.1h0M198.6 671.8h0M207.9 677.2h0M207.5 671.3h0M206.9 675.0h0M207.8 679.7h0M200.0 672.6h0M196.2 671.5h0M212.2 660.3h0M211.9 672.6h0M204.5 672.9h0M203.8 675.9h0M196.3 677.3h0M209.7 660.9h0M206.6 682.3h0M198.9 657.2h0M197.8 668.9h0M211.7 673.5h0M197.1 679.3h0M207.4 672.1h0M204.5 679.7h0M199.0 671.1h0M197.2 668.7h0M197.0 671.5h0M212.7 682.1h0M212.2 658.6h0M195.5 651.5h0M200.6 666.6h0M208.1 659.3h0M209.1 665.8h0M198.9 668.8h0M211.0 668.3h0M197.8 673.9h0M202.5 658.3h0M211.1 679.2h0M204.0 672.8h0M208.1 682.0h0M197.3 673.1h0M197.9 677.4h0M198.7 669.4h0M206.0 678.9h0M209.2 671.7h0M210.4 674.6h0M204.2 669.2h0M197.9 674.1h0M210.6 669.8h0M203.6 675.9h0M209.6 667.7h0M204.2 673.9h0M195.7 673.6h0M195.5 681.8h0M195.8 671.8h0M204.1 669.1h0M207.1 655.8h0M207.8 677.4h0M206.2 673.3h0M211.1 672.4h0M211.6 667.6h0M203.2 682.6h0M200.4 657.3h0M204.0 672.3h0M203.6 665.4h0M195.1 647.4h0M198.6 669.0h0M208.0 671.1h0M205.7 659.3h0M196.9 668.6h0M211.0 615.0h0" stroke="#9ccb6a" stroke-width="2.20" stroke-linecap="round" fill="none"/>
<rect x="189.3" y="669.2" width="29.4" height="9.3" fill="none" stroke="#9ccb6a" stroke-width="0.8" stroke-opacity="0.85"/>
<line x1="189.30" y1="674.40" x2="218.70" y2="674.40" stroke="#9ccb6a" stroke-width="0.9"/>
<rect x="141.6" y="603.1" width="85.5" height="85.9" fill="none" stroke="#666" stroke-width="0.8"/>
<line x1="165.00" y1="613.30" x2="204.00" y2="613.30" stroke="#444" stroke-width="0.6"/>
<text x="184.50" y="611.40" font-size="7.6" text-anchor="middle" fill="#222">0.095</text>
<text x="165.00" y="695.80" font-size="8.4" text-anchor="middle" fill="#222">Rt</text>
<text x="204.00" y="695.80" font-size="8.4" text-anchor="middle" fill="#222">Lt</text>
<text x="231.60" y="497.00" font-size="16.5" font-weight="bold">f</text>
<rect x="266.40" y="506.50" width="185.10" height="169.70" fill="#fff"/>
<text x="263.30" y="522.40" font-size="7" text-anchor="end" fill="#222">5000</text>
<line x1="264.90" y1="520.00" x2="266.40" y2="520.00" stroke="#555" stroke-width="0.5"/>
<text x="263.30" y="553.90" font-size="7" text-anchor="end" fill="#222">2500</text>
<line x1="264.90" y1="551.50" x2="266.40" y2="551.50" stroke="#555" stroke-width="0.5"/>
<text x="263.30" y="585.40" font-size="7" text-anchor="end" fill="#222">0</text>
<line x1="264.90" y1="583.00" x2="266.40" y2="583.00" stroke="#555" stroke-width="0.5"/>
<text x="263.30" y="616.90" font-size="7" text-anchor="end" fill="#222">−2500</text>
<line x1="264.90" y1="614.50" x2="266.40" y2="614.50" stroke="#555" stroke-width="0.5"/>
<text x="263.30" y="648.40" font-size="7" text-anchor="end" fill="#222">−5000</text>
<line x1="264.90" y1="646.00" x2="266.40" y2="646.00" stroke="#555" stroke-width="0.5"/>
<text x="0" y="0" font-size="9" text-anchor="middle" transform="translate(241.20,592.50) rotate(-90)" fill="#222" textLength="108.00" lengthAdjust="spacingAndGlyphs">Tumor-supportive signature</text>
<line x1="282.00" y1="661.50" x2="282.00" y2="665.20" stroke="#1c1ca6" stroke-width="0.7"/>
<line x1="282.00" y1="669.20" x2="282.00" y2="674.50" stroke="#1c1ca6" stroke-width="0.7"/>
<rect x="272.0" y="665.2" width="20" height="4.0" fill="#6464c0"/>
<path d="M277.4 673.6h0M280.4 670.5h0M287.0 667.8h0M282.0 665.9h0M285.9 668.4h0M276.7 663.0h0M281.9 669.8h0M281.9 672.4h0M285.6 671.7h0M275.7 673.3h0M288.1 670.8h0M287.1 668.1h0M284.9 667.9h0M276.3 668.9h0M285.6 666.6h0M277.6 672.5h0M288.1 672.9h0M286.0 665.5h0M276.6 666.1h0M278.5 664.7h0M287.1 663.3h0M277.1 666.2h0M276.9 666.8h0M288.1 662.9h0M278.4 672.9h0M277.5 672.5h0M280.7 671.4h0M276.8 670.6h0M279.6 671.0h0M275.7 667.0h0M281.6 666.5h0M288.4 671.2h0M279.0 670.1h0M279.5 672.4h0M281.1 667.1h0M276.6 666.3h0M278.4 670.8h0M286.0 667.4h0M286.0 672.5h0M277.8 670.9h0M276.3 665.2h0M277.1 666.5h0M276.0 665.2h0M284.5 672.8h0M280.1 673.6h0M285.1 672.3h0M279.1 673.8h0M276.7 670.9h0M282.5 667.1h0M287.6 665.1h0M286.5 670.6h0M286.5 673.9h0M283.1 671.7h0M284.7 668.3h0M285.0 669.0h0M282.3 666.1h0M285.9 673.4h0M283.6 664.6h0M283.3 665.7h0M288.3 673.0h0M280.3 665.6h0M283.9 664.7h0M285.3 666.1h0M283.6 668.7h0M280.2 664.4h0M283.6 667.9h0M286.1 671.4h0M282.1 672.4h0M279.5 671.1h0M284.1 665.4h0M276.5 662.6h0M277.6 662.5h0M277.8 669.6h0M280.7 666.4h0M287.7 667.4h0M285.7 671.4h0M282.4 671.2h0M280.0 670.5h0M278.3 670.6h0M280.1 669.5h0M287.7 663.4h0M276.2 665.8h0M279.1 668.8h0M279.8 668.2h0M287.8 664.2h0M275.8 670.1h0M281.5 673.5h0M277.4 670.3h0M281.0 673.9h0M276.2 664.3h0M278.6 670.6h0M286.2 669.0h0M278.9 662.2h0M278.8 673.4h0M284.8 662.8h0M287.9 669.2h0M278.8 671.0h0M279.0 662.8h0M284.8 673.2h0M284.9 662.6h0M286.1 666.1h0M287.1 665.6h0M281.4 673.2h0M282.0 665.6h0M278.5 666.9h0M277.0 669.9h0M286.5 663.9h0M280.8 664.4h0M286.5 665.3h0M288.3 667.4h0M278.1 670.3h0M278.5 672.3h0M283.5 665.1h0M286.0 663.9h0M285.9 665.2h0M277.8 662.5h0M288.2 667.5h0M278.8 665.2h0M287.5 668.0h0M286.3 672.8h0M276.9 667.9h0M279.8 666.9h0M284.4 664.6h0M286.2 671.4h0M279.5 666.6h0M280.3 667.3h0M285.9 667.3h0M283.7 667.3h0M275.6 670.0h0M283.0 665.1h0M284.1 669.5h0M283.9 669.4h0M283.2 673.4h0M287.4 670.0h0M286.7 667.4h0M279.3 670.3h0M275.6 669.8h0M286.5 662.5h0M283.3 667.6h0M282.5 662.1h0" stroke="#1c1ca6" stroke-width="2.80" stroke-linecap="round" fill="none"/>
<rect x="272.0" y="665.2" width="20" height="4.0" fill="none" stroke="#1c1ca6" stroke-width="0.9"/>
<line x1="272.00" y1="667.20" x2="292.00" y2="667.20" stroke="#1c1ca6" stroke-width="1.1"/>
<line x1="307.45" y1="656.00" x2="307.45" y2="657.50" stroke="#ebd270" stroke-width="0.7"/>
<line x1="307.45" y1="662.20" x2="307.45" y2="664.00" stroke="#ebd270" stroke-width="0.7"/>
<path d="M309.6 638.0h0M304.8 652.0h0M303.1 663.8h0M312.3 669.7h0M311.0 661.2h0M307.7 659.2h0M305.0 660.5h0M300.0 661.5h0M313.0 659.5h0" stroke="#ebd270" stroke-width="2.70" stroke-linecap="round" fill="none"/>
<rect x="297.4" y="657.5" width="20" height="4.7" fill="none" stroke="#ebd270" stroke-width="0.9"/>
<line x1="297.45" y1="660.00" x2="317.45" y2="660.00" stroke="#ebd270" stroke-width="1.1"/>
<line x1="332.90" y1="645.00" x2="332.90" y2="654.30" stroke="#d62a22" stroke-width="0.7"/>
<line x1="332.90" y1="662.50" x2="332.90" y2="664.00" stroke="#d62a22" stroke-width="0.7"/>
<path d="M332.8 657.7h0M327.7 653.5h0M328.6 659.5h0M333.0 660.3h0M326.5 656.8h0M328.2 661.2h0M326.9 662.6h0M336.9 653.7h0M334.4 663.1h0M328.9 663.9h0M337.1 663.8h0M331.9 658.5h0M336.7 656.2h0M327.6 654.6h0M330.4 657.1h0M335.3 656.2h0M329.5 656.1h0M331.7 658.3h0M332.8 660.3h0M330.6 663.9h0M335.2 659.4h0M337.3 659.0h0M338.6 658.2h0M337.3 654.6h0M338.7 663.8h0M330.4 658.5h0M336.6 655.6h0M337.5 658.6h0M336.0 655.6h0M328.9 653.7h0M334.8 658.9h0M334.9 655.5h0M329.4 658.3h0M330.8 654.3h0M337.2 663.3h0M339.1 662.9h0M330.2 660.9h0M335.1 659.6h0M329.6 659.0h0M326.8 661.1h0M326.5 660.2h0M338.5 656.0h0M329.7 658.5h0M338.3 654.6h0M330.2 655.2h0M327.4 655.7h0M337.0 657.6h0M331.9 662.4h0M331.5 663.0h0M332.6 654.7h0M336.7 654.8h0M338.9 661.2h0M328.7 656.7h0M328.8 661.8h0M331.0 659.4h0M333.8 661.1h0M338.1 655.7h0M335.8 663.6h0M328.9 659.9h0M334.6 655.2h0M338.6 663.8h0M336.0 660.4h0M337.3 660.2h0M334.0 661.1h0M333.6 654.4h0M329.6 662.6h0M328.5 655.3h0M336.6 661.1h0M327.0 658.4h0M335.9 654.7h0M338.5 654.7h0M331.1 656.2h0M333.3 653.5h0M334.0 661.1h0M336.5 657.4h0M338.9 661.3h0M328.7 655.6h0M337.8 654.1h0M331.4 656.9h0M331.1 654.3h0M328.8 655.3h0M333.9 655.8h0M332.5 656.5h0M327.0 656.9h0M335.4 658.5h0M335.4 654.8h0M337.6 661.2h0M327.5 657.7h0M334.7 663.0h0M334.7 663.5h0M328.8 658.6h0M327.4 658.6h0M326.4 653.4h0M328.2 657.0h0M330.7 664.0h0M328.2 653.6h0M337.1 645.7h0M335.2 654.3h0M328.7 645.0h0M327.7 648.7h0M330.9 651.9h0M333.0 644.8h0M338.9 644.6h0M334.8 644.0h0M328.3 650.8h0M338.7 651.9h0M328.1 647.7h0M329.7 642.1h0M330.1 646.9h0M337.1 654.2h0M338.6 651.0h0M333.4 651.7h0M327.1 642.1h0M328.9 650.8h0M331.5 650.5h0M333.1 640.4h0M328.7 651.7h0M337.3 646.0h0M336.8 650.7h0M331.9 652.5h0M331.0 654.1h0M336.3 652.6h0M331.4 653.2h0M335.3 652.7h0M332.5 652.8h0M336.5 652.6h0M333.8 650.0h0M327.2 641.1h0M337.2 646.1h0M328.9 643.7h0M338.5 643.5h0M334.5 644.5h0M330.1 645.7h0M330.9 652.1h0M336.8 654.1h0M337.2 621.8h0M334.5 638.0h0M330.0 642.5h0M336.0 644.0h0" stroke="#d62a22" stroke-width="2.70" stroke-linecap="round" fill="none"/>
<rect x="322.9" y="654.3" width="20" height="8.2" fill="none" stroke="#d62a22" stroke-width="0.9"/>
<line x1="322.90" y1="658.50" x2="342.90" y2="658.50" stroke="#d62a22" stroke-width="1.1"/>
<line x1="358.35" y1="576.40" x2="358.35" y2="592.50" stroke="#c7b8ee" stroke-width="0.7"/>
<line x1="358.35" y1="627.20" x2="358.35" y2="646.40" stroke="#c7b8ee" stroke-width="0.7"/>
<path d="M363.4 576.5h0M355.4 582.0h0M359.4 592.0h0M353.4 592.0h0M355.4 600.0h0M362.4 603.5h0M353.4 605.5h0M354.4 611.0h0M352.4 615.0h0M359.4 627.0h0M353.4 642.0h0M360.4 645.0h0" stroke="#c7b8ee" stroke-width="2.70" stroke-linecap="round" fill="none"/>
<rect x="348.4" y="592.5" width="20" height="34.7" fill="none" stroke="#c7b8ee" stroke-width="0.9"/>
<line x1="348.35" y1="603.50" x2="368.35" y2="603.50" stroke="#c7b8ee" stroke-width="1.1"/>
<line x1="383.80" y1="576.40" x2="383.80" y2="587.20" stroke="#8d62d8" stroke-width="0.7"/>
<line x1="383.80" y1="636.30" x2="383.80" y2="652.20" stroke="#8d62d8" stroke-width="0.7"/>
<path d="M383.8 575.0h0M385.8 577.5h0M385.8 583.0h0M380.8 587.0h0M380.8 591.0h0M383.8 603.5h0M380.8 611.0h0M380.8 618.0h0M383.8 628.0h0M383.8 629.0h0M379.8 646.6h0" stroke="#8d62d8" stroke-width="2.70" stroke-linecap="round" fill="none"/>
<rect x="373.8" y="587.2" width="20" height="49.1" fill="none" stroke="#8d62d8" stroke-width="0.9"/>
<line x1="373.80" y1="603.90" x2="393.80" y2="603.90" stroke="#8d62d8" stroke-width="1.1"/>
<line x1="409.25" y1="535.50" x2="409.25" y2="562.10" stroke="#a9cbe3" stroke-width="0.7"/>
<line x1="409.25" y1="588.30" x2="409.25" y2="625.70" stroke="#a9cbe3" stroke-width="0.7"/>
<path d="M404.1 565.2h0M413.3 593.9h0M410.4 564.0h0M409.5 594.9h0M408.9 562.3h0M406.3 575.2h0M413.6 577.0h0M414.2 567.1h0M404.8 579.1h0M404.1 555.5h0M412.8 574.3h0M411.8 566.8h0M405.6 580.5h0M408.4 568.9h0M409.7 569.8h0M410.2 581.1h0M405.9 555.7h0M410.3 578.3h0M406.2 583.6h0M406.3 574.6h0M414.7 574.4h0M411.4 579.5h0M410.7 590.3h0M407.5 600.2h0M413.3 578.8h0M412.0 562.2h0M411.3 563.6h0M408.6 557.1h0M407.3 562.5h0M412.1 552.6h0M411.8 552.9h0M406.3 591.1h0M405.8 575.0h0M410.2 548.7h0M411.8 562.6h0M404.8 574.9h0M408.3 545.7h0M405.0 563.5h0M414.5 571.2h0M413.1 588.9h0M407.2 564.2h0M412.3 548.7h0M405.5 578.9h0M411.8 552.9h0M407.3 595.3h0M404.6 568.3h0M404.3 566.4h0M414.7 572.1h0M410.5 568.5h0M405.7 586.9h0M413.6 556.3h0M413.1 573.3h0M407.6 560.9h0M414.2 562.2h0M414.1 579.7h0M406.5 535.5h0M412.1 604.2h0M405.0 590.0h0M412.2 580.6h0M404.4 563.5h0M408.9 563.2h0M408.2 557.4h0M404.6 574.7h0M411.2 579.8h0M404.6 569.4h0M412.2 563.7h0M411.9 585.5h0M412.3 582.2h0M409.9 563.3h0M404.8 594.2h0M411.7 603.9h0M408.0 567.9h0M409.7 592.9h0M409.0 573.6h0M413.4 595.8h0M407.3 577.3h0M411.4 570.3h0M408.3 577.6h0M407.9 593.9h0M405.2 568.9h0M410.8 580.1h0M411.2 584.1h0M411.0 563.2h0M410.1 551.9h0M411.8 586.7h0M407.5 558.1h0M409.9 591.1h0M411.0 561.5h0M411.4 583.5h0M408.9 614.6h0M412.2 581.0h0M404.5 568.8h0M411.8 535.5h0M411.7 579.2h0M410.0 594.0h0M406.9 562.5h0M411.4 569.2h0M411.3 563.6h0M410.3 585.2h0M408.6 573.2h0M407.0 591.9h0M412.7 594.4h0M405.7 570.7h0M406.1 558.8h0M408.4 556.1h0M412.0 581.5h0M411.8 545.2h0M404.8 580.9h0M408.4 564.8h0M405.3 618.9h0M414.3 554.0h0M406.6 580.2h0M404.2 588.8h0M403.8 560.6h0M412.7 568.9h0M412.2 580.2h0M407.3 568.2h0M405.9 588.5h0M412.4 535.5h0M412.2 577.8h0M405.9 535.5h0M414.1 568.9h0M411.1 595.6h0M409.8 584.7h0M407.6 550.5h0M409.6 565.3h0M412.9 538.4h0M410.2 577.6h0M408.0 565.7h0M405.8 579.7h0M410.5 581.9h0M411.0 579.2h0M410.0 564.1h0M405.7 575.9h0M408.6 573.1h0M412.1 559.3h0M411.4 581.2h0M405.1 541.0h0M407.4 578.8h0M411.0 558.1h0M414.6 569.0h0M406.8 582.5h0M408.1 580.7h0M409.7 567.1h0M410.0 572.8h0M409.7 583.1h0M408.4 561.5h0M414.4 569.0h0M405.1 602.0h0M408.6 575.6h0M410.2 646.0h0" stroke="#a9cbe3" stroke-width="2.70" stroke-linecap="round" fill="none"/>
<rect x="399.2" y="562.1" width="20" height="26.2" fill="none" stroke="#a9cbe3" stroke-width="0.9"/>
<line x1="399.25" y1="572.60" x2="419.25" y2="572.60" stroke="#a9cbe3" stroke-width="1.1"/>
<line x1="434.70" y1="539.00" x2="434.70" y2="560.60" stroke="#ee9d98" stroke-width="0.7"/>
<line x1="434.70" y1="584.90" x2="434.70" y2="625.70" stroke="#ee9d98" stroke-width="0.7"/>
<path d="M438.6 567.5h0M438.8 549.3h0M431.9 577.6h0M433.0 584.1h0M437.1 564.3h0M433.4 565.3h0M438.9 591.0h0M434.1 614.1h0M431.6 581.5h0M432.1 592.6h0M436.3 579.8h0M436.5 575.1h0M434.0 584.3h0M437.8 563.0h0M431.0 557.5h0M431.7 608.8h0M435.9 569.8h0M437.7 575.1h0M432.6 562.3h0M438.3 582.7h0M431.4 600.3h0M429.4 601.0h0M433.6 594.7h0M438.8 568.0h0M435.0 572.3h0M435.5 578.3h0M437.9 600.7h0M431.2 575.6h0M440.1 566.0h0M430.6 611.5h0M434.8 589.8h0M430.7 548.8h0M433.9 544.8h0M430.0 598.3h0M434.0 573.5h0M436.9 597.5h0M435.9 553.1h0M438.2 594.7h0M436.2 597.0h0M437.1 586.6h0M433.9 587.3h0M437.0 595.5h0M440.1 552.7h0M437.8 583.1h0M434.6 596.0h0M435.5 566.2h0M433.1 587.5h0M438.4 586.1h0M431.2 590.4h0M433.4 582.4h0M434.2 581.5h0M432.7 590.7h0M438.2 569.5h0M431.5 592.4h0M435.1 559.8h0M434.1 587.4h0M437.9 582.4h0M438.7 540.4h0M432.7 579.9h0M434.9 574.3h0M433.8 573.3h0M431.1 589.1h0M433.3 573.0h0M439.4 596.7h0M430.4 568.8h0M439.9 571.5h0M436.9 562.7h0M430.1 612.6h0M436.9 579.0h0M433.0 555.2h0M438.6 575.7h0M434.4 575.9h0M438.1 566.1h0M433.1 576.7h0M435.1 577.2h0M432.3 554.0h0M433.1 594.9h0M430.3 574.5h0M436.6 584.0h0M430.4 573.9h0M432.1 571.1h0M437.3 589.3h0M431.6 576.1h0M430.7 540.1h0M431.9 574.2h0M430.2 606.1h0M431.5 539.0h0M438.8 590.2h0M433.5 605.8h0M432.2 561.2h0M434.9 577.4h0M434.3 564.2h0M434.8 586.2h0M432.2 575.9h0M435.5 583.2h0M439.3 564.2h0M436.9 558.0h0M431.2 582.7h0M429.7 559.9h0M437.7 579.4h0M437.7 593.4h0M439.2 579.4h0M432.5 604.4h0M429.5 591.2h0M429.7 566.8h0M440.2 573.1h0M437.7 567.8h0M430.1 582.6h0M435.5 584.3h0M437.3 563.2h0M439.9 574.3h0M436.3 539.0h0M436.4 568.6h0M432.3 550.0h0M437.3 571.9h0" stroke="#ee9d98" stroke-width="2.70" stroke-linecap="round" fill="none"/>
<rect x="424.7" y="560.6" width="20" height="24.3" fill="none" stroke="#ee9d98" stroke-width="0.9"/>
<line x1="424.70" y1="573.50" x2="444.70" y2="573.50" stroke="#ee9d98" stroke-width="1.1"/>
<rect x="266.4" y="506.5" width="185.1" height="169.7" fill="none" stroke="#666" stroke-width="0.8"/>
<path d="M281.3 589.8V588.6H307.8V589.8" stroke="#333" stroke-width="0.6" fill="none"/>
<text x="294.52" y="586.50" font-size="8" text-anchor="middle" fill="#111">0.017</text>
<path d="M306.8 575.8V574.6H333.2V575.8" stroke="#333" stroke-width="0.6" fill="none"/>
<text x="319.98" y="572.50" font-size="8" text-anchor="middle" fill="#111">0.690</text>
<path d="M332.2 561.9V560.7H358.7V561.9" stroke="#333" stroke-width="0.6" fill="none"/>
<text x="345.43" y="558.60" font-size="8" text-anchor="middle" fill="#111">&lt;0.001</text>
<path d="M357.7 547.8V546.6H384.1V547.8" stroke="#333" stroke-width="0.6" fill="none"/>
<text x="370.88" y="544.50" font-size="8" text-anchor="middle" fill="#111">0.95</text>
<path d="M383.1 533.9V532.7H409.6V533.9" stroke="#333" stroke-width="0.6" fill="none"/>
<text x="396.33" y="530.60" font-size="8" text-anchor="middle" fill="#111">&lt;0.001</text>
<path d="M408.6 520.0V518.8H435.0V520.0" stroke="#333" stroke-width="0.6" fill="none"/>
<text x="421.77" y="516.70" font-size="8" text-anchor="middle" fill="#111">0.630</text>
<text x="282.00" y="684.40" font-size="7.4" font-weight="bold" text-anchor="middle" fill="#111">HM</text>
<text x="282.00" y="693.20" font-size="7.4" font-weight="bold" text-anchor="middle" fill="#111">NBT</text>
<text x="307.45" y="685.00" font-size="6.3" text-anchor="middle" fill="#222">Colon</text>
<text x="307.45" y="692.30" font-size="6.3" text-anchor="middle" fill="#222">Polyp*</text>
<text x="332.90" y="684.40" font-size="7.4" font-weight="bold" text-anchor="middle" fill="#111">TSM</text>
<text x="332.90" y="693.20" font-size="7.4" font-weight="bold" text-anchor="middle" fill="#111">NBT</text>
<text x="358.40" y="684.30" font-size="6.4" text-anchor="middle" fill="#222">Crohn's</text>
<text x="358.40" y="692.10" font-size="6.4" text-anchor="middle" fill="#222">Disease*</text>
<text x="358.40" y="699.90" font-size="6.4" text-anchor="middle" fill="#222">(Non-</text>
<text x="358.40" y="707.70" font-size="6.4" text-anchor="middle" fill="#222">inflamed</text>
<text x="358.40" y="715.50" font-size="6.4" text-anchor="middle" fill="#222">lesion)</text>
<text x="386.20" y="684.30" font-size="6.4" text-anchor="middle" fill="#222">Crohn's</text>
<text x="386.20" y="692.10" font-size="6.4" text-anchor="middle" fill="#222">Disease*</text>
<text x="386.20" y="699.90" font-size="6.4" text-anchor="middle" fill="#222">(Inflamed</text>
<text x="386.20" y="707.70" font-size="6.4" text-anchor="middle" fill="#222">lesion)</text>
<text x="410.25" y="683.40" font-size="4.9" text-anchor="middle" fill="#333">HM</text>
<text x="410.25" y="691.30" font-size="4.9" text-anchor="middle" fill="#333">Tumor</text>
<text x="434.70" y="683.40" font-size="4.9" text-anchor="middle" fill="#333">TSM</text>
<text x="434.70" y="691.30" font-size="4.9" text-anchor="middle" fill="#333">Tumor</text>
<text x="457.00" y="495.50" font-size="16.5" font-weight="bold" font-family="Liberation Serif">g</text>
<path d="M505.2 508.00C572.5 508.00 572.5 508.00 639.8 508.00L639.8 517.60C572.5 517.60 572.5 517.60 505.2 517.60Z" fill="#d8303c" fill-opacity="0.66"/>
<path d="M505.2 517.60C572.5 517.60 572.5 529.00 639.8 529.00L639.8 541.30C572.5 541.30 572.5 531.30 505.2 531.30Z" fill="#d8303c" fill-opacity="0.66"/>
<path d="M505.2 531.30C572.5 531.30 572.5 569.00 639.8 569.00L639.8 578.30C572.5 578.30 572.5 541.30 505.2 541.30Z" fill="#d8303c" fill-opacity="0.66"/>
<path d="M505.2 541.30C572.5 541.30 572.5 603.00 639.8 603.00L639.8 625.30C572.5 625.30 572.5 565.50 505.2 565.50Z" fill="#d8303c" fill-opacity="0.66"/>
<path d="M505.2 565.50C572.5 565.50 572.5 656.00 639.8 656.00L639.8 660.00C572.5 660.00 572.5 570.60 505.2 570.60Z" fill="#d8303c" fill-opacity="0.66"/>
<path d="M505.2 570.60C572.5 570.60 572.5 517.60 639.8 517.60L639.8 528.00C572.5 528.00 572.5 581.10 505.2 581.10Z" fill="#1a0aa0" fill-opacity="0.52"/>
<path d="M505.2 581.10C572.5 581.10 572.5 541.30 639.8 541.30L639.8 567.80C572.5 567.80 572.5 607.60 505.2 607.60Z" fill="#1a0aa0" fill-opacity="0.52"/>
<path d="M505.2 607.60C572.5 607.60 572.5 578.30 639.8 578.30L639.8 601.60C572.5 601.60 572.5 631.50 505.2 631.50Z" fill="#1a0aa0" fill-opacity="0.52"/>
<path d="M505.2 631.50C572.5 631.50 572.5 625.30 639.8 625.30L639.8 654.60C572.5 654.60 572.5 660.00 505.2 660.00Z" fill="#1a0aa0" fill-opacity="0.52"/>
<path d="M505.2 660.00C572.5 660.00 572.5 660.00 639.8 660.00L639.8 669.50C572.5 669.50 572.5 669.50 505.2 669.50Z" fill="#1a0aa0" fill-opacity="0.52"/>
<rect x="496.40" y="508.00" width="7.80" height="62.60" fill="#d6200f"/>
<rect x="496.40" y="570.60" width="7.80" height="98.90" fill="#1200a4"/>
<rect x="640.30" y="508.00" width="8.30" height="19.90" fill="#f0a225"/>
<text x="651.50" y="520.55" font-size="7.2" font-weight="bold" fill="#f0a225">CMS1</text>
<rect x="640.30" y="529.00" width="8.30" height="38.80" fill="#4a92dc"/>
<text x="651.50" y="551.00" font-size="7.2" font-weight="bold" fill="#4a92dc">CMS2</text>
<rect x="640.30" y="569.00" width="8.30" height="32.60" fill="#c09294"/>
<text x="651.50" y="587.90" font-size="7.2" font-weight="bold" fill="#c09294">CMS3</text>
<rect x="640.30" y="603.00" width="8.30" height="51.60" fill="#72c872"/>
<text x="651.50" y="631.40" font-size="7.2" font-weight="bold" fill="#72c872">CMS4</text>
<rect x="640.30" y="656.00" width="8.30" height="13.50" fill="#d4d4d4"/>
<text x="651.50" y="665.35" font-size="7.2" font-weight="bold" fill="#cfcfcf">NA</text>
<text x="491.20" y="542.60" font-size="8.6" font-weight="bold" text-anchor="end" fill="#d6200f">TSM</text>
<text x="489.90" y="623.20" font-size="8.6" font-weight="bold" text-anchor="end" fill="#1a1a90">HM</text>
<text x="4.00" y="718.70" font-size="16.5" font-weight="bold">h</text>
<text x="105.10" y="738.50" font-size="9" font-weight="bold" text-anchor="middle" fill="#111">TSM</text>
<text x="243.40" y="739.90" font-size="9" font-weight="bold" text-anchor="middle" fill="#111">HM</text>
<rect x="47.20" y="742.50" width="111.70" height="8.80" fill="#d8201e"/>
<rect x="160.70" y="742.50" width="175.80" height="8.80" fill="#1a14a8"/>
<rect x="47.20" y="753.70" width="111.70" height="16.10" fill="#c9dced"/>
<rect x="47.20" y="753.70" width="17.70" height="16.10" fill="#5a78e0"/>
<rect x="160.70" y="753.70" width="175.80" height="16.10" fill="#c9dced"/>
<rect x="160.70" y="753.70" width="31.10" height="16.10" fill="#5a78e0"/>
<rect x="47.20" y="771.20" width="111.70" height="16.10" fill="#f6c9c9"/>
<rect x="47.20" y="771.20" width="3.70" height="16.10" fill="#f08a86"/>
<rect x="160.70" y="771.20" width="175.80" height="16.10" fill="#f6c9c9"/>
<rect x="160.70" y="771.20" width="7.70" height="16.10" fill="#f08a86"/>
<rect x="47.20" y="788.80" width="111.70" height="16.10" fill="#f7e7a4"/>
<rect x="47.20" y="788.80" width="17.70" height="16.10" fill="#ebb864"/>
<rect x="160.70" y="788.80" width="175.80" height="16.10" fill="#f7e7a4"/>
<rect x="160.70" y="788.80" width="28.10" height="16.10" fill="#ebb864"/>
<rect x="47.20" y="807.90" width="111.70" height="16.10" fill="#d6f0c6"/>
<rect x="50.90" y="807.90" width="1.50" height="16.10" fill="#92cc70"/>
<rect x="64.90" y="807.90" width="15.70" height="16.10" fill="#92cc70"/>
<rect x="91.80" y="807.90" width="29.70" height="16.10" fill="#92cc70"/>
<rect x="160.70" y="807.90" width="175.80" height="16.10" fill="#d6f0c6"/>
<rect x="168.60" y="807.90" width="0.80" height="16.10" fill="#92cc70"/>
<rect x="192.40" y="807.90" width="10.30" height="16.10" fill="#92cc70"/>
<rect x="233.20" y="807.90" width="27.80" height="16.10" fill="#92cc70"/>
<rect x="47.20" y="825.30" width="111.70" height="16.10" fill="#e9e1de"/>
<rect x="47.20" y="825.30" width="1.70" height="16.10" fill="#bba69f"/>
<rect x="65.00" y="825.30" width="13.20" height="16.10" fill="#bba69f"/>
<rect x="81.20" y="825.30" width="5.70" height="16.10" fill="#bba69f"/>
<rect x="91.30" y="825.30" width="24.10" height="16.10" fill="#bba69f"/>
<rect x="122.10" y="825.30" width="23.80" height="16.10" fill="#bba69f"/>
<rect x="160.70" y="825.30" width="175.80" height="16.10" fill="#e9e1de"/>
<rect x="161.90" y="825.30" width="4.80" height="16.10" fill="#bba69f"/>
<rect x="169.40" y="825.30" width="1.10" height="16.10" fill="#bba69f"/>
<rect x="188.80" y="825.30" width="10.60" height="16.10" fill="#bba69f"/>
<rect x="202.70" y="825.30" width="24.40" height="16.10" fill="#bba69f"/>
<rect x="233.20" y="825.30" width="21.70" height="16.10" fill="#bba69f"/>
<rect x="261.00" y="825.30" width="57.70" height="16.10" fill="#bba69f"/>
<rect x="47.20" y="842.60" width="111.70" height="16.10" fill="#aacc88"/>
<rect x="47.20" y="842.60" width="1.30" height="16.10" fill="#6aa8e0"/>
<rect x="48.50" y="842.60" width="2.60" height="16.10" fill="#d8d8d8"/>
<rect x="51.10" y="842.60" width="2.00" height="16.10" fill="#6aa8e0"/>
<rect x="53.10" y="842.60" width="1.30" height="16.10" fill="#f0b040"/>
<rect x="54.40" y="842.60" width="2.00" height="16.10" fill="#6aa8e0"/>
<rect x="56.40" y="842.60" width="0.70" height="16.10" fill="#c8a0a4"/>
<rect x="57.10" y="842.60" width="1.30" height="16.10" fill="#f0b040"/>
<rect x="58.40" y="842.60" width="0.70" height="16.10" fill="#9cc8e8"/>
<rect x="59.10" y="842.60" width="1.30" height="16.10" fill="#6aa8e0"/>
<rect x="60.40" y="842.60" width="0.70" height="16.10" fill="#86cc80"/>
<rect x="61.10" y="842.60" width="2.00" height="16.10" fill="#f0b040"/>
<rect x="63.10" y="842.60" width="0.70" height="16.10" fill="#6aa8e0"/>
<rect x="63.80" y="842.60" width="1.30" height="16.10" fill="#6aa8e0"/>
<rect x="65.10" y="842.60" width="2.00" height="16.10" fill="#f0b040"/>
<rect x="67.10" y="842.60" width="1.30" height="16.10" fill="#86cc80"/>
<rect x="68.40" y="842.60" width="0.70" height="16.10" fill="#86cc80"/>
<rect x="69.10" y="842.60" width="1.30" height="16.10" fill="#6aa8e0"/>
<rect x="70.40" y="842.60" width="1.30" height="16.10" fill="#6aa8e0"/>
<rect x="71.70" y="842.60" width="2.00" height="16.10" fill="#86cc80"/>
<rect x="73.70" y="842.60" width="0.70" height="16.10" fill="#86cc80"/>
<rect x="74.40" y="842.60" width="2.00" height="16.10" fill="#f0b040"/>
<rect x="76.40" y="842.60" width="2.00" height="16.10" fill="#c8a0a4"/>
<rect x="78.40" y="842.60" width="2.00" height="16.10" fill="#86cc80"/>
<rect x="80.40" y="842.60" width="2.00" height="16.10" fill="#f0b040"/>
<rect x="82.40" y="842.60" width="1.30" height="16.10" fill="#86cc80"/>
<rect x="83.70" y="842.60" width="2.00" height="16.10" fill="#6aa8e0"/>
<rect x="85.70" y="842.60" width="1.30" height="16.10" fill="#f0b040"/>
<rect x="87.00" y="842.60" width="0.70" height="16.10" fill="#6aa8e0"/>
<rect x="87.70" y="842.60" width="1.30" height="16.10" fill="#f0b040"/>
<rect x="89.00" y="842.60" width="0.70" height="16.10" fill="#86cc80"/>
<rect x="89.70" y="842.60" width="0.70" height="16.10" fill="#86cc80"/>
<rect x="90.40" y="842.60" width="2.60" height="16.10" fill="#86cc80"/>
<rect x="93.00" y="842.60" width="2.00" height="16.10" fill="#d8d8d8"/>
<rect x="95.00" y="842.60" width="2.00" height="16.10" fill="#6aa8e0"/>
<rect x="97.00" y="842.60" width="0.70" height="16.10" fill="#9cc8e8"/>
<rect x="97.70" y="842.60" width="0.70" height="16.10" fill="#6aa8e0"/>
<rect x="98.40" y="842.60" width="1.30" height="16.10" fill="#c8a0a4"/>
<rect x="99.70" y="842.60" width="2.00" height="16.10" fill="#c8a0a4"/>
<rect x="101.70" y="842.60" width="2.60" height="16.10" fill="#c8a0a4"/>
<rect x="104.30" y="842.60" width="1.30" height="16.10" fill="#86cc80"/>
<rect x="105.60" y="842.60" width="0.70" height="16.10" fill="#9cc8e8"/>
<rect x="106.30" y="842.60" width="2.00" height="16.10" fill="#d8d8d8"/>
<rect x="108.30" y="842.60" width="0.70" height="16.10" fill="#f0b040"/>
<rect x="109.00" y="842.60" width="1.30" height="16.10" fill="#f0b040"/>
<rect x="110.30" y="842.60" width="1.30" height="16.10" fill="#f0b040"/>
<rect x="111.60" y="842.60" width="1.30" height="16.10" fill="#f0b040"/>
<rect x="112.90" y="842.60" width="1.30" height="16.10" fill="#c8a0a4"/>
<rect x="114.20" y="842.60" width="2.00" height="16.10" fill="#86cc80"/>
<rect x="116.20" y="842.60" width="2.00" height="16.10" fill="#86cc80"/>
<rect x="118.20" y="842.60" width="2.60" height="16.10" fill="#c8a0a4"/>
<rect x="120.80" y="842.60" width="2.00" height="16.10" fill="#6aa8e0"/>
<rect x="122.80" y="842.60" width="2.00" height="16.10" fill="#f0b040"/>
<rect x="124.80" y="842.60" width="1.30" height="16.10" fill="#6aa8e0"/>
<rect x="126.10" y="842.60" width="0.70" height="16.10" fill="#9cc8e8"/>
<rect x="126.80" y="842.60" width="1.30" height="16.10" fill="#f0b040"/>
<rect x="128.10" y="842.60" width="0.70" height="16.10" fill="#86cc80"/>
<rect x="128.80" y="842.60" width="2.60" height="16.10" fill="#c8a0a4"/>
<rect x="131.40" y="842.60" width="2.00" height="16.10" fill="#9cc8e8"/>
<rect x="133.40" y="842.60" width="2.60" height="16.10" fill="#d8d8d8"/>
<rect x="136.00" y="842.60" width="1.30" height="16.10" fill="#6aa8e0"/>
<rect x="137.30" y="842.60" width="1.30" height="16.10" fill="#9cc8e8"/>
<rect x="138.60" y="842.60" width="1.30" height="16.10" fill="#c8a0a4"/>
<rect x="139.90" y="842.60" width="1.30" height="16.10" fill="#86cc80"/>
<rect x="141.20" y="842.60" width="0.70" height="16.10" fill="#86cc80"/>
<rect x="141.90" y="842.60" width="0.70" height="16.10" fill="#c8a0a4"/>
<rect x="142.60" y="842.60" width="2.00" height="16.10" fill="#86cc80"/>
<rect x="144.60" y="842.60" width="2.00" height="16.10" fill="#6aa8e0"/>
<rect x="146.60" y="842.60" width="1.30" height="16.10" fill="#86cc80"/>
<rect x="147.90" y="842.60" width="2.00" height="16.10" fill="#f0b040"/>
<rect x="149.90" y="842.60" width="0.70" height="16.10" fill="#f0b040"/>
<rect x="150.60" y="842.60" width="0.70" height="16.10" fill="#6aa8e0"/>
<rect x="151.30" y="842.60" width="1.30" height="16.10" fill="#c8a0a4"/>
<rect x="152.60" y="842.60" width="1.30" height="16.10" fill="#f0b040"/>
<rect x="153.90" y="842.60" width="1.30" height="16.10" fill="#d8d8d8"/>
<rect x="155.20" y="842.60" width="1.30" height="16.10" fill="#f0b040"/>
<rect x="156.50" y="842.60" width="1.30" height="16.10" fill="#f0b040"/>
<rect x="157.80" y="842.60" width="1.10" height="16.10" fill="#6aa8e0"/>
<rect x="160.70" y="842.60" width="175.80" height="16.10" fill="#aacc88"/>
<rect x="160.70" y="842.60" width="2.60" height="16.10" fill="#6aa8e0"/>
<rect x="163.30" y="842.60" width="0.70" height="16.10" fill="#6aa8e0"/>
<rect x="164.00" y="842.60" width="1.30" height="16.10" fill="#d8d8d8"/>
<rect x="165.30" y="842.60" width="2.60" height="16.10" fill="#86cc80"/>
<rect x="167.90" y="842.60" width="2.00" height="16.10" fill="#86cc80"/>
<rect x="169.90" y="842.60" width="0.70" height="16.10" fill="#e0e0a0"/>
<rect x="170.60" y="842.60" width="0.70" height="16.10" fill="#6aa8e0"/>
<rect x="171.30" y="842.60" width="2.00" height="16.10" fill="#c8a0a4"/>
<rect x="173.30" y="842.60" width="0.70" height="16.10" fill="#c8a0a4"/>
<rect x="174.00" y="842.60" width="2.00" height="16.10" fill="#f0b040"/>
<rect x="176.00" y="842.60" width="1.30" height="16.10" fill="#86cc80"/>
<rect x="177.30" y="842.60" width="0.70" height="16.10" fill="#e0e0a0"/>
<rect x="178.00" y="842.60" width="1.30" height="16.10" fill="#6aa8e0"/>
<rect x="179.30" y="842.60" width="0.70" height="16.10" fill="#f0b040"/>
<rect x="180.00" y="842.60" width="2.60" height="16.10" fill="#6aa8e0"/>
<rect x="182.60" y="842.60" width="2.00" height="16.10" fill="#e0e0a0"/>
<rect x="184.60" y="842.60" width="0.70" height="16.10" fill="#6aa8e0"/>
<rect x="185.30" y="842.60" width="1.30" height="16.10" fill="#6aa8e0"/>
<rect x="186.60" y="842.60" width="2.60" height="16.10" fill="#86cc80"/>
<rect x="189.20" y="842.60" width="1.30" height="16.10" fill="#86cc80"/>
<rect x="190.50" y="842.60" width="2.00" height="16.10" fill="#c8a0a4"/>
<rect x="192.50" y="842.60" width="0.70" height="16.10" fill="#6aa8e0"/>
<rect x="193.20" y="842.60" width="1.30" height="16.10" fill="#c8a0a4"/>
<rect x="194.50" y="842.60" width="1.30" height="16.10" fill="#6aa8e0"/>
<rect x="195.80" y="842.60" width="2.60" height="16.10" fill="#d8d8d8"/>
<rect x="198.40" y="842.60" width="0.70" height="16.10" fill="#6aa8e0"/>
<rect x="199.10" y="842.60" width="1.30" height="16.10" fill="#86cc80"/>
<rect x="200.40" y="842.60" width="2.00" height="16.10" fill="#f0b040"/>
<rect x="202.40" y="842.60" width="0.70" height="16.10" fill="#6aa8e0"/>
<rect x="203.10" y="842.60" width="1.30" height="16.10" fill="#86cc80"/>
<rect x="204.40" y="842.60" width="1.30" height="16.10" fill="#6aa8e0"/>
<rect x="205.70" y="842.60" width="0.70" height="16.10" fill="#86cc80"/>
<rect x="206.40" y="842.60" width="2.60" height="16.10" fill="#86cc80"/>
<rect x="209.00" y="842.60" width="1.30" height="16.10" fill="#f0b040"/>
<rect x="210.30" y="842.60" width="2.00" height="16.10" fill="#86cc80"/>
<rect x="212.30" y="842.60" width="0.70" height="16.10" fill="#c8a0a4"/>
<rect x="213.00" y="842.60" width="1.30" height="16.10" fill="#c8a0a4"/>
<rect x="214.30" y="842.60" width="2.00" height="16.10" fill="#e0e0a0"/>
<rect x="216.30" y="842.60" width="2.00" height="16.10" fill="#86cc80"/>
<rect x="218.30" y="842.60" width="1.30" height="16.10" fill="#c8a0a4"/>
<rect x="219.60" y="842.60" width="0.70" height="16.10" fill="#86cc80"/>
<rect x="220.30" y="842.60" width="2.00" height="16.10" fill="#c8a0a4"/>
<rect x="222.30" y="842.60" width="1.30" height="16.10" fill="#d8d8d8"/>
<rect x="223.60" y="842.60" width="1.30" height="16.10" fill="#c8a0a4"/>
<rect x="224.90" y="842.60" width="1.30" height="16.10" fill="#f0b040"/>
<rect x="226.20" y="842.60" width="2.00" height="16.10" fill="#6aa8e0"/>
<rect x="228.20" y="842.60" width="1.30" height="16.10" fill="#9cc8e8"/>
<rect x="229.50" y="842.60" width="0.70" height="16.10" fill="#c8a0a4"/>
<rect x="230.20" y="842.60" width="0.70" height="16.10" fill="#9cc8e8"/>
<rect x="230.90" y="842.60" width="0.70" height="16.10" fill="#9cc8e8"/>
<rect x="231.60" y="842.60" width="0.70" height="16.10" fill="#c8a0a4"/>
<rect x="232.30" y="842.60" width="2.60" height="16.10" fill="#86cc80"/>
<rect x="234.90" y="842.60" width="2.60" height="16.10" fill="#6aa8e0"/>
<rect x="237.50" y="842.60" width="0.70" height="16.10" fill="#6aa8e0"/>
<rect x="238.20" y="842.60" width="2.00" height="16.10" fill="#e0e0a0"/>
<rect x="240.20" y="842.60" width="2.00" height="16.10" fill="#86cc80"/>
<rect x="242.20" y="842.60" width="1.30" height="16.10" fill="#e0e0a0"/>
<rect x="243.50" y="842.60" width="0.70" height="16.10" fill="#6aa8e0"/>
<rect x="244.20" y="842.60" width="0.70" height="16.10" fill="#6aa8e0"/>
<rect x="244.90" y="842.60" width="1.30" height="16.10" fill="#c8a0a4"/>
<rect x="246.20" y="842.60" width="2.60" height="16.10" fill="#c8a0a4"/>
<rect x="248.80" y="842.60" width="0.70" height="16.10" fill="#c8a0a4"/>
<rect x="249.50" y="842.60" width="2.00" height="16.10" fill="#86cc80"/>
<rect x="251.50" y="842.60" width="0.70" height="16.10" fill="#f0b040"/>
<rect x="252.20" y="842.60" width="0.70" height="16.10" fill="#86cc80"/>
<rect x="252.90" y="842.60" width="0.70" height="16.10" fill="#f0b040"/>
<rect x="253.60" y="842.60" width="0.70" height="16.10" fill="#e0e0a0"/>
<rect x="254.30" y="842.60" width="0.70" height="16.10" fill="#86cc80"/>
<rect x="255.00" y="842.60" width="2.60" height="16.10" fill="#c8a0a4"/>
<rect x="257.60" y="842.60" width="1.30" height="16.10" fill="#9cc8e8"/>
<rect x="258.90" y="842.60" width="1.30" height="16.10" fill="#86cc80"/>
<rect x="260.20" y="842.60" width="1.30" height="16.10" fill="#d8d8d8"/>
<rect x="261.50" y="842.60" width="2.60" height="16.10" fill="#6aa8e0"/>
<rect x="264.10" y="842.60" width="0.70" height="16.10" fill="#9cc8e8"/>
<rect x="264.80" y="842.60" width="0.70" height="16.10" fill="#f0b040"/>
<rect x="265.50" y="842.60" width="0.70" height="16.10" fill="#d8d8d8"/>
<rect x="266.20" y="842.60" width="2.00" height="16.10" fill="#f0b040"/>
<rect x="268.20" y="842.60" width="0.70" height="16.10" fill="#c8a0a4"/>
<rect x="268.90" y="842.60" width="2.00" height="16.10" fill="#9cc8e8"/>
<rect x="270.90" y="842.60" width="1.30" height="16.10" fill="#6aa8e0"/>
<rect x="272.20" y="842.60" width="1.30" height="16.10" fill="#f0b040"/>
<rect x="273.50" y="842.60" width="2.60" height="16.10" fill="#6aa8e0"/>
<rect x="276.10" y="842.60" width="1.30" height="16.10" fill="#6aa8e0"/>
<rect x="277.40" y="842.60" width="2.00" height="16.10" fill="#c8a0a4"/>
<rect x="279.40" y="842.60" width="2.60" height="16.10" fill="#6aa8e0"/>
<rect x="282.00" y="842.60" width="0.70" height="16.10" fill="#86cc80"/>
<rect x="282.70" y="842.60" width="2.60" height="16.10" fill="#c8a0a4"/>
<rect x="285.30" y="842.60" width="2.00" height="16.10" fill="#86cc80"/>
<rect x="287.30" y="842.60" width="0.70" height="16.10" fill="#c8a0a4"/>
<rect x="288.00" y="842.60" width="1.30" height="16.10" fill="#c8a0a4"/>
<rect x="289.30" y="842.60" width="0.70" height="16.10" fill="#f0b040"/>
<rect x="290.00" y="842.60" width="1.30" height="16.10" fill="#f0b040"/>
<rect x="291.30" y="842.60" width="0.70" height="16.10" fill="#c8a0a4"/>
<rect x="292.00" y="842.60" width="0.70" height="16.10" fill="#f0b040"/>
<rect x="292.70" y="842.60" width="2.60" height="16.10" fill="#f0b040"/>
<rect x="295.30" y="842.60" width="1.30" height="16.10" fill="#86cc80"/>
<rect x="296.60" y="842.60" width="0.70" height="16.10" fill="#6aa8e0"/>
<rect x="297.30" y="842.60" width="2.00" height="16.10" fill="#c8a0a4"/>
<rect x="299.30" y="842.60" width="0.70" height="16.10" fill="#f0b040"/>
<rect x="300.00" y="842.60" width="2.00" height="16.10" fill="#9cc8e8"/>
<rect x="302.00" y="842.60" width="0.70" height="16.10" fill="#f0b040"/>
<rect x="302.70" y="842.60" width="0.70" height="16.10" fill="#6aa8e0"/>
<rect x="303.40" y="842.60" width="2.60" height="16.10" fill="#6aa8e0"/>
<rect x="306.00" y="842.60" width="1.30" height="16.10" fill="#f0b040"/>
<rect x="307.30" y="842.60" width="0.70" height="16.10" fill="#c8a0a4"/>
<rect x="308.00" y="842.60" width="2.00" height="16.10" fill="#9cc8e8"/>
<rect x="310.00" y="842.60" width="2.60" height="16.10" fill="#f0b040"/>
<rect x="312.60" y="842.60" width="0.70" height="16.10" fill="#9cc8e8"/>
<rect x="313.30" y="842.60" width="0.70" height="16.10" fill="#6aa8e0"/>
<rect x="314.00" y="842.60" width="2.60" height="16.10" fill="#d8d8d8"/>
<rect x="316.60" y="842.60" width="0.70" height="16.10" fill="#86cc80"/>
<rect x="317.30" y="842.60" width="2.00" height="16.10" fill="#9cc8e8"/>
<rect x="319.30" y="842.60" width="0.70" height="16.10" fill="#f0b040"/>
<rect x="320.00" y="842.60" width="2.00" height="16.10" fill="#e0e0a0"/>
<rect x="322.00" y="842.60" width="0.70" height="16.10" fill="#86cc80"/>
<rect x="322.70" y="842.60" width="2.00" height="16.10" fill="#d8d8d8"/>
<rect x="324.70" y="842.60" width="1.30" height="16.10" fill="#f0b040"/>
<rect x="326.00" y="842.60" width="1.30" height="16.10" fill="#e0e0a0"/>
<rect x="327.30" y="842.60" width="2.00" height="16.10" fill="#6aa8e0"/>
<rect x="329.30" y="842.60" width="2.00" height="16.10" fill="#d8d8d8"/>
<rect x="331.30" y="842.60" width="0.70" height="16.10" fill="#f0b040"/>
<rect x="332.00" y="842.60" width="1.30" height="16.10" fill="#86cc80"/>
<rect x="333.30" y="842.60" width="1.30" height="16.10" fill="#6aa8e0"/>
<rect x="334.60" y="842.60" width="0.70" height="16.10" fill="#c8a0a4"/>
<rect x="335.30" y="842.60" width="1.20" height="16.10" fill="#86cc80"/>
<rect x="47.20" y="860.00" width="111.70" height="16.10" fill="#6db5a3"/>
<rect x="47.20" y="860.00" width="0.70" height="16.10" fill="#6db5a3"/>
<rect x="47.90" y="860.00" width="1.26" height="16.10" fill="#6db5a3"/>
<rect x="49.16" y="860.00" width="1.40" height="16.10" fill="#86c4b4"/>
<rect x="50.56" y="860.00" width="1.37" height="16.10" fill="#6db5a3"/>
<rect x="51.94" y="860.00" width="1.69" height="16.10" fill="#6db5a3"/>
<rect x="53.62" y="860.00" width="1.79" height="16.10" fill="#6db5a3"/>
<rect x="55.41" y="860.00" width="0.89" height="16.10" fill="#6db5a3"/>
<rect x="56.30" y="860.00" width="1.98" height="16.10" fill="#5aa894"/>
<rect x="58.28" y="860.00" width="1.94" height="16.10" fill="#6db5a3"/>
<rect x="60.22" y="860.00" width="1.88" height="16.10" fill="#6db5a3"/>
<rect x="62.10" y="860.00" width="0.85" height="16.10" fill="#6db5a3"/>
<rect x="62.94" y="860.00" width="0.95" height="16.10" fill="#6db5a3"/>
<rect x="63.90" y="860.00" width="0.97" height="16.10" fill="#86c4b4"/>
<rect x="64.87" y="860.00" width="1.40" height="16.10" fill="#6db5a3"/>
<rect x="66.27" y="860.00" width="1.53" height="16.10" fill="#6db5a3"/>
<rect x="67.80" y="860.00" width="1.71" height="16.10" fill="#5aa894"/>
<rect x="69.51" y="860.00" width="1.87" height="16.10" fill="#6db5a3"/>
<rect x="71.38" y="860.00" width="1.24" height="16.10" fill="#6db5a3"/>
<rect x="72.61" y="860.00" width="0.71" height="16.10" fill="#6db5a3"/>
<rect x="73.33" y="860.00" width="0.87" height="16.10" fill="#6db5a3"/>
<rect x="74.20" y="860.00" width="1.47" height="16.10" fill="#6db5a3"/>
<rect x="75.67" y="860.00" width="0.77" height="16.10" fill="#6db5a3"/>
<rect x="76.44" y="860.00" width="1.24" height="16.10" fill="#6db5a3"/>
<rect x="77.68" y="860.00" width="1.78" height="16.10" fill="#6db5a3"/>
<rect x="79.45" y="860.00" width="1.57" height="16.10" fill="#6db5a3"/>
<rect x="81.03" y="860.00" width="1.39" height="16.10" fill="#6db5a3"/>
<rect x="82.42" y="860.00" width="1.66" height="16.10" fill="#6db5a3"/>
<rect x="84.08" y="860.00" width="1.67" height="16.10" fill="#5aa894"/>
<rect x="85.74" y="860.00" width="1.11" height="16.10" fill="#6db5a3"/>
<rect x="86.85" y="860.00" width="1.85" height="16.10" fill="#5aa894"/>
<rect x="88.71" y="860.00" width="1.81" height="16.10" fill="#6db5a3"/>
<rect x="90.52" y="860.00" width="2.12" height="16.10" fill="#5aa894"/>
<rect x="92.64" y="860.00" width="1.28" height="16.10" fill="#5aa894"/>
<rect x="93.92" y="860.00" width="1.62" height="16.10" fill="#6db5a3"/>
<rect x="95.54" y="860.00" width="0.95" height="16.10" fill="#6db5a3"/>
<rect x="96.49" y="860.00" width="1.28" height="16.10" fill="#5aa894"/>
<rect x="97.77" y="860.00" width="1.72" height="16.10" fill="#6db5a3"/>
<rect x="99.50" y="860.00" width="0.94" height="16.10" fill="#6db5a3"/>
<rect x="100.44" y="860.00" width="1.83" height="16.10" fill="#6db5a3"/>
<rect x="102.27" y="860.00" width="1.84" height="16.10" fill="#6db5a3"/>
<rect x="104.11" y="860.00" width="1.17" height="16.10" fill="#6db5a3"/>
<rect x="105.28" y="860.00" width="0.64" height="16.10" fill="#6db5a3"/>
<rect x="105.92" y="860.00" width="1.69" height="16.10" fill="#6db5a3"/>
<rect x="107.61" y="860.00" width="1.08" height="16.10" fill="#6db5a3"/>
<rect x="108.69" y="860.00" width="0.74" height="16.10" fill="#6db5a3"/>
<rect x="109.43" y="860.00" width="1.73" height="16.10" fill="#5aa894"/>
<rect x="111.16" y="860.00" width="0.74" height="16.10" fill="#86c4b4"/>
<rect x="111.91" y="860.00" width="1.03" height="16.10" fill="#5aa894"/>
<rect x="112.94" y="860.00" width="0.90" height="16.10" fill="#6db5a3"/>
<rect x="113.84" y="860.00" width="1.68" height="16.10" fill="#6db5a3"/>
<rect x="115.52" y="860.00" width="1.29" height="16.10" fill="#6db5a3"/>
<rect x="116.81" y="860.00" width="1.10" height="16.10" fill="#6db5a3"/>
<rect x="117.91" y="860.00" width="0.87" height="16.10" fill="#5aa894"/>
<rect x="118.77" y="860.00" width="2.04" height="16.10" fill="#86c4b4"/>
<rect x="120.82" y="860.00" width="0.66" height="16.10" fill="#86c4b4"/>
<rect x="121.48" y="860.00" width="0.92" height="16.10" fill="#6db5a3"/>
<rect x="122.39" y="860.00" width="1.66" height="16.10" fill="#5aa894"/>
<rect x="124.06" y="860.00" width="1.03" height="16.10" fill="#5aa894"/>
<rect x="125.09" y="860.00" width="2.16" height="16.10" fill="#86c4b4"/>
<rect x="127.25" y="860.00" width="1.61" height="16.10" fill="#86c4b4"/>
<rect x="128.86" y="860.00" width="1.83" height="16.10" fill="#6db5a3"/>
<rect x="130.69" y="860.00" width="1.20" height="16.10" fill="#6db5a3"/>
<rect x="131.89" y="860.00" width="1.35" height="16.10" fill="#6db5a3"/>
<rect x="133.24" y="860.00" width="1.22" height="16.10" fill="#6db5a3"/>
<rect x="134.46" y="860.00" width="1.74" height="16.10" fill="#6db5a3"/>
<rect x="136.21" y="860.00" width="0.66" height="16.10" fill="#6db5a3"/>
<rect x="136.86" y="860.00" width="1.83" height="16.10" fill="#86c4b4"/>
<rect x="138.69" y="860.00" width="0.94" height="16.10" fill="#6db5a3"/>
<rect x="139.63" y="860.00" width="0.83" height="16.10" fill="#86c4b4"/>
<rect x="140.46" y="860.00" width="1.64" height="16.10" fill="#6db5a3"/>
<rect x="142.10" y="860.00" width="1.18" height="16.10" fill="#6db5a3"/>
<rect x="143.28" y="860.00" width="1.82" height="16.10" fill="#6db5a3"/>
<rect x="145.10" y="860.00" width="2.15" height="16.10" fill="#5aa894"/>
<rect x="147.25" y="860.00" width="1.88" height="16.10" fill="#5aa894"/>
<rect x="149.13" y="860.00" width="0.87" height="16.10" fill="#6db5a3"/>
<rect x="150.00" y="860.00" width="1.46" height="16.10" fill="#6db5a3"/>
<rect x="151.46" y="860.00" width="1.95" height="16.10" fill="#6db5a3"/>
<rect x="153.41" y="860.00" width="2.18" height="16.10" fill="#5aa894"/>
<rect x="155.59" y="860.00" width="1.31" height="16.10" fill="#5aa894"/>
<rect x="156.90" y="860.00" width="1.30" height="16.10" fill="#86c4b4"/>
<rect x="158.20" y="860.00" width="0.70" height="16.10" fill="#5aa894"/>
<rect x="48.50" y="860.00" width="9.60" height="16.10" fill="#4f9a86"/>
<rect x="80.00" y="860.00" width="8.80" height="16.10" fill="#4f9a86"/>
<rect x="116.80" y="860.00" width="5.30" height="16.10" fill="#4f9a86"/>
<rect x="128.20" y="860.00" width="2.60" height="16.10" fill="#4f9a86"/>
<rect x="145.70" y="860.00" width="1.70" height="16.10" fill="#4f9a86"/>
<rect x="160.70" y="860.00" width="175.80" height="16.10" fill="#6db5a3"/>
<rect x="160.70" y="860.00" width="0.81" height="16.10" fill="#6db5a3"/>
<rect x="161.51" y="860.00" width="0.99" height="16.10" fill="#6db5a3"/>
<rect x="162.50" y="860.00" width="1.30" height="16.10" fill="#6db5a3"/>
<rect x="163.80" y="860.00" width="1.71" height="16.10" fill="#6db5a3"/>
<rect x="165.51" y="860.00" width="0.66" height="16.10" fill="#6db5a3"/>
<rect x="166.17" y="860.00" width="1.05" height="16.10" fill="#86c4b4"/>
<rect x="167.23" y="860.00" width="1.77" height="16.10" fill="#86c4b4"/>
<rect x="168.99" y="860.00" width="1.60" height="16.10" fill="#6db5a3"/>
<rect x="170.59" y="860.00" width="0.89" height="16.10" fill="#86c4b4"/>
<rect x="171.48" y="860.00" width="1.13" height="16.10" fill="#6db5a3"/>
<rect x="172.61" y="860.00" width="2.00" height="16.10" fill="#6db5a3"/>
<rect x="174.61" y="860.00" width="1.31" height="16.10" fill="#86c4b4"/>
<rect x="175.92" y="860.00" width="2.07" height="16.10" fill="#6db5a3"/>
<rect x="177.99" y="860.00" width="1.70" height="16.10" fill="#6db5a3"/>
<rect x="179.69" y="860.00" width="1.39" height="16.10" fill="#6db5a3"/>
<rect x="181.08" y="860.00" width="1.69" height="16.10" fill="#86c4b4"/>
<rect x="182.78" y="860.00" width="1.96" height="16.10" fill="#6db5a3"/>
<rect x="184.74" y="860.00" width="1.53" height="16.10" fill="#6db5a3"/>
<rect x="186.27" y="860.00" width="1.89" height="16.10" fill="#6db5a3"/>
<rect x="188.17" y="860.00" width="0.99" height="16.10" fill="#6db5a3"/>
<rect x="189.15" y="860.00" width="1.52" height="16.10" fill="#5aa894"/>
<rect x="190.67" y="860.00" width="0.67" height="16.10" fill="#6db5a3"/>
<rect x="191.35" y="860.00" width="1.28" height="16.10" fill="#6db5a3"/>
<rect x="192.63" y="860.00" width="1.78" height="16.10" fill="#6db5a3"/>
<rect x="194.41" y="860.00" width="2.18" height="16.10" fill="#6db5a3"/>
<rect x="196.59" y="860.00" width="0.83" height="16.10" fill="#6db5a3"/>
<rect x="197.42" y="860.00" width="0.68" height="16.10" fill="#6db5a3"/>
<rect x="198.10" y="860.00" width="1.43" height="16.10" fill="#6db5a3"/>
<rect x="199.52" y="860.00" width="2.12" height="16.10" fill="#6db5a3"/>
<rect x="201.65" y="860.00" width="1.14" height="16.10" fill="#6db5a3"/>
<rect x="202.78" y="860.00" width="0.82" height="16.10" fill="#6db5a3"/>
<rect x="203.61" y="860.00" width="0.96" height="16.10" fill="#6db5a3"/>
<rect x="204.56" y="860.00" width="0.76" height="16.10" fill="#5aa894"/>
<rect x="205.33" y="860.00" width="0.93" height="16.10" fill="#5aa894"/>
<rect x="206.25" y="860.00" width="1.14" height="16.10" fill="#6db5a3"/>
<rect x="207.39" y="860.00" width="1.62" height="16.10" fill="#6db5a3"/>
<rect x="209.02" y="860.00" width="1.10" height="16.10" fill="#6db5a3"/>
<rect x="210.12" y="860.00" width="0.92" height="16.10" fill="#5aa894"/>
<rect x="211.04" y="860.00" width="1.97" height="16.10" fill="#5aa894"/>
<rect x="213.01" y="860.00" width="1.91" height="16.10" fill="#6db5a3"/>
<rect x="214.92" y="860.00" width="1.49" height="16.10" fill="#6db5a3"/>
<rect x="216.41" y="860.00" width="1.91" height="16.10" fill="#6db5a3"/>
<rect x="218.32" y="860.00" width="1.75" height="16.10" fill="#6db5a3"/>
<rect x="220.07" y="860.00" width="1.03" height="16.10" fill="#6db5a3"/>
<rect x="221.10" y="860.00" width="1.46" height="16.10" fill="#6db5a3"/>
<rect x="222.56" y="860.00" width="0.81" height="16.10" fill="#6db5a3"/>
<rect x="223.37" y="860.00" width="2.10" height="16.10" fill="#6db5a3"/>
<rect x="225.47" y="860.00" width="2.13" height="16.10" fill="#6db5a3"/>
<rect x="227.59" y="860.00" width="1.58" height="16.10" fill="#6db5a3"/>
<rect x="229.17" y="860.00" width="1.90" height="16.10" fill="#6db5a3"/>
<rect x="231.08" y="860.00" width="1.34" height="16.10" fill="#6db5a3"/>
<rect x="232.41" y="860.00" width="0.93" height="16.10" fill="#5aa894"/>
<rect x="233.35" y="860.00" width="1.78" height="16.10" fill="#6db5a3"/>
<rect x="235.13" y="860.00" width="1.79" height="16.10" fill="#6db5a3"/>
<rect x="236.92" y="860.00" width="0.94" height="16.10" fill="#5aa894"/>
<rect x="237.85" y="860.00" width="1.98" height="16.10" fill="#6db5a3"/>
<rect x="239.83" y="860.00" width="2.06" height="16.10" fill="#6db5a3"/>
<rect x="241.89" y="860.00" width="1.52" height="16.10" fill="#6db5a3"/>
<rect x="243.41" y="860.00" width="1.29" height="16.10" fill="#6db5a3"/>
<rect x="244.71" y="860.00" width="1.46" height="16.10" fill="#5aa894"/>
<rect x="246.16" y="860.00" width="1.35" height="16.10" fill="#6db5a3"/>
<rect x="247.51" y="860.00" width="0.99" height="16.10" fill="#6db5a3"/>
<rect x="248.50" y="860.00" width="1.45" height="16.10" fill="#6db5a3"/>
<rect x="249.95" y="860.00" width="0.99" height="16.10" fill="#6db5a3"/>
<rect x="250.94" y="860.00" width="1.29" height="16.10" fill="#6db5a3"/>
<rect x="252.23" y="860.00" width="1.19" height="16.10" fill="#86c4b4"/>
<rect x="253.42" y="860.00" width="1.88" height="16.10" fill="#6db5a3"/>
<rect x="255.30" y="860.00" width="1.46" height="16.10" fill="#86c4b4"/>
<rect x="256.75" y="860.00" width="1.26" height="16.10" fill="#6db5a3"/>
<rect x="258.02" y="860.00" width="2.01" height="16.10" fill="#5aa894"/>
<rect x="260.02" y="860.00" width="1.70" height="16.10" fill="#6db5a3"/>
<rect x="261.73" y="860.00" width="1.46" height="16.10" fill="#6db5a3"/>
<rect x="263.19" y="860.00" width="1.07" height="16.10" fill="#86c4b4"/>
<rect x="264.26" y="860.00" width="1.78" height="16.10" fill="#6db5a3"/>
<rect x="266.04" y="860.00" width="0.78" height="16.10" fill="#5aa894"/>
<rect x="266.82" y="860.00" width="2.16" height="16.10" fill="#86c4b4"/>
<rect x="268.98" y="860.00" width="1.34" height="16.10" fill="#6db5a3"/>
<rect x="270.32" y="860.00" width="0.73" height="16.10" fill="#6db5a3"/>
<rect x="271.06" y="860.00" width="0.65" height="16.10" fill="#6db5a3"/>
<rect x="271.70" y="860.00" width="1.86" height="16.10" fill="#5aa894"/>
<rect x="273.57" y="860.00" width="0.94" height="16.10" fill="#6db5a3"/>
<rect x="274.50" y="860.00" width="1.92" height="16.10" fill="#86c4b4"/>
<rect x="276.42" y="860.00" width="0.68" height="16.10" fill="#86c4b4"/>
<rect x="277.10" y="860.00" width="1.49" height="16.10" fill="#6db5a3"/>
<rect x="278.59" y="860.00" width="1.48" height="16.10" fill="#6db5a3"/>
<rect x="280.07" y="860.00" width="1.71" height="16.10" fill="#6db5a3"/>
<rect x="281.78" y="860.00" width="0.72" height="16.10" fill="#5aa894"/>
<rect x="282.50" y="860.00" width="1.99" height="16.10" fill="#5aa894"/>
<rect x="284.49" y="860.00" width="1.35" height="16.10" fill="#6db5a3"/>
<rect x="285.84" y="860.00" width="1.47" height="16.10" fill="#6db5a3"/>
<rect x="287.31" y="860.00" width="1.82" height="16.10" fill="#6db5a3"/>
<rect x="289.14" y="860.00" width="1.60" height="16.10" fill="#6db5a3"/>
<rect x="290.74" y="860.00" width="0.73" height="16.10" fill="#5aa894"/>
<rect x="291.47" y="860.00" width="1.45" height="16.10" fill="#86c4b4"/>
<rect x="292.92" y="860.00" width="0.73" height="16.10" fill="#5aa894"/>
<rect x="293.65" y="860.00" width="1.40" height="16.10" fill="#6db5a3"/>
<rect x="295.05" y="860.00" width="2.15" height="16.10" fill="#6db5a3"/>
<rect x="297.20" y="860.00" width="0.95" height="16.10" fill="#5aa894"/>
<rect x="298.16" y="860.00" width="1.55" height="16.10" fill="#5aa894"/>
<rect x="299.71" y="860.00" width="1.46" height="16.10" fill="#5aa894"/>
<rect x="301.17" y="860.00" width="1.54" height="16.10" fill="#5aa894"/>
<rect x="302.71" y="860.00" width="0.92" height="16.10" fill="#6db5a3"/>
<rect x="303.64" y="860.00" width="1.89" height="16.10" fill="#86c4b4"/>
<rect x="305.53" y="860.00" width="1.91" height="16.10" fill="#6db5a3"/>
<rect x="307.44" y="860.00" width="1.06" height="16.10" fill="#6db5a3"/>
<rect x="308.50" y="860.00" width="0.85" height="16.10" fill="#6db5a3"/>
<rect x="309.34" y="860.00" width="1.52" height="16.10" fill="#6db5a3"/>
<rect x="310.87" y="860.00" width="0.95" height="16.10" fill="#5aa894"/>
<rect x="311.82" y="860.00" width="2.13" height="16.10" fill="#6db5a3"/>
<rect x="313.95" y="860.00" width="0.82" height="16.10" fill="#5aa894"/>
<rect x="314.77" y="860.00" width="1.43" height="16.10" fill="#6db5a3"/>
<rect x="316.20" y="860.00" width="1.39" height="16.10" fill="#5aa894"/>
<rect x="317.59" y="860.00" width="1.40" height="16.10" fill="#6db5a3"/>
<rect x="318.99" y="860.00" width="1.41" height="16.10" fill="#86c4b4"/>
<rect x="320.41" y="860.00" width="0.75" height="16.10" fill="#86c4b4"/>
<rect x="321.16" y="860.00" width="0.89" height="16.10" fill="#6db5a3"/>
<rect x="322.05" y="860.00" width="1.05" height="16.10" fill="#6db5a3"/>
<rect x="323.10" y="860.00" width="2.17" height="16.10" fill="#86c4b4"/>
<rect x="325.27" y="860.00" width="1.18" height="16.10" fill="#6db5a3"/>
<rect x="326.45" y="860.00" width="1.48" height="16.10" fill="#6db5a3"/>
<rect x="327.93" y="860.00" width="1.65" height="16.10" fill="#6db5a3"/>
<rect x="329.58" y="860.00" width="1.24" height="16.10" fill="#6db5a3"/>
<rect x="330.82" y="860.00" width="0.81" height="16.10" fill="#6db5a3"/>
<rect x="331.63" y="860.00" width="1.61" height="16.10" fill="#6db5a3"/>
<rect x="333.24" y="860.00" width="1.15" height="16.10" fill="#5aa894"/>
<rect x="334.40" y="860.00" width="1.38" height="16.10" fill="#5aa894"/>
<rect x="335.78" y="860.00" width="0.66" height="16.10" fill="#6db5a3"/>
<rect x="336.44" y="860.00" width="0.06" height="16.10" fill="#86c4b4"/>
<rect x="168.50" y="860.00" width="12.30" height="16.10" fill="#4f9a86"/>
<rect x="200.00" y="860.00" width="3.00" height="16.10" fill="#4f9a86"/>
<rect x="258.00" y="860.00" width="4.00" height="16.10" fill="#4f9a86"/>
<rect x="300.00" y="860.00" width="3.00" height="16.10" fill="#4f9a86"/>
<rect x="322.00" y="860.00" width="8.00" height="16.10" fill="#4f9a86"/>
<rect x="206.20" y="860.00" width="0.70" height="16.10" fill="#ffffff" fill-opacity="0.8"/>
<rect x="226.80" y="860.00" width="0.70" height="16.10" fill="#ffffff" fill-opacity="0.8"/>
<rect x="255.60" y="860.00" width="0.70" height="16.10" fill="#ffffff" fill-opacity="0.8"/>
<rect x="47.20" y="877.40" width="111.70" height="16.10" fill="#e2daf6"/>
<rect x="46.80" y="877.40" width="2.10" height="16.10" fill="#ac92e2"/>
<rect x="49.90" y="877.40" width="3.90" height="16.10" fill="#c4b0ea"/>
<rect x="59.90" y="877.40" width="21.00" height="16.10" fill="#ac92e2"/>
<rect x="81.80" y="877.40" width="9.60" height="16.10" fill="#ac92e2"/>
<rect x="94.90" y="877.40" width="21.90" height="16.10" fill="#ac92e2"/>
<rect x="116.80" y="877.40" width="5.30" height="16.10" fill="#a488de"/>
<rect x="129.10" y="877.40" width="16.60" height="16.10" fill="#ac92e2"/>
<rect x="153.60" y="877.40" width="5.30" height="16.10" fill="#ac92e2"/>
<rect x="160.70" y="877.40" width="175.80" height="16.10" fill="#e2daf6"/>
<rect x="162.00" y="877.40" width="1.00" height="16.10" fill="#ac92e2"/>
<rect x="165.00" y="877.40" width="1.80" height="16.10" fill="#ac92e2"/>
<rect x="167.60" y="877.40" width="0.90" height="16.10" fill="#ac92e2"/>
<rect x="169.40" y="877.40" width="1.20" height="16.10" fill="#ac92e2"/>
<rect x="180.80" y="877.40" width="7.90" height="16.10" fill="#ac92e2"/>
<rect x="189.50" y="877.40" width="13.20" height="16.10" fill="#ac92e2"/>
<rect x="206.20" y="877.40" width="20.10" height="16.10" fill="#ac92e2"/>
<rect x="227.70" y="877.40" width="27.50" height="16.10" fill="#ac92e2"/>
<rect x="256.10" y="877.40" width="5.30" height="16.10" fill="#ac92e2"/>
<rect x="277.00" y="877.40" width="41.70" height="16.10" fill="#ac92e2"/>
<rect x="324.80" y="877.40" width="11.70" height="16.10" fill="#ac92e2"/>
<rect x="80.90" y="877.40" width="0.80" height="16.10" fill="#ffffff" fill-opacity="0.85"/>
<rect x="226.30" y="877.40" width="0.80" height="16.10" fill="#ffffff" fill-opacity="0.85"/>
<rect x="255.20" y="877.40" width="0.80" height="16.10" fill="#ffffff" fill-opacity="0.85"/>
<rect x="47.20" y="894.90" width="111.70" height="16.10" fill="#d2effa"/>
<rect x="52.90" y="894.90" width="2.60" height="16.10" fill="#92dcf5"/>
<rect x="59.90" y="894.90" width="3.50" height="16.10" fill="#92dcf5"/>
<rect x="65.10" y="894.90" width="7.90" height="16.10" fill="#92dcf5"/>
<rect x="78.30" y="894.90" width="1.70" height="16.10" fill="#92dcf5"/>
<rect x="81.80" y="894.90" width="4.40" height="16.10" fill="#92dcf5"/>
<rect x="91.40" y="894.90" width="25.40" height="16.10" fill="#92dcf5"/>
<rect x="118.50" y="894.90" width="5.30" height="16.10" fill="#92dcf5"/>
<rect x="129.10" y="894.90" width="15.80" height="16.10" fill="#92dcf5"/>
<rect x="147.50" y="894.90" width="10.50" height="16.10" fill="#92dcf5"/>
<rect x="160.70" y="894.90" width="175.80" height="16.10" fill="#d2effa"/>
<rect x="163.00" y="894.90" width="1.50" height="16.10" fill="#92dcf5"/>
<rect x="166.80" y="894.90" width="7.00" height="16.10" fill="#92dcf5"/>
<rect x="179.90" y="894.90" width="7.90" height="16.10" fill="#92dcf5"/>
<rect x="189.50" y="894.90" width="12.30" height="16.10" fill="#92dcf5"/>
<rect x="206.20" y="894.90" width="16.60" height="16.10" fill="#92dcf5"/>
<rect x="228.00" y="894.90" width="24.60" height="16.10" fill="#92dcf5"/>
<rect x="263.00" y="894.90" width="12.40" height="16.10" fill="#92dcf5"/>
<rect x="280.00" y="894.90" width="20.00" height="16.10" fill="#92dcf5"/>
<rect x="303.00" y="894.90" width="15.00" height="16.10" fill="#92dcf5"/>
<rect x="322.00" y="894.90" width="14.50" height="16.10" fill="#92dcf5"/>
<rect x="90.25" y="894.90" width="0.87" height="16.10" fill="#e4f6fc"/>
<rect x="74.99" y="894.90" width="1.01" height="16.10" fill="#e4f6fc"/>
<rect x="99.61" y="894.90" width="0.62" height="16.10" fill="#e4f6fc"/>
<rect x="102.84" y="894.90" width="1.01" height="16.10" fill="#e4f6fc"/>
<rect x="126.92" y="894.90" width="0.86" height="16.10" fill="#e4f6fc"/>
<rect x="134.59" y="894.90" width="1.01" height="16.10" fill="#e4f6fc"/>
<rect x="139.32" y="894.90" width="0.86" height="16.10" fill="#e4f6fc"/>
<rect x="82.09" y="894.90" width="0.65" height="16.10" fill="#e4f6fc"/>
<rect x="87.34" y="894.90" width="0.66" height="16.10" fill="#e4f6fc"/>
<rect x="123.82" y="894.90" width="0.51" height="16.10" fill="#e4f6fc"/>
<rect x="64.32" y="894.90" width="0.61" height="16.10" fill="#e4f6fc"/>
<rect x="154.59" y="894.90" width="1.09" height="16.10" fill="#e4f6fc"/>
<rect x="48.41" y="894.90" width="0.64" height="16.10" fill="#e4f6fc"/>
<rect x="122.01" y="894.90" width="0.79" height="16.10" fill="#e4f6fc"/>
<rect x="280.97" y="894.90" width="0.95" height="16.10" fill="#e4f6fc"/>
<rect x="302.38" y="894.90" width="0.54" height="16.10" fill="#e4f6fc"/>
<rect x="233.48" y="894.90" width="0.84" height="16.10" fill="#e4f6fc"/>
<rect x="241.89" y="894.90" width="1.09" height="16.10" fill="#e4f6fc"/>
<rect x="276.90" y="894.90" width="0.62" height="16.10" fill="#e4f6fc"/>
<rect x="231.66" y="894.90" width="1.10" height="16.10" fill="#e4f6fc"/>
<rect x="296.87" y="894.90" width="0.52" height="16.10" fill="#e4f6fc"/>
<rect x="164.76" y="894.90" width="0.92" height="16.10" fill="#e4f6fc"/>
<rect x="319.96" y="894.90" width="0.74" height="16.10" fill="#e4f6fc"/>
<rect x="187.85" y="894.90" width="0.84" height="16.10" fill="#e4f6fc"/>
<rect x="264.04" y="894.90" width="1.08" height="16.10" fill="#e4f6fc"/>
<rect x="182.53" y="894.90" width="0.55" height="16.10" fill="#e4f6fc"/>
<rect x="321.38" y="894.90" width="1.18" height="16.10" fill="#e4f6fc"/>
<rect x="286.73" y="894.90" width="0.60" height="16.10" fill="#e4f6fc"/>
<rect x="47.20" y="912.30" width="111.70" height="16.10" fill="#f2c8d0"/>
<rect x="47.20" y="912.30" width="44.60" height="16.10" fill="#e493b4"/>
<rect x="160.70" y="912.30" width="175.80" height="16.10" fill="#f2c8d0"/>
<rect x="160.70" y="912.30" width="72.50" height="16.10" fill="#e493b4"/>
<defs><pattern id="colp" x="0" y="0" width="1.62" height="10" patternUnits="userSpaceOnUse"><rect x="0" y="0" width="0.35" height="10" fill="#ffffff" fill-opacity="0.35"/></pattern></defs>
<rect x="47.20" y="742.50" width="111.70" height="8.80" fill="url(#colp)"/>
<rect x="160.70" y="742.50" width="175.80" height="8.80" fill="url(#colp)"/>
<rect x="47.20" y="753.70" width="111.70" height="16.10" fill="url(#colp)"/>
<rect x="160.70" y="753.70" width="175.80" height="16.10" fill="url(#colp)"/>
<rect x="47.20" y="771.20" width="111.70" height="16.10" fill="url(#colp)"/>
<rect x="160.70" y="771.20" width="175.80" height="16.10" fill="url(#colp)"/>
<rect x="47.20" y="788.80" width="111.70" height="16.10" fill="url(#colp)"/>
<rect x="160.70" y="788.80" width="175.80" height="16.10" fill="url(#colp)"/>
<rect x="47.20" y="807.90" width="111.70" height="16.10" fill="url(#colp)"/>
<rect x="160.70" y="807.90" width="175.80" height="16.10" fill="url(#colp)"/>
<rect x="47.20" y="825.30" width="111.70" height="16.10" fill="url(#colp)"/>
<rect x="160.70" y="825.30" width="175.80" height="16.10" fill="url(#colp)"/>
<rect x="47.20" y="842.60" width="111.70" height="16.10" fill="url(#colp)"/>
<rect x="160.70" y="842.60" width="175.80" height="16.10" fill="url(#colp)"/>
<rect x="47.20" y="860.00" width="111.70" height="16.10" fill="url(#colp)"/>
<rect x="160.70" y="860.00" width="175.80" height="16.10" fill="url(#colp)"/>
<rect x="47.20" y="877.40" width="111.70" height="16.10" fill="url(#colp)"/>
<rect x="160.70" y="877.40" width="175.80" height="16.10" fill="url(#colp)"/>
<rect x="47.20" y="894.90" width="111.70" height="16.10" fill="url(#colp)"/>
<rect x="160.70" y="894.90" width="175.80" height="16.10" fill="url(#colp)"/>
<rect x="47.20" y="912.30" width="111.70" height="16.10" fill="url(#colp)"/>
<rect x="160.70" y="912.30" width="175.80" height="16.10" fill="url(#colp)"/>
<text x="45.30" y="758.40" font-size="7" font-weight="bold" text-anchor="end" fill="#111">Tumor</text>
<text x="45.30" y="765.80" font-size="7" font-weight="bold" text-anchor="end" fill="#111">scRNA-seq</text>
<text x="45.30" y="776.60" font-size="7" font-weight="bold" text-anchor="end" fill="#111">NBT</text>
<text x="45.30" y="784.00" font-size="7" font-weight="bold" text-anchor="end" fill="#111">scRNA-seq</text>
<text x="45.30" y="798.10" font-size="7" font-weight="bold" text-anchor="end" fill="#111">16S rRNA</text>
<text x="45.30" y="818.60" font-size="7" font-weight="bold" text-anchor="end" fill="#111">Recurrence</text>
<text x="45.30" y="836.00" font-size="7" font-weight="bold" text-anchor="end" fill="#111">Location</text>
<text x="45.30" y="853.40" font-size="7" font-weight="bold" text-anchor="end" fill="#111">CMS</text>
<text x="45.30" y="870.60" font-size="7" font-weight="bold" text-anchor="end" fill="#111">MSI status</text>
<text x="45.30" y="887.80" font-size="7" font-weight="bold" text-anchor="end" fill="#111">TNM</text>
<text x="45.30" y="905.00" font-size="7" font-weight="bold" text-anchor="end" fill="#111">Adj chemo</text>
<text x="45.30" y="922.30" font-size="7" font-weight="bold" text-anchor="end" fill="#111">Cohort</text>
<text x="342.00" y="755.30" font-size="6.95" font-weight="bold" fill="#111">Tumor scRNA–seq</text>
<rect x="342.00" y="759.20" width="7.90" height="7.70" fill="#4a64dc"/>
<text x="352.10" y="765.80" font-size="6.95" fill="#222">Available sample</text>
<rect x="407.90" y="759.20" width="7.90" height="7.70" fill="#b4d0e6"/>
<text x="418.20" y="765.80" font-size="6.95" fill="#222">No sample</text>
<text x="342.00" y="777.40" font-size="6.95" font-weight="bold" fill="#111">NBT scRNA-seq</text>
<rect x="342.00" y="781.60" width="7.90" height="7.70" fill="#ee7a76"/>
<text x="352.10" y="787.70" font-size="6.95" fill="#222">Available sample</text>
<rect x="407.90" y="781.60" width="7.90" height="7.70" fill="#f2b8b8"/>
<text x="418.20" y="787.70" font-size="6.95" fill="#222">No sample</text>
<text x="342.00" y="798.60" font-size="6.95" font-weight="bold" fill="#111">16S rRNA</text>
<rect x="342.00" y="803.00" width="7.90" height="7.70" fill="#eaae4a"/>
<text x="352.10" y="809.60" font-size="6.95" fill="#222">Available sample</text>
<rect x="407.90" y="803.00" width="7.90" height="7.70" fill="#f3e08c"/>
<text x="418.20" y="809.60" font-size="6.95" fill="#222">No sample</text>
<text x="342.00" y="819.90" font-size="6.95" font-weight="bold" fill="#111">Recurrence</text>
<text x="428.70" y="819.90" font-size="6.95" font-weight="bold" fill="#111">Location</text>
<rect x="342.00" y="824.30" width="7.90" height="7.70" fill="#78c04c"/>
<text x="352.10" y="830.90" font-size="6.95" fill="#222">Recur</text>
<rect x="374.40" y="824.30" width="7.90" height="7.70" fill="#c6ecae"/>
<text x="384.90" y="830.90" font-size="6.95" fill="#222">Non Recur</text>
<rect x="428.70" y="824.30" width="7.90" height="7.70" fill="#dcd2ce"/>
<text x="438.40" y="830.90" font-size="6.95" fill="#222">Rt</text>
<rect x="449.30" y="824.30" width="7.90" height="7.70" fill="#9a7a70"/>
<text x="459.40" y="830.90" font-size="6.95" fill="#222">Lt</text>
<text x="342.00" y="840.60" font-size="6.95" font-weight="bold" fill="#111">CMS</text>
<rect x="342.00" y="846.00" width="7.90" height="7.70" fill="#f0a028"/>
<text x="352.10" y="851.90" font-size="6.95" fill="#222">CMS1</text>
<rect x="376.00" y="846.00" width="7.90" height="7.70" fill="#c09092"/>
<text x="384.90" y="851.90" font-size="6.95" fill="#222">CMS3</text>
<rect x="409.40" y="846.00" width="7.90" height="7.70" fill="#d4d4d4"/>
<text x="418.60" y="851.90" font-size="6.95" fill="#222">Not classified</text>
<rect x="342.00" y="854.00" width="7.90" height="7.70" fill="#4a92dc"/>
<text x="352.10" y="859.90" font-size="6.95" fill="#222">CMS2</text>
<rect x="376.00" y="854.00" width="7.90" height="7.70" fill="#6cc86a"/>
<text x="384.90" y="859.90" font-size="6.95" fill="#222">CMS4</text>
<text x="342.00" y="870.70" font-size="6.95" font-weight="bold" fill="#111">MSI status</text>
<rect x="342.00" y="874.40" width="7.90" height="7.70" fill="#5aa896"/>
<text x="352.10" y="881.00" font-size="6.95" fill="#222">MSI−L/ MSS</text>
<rect x="395.20" y="874.40" width="7.90" height="7.70" fill="#2a6e5e"/>
<text x="405.50" y="881.00" font-size="6.95" fill="#222">MSI−H</text>
<rect x="431.30" y="874.40" width="7.90" height="7.70" fill="#d4d4d4"/>
<text x="441.20" y="881.00" font-size="6.95" fill="#222">Unknown</text>
<text x="342.00" y="891.50" font-size="6.95" font-weight="bold" fill="#111">TNM Stage</text>
<text x="389.70" y="891.50" font-size="6.95" font-weight="bold" fill="#111">Adjuvant chemotherapy</text>
<rect x="342.00" y="896.30" width="7.90" height="7.70" fill="#d8ccf2"/>
<text x="352.10" y="902.40" font-size="6.95" fill="#222">II</text>
<rect x="359.50" y="896.30" width="7.90" height="7.70" fill="#9672dc"/>
<text x="369.60" y="902.40" font-size="6.95" fill="#222">III</text>
<rect x="389.30" y="896.30" width="7.90" height="7.70" fill="#6ccaf0"/>
<text x="399.20" y="902.40" font-size="6.95" fill="#222">Yes</text>
<rect x="414.30" y="896.30" width="7.90" height="7.70" fill="#c6e8f8"/>
<text x="424.30" y="902.40" font-size="6.95" fill="#222">No</text>
<rect x="437.30" y="896.30" width="7.90" height="7.70" fill="#d4d4d4"/>
<text x="447.80" y="902.40" font-size="6.95" fill="#222">Unknown</text>
<text x="342.00" y="914.30" font-size="6.95" font-weight="bold" fill="#111">Cohort</text>
<rect x="342.00" y="918.20" width="7.90" height="7.70" fill="#d8609a"/>
<text x="352.10" y="924.80" font-size="6.95" fill="#222">SMC</text>
<rect x="371.10" y="918.20" width="7.90" height="7.70" fill="#f0b8c0"/>
<text x="381.00" y="924.80" font-size="6.95" fill="#222">Others</text>
<text x="463.00" y="718.80" font-size="16.5" font-weight="bold">i</text>
<line x1="483.25" y1="738.40" x2="483.25" y2="910.40" stroke="#ececec" stroke-width="0.45"/>
<line x1="503.20" y1="738.40" x2="503.20" y2="910.40" stroke="#ececec" stroke-width="0.6"/>
<line x1="523.15" y1="738.40" x2="523.15" y2="910.40" stroke="#ececec" stroke-width="0.45"/>
<line x1="543.10" y1="738.40" x2="543.10" y2="910.40" stroke="#ececec" stroke-width="0.6"/>
<line x1="563.05" y1="738.40" x2="563.05" y2="910.40" stroke="#ececec" stroke-width="0.45"/>
<line x1="583.00" y1="738.40" x2="583.00" y2="910.40" stroke="#ececec" stroke-width="0.6"/>
<line x1="602.95" y1="738.40" x2="602.95" y2="910.40" stroke="#ececec" stroke-width="0.45"/>
<line x1="622.90" y1="738.40" x2="622.90" y2="910.40" stroke="#ececec" stroke-width="0.6"/>
<line x1="642.85" y1="738.40" x2="642.85" y2="910.40" stroke="#ececec" stroke-width="0.45"/>
<line x1="662.80" y1="738.40" x2="662.80" y2="910.40" stroke="#ececec" stroke-width="0.6"/>
<path d="M488.8 832.8C490.7 832.2 496.8 832.3 500.0 829.5C503.2 826.7 505.5 822.2 508.0 816.0C510.5 809.8 512.7 800.0 514.9 792.0C517.1 784.0 518.9 774.1 521.0 768.0C523.1 761.9 525.9 756.8 527.7 755.3C529.5 753.8 530.6 756.5 532.0 759.0C533.4 761.5 534.6 766.7 536.3 770.0C538.0 773.3 540.0 776.5 542.0 779.0C544.0 781.5 546.4 782.3 548.6 785.0C550.8 787.7 553.0 791.7 555.0 795.0C557.0 798.3 558.8 801.7 560.8 805.0C562.8 808.3 565.0 812.2 567.0 815.0C569.0 817.8 570.9 820.0 573.1 821.8C575.3 823.6 577.5 824.9 580.0 826.0C582.5 827.1 585.0 827.8 588.0 828.5C591.0 829.2 595.0 830.2 598.0 830.2C601.0 830.2 603.2 829.0 606.0 828.5C608.8 828.0 612.1 826.8 614.8 827.0C617.5 827.2 619.5 828.9 622.0 829.5C624.5 830.1 627.5 830.7 630.0 830.5C632.5 830.3 634.6 829.1 637.0 828.5C639.4 827.9 642.1 826.9 644.6 827.0C647.1 827.1 649.4 828.2 652.0 829.0C654.6 829.8 656.8 830.9 660.0 831.5C663.2 832.1 669.3 832.6 671.2 832.8Z" fill="#2424b4" fill-opacity="0.5"/>
<path d="M488.8 832.8C490.7 832.4 496.8 832.5 500.0 830.5C503.2 828.5 505.5 825.9 508.0 821.0C510.5 816.1 512.6 808.3 514.9 801.0C517.2 793.7 519.8 783.7 522.0 777.0C524.2 770.3 526.0 764.5 528.0 761.0C530.0 757.5 532.2 755.7 533.9 755.9C535.6 756.1 536.6 759.2 538.0 762.0C539.4 764.8 540.9 770.0 542.4 772.8C543.9 775.5 545.5 777.0 547.0 778.5C548.5 780.0 550.2 780.8 551.6 782.0C553.0 783.2 554.2 784.5 555.5 786.0C556.8 787.5 558.0 788.7 559.3 791.0C560.5 793.3 561.7 796.4 563.0 800.0C564.3 803.6 565.5 809.1 567.0 812.6C568.5 816.1 570.0 818.7 572.0 821.0C574.0 823.3 577.2 826.0 579.2 826.4C581.2 826.8 582.4 824.2 584.0 823.5C585.6 822.8 587.2 821.8 588.9 822.0C590.6 822.2 592.1 823.5 594.0 825.0C595.9 826.5 598.0 829.7 600.0 831.0C602.0 832.3 603.8 832.3 606.0 832.6C608.2 832.9 611.8 832.8 613.0 832.8Z" fill="#cf2a2a" fill-opacity="0.5"/>
<path d="M488.8 832.8C490.7 832.2 496.8 832.3 500.0 829.5C503.2 826.7 505.5 822.2 508.0 816.0C510.5 809.8 512.7 800.0 514.9 792.0C517.1 784.0 518.9 774.1 521.0 768.0C523.1 761.9 525.9 756.8 527.7 755.3C529.5 753.8 530.6 756.5 532.0 759.0C533.4 761.5 534.6 766.7 536.3 770.0C538.0 773.3 540.0 776.5 542.0 779.0C544.0 781.5 546.4 782.3 548.6 785.0C550.8 787.7 553.0 791.7 555.0 795.0C557.0 798.3 558.8 801.7 560.8 805.0C562.8 808.3 565.0 812.2 567.0 815.0C569.0 817.8 570.9 820.0 573.1 821.8C575.3 823.6 577.5 824.9 580.0 826.0C582.5 827.1 585.0 827.8 588.0 828.5C591.0 829.2 595.0 830.2 598.0 830.2C601.0 830.2 603.2 829.0 606.0 828.5C608.8 828.0 612.1 826.8 614.8 827.0C617.5 827.2 619.5 828.9 622.0 829.5C624.5 830.1 627.5 830.7 630.0 830.5C632.5 830.3 634.6 829.1 637.0 828.5C639.4 827.9 642.1 826.9 644.6 827.0C647.1 827.1 649.4 828.2 652.0 829.0C654.6 829.8 656.8 830.9 660.0 831.5C663.2 832.1 669.3 832.6 671.2 832.8" stroke="#2424a8" stroke-width="0.9" fill="none"/>
<path d="M488.8 832.8C490.7 832.4 496.8 832.5 500.0 830.5C503.2 828.5 505.5 825.9 508.0 821.0C510.5 816.1 512.6 808.3 514.9 801.0C517.2 793.7 519.8 783.7 522.0 777.0C524.2 770.3 526.0 764.5 528.0 761.0C530.0 757.5 532.2 755.7 533.9 755.9C535.6 756.1 536.6 759.2 538.0 762.0C539.4 764.8 540.9 770.0 542.4 772.8C543.9 775.5 545.5 777.0 547.0 778.5C548.5 780.0 550.2 780.8 551.6 782.0C553.0 783.2 554.2 784.5 555.5 786.0C556.8 787.5 558.0 788.7 559.3 791.0C560.5 793.3 561.7 796.4 563.0 800.0C564.3 803.6 565.5 809.1 567.0 812.6C568.5 816.1 570.0 818.7 572.0 821.0C574.0 823.3 577.2 826.0 579.2 826.4C581.2 826.8 582.4 824.2 584.0 823.5C585.6 822.8 587.2 821.8 588.9 822.0C590.6 822.2 592.1 823.5 594.0 825.0C595.9 826.5 598.0 829.7 600.0 831.0C602.0 832.3 603.8 832.3 606.0 832.6C608.2 832.9 611.8 832.8 613.0 832.8" stroke="#d42828" stroke-width="0.9" fill="none"/>
<line x1="488.80" y1="832.80" x2="671.20" y2="832.80" stroke="#2424a8" stroke-width="0.8"/>
<line x1="488.80" y1="832.80" x2="613.00" y2="832.80" stroke="#d42828" stroke-width="0.8"/>
<line x1="529.60" y1="807.10" x2="549.00" y2="807.10" stroke="#d42828" stroke-width="0.8"/>
<line x1="540.00" y1="807.10" x2="554.70" y2="807.10" stroke="#2424a8" stroke-width="0.8"/>
<circle cx="539.4" cy="807.1" r="2.3" fill="#d42828"/><circle cx="544" cy="807.1" r="2.3" fill="#1c1cb0"/>
<path d="M525.0 842.9h0M528.6 843.8h0M534.2 846.6h0M563.3 843.8h0M615.1 841.4h0M516.1 855.2h0M523.1 853.0h0M525.6 855.2h0M540.0 856.1h0M549.2 854.3h0M551.6 856.1h0M555.6 858.9h0M557.2 861.3h0M530.2 859.2h0M529.6 862.8h0M519.8 865.3h0M535.4 865.3h0M515.8 872.3h0M523.1 873.9h0M527.7 872.3h0M532.3 873.9h0M545.2 874.5h0M549.2 869.6h0M577.1 874.5h0M645.1 870.2h0M532.6 842.9h0" stroke="#3434b8" stroke-width="3.50" stroke-linecap="round" stroke-opacity="0.62" fill="none"/>
<path d="M513.9 846.6h0M530.2 843.8h0M533.2 848.4h0M549.2 845.4h0M555.3 850.0h0M588.4 854.6h0M537.8 858.2h0M538.8 859.2h0M518.5 870.5h0M531.1 869.9h0M553.8 874.5h0M559.3 872.0h0M523.4 873.6h0M531.7 871.7h0M534.8 864.4h0" stroke="#d83030" stroke-width="3.50" stroke-linecap="round" stroke-opacity="0.62" fill="none"/>
<rect x="525" y="884.3" width="26" height="17.5" fill="#2424b4" fill-opacity="0.45" stroke="#2424a8" stroke-width="0.9"/>
<rect x="530.2" y="884.3" width="21.4" height="17.5" fill="#cf2a2a" fill-opacity="0.45" stroke="#d42828" stroke-width="0.9"/>
<line x1="551.00" y1="893.00" x2="577.10" y2="893.00" stroke="#2424a8" stroke-width="0.8"/>
<line x1="514.20" y1="893.00" x2="525.00" y2="893.00" stroke="#d42828" stroke-width="0.8"/>
<line x1="551.60" y1="893.60" x2="559.30" y2="893.60" stroke="#d42828" stroke-width="0.8"/>
<line x1="531.70" y1="884.30" x2="531.70" y2="901.80" stroke="#2424a8" stroke-width="1.1"/>
<line x1="534.80" y1="884.30" x2="534.80" y2="901.80" stroke="#d42828" stroke-width="1.1"/>
<text x="503.20" y="919.80" font-size="7" text-anchor="middle" fill="#555">0</text>
<text x="543.10" y="919.80" font-size="7" text-anchor="middle" fill="#555">20</text>
<text x="583.00" y="919.80" font-size="7" text-anchor="middle" fill="#555">40</text>
<text x="622.90" y="919.80" font-size="7" text-anchor="middle" fill="#555">60</text>
<text x="662.80" y="919.80" font-size="7" text-anchor="middle" fill="#555">80</text>
<text x="580.20" y="929.00" font-size="8.6" text-anchor="middle" fill="#111" textLength="162.60" lengthAdjust="spacingAndGlyphs">Distance between NBT and paired tumor (cm)</text>
<text x="482.7" y="755.2" font-size="8.8" fill="#111"><tspan font-style="italic">P</tspan>=0.82</text>
<text x="623.70" y="760.20" font-size="9.8" fill="#111">Group</text>
<rect x="623.9" y="766" width="11.4" height="12.3" fill="#9a9ad8" stroke="#2424a8" stroke-width="0.9"/>
<rect x="623.9" y="779.5" width="11.4" height="11.7" fill="#ea9c9c" stroke="#d42828" stroke-width="0.9"/>
<text x="640.80" y="775.40" font-size="7.8" fill="#111">HM</text>
<text x="640.80" y="788.90" font-size="7.8" fill="#111">TSM</text></svg></body></html>
